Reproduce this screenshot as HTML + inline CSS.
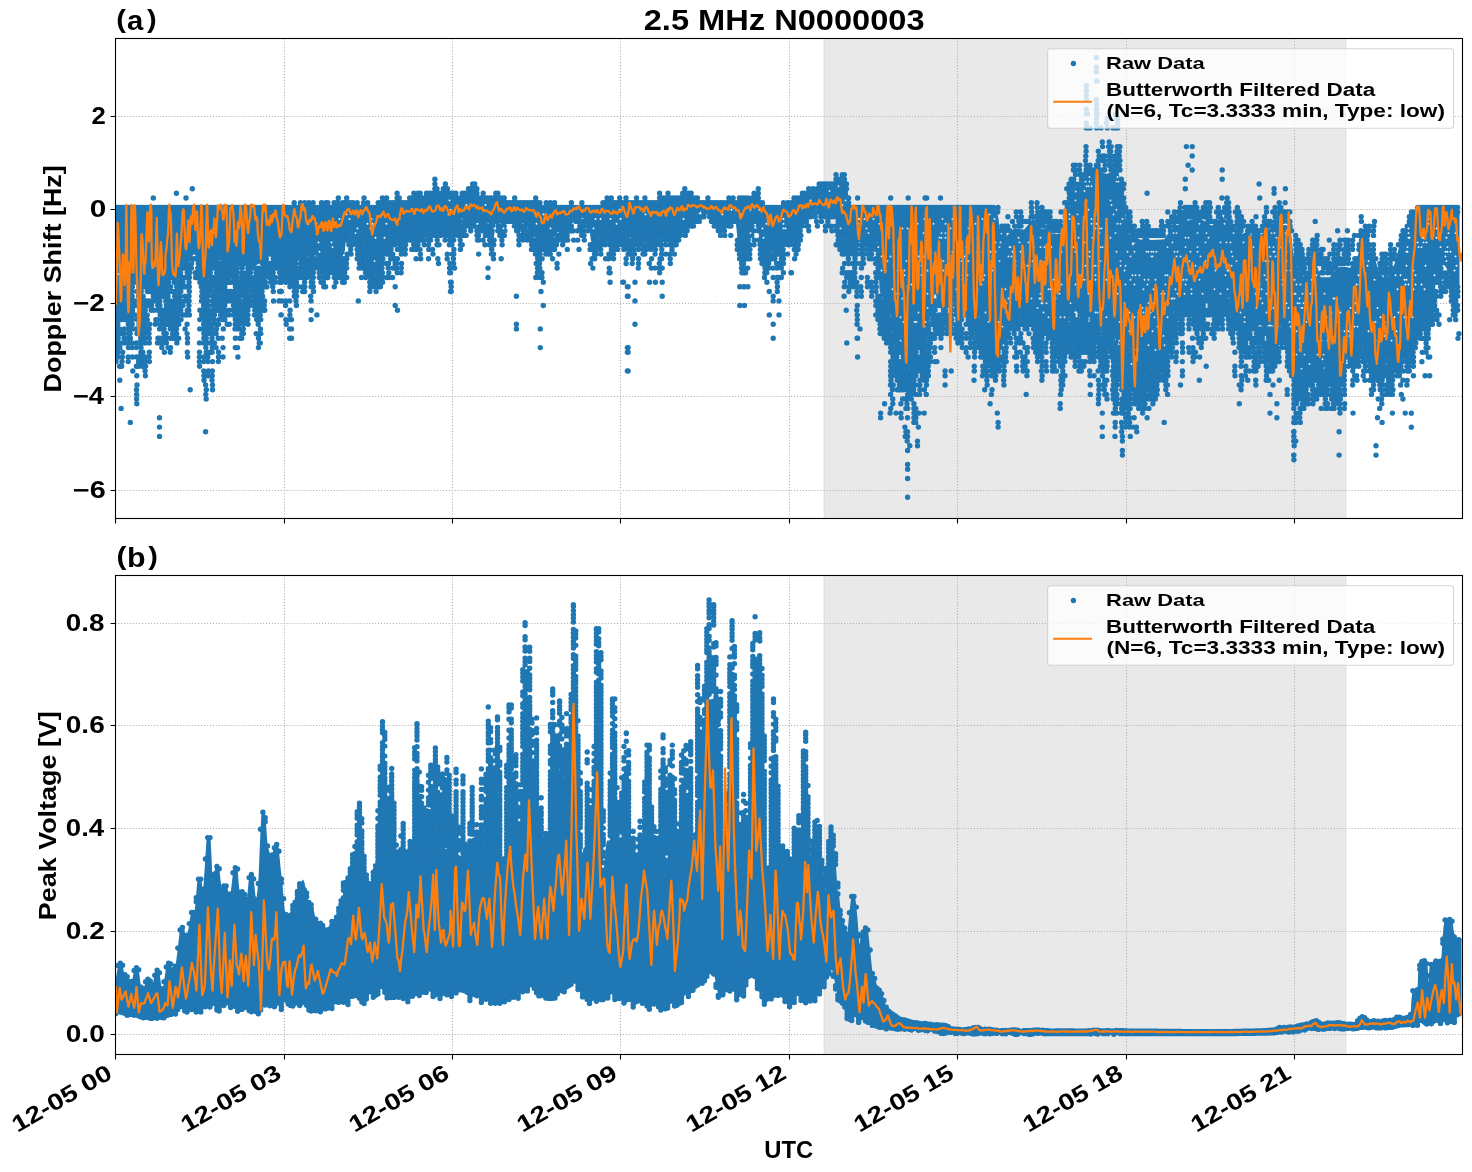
<!DOCTYPE html>
<html><head><meta charset="utf-8"><title>2.5 MHz N0000003</title><style>html,body{margin:0;padding:0;background:#fff}svg{display:block}text{font-family:"Liberation Sans",sans-serif;font-weight:bold;fill:#000}</style></head><body><div style="will-change:transform;width:1472px;height:1172px;overflow:hidden"><svg width="1472" height="1172" viewBox="0 0 1472 1172">
<defs><clipPath id="ct"><rect x="115.5" y="38.5" width="1347.0" height="480.0"/></clipPath><clipPath id="cb"><rect x="115.5" y="575.5" width="1347.0" height="479.0"/></clipPath></defs>
<rect width="1472" height="1172" fill="#fff"/>
<g clip-path="url(#ct)"><rect x="824.2" y="33.5" width="521.5" height="490.0" fill="#d3d3d3" fill-opacity="0.5" stroke="#d3d3d3" stroke-opacity="0.5" stroke-width="1.39"/></g>
<path d="M284.5 38.5V518.5M452.5 38.5V518.5M620.5 38.5V518.5M789.5 38.5V518.5M957.5 38.5V518.5M1126.5 38.5V518.5M1294.5 38.5V518.5M115.5 116.5H1462.5M115.5 209.5H1462.5M115.5 303.5H1462.5M115.5 396.5H1462.5M115.5 490.5H1462.5" stroke="#b0b0b0" stroke-width="1.1" stroke-dasharray="1.1 1.85" fill="none"/>
<g clip-path="url(#ct)">
<path d="M115.5 209.2L116.5 209.2L117.5 209.2L118.5 209.2L119.5 209.2L120.5 209.2L121.5 209.2L122.5 209.2L123.5 209.2L124.5 209.2L125.5 209.2L126.5 209.2L127.5 209.2L128.5 209.2L129.5 209.2L130.5 209.2L131.5 209.2L132.5 209.2L133.5 209.2L134.5 209.2L135.5 209.2L136.5 209.2L137.5 209.2L138.5 209.2L139.5 209.2L140.5 209.2L141.5 209.2L142.5 209.2L143.5 209.2L144.5 209.2L145.5 209.2L146.5 209.2L147.5 209.2L148.5 209.2L149.5 209.2L150.5 209.2L151.5 209.2L152.5 209.2L153.5 209.2L154.5 209.2L155.5 209.2L156.5 209.2L157.5 209.2L158.5 209.2L159.5 209.2L160.5 209.2L161.5 209.2L162.5 209.2L163.5 209.2L164.5 209.2L165.5 209.2L166.5 209.2L167.5 209.2L168.5 209.2L169.5 209.2L170.5 209.2L171.5 209.2L172.5 209.2L173.5 209.2L174.5 209.2L175.5 209.2L176.5 209.2L177.5 209.2L178.5 209.2L179.5 209.2L180.5 209.2L181.5 209.2L182.5 209.2L183.5 209.2L184.5 209.2L185.5 209.2L186.5 209.2L187.5 209.2L188.5 209.2L189.5 209.2L190.5 209.2L191.5 209.2L192.5 209.2L193.5 209.2L194.5 209.2L195.5 209.2L196.5 209.2L197.5 209.2L198.5 209.2L199.5 209.2L200.5 209.2L201.5 209.2L202.5 209.2L203.5 209.2L204.5 209.2L205.5 209.2L206.5 209.2L207.5 209.2L208.5 209.2L209.5 209.2L210.5 209.2L211.5 209.2L212.5 209.2L213.5 209.2L214.5 209.2L215.5 209.2L216.5 209.2L217.5 209.2L218.5 209.2L219.5 209.2L220.5 209.2L221.5 209.2L222.5 209.2L223.5 209.2L224.5 209.2L225.5 209.2L226.5 209.2L227.5 209.2L228.5 209.2L229.5 209.2L230.5 209.2L231.5 209.2L232.5 209.2L233.5 209.2L234.5 209.2L235.5 209.2L236.5 209.2L237.5 209.2L238.5 209.2L239.5 209.2L240.5 209.2L241.5 209.2L242.5 209.2L243.5 209.2L244.5 209.2L245.5 209.2L246.5 209.2L247.5 209.2L248.5 209.2L249.5 209.2L250.5 209.2L251.5 209.2L252.5 209.2L253.5 209.2L254.5 209.2L255.5 209.2L256.5 209.2L257.5 209.2L258.5 209.2L259.5 209.2L260.5 209.2L261.5 209.2L262.5 209.2L263.5 209.2L264.5 209.2L265.5 209.2L266.5 209.2L267.5 209.2L268.5 209.2L269.5 209.2L270.5 209.2L271.5 209.2L272.5 209.2L273.5 209.2L274.5 209.2L275.5 209.2L276.5 209.2L277.5 209.2L278.5 209.2L279.5 209.2L280.5 209.2L281.5 209.2L282.5 209.2L283.5 209.2L284.5 209.2L285.5 209.2L286.5 209.2L287.5 209.2L288.5 209.2L289.5 209.2L290.5 209.2L291.5 209.2L292.5 209.1L293.5 209.1L294.5 209.1L295.5 209.1L296.5 209.1L297.5 209.1L298.5 209L299.5 209L300.5 209L301.5 209L302.5 209L303.5 208.9L304.5 208.9L305.5 208.9L306.5 208.9L307.5 208.9L308.5 208.8L309.5 208.8L310.5 208.8L311.5 208.8L312.5 208.8L313.5 208.7L314.5 208.7L315.5 208.7L316.5 208.7L317.5 208.7L318.5 208.6L319.5 208.6L320.5 208.6L321.5 208.6L322.5 208.6L323.5 208.6L324.5 208.5L325.5 208.5L326.5 208.5L327.5 208.5L328.5 208.5L329.5 208.4L330.5 208.4L331.5 208.4L332.5 208.4L333.5 208.4L334.5 208.3L335.5 208.3L336.5 208.3L337.5 208.3L338.5 208L339.5 207.7L340.5 207.4L341.5 207L342.5 206.7L343.5 206.4L344.5 206.1L345.5 205.8L346.5 205.4L347.5 205.1L348.5 204.8L349.5 204.7L350.5 205.1L351.5 205.5L352.5 205.9L353.5 206.3L354.5 206.7L355.5 207.1L356.5 207.5L357.5 207.9L358.5 208.3L359.5 208.3L360.5 208.4L361.5 208.4L362.5 208.4L363.5 208.5L364.5 208.5L365.5 208.5L366.5 208.6L367.5 208.6L368.5 208.6L369.5 208.7L370.5 208.7L371.5 208.7L372.5 208.6L373.5 208.2L374.5 207.8L375.5 207.4L376.5 206.9L377.5 206.5L378.5 206.1L379.5 205.7L380.5 205.3L381.5 204.9L382.5 204.4L383.5 204L384.5 203.6L385.5 203.2L386.5 203.1L387.5 203.5L388.5 203.8L389.5 204.1L390.5 204.4L391.5 204.8L392.5 205.1L393.5 205.4L394.5 205.7L395.5 205.9L396.5 205.8L397.5 205.6L398.5 205.5L399.5 205.3L400.5 205.2L401.5 205L402.5 204.9L403.5 204.7L404.5 204.6L405.5 204L406.5 203.5L407.5 202.9L408.5 202.4L409.5 201.9L410.5 201.3L411.5 200.8L412.5 200.2L413.5 199.7L414.5 199.2L415.5 198.6L416.5 198.7L417.5 199.3L418.5 199.9L419.5 200.5L420.5 201.1L421.5 201.7L422.5 201.1L423.5 200.2L424.5 199.4L425.5 198.5L426.5 197.6L427.5 196.7L428.5 196.3L429.5 195.9L430.5 195.5L431.5 195.1L432.5 194.5L433.5 193.5L434.5 192.5L435.5 191.5L436.5 192.2L437.5 192.9L438.5 193.7L439.5 194.4L440.5 194.6L441.5 193.6L442.5 192.6L443.5 191.6L444.5 190.6L445.5 191.1L446.5 192.1L447.5 193.1L448.5 194.1L449.5 195.1L450.5 196.1L451.5 196.4L452.5 196.6L453.5 196.9L454.5 197.2L455.5 197.5L456.5 197.8L457.5 198.1L458.5 198.4L459.5 197.8L460.5 197.3L461.5 196.7L462.5 196.1L463.5 195.5L464.5 194.9L465.5 194.4L466.5 193.8L467.5 193.2L468.5 192.7L469.5 192.1L470.5 191.5L471.5 190.9L472.5 191.5L473.5 192.7L474.5 193.9L475.5 195.1L476.5 196.3L477.5 197.5L478.5 197.7L479.5 197.8L480.5 197.9L481.5 198L482.5 198.1L483.5 198.2L484.5 198.3L485.5 198.4L486.5 198.5L487.5 198.6L488.5 198.6L489.5 198.6L490.5 198.6L491.5 198.6L492.5 198.6L493.5 198.6L494.5 198.6L495.5 198.6L496.5 198.6L497.5 198.7L498.5 199.4L499.5 200L500.5 200.7L501.5 201.3L502.5 202L503.5 202.6L504.5 203.2L505.5 203.9L506.5 204.5L507.5 205.2L508.5 205.3L509.5 205.3L510.5 205.3L511.5 205.3L512.5 205.3L513.5 205.4L514.5 205.4L515.5 205.4L516.5 205.4L517.5 205.4L518.5 205.5L519.5 205.4L520.5 205.4L521.5 205.3L522.5 205.3L523.5 205.2L524.5 205.2L525.5 205.1L526.5 205L527.5 205L528.5 204.9L529.5 204.9L530.5 204.8L531.5 204.8L532.5 204.7L533.5 204.6L534.5 204.6L535.5 204.6L536.5 205L537.5 205.4L538.5 205.7L539.5 206.1L540.5 206.4L541.5 206.8L542.5 207.2L543.5 207.5L544.5 207.9L545.5 208.2L546.5 208.6L547.5 208.6L548.5 208.6L549.5 208.5L550.5 208.4L551.5 208.3L552.5 208.2L553.5 208.2L554.5 208.1L555.5 208L556.5 207.9L557.5 207.8L558.5 207.8L559.5 207.7L560.5 207.6L561.5 207.5L562.5 207.4L563.5 207.4L564.5 207.3L565.5 207.2L566.5 207.1L567.5 207L568.5 207L569.5 206.9L570.5 206.9L571.5 206.9L572.5 207L573.5 207L574.5 207.1L575.5 207.1L576.5 207.2L577.5 207.2L578.5 207.3L579.5 207.3L580.5 207.4L581.5 207.4L582.5 207.5L583.5 207.5L584.5 207.6L585.5 207.6L586.5 207.7L587.5 207.7L588.5 207.8L589.5 207.8L590.5 207.8L591.5 207.8L592.5 207.8L593.5 207.8L594.5 207.8L595.5 207.8L596.5 207.8L597.5 207.8L598.5 207.8L599.5 207.8L600.5 207.5L601.5 207.1L602.5 206.7L603.5 206.4L604.5 206L605.5 205.6L606.5 205.2L607.5 204.8L608.5 204.5L609.5 204.1L610.5 203.7L611.5 203.4L612.5 203.3L613.5 203.2L614.5 203L615.5 202.9L616.5 202.8L617.5 202.7L618.5 202.6L619.5 202.5L620.5 202.4L621.5 202.3L622.5 202.4L623.5 202.5L624.5 202.6L625.5 202.8L626.5 202.9L627.5 203L628.5 203.2L629.5 203.7L630.5 203.8L631.5 203.9L632.5 204L633.5 204.1L634.5 204.2L635.5 204.3L636.5 204.4L637.5 204.5L638.5 204.6L639.5 204.7L640.5 204.8L641.5 204.9L642.5 205L643.5 205.1L644.5 205.2L645.5 205.3L646.5 205.4L647.5 205.5L648.5 205.1L649.5 204.7L650.5 204.3L651.5 203.9L652.5 203.5L653.5 203.1L654.5 202.7L655.5 202.3L656.5 202.2L657.5 202.1L658.5 202L659.5 201.9L660.5 201.8L661.5 201.7L662.5 201.6L663.5 201.5L664.5 201.4L665.5 199.3L666.5 195.7L667.5 194L668.5 197.8L669.5 201.6L670.5 201.8L671.5 201.8L672.5 201.8L673.5 201.8L674.5 201.3L675.5 199.9L676.5 198.6L677.5 200L678.5 201.4L679.5 201.8L680.5 201.8L681.5 201.8L682.5 201.6L683.5 200.8L684.5 200L685.5 199.2L686.5 198.4L687.5 197.6L688.5 196.8L689.5 196L690.5 195.5L691.5 196.2L692.5 196.9L693.5 197.7L694.5 198.4L695.5 199.1L696.5 200.1L697.5 201.3L698.5 202.6L699.5 203.8L700.5 205.1L701.5 205.2L702.5 205.1L703.5 205.1L704.5 205L705.5 205L706.5 204.9L707.5 204.9L708.5 204.8L709.5 204.8L710.5 204.7L711.5 204.7L712.5 204.6L713.5 204.6L714.5 204.5L715.5 204.5L716.5 204.4L717.5 204.4L718.5 204.3L719.5 204.3L720.5 204.3L721.5 204.3L722.5 204.3L723.5 204.3L724.5 204.3L725.5 204.3L726.5 204.3L727.5 204.3L728.5 204.3L729.5 204.1L730.5 203.8L731.5 203.6L732.5 203.4L733.5 203.2L734.5 203L735.5 202.7L736.5 202.5L737.5 202.3L738.5 202.1L739.5 201.9L740.5 201.3L741.5 200.6L742.5 199.9L743.5 199.2L744.5 198.6L745.5 199.6L746.5 200.5L747.5 201.5L748.5 202.4L749.5 202.7L750.5 202.1L751.5 201.6L752.5 201.1L753.5 200.5L754.5 200L755.5 199.4L756.5 198.9L757.5 199.1L758.5 200.5L759.5 201.8L760.5 203.2L761.5 204.5L762.5 205.9L763.5 206.5L764.5 206.7L765.5 206.9L766.5 207.1L767.5 207.3L768.5 207.4L769.5 207.6L770.5 207.8L771.5 208L772.5 208.2L773.5 208.4L774.5 208.6L775.5 208.8L776.5 208.9L777.5 209.1L778.5 209.3L779.5 209.5L780.5 209.7L781.5 209.7L782.5 209L783.5 208.3L784.5 207.6L785.5 206.9L786.5 206.2L787.5 205.5L788.5 204.8L789.5 204.1L790.5 203.4L791.5 202.8L792.5 202.1L793.5 201.5L794.5 200.9L795.5 200.3L796.5 199.6L797.5 199L798.5 198.4L799.5 198.1L800.5 197.9L801.5 197.7L802.5 197.4L803.5 197.2L804.5 196.9L805.5 196.7L806.5 196.4L807.5 196.2L808.5 195.9L809.5 195.7L810.5 195.4L811.5 195.2L812.5 194.9L813.5 194.7L814.5 194.4L815.5 193.5L816.5 192.5L817.5 191.5L818.5 190.5L819.5 189.5L820.5 188.5L821.5 187.5L822.5 186.5L823.5 185.5L824.5 185.2L825.5 185.1L826.5 185.1L827.5 185L828.5 185L829.5 185L830.5 184.9L831.5 184.9L832.5 184.3L833.5 183.8L834.5 183.3L835.5 182.8L836.5 182.3L837.5 181.7L838.5 181.2L839.5 181L840.5 181.4L841.5 181.8L842.5 182.2L843.5 182.6L844.5 183L845.5 183.4L846.5 183.8L847.5 189.6L848.5 197.9L849.5 203.6L850.5 207.1L851.5 210.4L852.5 210.4L853.5 210.4L854.5 210.4L855.5 210.4L856.5 210.4L857.5 210.4L858.5 210.4L859.5 210.4L860.5 210.4L861.5 210.4L862.5 210.5L863.5 210.5L864.5 210.5L865.5 210.5L866.5 210.5L867.5 210.5L868.5 210.5L869.5 210.5L870.5 210.5L871.5 210.5L872.5 210.5L873.5 210.5L874.5 210.5L875.5 210.6L876.5 210.6L877.5 210.6L878.5 210.6L879.5 210.6L880.5 210.6L881.5 210.6L882.5 210.6L883.5 210.6L884.5 210.6L885.5 210.6L886.5 210.6L887.5 210.6L888.5 210.7L889.5 210.7L890.5 210.7L891.5 210.7L892.5 210.7L893.5 210.7L894.5 210.7L895.5 210.7L896.5 210.7L897.5 210.7L898.5 210.7L899.5 210.7L900.5 210.7L901.5 210.8L902.5 210.8L903.5 210.8L904.5 210.8L905.5 210.8L906.5 210.8L907.5 210.8L908.5 210.8L909.5 210.8L910.5 210.8L911.5 210.8L912.5 210.8L913.5 210.9L914.5 210.9L915.5 210.9L916.5 210.9L917.5 210.9L918.5 210.9L919.5 210.9L920.5 210.9L921.5 210.9L922.5 210.9L923.5 210.9L924.5 210.9L925.5 210.9L926.5 211L927.5 211L928.5 211L929.5 211L930.5 211L931.5 211L932.5 211L933.5 211L934.5 211L935.5 211L936.5 211L937.5 211L938.5 211L939.5 211.1L940.5 211.1L941.5 211.1L942.5 211.1L943.5 211.1L944.5 211.1L945.5 211.1L946.5 211.1L947.5 211.1L948.5 211.1L949.5 211.1L950.5 211.1L951.5 211.1L952.5 211.2L953.5 211.2L954.5 211.2L955.5 211.2L956.5 211.2L957.5 211.2L958.5 211.2L959.5 211.2L960.5 211.2L961.5 211.2L962.5 211.2L963.5 211.2L964.5 211.2L965.5 211.3L966.5 211.3L967.5 211.3L968.5 211.3L969.5 211.3L970.5 211L971.5 210.4L972.5 210.1L973.5 210.1L974.5 210.1L975.5 210.1L976.5 210.1L977.5 210.1L978.5 210.1L979.5 210.1L980.5 210.1L981.5 210.1L982.5 210.1L983.5 210.1L984.5 210.1L985.5 210.1L986.5 210.1L987.5 210.1L988.5 210.1L989.5 210.1L990.5 210.1L991.5 210.1L992.5 210.1L993.5 210.1L994.5 210.1L995.5 210.9L996.5 212.5L997.5 214.1L998.5 218.8L999.5 228L1000.5 233.9L1001.5 234.8L1002.5 235.7L1003.5 236.7L1004.5 237.6L1005.5 237.5L1006.5 236.4L1007.5 235.3L1008.5 234.3L1009.5 233.2L1010.5 232.1L1011.5 231L1012.5 230L1013.5 228.9L1014.5 228.3L1015.5 228.4L1016.5 228.6L1017.5 228.7L1018.5 228.9L1019.5 229L1020.5 229.2L1021.5 229.3L1022.5 229.4L1023.5 229.6L1024.5 229.3L1025.5 228L1026.5 226.8L1027.5 225.5L1028.5 224.3L1029.5 223L1030.5 221.8L1031.5 220.5L1032.5 219.3L1033.5 218.4L1034.5 219.8L1035.5 221.3L1036.5 222.7L1037.5 224.1L1038.5 225.6L1039.5 227L1040.5 228.2L1041.5 228.6L1042.5 229.1L1043.5 229.6L1044.5 230.1L1045.5 230.5L1046.5 231L1047.5 231.5L1048.5 232L1049.5 232.5L1050.5 232.9L1051.5 233.4L1052.5 233.8L1053.5 233.8L1054.5 233.9L1055.5 233.9L1056.5 234L1057.5 234L1058.5 234.1L1059.5 234.1L1060.5 233.5L1061.5 230.3L1062.5 227.1L1063.5 224L1064.5 220.8L1065.5 217.6L1066.5 214.5L1067.5 211.5L1068.5 208.4L1069.5 205.4L1070.5 202.4L1071.5 199.3L1072.5 196.5L1073.5 195.3L1074.5 194.1L1075.5 192.9L1076.5 191.7L1077.5 190.5L1078.5 189.3L1079.5 188.1L1080.5 186.6L1081.5 184.1L1082.5 181.6L1083.5 179L1084.5 176.5L1085.5 174L1086.5 171.9L1087.5 171.9L1088.5 171.9L1089.5 171.9L1090.5 171.9L1091.5 171.9L1092.5 171.9L1093.5 171.9L1094.5 171.9L1095.5 171.9L1096.5 171.9L1097.5 171.9L1098.5 171.9L1099.5 171.9L1100.5 172L1101.5 172.3L1102.5 172.6L1103.5 173L1104.5 173.3L1105.5 173.6L1106.5 173.9L1107.5 173.5L1108.5 173.2L1109.5 172.9L1110.5 172.5L1111.5 172.2L1112.5 171.9L1113.5 171.5L1114.5 171.2L1115.5 170.9L1116.5 170.5L1117.5 170.2L1118.5 170.8L1119.5 178.1L1120.5 185.5L1121.5 192.8L1122.5 199.5L1123.5 205.4L1124.5 211.4L1125.5 217.3L1126.5 223.1L1127.5 226.9L1128.5 230.7L1129.5 234.5L1130.5 238.3L1131.5 242.1L1132.5 246L1133.5 244.8L1134.5 243.7L1135.5 242.5L1136.5 241.3L1137.5 240.1L1138.5 239L1139.5 239.3L1140.5 239.5L1141.5 239.7L1142.5 240L1143.5 240.2L1144.5 240.2L1145.5 240.2L1146.5 240.2L1147.5 240.1L1148.5 240.1L1149.5 240L1150.5 240L1151.5 240L1152.5 239.9L1153.5 239.9L1154.5 239.9L1155.5 239.8L1156.5 239.8L1157.5 239.7L1158.5 239.7L1159.5 239.7L1160.5 239.6L1161.5 239.6L1162.5 239.6L1163.5 239.5L1164.5 239L1165.5 237.5L1166.5 236L1167.5 234.5L1168.5 233L1169.5 231.5L1170.5 230.1L1171.5 229L1172.5 228.3L1173.5 227.7L1174.5 227L1175.5 226.4L1176.5 225.7L1177.5 225.1L1178.5 224.4L1179.5 223.8L1180.5 223.1L1181.5 222.6L1182.5 222.2L1183.5 221.9L1184.5 221.6L1185.5 221.3L1186.5 221L1187.5 220.7L1188.5 220.4L1189.5 220.1L1190.5 219.8L1191.5 219.5L1192.5 219.2L1193.5 218.9L1194.5 218.6L1195.5 218.2L1196.5 217.9L1197.5 217.6L1198.5 217.5L1199.5 218.1L1200.5 218.7L1201.5 219.3L1202.5 220L1203.5 220.6L1204.5 221.2L1205.5 221.8L1206.5 222.4L1207.5 223L1208.5 223.6L1209.5 224.2L1210.5 224.9L1211.5 225.5L1212.5 225.3L1213.5 224.3L1214.5 223.4L1215.5 222.5L1216.5 221.6L1217.5 220.7L1218.5 219.7L1219.5 218.8L1220.5 217.9L1221.5 217L1222.5 216.6L1223.5 217.5L1224.5 218.5L1225.5 219.4L1226.5 220.4L1227.5 221.3L1228.5 222.3L1229.5 223.2L1230.5 224.2L1231.5 225.1L1232.5 226L1233.5 226.8L1234.5 227.6L1235.5 228.3L1236.5 229.1L1237.5 229.9L1238.5 230.6L1239.5 231.4L1240.5 232.1L1241.5 232.9L1242.5 233.7L1243.5 234.4L1244.5 235.2L1245.5 236L1246.5 236.4L1247.5 236.5L1248.5 236.5L1249.5 236.5L1250.5 236.5L1251.5 236.5L1252.5 236.5L1253.5 236.5L1254.5 236.5L1255.5 236.6L1256.5 236.6L1257.5 236.6L1258.5 236.3L1259.5 235.7L1260.5 235L1261.5 234.3L1262.5 233.7L1263.5 233L1264.5 232.4L1265.5 231.7L1266.5 231.1L1267.5 230.4L1268.5 229.8L1269.5 229.1L1270.5 228.5L1271.5 227.8L1272.5 227.2L1273.5 226.5L1274.5 226.4L1275.5 226.3L1276.5 226.1L1277.5 226L1278.5 225.9L1279.5 225.7L1280.5 225.6L1281.5 225.5L1282.5 225.4L1283.5 225.2L1284.5 225.1L1285.5 225L1286.5 225.5L1287.5 226L1288.5 226.5L1289.5 226.9L1290.5 227.8L1291.5 237.3L1292.5 246.9L1293.5 256.5L1294.5 261.6L1295.5 263.4L1296.5 265.2L1297.5 267L1298.5 268.8L1299.5 270.7L1300.5 272.3L1301.5 273.5L1302.5 274.7L1303.5 275.9L1304.5 277L1305.5 278.2L1306.5 279.4L1307.5 280.6L1308.5 277.8L1309.5 274.6L1310.5 271.4L1311.5 268.3L1312.5 265.1L1313.5 261.9L1314.5 258.7L1315.5 261.3L1316.5 264.4L1317.5 267.5L1318.5 270.6L1319.5 273.7L1320.5 276.7L1321.5 277.4L1322.5 277.3L1323.5 277.3L1324.5 277.3L1325.5 277.3L1326.5 277.3L1327.5 277.2L1328.5 277.2L1329.5 277.2L1330.5 276.4L1331.5 275.1L1332.5 273.8L1333.5 272.5L1334.5 271.2L1335.5 269.9L1336.5 268.6L1337.5 267.3L1338.5 267.2L1339.5 267.2L1340.5 267.1L1341.5 267.1L1342.5 267.1L1343.5 267.1L1344.5 267L1345.5 267L1346.5 267L1347.5 267.2L1348.5 267.5L1349.5 267.8L1350.5 268.1L1351.5 268.4L1352.5 268.7L1353.5 269L1354.5 269.3L1355.5 265L1356.5 260.8L1357.5 256.6L1358.5 252.4L1359.5 248.2L1360.5 243.9L1361.5 243L1362.5 242.7L1363.5 242.3L1364.5 242L1365.5 242.5L1366.5 245.4L1367.5 248.4L1368.5 251.4L1369.5 254.4L1370.5 255.6L1371.5 255.9L1372.5 256.3L1373.5 256.6L1374.5 257L1375.5 260.5L1376.5 264L1377.5 267.5L1378.5 271.1L1379.5 273.5L1380.5 274.5L1381.5 275.4L1382.5 276.4L1383.5 277.4L1384.5 278.4L1385.5 278.8L1386.5 277.9L1387.5 276.9L1388.5 276L1389.5 275.1L1390.5 274.2L1391.5 273.3L1392.5 271L1393.5 267.4L1394.5 263.8L1395.5 260.1L1396.5 256.5L1397.5 252.9L1398.5 249.2L1399.5 245.6L1400.5 242L1401.5 237.7L1402.5 234.8L1403.5 233.3L1404.5 231.8L1405.5 230.3L1406.5 228.8L1407.5 226.1L1408.5 223.1L1409.5 220.1L1410.5 217.1L1411.5 214.5L1412.5 213.8L1413.5 213.1L1414.5 212.3L1415.5 211.6L1416.5 211.3L1417.5 211.3L1418.5 211.3L1419.5 211.3L1420.5 211.3L1421.5 211.3L1422.5 211.3L1423.5 211.3L1424.5 211.3L1425.5 211.3L1426.5 211.3L1427.5 211.3L1428.5 211.3L1429.5 211.3L1430.5 211.3L1431.5 211.3L1432.5 211.3L1433.5 211.3L1434.5 211.3L1435.5 211.3L1436.5 211.3L1437.5 211.3L1438.5 211.3L1439.5 211.3L1440.5 211.3L1441.5 211.3L1442.5 211.3L1443.5 211.3L1444.5 211.3L1445.5 211.3L1446.5 211.3L1447.5 211.3L1448.5 211.3L1449.5 211.3L1450.5 211.3L1451.5 211.3L1452.5 211.3L1453.5 211.3L1454.5 211.3L1455.5 211.3L1456.5 211.3L1457.5 211.3L1458.5 211.3L1459.5 211.3L1459.5 286L1458.5 285.9L1457.5 286.3L1456.5 287.1L1455.5 287.9L1454.5 288.2L1453.5 287.9L1452.5 286.2L1451.5 281.6L1450.5 277.3L1449.5 273.8L1448.5 272.8L1447.5 270.8L1446.5 268.4L1445.5 266.4L1444.5 265.4L1443.5 265.2L1442.5 265.5L1441.5 266L1440.5 266.7L1439.5 267.4L1438.5 268.3L1437.5 269.4L1436.5 277.4L1435.5 285.5L1434.5 293L1433.5 294.1L1432.5 294L1431.5 294.1L1430.5 295L1429.5 296.6L1428.5 298.6L1427.5 300.5L1426.5 301.7L1425.5 301.7L1424.5 300.6L1423.5 299.6L1422.5 299.5L1421.5 300.2L1420.5 301.2L1419.5 304.5L1418.5 307.3L1417.5 310.2L1416.5 313.1L1415.5 317L1414.5 322.1L1413.5 327L1412.5 330.6L1411.5 331.2L1410.5 332.9L1409.5 334.7L1408.5 336L1407.5 337.2L1406.5 338.4L1405.5 339.2L1404.5 339.6L1403.5 339.6L1402.5 339.5L1401.5 340.1L1400.5 341.5L1399.5 343L1398.5 344.4L1397.5 345.6L1396.5 346.7L1395.5 349L1394.5 352.8L1393.5 357L1392.5 361.2L1391.5 364.5L1390.5 364.9L1389.5 364.2L1388.5 362.8L1387.5 361.1L1386.5 359.8L1385.5 359.5L1384.5 360.4L1383.5 362.3L1382.5 364.5L1381.5 366L1380.5 366.5L1379.5 366L1378.5 364.4L1377.5 362.4L1376.5 360.8L1375.5 360L1374.5 360L1373.5 360.9L1372.5 361.3L1371.5 361.3L1370.5 354.7L1369.5 347.4L1368.5 340L1367.5 338.4L1366.5 337.6L1365.5 336.2L1364.5 335.1L1363.5 334.2L1362.5 333.5L1361.5 333L1360.5 332.9L1359.5 333.9L1358.5 335.2L1357.5 336.5L1356.5 337.6L1355.5 338.7L1354.5 339.9L1353.5 340.2L1352.5 340.5L1351.5 340.7L1350.5 340.6L1349.5 340.2L1348.5 339.3L1347.5 338L1346.5 339.5L1345.5 347.7L1344.5 357.1L1343.5 365.4L1342.5 367.3L1341.5 368.7L1340.5 369.1L1339.5 368.7L1338.5 367.8L1337.5 366.7L1336.5 366.2L1335.5 365.9L1334.5 365.7L1333.5 365.6L1332.5 365.8L1331.5 366.8L1330.5 368.6L1329.5 370.5L1328.5 371.6L1327.5 371.7L1326.5 370.8L1325.5 369.2L1324.5 367.3L1323.5 365.8L1322.5 365.1L1321.5 365L1320.5 365.1L1319.5 365.1L1318.5 364.8L1317.5 364.2L1316.5 363.2L1315.5 362L1314.5 361.3L1313.5 362.5L1312.5 364.9L1311.5 368L1310.5 370.8L1309.5 372.6L1308.5 373.3L1307.5 373.7L1306.5 373.5L1305.5 373.9L1304.5 374.7L1303.5 375.2L1302.5 374.8L1301.5 373.5L1300.5 372L1299.5 370.5L1298.5 369.8L1297.5 369.9L1296.5 370.3L1295.5 370.9L1294.5 371.6L1293.5 371.7L1292.5 362.4L1291.5 350.2L1290.5 337.6L1289.5 337.2L1288.5 336.3L1287.5 335.1L1286.5 333.8L1285.5 332.4L1284.5 330.8L1283.5 329L1282.5 327.5L1281.5 326.6L1280.5 326.3L1279.5 326.6L1278.5 327L1277.5 327.1L1276.5 327.1L1275.5 326.8L1274.5 326.4L1273.5 325.9L1272.5 325.5L1271.5 325L1270.5 324.7L1269.5 324.6L1268.5 325.1L1267.5 326L1266.5 326.7L1265.5 327L1264.5 326.9L1263.5 326.7L1262.5 326.4L1261.5 325.8L1260.5 325.2L1259.5 325L1258.5 325.7L1257.5 327L1256.5 328.3L1255.5 329L1254.5 329.2L1253.5 329.4L1252.5 329.6L1251.5 329.6L1250.5 329L1249.5 327.7L1248.5 326.3L1247.5 325.5L1246.5 325.5L1245.5 325.7L1244.5 326.2L1243.5 327L1242.5 327.8L1241.5 328.1L1240.5 327.6L1239.5 326L1238.5 322.9L1237.5 319.2L1236.5 315.5L1235.5 312.1L1234.5 309.1L1233.5 306.3L1232.5 303.2L1231.5 301.3L1230.5 299.3L1229.5 298L1228.5 297.9L1227.5 298.8L1226.5 299.8L1225.5 300.4L1224.5 300.3L1223.5 300L1222.5 299.8L1221.5 300.4L1220.5 301.4L1219.5 302.3L1218.5 302.7L1217.5 302.9L1216.5 303.1L1215.5 303.6L1214.5 304.3L1213.5 305.1L1212.5 305.7L1211.5 305.6L1210.5 304.7L1209.5 303.2L1208.5 301.7L1207.5 300.5L1206.5 300L1205.5 300.1L1204.5 300.5L1203.5 300.8L1202.5 300.8L1201.5 300.8L1200.5 301.2L1199.5 302.2L1198.5 303.7L1197.5 305.1L1196.5 305.9L1195.5 306.2L1194.5 306.3L1193.5 306.3L1192.5 306L1191.5 305.1L1190.5 303.8L1189.5 302.4L1188.5 301.4L1187.5 300.7L1186.5 300.3L1185.5 300L1184.5 299.9L1183.5 300.7L1182.5 302L1181.5 303.7L1180.5 305.5L1179.5 306.8L1178.5 307.3L1177.5 307.3L1176.5 307.1L1175.5 308L1174.5 310.1L1173.5 312.7L1172.5 315.6L1171.5 318.6L1170.5 322.1L1169.5 326L1168.5 333.4L1167.5 341.7L1166.5 349.8L1165.5 355.1L1164.5 355.7L1163.5 355L1162.5 353.3L1161.5 351.3L1160.5 349.6L1159.5 348.8L1158.5 349.3L1157.5 350.9L1156.5 353.1L1155.5 354.9L1154.5 356L1153.5 356.3L1152.5 356.2L1151.5 356.2L1150.5 356.4L1149.5 357.3L1148.5 358.7L1147.5 360.3L1146.5 360.9L1145.5 360.3L1144.5 359.2L1143.5 358.4L1142.5 358.7L1141.5 359.6L1140.5 360.6L1139.5 361.7L1138.5 362.9L1137.5 364.5L1136.5 365.9L1135.5 366.8L1134.5 367.3L1133.5 367.6L1132.5 368.4L1131.5 368.5L1130.5 368.8L1129.5 368.7L1128.5 367.9L1127.5 365.8L1126.5 363.5L1125.5 360.9L1124.5 358.8L1123.5 357L1122.5 355L1121.5 352.1L1120.5 348.5L1119.5 344.7L1118.5 341.7L1117.5 341.5L1116.5 342.5L1115.5 339.3L1114.5 335.1L1113.5 330.2L1112.5 324.8L1111.5 323.3L1110.5 322.6L1109.5 322.4L1108.5 323L1107.5 324.1L1106.5 325.3L1105.5 326.2L1104.5 326.7L1103.5 327.2L1102.5 328.1L1101.5 329.3L1100.5 330.2L1099.5 330.4L1098.5 329.6L1097.5 326.1L1096.5 322.1L1095.5 318.3L1094.5 315L1093.5 312L1092.5 309.2L1091.5 308.6L1090.5 308.4L1089.5 308.3L1088.5 308.4L1087.5 309L1086.5 309.7L1085.5 311L1084.5 312.2L1083.5 313.1L1082.5 314L1081.5 314.8L1080.5 315.4L1079.5 315.2L1078.5 314.2L1077.5 312.8L1076.5 311.6L1075.5 311.2L1074.5 311.7L1073.5 312.8L1072.5 314L1071.5 315.4L1070.5 316.4L1069.5 317.1L1068.5 317.8L1067.5 318.9L1066.5 320.6L1065.5 322.5L1064.5 324.3L1063.5 325.8L1062.5 326.9L1061.5 327.6L1060.5 327.9L1059.5 327.1L1058.5 326.5L1057.5 326.8L1056.5 327.8L1055.5 328.7L1054.5 329.1L1053.5 329.3L1052.5 329.7L1051.5 330.1L1050.5 330.4L1049.5 330L1048.5 329.1L1047.5 327.8L1046.5 326.1L1045.5 324.6L1044.5 323.3L1043.5 322.4L1042.5 321.8L1041.5 321.5L1040.5 321.4L1039.5 321.4L1038.5 321.5L1037.5 321.6L1036.5 321.8L1035.5 321.8L1034.5 321.7L1033.5 318.1L1032.5 313.3L1031.5 308.2L1030.5 303.3L1029.5 298.9L1028.5 294.8L1027.5 294.3L1026.5 295.7L1025.5 297.2L1024.5 298.7L1023.5 299.8L1022.5 300.7L1021.5 301.8L1020.5 303.2L1019.5 304.8L1018.5 306.2L1017.5 307.1L1016.5 307.4L1015.5 307.4L1014.5 307.7L1013.5 309L1012.5 311L1011.5 313.3L1010.5 315.3L1009.5 316.9L1008.5 318.6L1007.5 324.2L1006.5 332.3L1005.5 340L1004.5 347.3L1003.5 349.6L1002.5 349L1001.5 348.6L1000.5 348.6L999.5 347.6L998.5 346L997.5 345.1L996.5 344L995.5 341.6L994.5 338.8L993.5 336.5L992.5 335L991.5 334.2L990.5 333.8L989.5 333.4L988.5 332.9L987.5 332.3L986.5 331.7L985.5 331.3L984.5 331.3L983.5 329.7L982.5 326.8L981.5 323.8L980.5 320.7L979.5 317.4L978.5 314.1L977.5 311.9L976.5 310.7L975.5 309.6L974.5 308.5L973.5 307L972.5 305L971.5 302L970.5 298.7L969.5 297L968.5 297L967.5 296.7L966.5 295.8L965.5 294.6L964.5 293.6L963.5 293.5L962.5 294.3L961.5 295.5L960.5 296.7L959.5 297.7L958.5 298.7L957.5 299.6L956.5 300L955.5 299.9L954.5 299.4L953.5 299.3L952.5 299.6L951.5 299.9L950.5 299.7L949.5 298.8L948.5 297.6L947.5 296.7L946.5 296.6L945.5 297.1L944.5 297.9L943.5 298.7L942.5 299L941.5 298.7L940.5 297.9L939.5 297.1L938.5 296.6L937.5 296.1L936.5 295.3L935.5 294.6L934.5 294.2L933.5 298.6L932.5 304.3L931.5 310.1L930.5 315.9L929.5 321.5L928.5 326.9L927.5 332.4L926.5 338L925.5 344.1L924.5 347.3L923.5 348.4L922.5 348.5L921.5 347.7L920.5 346.4L919.5 345.3L918.5 344.4L917.5 343.7L916.5 342.9L915.5 342.1L914.5 341.5L913.5 341.3L912.5 341.9L911.5 342.9L910.5 343.7L909.5 343.8L908.5 343.4L907.5 342.9L906.5 342.7L905.5 343.2L904.5 344.2L903.5 345.4L902.5 346.4L901.5 346.9L900.5 346.6L899.5 344.1L898.5 341.3L897.5 338.3L896.5 335.1L895.5 331.7L894.5 328.5L893.5 325.6L892.5 322.3L891.5 318L890.5 313.9L889.5 310.4L888.5 307.7L887.5 307.5L886.5 307.5L885.5 306.4L884.5 303.9L883.5 300.8L882.5 297.7L881.5 295.4L880.5 294.1L879.5 289L878.5 263.3L877.5 238.3L876.5 239.3L875.5 240.2L874.5 241L873.5 241.7L872.5 241.8L871.5 241L870.5 239.8L869.5 238.9L868.5 238.8L867.5 239.4L866.5 240.3L865.5 241.2L864.5 242.1L863.5 242.9L862.5 243.2L861.5 243.1L860.5 242.5L859.5 241.9L858.5 241.7L857.5 241.9L856.5 242.5L855.5 243.1L854.5 243.3L853.5 243L852.5 242L851.5 241L850.5 239.2L849.5 238L848.5 236.6L847.5 234.9L846.5 234L845.5 234.6L844.5 235.3L843.5 236.2L842.5 237.2L841.5 237.9L840.5 236.7L839.5 230.3L838.5 223.1L837.5 216L836.5 210L835.5 207.7L834.5 207.9L833.5 208.2L832.5 208.2L831.5 207.7L830.5 206.8L829.5 205.9L828.5 205.3L827.5 204.8L826.5 204.4L825.5 204.2L824.5 204.7L823.5 206.5L822.5 209.4L821.5 212L820.5 213.2L819.5 212.9L818.5 211.5L817.5 210L816.5 209.2L815.5 209.3L814.5 209.8L813.5 210.3L812.5 210.8L811.5 211.7L810.5 212.8L809.5 214L808.5 214.8L807.5 215.1L806.5 215.3L805.5 216.1L804.5 217.8L803.5 219.8L802.5 221.3L801.5 225.9L800.5 230.7L799.5 235.3L798.5 239.6L797.5 239.4L796.5 239.5L795.5 239.9L794.5 240.5L793.5 241L792.5 241.2L791.5 240.8L790.5 239.5L789.5 237.6L788.5 235.7L787.5 234.7L786.5 234.5L785.5 234.8L784.5 236.2L783.5 240.7L782.5 245L781.5 249.1L780.5 249.5L779.5 249L778.5 248.9L777.5 249.2L776.5 249.5L775.5 249.5L774.5 249L773.5 247.9L772.5 246.6L771.5 245.1L770.5 243.9L769.5 243.4L768.5 243.7L767.5 244.5L766.5 245.4L765.5 246.3L764.5 247.4L763.5 248.6L762.5 249.8L761.5 250.6L760.5 250.9L759.5 243.7L758.5 230.9L757.5 220.8L756.5 219.1L755.5 218.1L754.5 217.6L753.5 217.4L752.5 217.5L751.5 230.1L750.5 242.7L749.5 246.3L748.5 245.5L747.5 244.8L746.5 244.7L745.5 244.9L744.5 245.1L743.5 245.4L742.5 245.3L741.5 245L740.5 244.2L739.5 242.9L738.5 241.3L737.5 239.9L736.5 229.2L735.5 219.2L734.5 217L733.5 218.1L732.5 218.8L731.5 219.1L730.5 219.3L729.5 219.9L728.5 220.7L727.5 221.5L726.5 221.8L725.5 224.3L724.5 229.2L723.5 233.2L722.5 232.7L721.5 231.7L720.5 230.4L719.5 229L718.5 228.1L717.5 227.8L716.5 227.7L715.5 227.3L714.5 226.1L713.5 223.8L712.5 220.7L711.5 217.4L710.5 214.8L709.5 213.3L708.5 212.5L707.5 211.8L706.5 212.4L705.5 212.1L704.5 211.2L703.5 210.3L702.5 210.1L701.5 210.7L700.5 211.8L699.5 212.8L698.5 213.9L697.5 214.4L696.5 214.4L695.5 214.4L694.5 214.9L693.5 216.1L692.5 217.7L691.5 219.3L690.5 220.4L689.5 221.1L688.5 222.3L687.5 223.9L686.5 225.8L685.5 227.9L684.5 229.9L683.5 229.9L682.5 229.4L681.5 229L680.5 229.2L679.5 230.6L678.5 232.6L677.5 234.2L676.5 234.7L675.5 234.8L674.5 233.9L673.5 232.4L672.5 230.6L671.5 229.1L670.5 228.3L669.5 228.3L668.5 228.2L667.5 228.6L666.5 230.7L665.5 233.3L664.5 235.3L663.5 236.4L662.5 236.7L661.5 236.3L660.5 235.8L659.5 235.6L658.5 235.8L657.5 235.9L656.5 235.9L655.5 236L654.5 236.3L653.5 236.5L652.5 236.4L651.5 236.1L650.5 235.8L649.5 235.8L648.5 236.1L647.5 236.4L646.5 236.4L645.5 236.2L644.5 235.8L643.5 235.4L642.5 235.1L641.5 235L640.5 235.1L639.5 235.5L638.5 235.9L637.5 236.2L636.5 236L635.5 235.3L634.5 234.6L633.5 234.1L632.5 234.1L631.5 234.5L630.5 235.1L629.5 235.8L628.5 235.5L627.5 235.4L626.5 235L625.5 234.4L624.5 233.9L623.5 233.9L622.5 234.2L621.5 234.5L620.5 234.4L619.5 233.8L618.5 232.9L617.5 232L616.5 231.4L615.5 231.3L614.5 231.8L613.5 232.9L612.5 234.2L611.5 235.1L610.5 235L609.5 233.9L608.5 232.4L607.5 231.1L606.5 230.4L605.5 229.8L604.5 229.2L603.5 228.5L602.5 228.3L601.5 228.9L600.5 230.2L599.5 231.1L598.5 231L597.5 230L596.5 234.4L595.5 239.6L594.5 244.1L593.5 243.9L592.5 243.4L591.5 242.7L590.5 238L589.5 229.7L588.5 221.5L587.5 219.6L586.5 219.9L585.5 220.1L584.5 219.6L583.5 218.7L582.5 218L581.5 218.4L580.5 219.8L579.5 221.4L578.5 222.4L577.5 222.8L576.5 222.6L575.5 222.1L574.5 221.4L573.5 222.2L572.5 223.1L571.5 224.5L570.5 226.6L569.5 228.8L568.5 229.7L567.5 230.2L566.5 230.3L565.5 230.1L564.5 229.8L563.5 229.4L562.5 229.3L561.5 229.7L560.5 230.5L559.5 231.2L558.5 231.5L557.5 232.2L556.5 233.3L555.5 234.7L554.5 236.5L553.5 238.6L552.5 240.7L551.5 242.7L550.5 242.9L549.5 242.7L548.5 242.5L547.5 242.6L546.5 242.8L545.5 242.7L544.5 242.3L543.5 241.9L542.5 241.6L541.5 241.6L540.5 241.8L539.5 241.7L538.5 241.1L537.5 240L536.5 238.8L535.5 237.7L534.5 237.2L533.5 237L532.5 236.2L531.5 234.4L530.5 232.3L529.5 230.4L528.5 228.9L527.5 227.8L526.5 226.7L525.5 225.6L524.5 224.4L523.5 223.4L522.5 222.9L521.5 227.1L520.5 231L519.5 234.4L518.5 233.1L517.5 229.2L516.5 225.8L515.5 223.2L514.5 221.4L513.5 222.9L512.5 223.6L511.5 223.5L510.5 222.8L509.5 222.3L508.5 222.5L507.5 222.9L506.5 222.8L505.5 222L504.5 226.9L503.5 233.2L502.5 224.6L501.5 218.6L500.5 218.6L499.5 219L498.5 219.4L497.5 219.4L496.5 218.9L495.5 223.7L494.5 232.7L493.5 239.7L492.5 240.2L491.5 240.6L490.5 240.4L489.5 231.6L488.5 223L487.5 222.3L486.5 222.4L485.5 223.2L484.5 224.3L483.5 225.5L482.5 226.5L481.5 227L480.5 226.8L479.5 228.2L478.5 232.2L477.5 229.6L476.5 223L475.5 221.8L474.5 221.2L473.5 221.3L472.5 221.9L471.5 222.9L470.5 223.4L469.5 222.7L468.5 221L467.5 219.4L466.5 218.5L465.5 218.5L464.5 218.4L463.5 218.1L462.5 218.3L461.5 218.7L460.5 220.1L459.5 222.6L458.5 225.7L457.5 227.8L456.5 229L455.5 229.1L454.5 228.5L453.5 227.6L452.5 227L451.5 226.8L450.5 226.7L449.5 226.4L448.5 225.9L447.5 225.2L446.5 224.6L445.5 224.7L444.5 225.5L443.5 226.8L442.5 227.4L441.5 227.4L440.5 227.3L439.5 227.7L438.5 228.9L437.5 230.4L436.5 231.4L435.5 231.7L434.5 231.7L433.5 231L432.5 229.8L431.5 228.3L430.5 227L429.5 226.4L428.5 226.5L427.5 227.4L426.5 228.9L425.5 230.5L424.5 231.5L423.5 231.6L422.5 231.2L421.5 230.8L420.5 230.6L419.5 231L418.5 231.6L417.5 232L416.5 231.9L415.5 231.2L414.5 230.3L413.5 229.3L412.5 228.7L411.5 228.6L410.5 229.1L409.5 230L408.5 231.7L407.5 233.7L406.5 235.4L405.5 236.8L404.5 238.4L403.5 239.2L402.5 240.3L401.5 241.2L400.5 241.6L399.5 241.6L398.5 241.6L397.5 242.2L396.5 243L395.5 243.4L394.5 243.2L393.5 242.8L392.5 242.6L391.5 243.1L390.5 244L389.5 245L388.5 245.4L387.5 245L386.5 243.9L385.5 242.7L384.5 242.4L383.5 244.5L382.5 252.9L381.5 261.2L380.5 268.8L379.5 270.3L378.5 269.3L377.5 268.3L376.5 267.5L375.5 267.1L374.5 266.9L373.5 266.9L372.5 267.4L371.5 268.5L370.5 270.1L369.5 271.5L368.5 270.1L367.5 260.2L366.5 249.6L365.5 239L364.5 241.5L363.5 248.8L362.5 253.1L361.5 253.4L360.5 253.6L359.5 254L358.5 254.7L357.5 249L356.5 241.8L355.5 238.3L354.5 238.2L353.5 237.9L352.5 237.6L351.5 237L350.5 236.4L349.5 235.9L348.5 235.3L347.5 234.2L346.5 235.7L345.5 244.1L344.5 253.5L343.5 254.3L342.5 256.3L341.5 258.7L340.5 260.7L339.5 261.9L338.5 262.3L337.5 262L336.5 261.3L335.5 260.5L334.5 260.1L333.5 260.4L332.5 261.1L331.5 262.1L330.5 262.9L329.5 263.3L328.5 263L327.5 261.9L326.5 260.4L325.5 258.9L324.5 257.8L323.5 257.2L322.5 257.3L321.5 257.9L320.5 258.5L319.5 258.5L318.5 257.8L317.5 256.8L316.5 255.9L315.5 255.5L314.5 255.7L313.5 256.3L312.5 257.1L311.5 257.5L310.5 257.2L309.5 256.4L308.5 255.8L307.5 255.9L306.5 256.5L305.5 257.1L304.5 257.3L303.5 257.4L302.5 257.9L301.5 259L300.5 260.6L299.5 259.2L298.5 259.4L297.5 258.5L296.5 257.2L295.5 256.3L294.5 255.7L293.5 256.3L292.5 257.9L291.5 259.2L290.5 260.1L289.5 260.5L288.5 259.9L287.5 259L286.5 258.1L285.5 257.4L284.5 257.4L283.5 258.1L282.5 258.9L281.5 259.2L280.5 258.8L279.5 258L278.5 257.3L277.5 256.8L276.5 256.5L275.5 256.5L274.5 256.6L273.5 256.7L272.5 256.6L271.5 256L270.5 255.2L269.5 254.7L268.5 254.7L267.5 255.1L266.5 255.6L265.5 256L264.5 256.1L263.5 258.6L262.5 262.5L261.5 263.2L260.5 265.2L259.5 263.3L258.5 264.1L257.5 264.6L256.5 265L255.5 265L254.5 264.8L253.5 264.4L252.5 263.8L251.5 263.2L250.5 263L249.5 263.2L248.5 263.5L247.5 263.8L246.5 264.3L245.5 265L244.5 265.9L243.5 266.6L242.5 266.5L241.5 265.7L240.5 264.5L239.5 263.5L238.5 263.2L237.5 263.6L236.5 264.2L235.5 264.6L234.5 264.8L233.5 265.2L232.5 266L231.5 266.8L230.5 267.3L229.5 267.1L228.5 266.5L227.5 265.8L226.5 265.2L225.5 264.6L224.5 263.8L223.5 263L222.5 262.1L221.5 261.3L220.5 260.7L219.5 260.4L218.5 260.7L217.5 261.7L216.5 263.1L215.5 264.5L214.5 265.4L213.5 265.5L212.5 265.1L211.5 264.4L210.5 264L209.5 266.3L208.5 279.6L207.5 287.7L206.5 288.4L205.5 288.9L204.5 289.1L203.5 289L202.5 273.1L201.5 264.6L200.5 260L199.5 260.3L198.5 260.2L197.5 259.2L196.5 257.4L195.5 255.6L194.5 254.5L193.5 254.6L192.5 255.8L191.5 257.5L190.5 259.3L189.5 260.7L188.5 261.6L187.5 262.1L186.5 262.4L185.5 262.5L184.5 263.3L183.5 264.6L182.5 265L181.5 264.8L180.5 264.6L179.5 266.4L178.5 268.6L177.5 269.2L176.5 269.8L175.5 270.3L174.5 270.5L173.5 270.5L172.5 270.5L171.5 270.7L170.5 270.8L169.5 270.4L168.5 269.3L167.5 267.9L166.5 266.9L165.5 266.7L164.5 267.3L163.5 268.4L162.5 269.3L161.5 269.6L160.5 269L159.5 267.9L158.5 264L157.5 263.1L156.5 263.4L155.5 264.5L154.5 265.7L153.5 266.6L152.5 267.1L151.5 267.1L150.5 266.7L149.5 266.2L148.5 266.4L147.5 266.8L146.5 267.3L145.5 273.5L144.5 281.8L143.5 281.6L142.5 281L141.5 280.4L140.5 279.9L139.5 279.5L138.5 279.1L137.5 278.7L136.5 278.6L135.5 278.8L134.5 279.1L133.5 279.4L132.5 279.5L131.5 279.4L130.5 278.9L129.5 277.9L128.5 274L127.5 270.2L126.5 266.7L125.5 267.4L124.5 270.3L123.5 272.2L122.5 272L121.5 272.2L120.5 272.8L119.5 273.4L118.5 273.5L117.5 272.8L116.5 271.6L115.5 270.5Z" fill="#1f77b4"/>
<path d="M115.7 207.4h0m0 4.6h0m0.2 65.5h0m-0.8 4.7h0m0.8 4.6h0m0.2 9.4h0m-0.4 9.3h0m0 4.7h0m0 9.4h0m0 9.3h0m0.3 4.7h0m0 4.7h0m-0.4 4.6h0m0 9.4h0m0.5 9.3h0m1.7-154.2h0m0 4.6h0m-0.3 65.5h0m0.9 4.7h0m-0.8 4.6h0m0.6 4.7h0m-0.5 4.7h0m0.2 4.7h0m0.1 4.6h0m-0.3 4.7h0m0 4.7h0m0.1 4.7h0m0 4.6h0m-0.4 4.7h0m0.2 4.7h0m0.6 4.7h0m-0.5 4.6h0m-0.3 4.7h0m0.2 4.7h0m0.9 4.7h0m1.4-149.6h0m0 4.6h0m-0.2 65.5h0m0.3 4.7h0m-0.1 4.6h0m-0.2 4.7h0m-0.3 4.7h0m0.8 4.7h0m-0.2 4.6h0m-0.4 4.7h0m0.2 4.7h0m0.3 4.7h0m-0.4 9.3h0m0.2 4.7h0m0.2 9.3h0m-0.2 4.7h0m-0.3 18.7h0m0.2 14h0m2.2-172.9h0m0 4.6h0m0.4 60.8h0m0 4.7h0m-0.2 4.7h0m-0.5 4.6h0m0.7 4.7h0m-0.2 4.7h0m-0.4 4.7h0m0 4.6h0m0 4.7h0m0.2 4.7h0m-0.4 4.7h0m0.3 14h0m0.2 9.3h0m0.6 9.4h0m-0.4 4.7h0m-0.3 4.6h0m-0.3 4.7h0m-0.6 42.1h0m3-201h0m0 4.6h0m-0.1 60.8h0m0.3 18.7h0m-0.9 4.7h0m0.4 4.7h0m0.7 4.6h0m-0.7 4.7h0m0.3 4.7h0m0.1 4.7h0m0.2 9.3h0m-0.3 4.7h0m0 4.7h0m0.5 4.6h0m1.6-135.5h0m0 4.6h0m0.2 56.1h0m-0.4 4.7h0m-0.2 4.7h0m0.6 4.7h0m-0.1 4.6h0m0.1 4.7h0m0.3 4.7h0m-0.6 4.7h0m0.2 4.6h0m-0.1 4.7h0m-0.5 4.7h0m0.4 4.7h0m2.2-112.2h0m0 4.6h0m0 60.8h0m-0.3 9.4h0m0.6 4.6h0m-0.4 4.7h0m0 4.7h0m0.2 4.7h0m-0.7 4.6h0m0.3 4.7h0m0.1 4.7h0m0.3 4.7h0m-0.1 4.6h0m-0.2 4.7h0m0.6 4.7h0m-0.6 4.7h0m0 4.6h0m0.3 4.7h0m-0.2 9.4h0m0 4.6h0m2.2-154.2h0m0 4.6h0m-0.1 65.5h0m0 4.7h0m0.3 4.6h0m0.3 4.7h0m-0.1 4.7h0m-0.2 4.7h0m-0.2 9.3h0m-0.5 4.7h0m0.4 4.7h0m0 4.6h0m0.2 4.7h0m-0.3 4.7h0m0.2 4.7h0m-0.1 84.1h0m2.2-215h0m0 4.6h0m0.3 65.5h0m0.1 4.7h0m-0.5 4.6h0m-0.3 4.7h0m0.1 4.7h0m0.2 4.7h0m0.1 4.6h0m0.1 4.7h0m-0.3 4.7h0m-0.1 4.7h0m0 4.6h0m0.4 4.7h0m-0.3 14h0m-0.3 4.7h0m0.3 9.4h0m0.5 14h0m1.8-163.6h0m0 4.6h0m0 65.5h0m0.2 23.4h0m-0.1 4.6h0m0.1 9.4h0m1.9-107.5h0m0 4.6h0m-0.2 65.5h0m-0.3 4.7h0m0.7 9.3h0m-0.4 14h0m0.5 14.1h0m-0.7 9.3h0m0.7 4.7h0m-0.5 9.3h0m-0.1 4.7h0m0.1 9.4h0m0 9.3h0m0.3 9.4h0m0.2 9.3h0m-0.5 4.7h0m0.2 4.7h0m-0.1 4.6h0m0.2 4.7h0m2-196.3h0m0 4.6h0m0.2 65.5h0m-0.3 9.3h0m-0.2 9.4h0m0.6 4.7h0m-0.4 4.6h0m-0.2 9.4h0m0.4 4.7h0m0.1 4.6h0m-0.5 4.7h0m0.3 4.7h0m-0.2 9.3h0m0.1 14.1h0m-0.1 4.6h0m0 4.7h0m2.3-158.9h0m0 4.6h0m-0.1 65.5h0m0.2 4.7h0m0.1 4.6h0m0.1 4.7h0m-0.5 9.4h0m0.2 4.6h0m-0.5 9.4h0m0.4 9.3h0m0.2 9.4h0m-0.3 4.7h0m0.3 9.3h0m-0.1 4.7h0m0.3 4.7h0m-0.4 4.6h0m2.2-154.2h0m0 4.6h0m0 65.5h0m0.2 4.7h0m-0.1 4.6h0m0 9.4h0m-0.2 4.7h0m-0.3 9.3h0m0.6 4.7h0m-0.3 4.7h0m0 4.6h0m-0.1 4.7h0m0.7 4.7h0m-0.3 4.7h0m-0.1 4.6h0m-0.3 9.4h0m0.3 4.7h0m-0.1 4.6h0m-0.6 4.7h0m2.7-158.9h0m0 4.6h0m0.4 60.8h0m-0.1 4.7h0m-0.4 4.7h0m0 4.6h0m0.4 14.1h0m-0.3 4.6h0m0.1 4.7h0m-0.2 4.7h0m0 4.7h0m-0.1 4.6h0m0.5 4.7h0m-0.3 4.7h0m0.1 4.7h0m0 4.6h0m0.4 14.1h0m-0.3 4.6h0m0.3 4.7h0m-0.5 4.7h0m0.3 4.7h0m1.8-168.3h0m0 4.6h0m-0.1 56.1h0m0 4.7h0m0.2 4.7h0m-0.1 9.3h0m0.1 4.7h0m-0.4 9.4h0m0.3 4.6h0m-0.1 9.4h0m0.2 4.7h0m0.1 9.3h0m1.9-121.5h0m0 4.6h0m-0.2 51.5h0m0 4.6h0m-0.2 4.7h0m0.1 4.7h0m0.5 4.7h0m-0.2 4.6h0m0.2 4.7h0m-0.4 9.4h0m0.4 4.6h0m0.3 18.7h0m-0.6 4.7h0m-0.2 4.7h0m0.3 4.7h0m0 4.6h0m0 9.4h0m-0.2 4.7h0m0.3 4.6h0m2-154.2h0m0 4.6h0m-0.1 51.5h0m-0.1 4.6h0m-0.2 4.7h0m0.6 4.7h0m-0.1 4.7h0m0.2 4.6h0m-0.2 4.7h0m0.1 9.4h0m-0.1 4.6h0m-0.3 4.7h0m2.1-112.2h0m0.2 9.4h0m0 4.6h0m0.3 51.5h0m-0.6 4.6h0m0.1 4.7h0m0.4 4.7h0m-0.3 4.7h0m0.1 4.6h0m0 4.7h0m-0.2 4.7h0m0.1 4.7h0m0.3 9.3h0m1.9-102.8h0m0 4.6h0m-0.2 51.5h0m-0.1 4.6h0m0.4 4.7h0m-0.3 4.7h0m0.1 4.7h0m-0.2 4.6h0m-0.1 4.7h0m0.4 4.7h0m-0.3 4.7h0m0.5 18.7h0m-0.5 4.6h0m2.4-116.8h0m0 4.6h0m0.3 51.5h0m0.2 4.6h0m-0.4 4.7h0m0.4 4.7h0m-1.1 4.7h0m0.6 4.6h0m-0.1 4.7h0m0.2 4.7h0m-0.1 4.7h0m0.1 4.6h0m-0.1 4.7h0m-0.3 9.4h0m0.5 18.7h0m-0.4 4.6h0m2.3-135.5h0m0 4.6h0m-0.1 56.1h0m-0.3 4.7h0m0.4 4.7h0m0.3 4.7h0m-1 4.6h0m0.3 4.7h0m1 4.7h0m-0.6 4.7h0m0.1 4.6h0m0.2 4.7h0m0.1 4.7h0m-0.1 9.3h0m-0.5 4.7h0m0.2 9.4h0m-0.3 4.6h0m0 74.8h0m0 9.4h0m0 9.3h0m2.4-229h0m0 4.6h0m0.1 56.1h0m0 4.7h0m-0.6 4.7h0m0.4 4.7h0m-0.1 4.6h0m0.1 4.7h0m0.2 4.7h0m-0.2 14h0m-0.1 4.7h0m0.1 4.7h0m-0.3 9.3h0m0.9 14h0m-0.6 4.7h0m2.2-140.2h0m0 4.6h0m-0.2 56.1h0m0 4.7h0m0.6 4.7h0m-0.5 4.7h0m0.3 4.6h0m-0.5 4.7h0m-0.1 4.7h0m0.6 14h0m-0.5 4.7h0m0.2 4.7h0m0.6 4.6h0m-0.4 4.7h0m-0.2 4.7h0m0.3 4.7h0m-0.1 4.6h0m0.3 9.4h0m1.7-144.9h0m0 4.6h0m-0.2 56.1h0m0.5 4.7h0m-0.1 4.7h0m-0.2 4.7h0m0 4.6h0m-0.2 4.7h0m0.7 4.7h0m-0.8 4.7h0m0.6 4.6h0m-0.2 4.7h0m-0.2 4.7h0m0.5 9.3h0m-0.2 9.4h0m0.2 4.7h0m-0.1 4.6h0m1.8-135.5h0m0 4.6h0m-0.2 56.1h0m0 4.7h0m0.7 4.7h0m-0.2 4.7h0m-0.2 9.3h0m-0.3 4.7h0m0.1 4.7h0m0.2 4.6h0m0.2 4.7h0m-0.4 4.7h0m0.1 4.7h0m-0.1 4.6h0m0 23.4h0m2.2-140.2h0m0 4.6h0m0 56.1h0m0.3 4.7h0m-0.4 4.7h0m0.4 9.3h0m-0.5 4.7h0m0.2 9.4h0m0 4.6h0m-0.9 4.7h0m0.4 4.7h0m0.8 4.7h0m-0.4 4.6h0m0.1 4.7h0m-0.2 9.4h0m0.4 9.3h0m-0.2 4.7h0m2.1-144.9h0m0 4.6h0m-0.2 60.8h0m0.1 4.7h0m0.2 14h0m0 14h0m-0.5 4.7h0m0.5 4.7h0m-0.2 4.7h0m-0.3 4.6h0m0 4.7h0m0.7 4.7h0m-0.1 4.7h0m1.9-130.9h0m0 4.6h0m0.2 56.1h0m-0.1 4.7h0m0.1 4.7h0m-0.5 4.7h0m0.7 9.3h0m-0.2 4.7h0m-0.2 4.7h0m0 4.6h0m0.1 4.7h0m0.1 4.7h0m-0.3 4.7h0m0 4.6h0m0 4.7h0m-0.3 9.4h0m2.3-145h0m0.2 14.1h0m0 4.6h0m-0.4 56.1h0m0.3 4.7h0m-0.2 4.7h0m0.4 9.3h0m-0.3 9.4h0m0.2 9.3h0m-0.3 4.7h0m0.4 4.7h0m-0.3 4.7h0m0.1 9.3h0m0.2 4.7h0m-0.1 4.7h0m0.3 4.6h0m1.8-135.5h0m0 4.6h0m0 56.1h0m0 4.7h0m0.2 9.4h0m0 4.6h0m0.1 4.7h0m0.1 4.7h0m-0.4 4.7h0m0 4.6h0m0.1 4.7h0m-0.6 4.7h0m0 4.7h0m0.5 4.6h0m0 14.1h0m2.1-130.9h0m0 4.6h0m0.1 51.5h0m-0.3 9.3h0m0 4.7h0m0.2 4.7h0m-0.3 4.6h0m0.3 4.7h0m-0.5 4.7h0m0.4 4.7h0m0 4.6h0m0.1 4.7h0m0.2 9.4h0m1.9-112.2h0m0 4.6h0m0 51.5h0m0.1 4.6h0m0 9.4h0m-0.1 4.7h0m0 4.6h0m0 18.7h0m0.1 9.4h0m2-107.5h0m0 4.6h0m0 51.5h0m-0.1 4.6h0m0.5 9.4h0m-0.5 9.3h0m0.1 9.4h0m0.1 4.7h0m-0.5 14h0m0.5 14h0m0.9-130.9h0m1.1 9.4h0m0 4.6h0m0 46.8h0m-0.1 4.7h0m0.3 4.6h0m-0.1 4.7h0m0.2 4.7h0m-0.6 9.3h0m0.3 14.1h0m0.2 9.3h0m0.1 4.7h0m-0.3 9.3h0m0 9.4h0m0.4 4.7h0m0 4.6h0m-0.2 9.4h0m0.4 4.7h0m1.5-149.6h0m0 4.6h0m-0.7 46.8h0m0.9 9.3h0m0.2 4.7h0m-0.2 4.7h0m-0.3 4.7h0m0.2 4.6h0m0 4.7h0m-0.3 4.7h0m0.1 4.7h0m-0.2 4.6h0m-0.1 4.7h0m0.6 4.7h0m1.9-107.5h0m0 4.6h0m-0.2 46.8h0m0.5 4.7h0m-0.2 4.6h0m-1.2 121.6h0m2.1-201h0m1.1 18.7h0m0 4.6h0m0 46.8h0m2.1-51.4h0m0 4.6h0m0 46.8h0m-0.3 14h0m0.4 4.7h0m2-70.1h0m0 4.6h0m-0.2 46.8h0m0.9 4.7h0m-0.5 4.6h0m0.3 4.7h0m-0.2 4.7h0m1.8-70.1h0m0 4.6h0m0.1 46.8h0m-0.1 4.7h0m0.4 4.6h0m-0.3 4.7h0m0.2 4.7h0m-0.1 4.7h0m0 28h0m-0.1 9.4h0m0 9.3h0m-0.3 14h0m0 9.4h0m-0.1 4.7h0m0 4.6h0m0.2 4.7h0m2.2-158.9h0m0 4.6h0m-0.1 56.1h0m-0.3 4.7h0m0.7 4.7h0m-0.6 4.7h0m-0.2 4.6h0m0.7 4.7h0m-0.3 4.7h0m-0.2 4.7h0m0.1 9.3h0m0 4.7h0m2.3-107.5h0m0 4.6h0m0.2 74.8h0m-0.5 4.7h0m0.5 4.7h0m-0.4 9.3h0m0.3 4.7h0m-0.5 4.7h0m0.5 4.7h0m-0.4 4.6h0m0 4.7h0m0.2 4.7h0m0 4.7h0m0 4.6h0m0.1 14.1h0m-0.4 4.6h0m0.3 9.4h0m0.2 4.7h0m0 4.6h0m2-172.9h0m0 4.6h0m-0.2 74.8h0m-0.1 4.7h0m0.3 4.7h0m-0.2 4.7h0m0.1 4.6h0m0.1 4.7h0m-0.2 4.7h0m0.5 4.7h0m-0.5 4.6h0m0.1 9.4h0m0.3 4.7h0m-0.2 4.6h0m-0.2 4.7h0m0.4 4.7h0m0.1 4.7h0m-0.6 18.7h0m-0.1 9.3h0m0.7 4.7h0m-0.5 4.7h0m0.4 4.6h0m-0.6 32.8h0m2.5-224.4h0m0 4.6h0m-0.2 74.8h0m0.4 4.7h0m-0.5 4.7h0m-0.1 4.7h0m0.4 4.6h0m0 4.7h0m0 4.7h0m0 4.7h0m0.7 4.6h0m-0.9 4.7h0m0.1 4.7h0m-0.1 9.3h0m0 9.4h0m-0.1 4.7h0m0.2 4.6h0m0.4 9.4h0m-0.3 4.7h0m2.1-168.3h0m0 4.6h0m-0.1 51.5h0m-0.1 4.6h0m0.3 4.7h0m-0.2 4.7h0m0.2 4.7h0m0.3 4.6h0m-0.4 4.7h0m-0.3 18.7h0m-0.3 4.7h0m0.1 4.7h0m0.3 4.6h0m0.2 4.7h0m0.2 4.7h0m0 9.3h0m-0.2 9.4h0m2.1-144.9h0m0 4.6h0m-0.1 51.5h0m0.3 4.6h0m0.2 9.4h0m-0.6 4.7h0m-0.2 4.6h0m0.8 9.4h0m-0.2 4.7h0m0.5 4.6h0m-0.9 9.4h0m0.1 9.3h0m-0.2 4.7h0m0 9.4h0m0.4 4.6h0m-0.1 4.7h0m-0.2 4.7h0m0.4 9.3h0m-0.2 9.4h0m-0.1 4.7h0m-0.2 4.6h0m0.5 4.7h0m0 4.7h0m1.9-182.3h0m0 4.6h0m0.1 51.5h0m0.3 4.6h0m-0.6 9.4h0m0.3 4.7h0m-0.2 9.3h0m0 4.7h0m-0.2 9.3h0m0.1 4.7h0m0.2 4.7h0m-0.4 4.7h0m0.5 14h0m0 9.3h0m2-135.5h0m0 4.6h0m0.3 51.5h0m0 4.6h0m-0.1 4.7h0m-0.5 4.7h0m0.8 4.7h0m-0.9 4.6h0m0.3 4.7h0m-0.5 4.7h0m0.7 4.7h0m-0.2 4.6h0m0.3 4.7h0m-0.5 14h0m0.3 4.7h0m-0.4 4.7h0m0 14h0m2.5-140.2h0m0 4.6h0m0.2 51.5h0m-0.5 4.6h0m0.5 9.4h0m-0.2 4.7h0m0 4.6h0m-0.4 4.7h0m0.1 9.4h0m0.3 4.6h0m-0.1 4.7h0m0.3 9.4h0m-0.2 4.6h0m-0.3 14.1h0m0.3 14h0m-0.1 4.7h0m-0.1 4.6h0m2.3-154.2h0m0 4.6h0m0.4 51.5h0m-0.7 4.6h0m0.1 4.7h0m0.2 4.7h0m0 4.7h0m0 4.6h0m-0.6 4.7h0m0.7 4.7h0m-0.4 4.7h0m0.2 4.6h0m0.1 9.4h0m2.1-107.5h0m0 4.6h0m0 51.5h0m0.2 4.6h0m-0.4 4.7h0m0 4.7h0m0 4.7h0m0.3 4.6h0m-0.1 4.7h0m0 4.7h0m0.3 4.7h0m-0.4 4.6h0m0.1 4.7h0m0 9.4h0m0.5 9.3h0m-1.1 9.4h0m0.8 9.3h0m0 9.4h0m1.9-149.6h0m0 4.6h0m0 51.5h0m0.3 9.3h0m-0.3 4.7h0m0 4.7h0m-0.1 4.6h0m0.6 4.7h0m-0.7 4.7h0m0.1 9.3h0m0.3 4.7h0m-0.3 4.7h0m0 4.7h0m2.2-112.2h0m0 4.6h0m-0.2 51.5h0m0.4 4.6h0m-0.5 4.7h0m0.3 4.7h0m0 4.7h0m0.1 9.3h0m-0.2 4.7h0m0.2 4.7h0m-0.2 14h0m0.3 9.3h0m1.9-116.8h0m0 4.6h0m0.3 51.5h0m-0.5 4.6h0m0.2 4.7h0m0.1 4.7h0m-0.2 4.7h0m0 9.3h0m-0.1 4.7h0m0.2 4.7h0m0.1 9.3h0m-0.5 4.7h0m0.6 9.3h0m1.9-116.8h0m0 4.6h0m0.2 51.5h0m-0.1 4.6h0m-0.1 4.7h0m-0.4 9.4h0m0.5 9.3h0m0.5 4.7h0m1.5-88.8h0m0 4.6h0m0 56.1h0m0.2 4.7h0m0.1 4.7h0m-0.2 4.7h0m0 9.3h0m-0.3 4.7h0m-0.1 4.7h0m0.4 4.6h0m-0.1 4.7h0m0 4.7h0m2.1-107.5h0m0 4.6h0m0 51.5h0m0.3 4.6h0m-0.6 4.7h0m0.3 9.4h0m0 4.6h0m0 4.7h0m-0.2 4.7h0m0 4.7h0m0.5 4.6h0m0 4.7h0m0.1 4.7h0m-0.5 4.7h0m-0.1 4.6h0m-0.2 4.7h0m0.4 9.4h0m-0.1 9.3h0m2.2-140.2h0m0 4.6h0m-0.1 56.1h0m0.1 4.7h0m-0.3 4.7h0m0.1 4.7h0m0.2 4.6h0m-0.4 9.4h0m0.2 4.7h0m0.5 4.6h0m-0.2 4.7h0m-0.1 4.7h0m0.1 9.3h0m-0.2 4.7h0m0.1 18.7h0m0.4 9.4h0m1.7-149.6h0m0 4.6h0m-0.1 51.5h0m0.1 18.7h0m0.2 4.6h0m-0.2 4.7h0m0.3 4.7h0m-0.3 4.7h0m0 4.6h0m0.2 4.7h0m-0.2 4.7h0m-0.3 4.7h0m0 4.6h0m0.1 4.7h0m0.3 9.4h0m2-130.9h0m0 4.6h0m0.5 56.1h0m-0.5 4.7h0m-0.3 4.7h0m0.4 4.7h0m-0.3 4.6h0m0.4 4.7h0m-0.2 14h0m0.1 4.7h0m0.2 4.7h0m-0.2 4.7h0m0 14h0m-0.1 4.7h0m2.1-130.9h0m0 4.6h0m0.1 51.5h0m-0.1 14h0m0 4.7h0m0.2 4.6h0m-0.1 4.7h0m0.2 4.7h0m0 4.7h0m-0.1 4.6h0m-0.2 9.4h0m-0.5 4.7h0m0.1 4.6h0m-0.1 4.7h0m0.1 4.7h0m2.5-126.2h0m0 4.6h0m-0.1 51.5h0m0.3 9.3h0m0 4.7h0m-0.2 4.7h0m0.1 4.6h0m0 4.7h0m-0.3 4.7h0m-0.1 9.3h0m0.3 4.7h0m0.5 4.7h0m-0.4 4.7h0m2-112.2h0m0 4.6h0m0.2 51.5h0m-0.3 4.6h0m0.5 4.7h0m-0.1 4.7h0m-0.4 4.7h0m0.5 4.6h0m-0.9 4.7h0m0.9 4.7h0m-0.7 4.7h0m0.3 4.6h0m-0.1 4.7h0m0 4.7h0m-0.1 4.7h0m0.2 4.6h0m2.1-116.8h0m0 4.6h0m0.1 51.5h0m0 4.6h0m0.2 4.7h0m-0.4 4.7h0m0.3 4.7h0m-0.2 4.6h0m0.1 9.4h0m0.1 4.7h0m0.1 4.6h0m1.8-98.1h0m0 4.6h0m-0.5 51.5h0m0 4.6h0m0.6 14.1h0m-0.2 9.3h0m2.2-84.1h0m0 4.6h0m0 51.5h0m0.2 4.6h0m-0.3 9.4h0m-0.1 4.7h0m0.1 4.6h0m0.2 4.7h0m-0.3 4.7h0m0 4.7h0m-0.2 4.6h0m0.9 4.7h0m-0.4 4.7h0m2-107.5h0m0 4.6h0m-0.4 56.1h0m0 4.7h0m0.6 4.7h0m-0.4 4.7h0m0.2 4.6h0m-0.2 4.7h0m0.4 4.7h0m-0.5 4.7h0m0.3 9.3h0m-0.1 4.7h0m0.3 4.7h0m-0.4 14h0m2.3-126.2h0m0 4.6h0m0.2 56.1h0m-0.5 4.7h0m0.7 4.7h0m-0.2 4.7h0m-0.2 4.6h0m0 4.7h0m0.1 4.7h0m-0.1 4.7h0m-0.1 4.6h0m-0.4 9.4h0m1.1 4.7h0m-0.9 4.6h0m0.3 9.4h0m0 4.7h0m0.8 4.6h0m-0.9 4.7h0m2.2-140.2h0m0 4.6h0m0.1 60.8h0m-0.2 4.7h0m-0.1 9.3h0m0.2 9.4h0m-0.3 4.7h0m0.1 4.6h0m-0.4 4.7h0m0.2 4.7h0m0.6 4.7h0m-0.4 9.3h0m0.4 4.7h0m-0.5 9.3h0m2.4-135.5h0m0 4.6h0m-0.3 51.5h0m0.3 4.6h0m-0.2 4.7h0m0 4.7h0m0.5 4.7h0m-0.2 4.6h0m-0.8 4.7h0m0.6 4.7h0m0 4.7h0m0 4.6h0m0.5 4.7h0m1.7-102.8h0m0 4.6h0m0 42.1h0m0.2 4.7h0m-0.6 4.7h0m0.3 4.6h0m0 4.7h0m0.2 4.7h0m0.4 4.7h0m-0.3 4.6h0m-0.4 14.1h0m-0.4 4.6h0m0.6 4.7h0m2.1-102.8h0m0 4.6h0m-0.3 42.1h0m-0.2 4.7h0m0.6 4.7h0m-0.1 4.6h0m0.1 4.7h0m-0.1 14h0m2.1-79.4h0m0 4.6h0m0.3 42.1h0m0.1 9.4h0m-0.2 4.6h0m-0.4 4.7h0m0.6 4.7h0m1.7-70.1h0m0 4.6h0m0.3 42.1h0m-0.6 9.4h0m0 4.6h0m-0.1 4.7h0m0.1 4.7h0m-0.1 4.7h0m2.5-74.8h0m0 4.6h0m-0.1 42.1h0m0.2 4.7h0m-0.4 4.7h0m0.1 4.6h0m0.2 4.7h0m0.6 4.7h0m-0.4 4.7h0m-0.7 4.6h0m0.6 4.7h0m0.2 9.4h0m1.8-93.5h0m0 4.6h0m-0.2 42.1h0m0.3 4.7h0m0.3 4.7h0m-0.2 4.6h0m-0.3 9.4h0m-0.2 4.7h0m2.4-74.8h0m0 4.6h0m0 42.1h0m-0.2 4.7h0m0.4 4.7h0m-0.3 4.6h0m2.2-60.7h0m0 4.6h0m-0.2 42.1h0m0 4.7h0m-0.2 4.7h0m0.2 4.6h0m0.3 4.7h0m0.2 4.7h0m-0.3 4.7h0m0.1 9.3h0m-0.6 9.4h0m0.4 0h0m2.2-93.5h0m0 4.6h0m0.2 42.1h0m-0.6 4.7h0m0.3 4.7h0m0.5 4.6h0m-0.5 4.7h0m0.1 4.7h0m0 4.7h0m-0.3 9.3h0m-0.8 0h0m0.7 0h0m0.7 9.4h0m-0.9 14h0m0.2 0h0m2.5-107.5h0m0 4.6h0m0.5 42.1h0m-0.3 4.7h0m-0.2 4.7h0m0.3 9.3h0m0 4.7h0m1.8-70.1h0m0 4.6h0m0.2 42.1h0m0 4.7h0m-0.6 4.7h0m0 4.6h0m0.7 4.7h0m-0.2 4.7h0m0.2 4.7h0m-0.2 18.7h0m-0.3 4.6h0m0.2 14.1h0m0.4 4.6h0m1.7-116.8h0m0 4.6h0m0.1 42.1h0m-0.2 4.7h0m0 4.7h0m0.2 4.6h0m-0.1 4.7h0m-0.1 4.7h0m2.2-70.1h0m0 4.6h0m0.2 42.1h0m-0.5 4.7h0m0 4.7h0m0.5 9.3h0m-0.6 4.7h0m0.1 4.7h0m0.2 4.6h0m-0.2 14.1h0m0.4 9.3h0m-0.2 4.7h0m-0.2 4.7h0m0 9.3h0m0 9.4h0m2.4-130.9h0m0 4.6h0m-0.3 42.1h0m0.5 4.7h0m0 4.7h0m0.2 4.6h0m-0.5 4.7h0m-0.1 4.7h0m0.5 4.7h0m-0.9 37.4h0m0 9.3h0m0 9.4h0m2.7-135.6h0m0 4.7h0m0 4.6h0m-0.4 37.4h0m0.4 4.7h0m-0.2 4.7h0m0.2 9.3h0m0 9.4h0m-0.2 4.7h0m0.4 4.6h0m-0.1 4.7h0m0 4.7h0m2-88.8h0m0 4.6h0m-0.2 46.8h0m-0.1 4.7h0m0 4.6h0m0.4 4.7h0m-0.1 9.4h0m0.1 9.3h0m0.2 4.7h0m-0.6 4.7h0m0.4 4.6h0m2-98.1h0m0 4.6h0m0.2 42.1h0m0.4 14h0m-0.7 4.7h0m0.1 4.7h0m0.1 9.3h0m2-84.1h0m0 4.7h0m0 4.6h0m0 42.1h0m0 4.7h0m0.3 4.7h0m0 4.6h0m-0.6 4.7h0m-0.1 4.7h0m2.5-70.1h0m0 4.6h0m-0.1 46.8h0m-0.3 4.7h0m0.2 4.6h0m0.2 9.4h0m-0.1 9.3h0m0.2 4.7h0m2-88.8h0m0 4.7h0m0 4.6h0m-0.2 46.8h0m0.3 4.7h0m-0.1 4.6h0m0.2 4.7h0m-0.1 4.7h0m-0.2 4.7h0m0.2 4.6h0m-0.2 4.7h0m2.2-84.1h0m0 4.6h0m0.1 46.8h0m-0.1 4.7h0m0.2 4.6h0m-0.1 4.7h0m0.1 4.7h0m1.9-74.8h0m0 4.7h0m0 4.6h0m0.2 46.8h0m0.1 4.7h0m0 4.6h0m-0.5 4.7h0m2.3-65.4h0m0 4.6h0m0.2 46.8h0m-0.7 4.7h0m0.3 4.6h0m0 4.7h0m0.5 4.7h0m0 4.7h0m-0.2 4.6h0m-0.4 9.4h0m0.4 4.7h0m0.1 9.3h0m-0.1 9.4h0m2-116.9h0m0 4.7h0m0 4.6h0m-0.1 46.8h0m0.3 4.7h0m0.2 4.6h0m-0.2 4.7h0m0 4.7h0m-0.5 4.7h0m0.5 4.6h0m0.2 4.7h0m1.7-84.1h0m0 4.6h0m-0.2 46.8h0m0.3 4.7h0m-0.1 4.6h0m2.1-60.7h0m0 4.6h0m0.2 46.8h0m-0.1 4.7h0m-0.5 51.4h0m2.5-107.5h0m0 4.6h0m0 46.8h0m0.1 4.7h0m-0.6 4.6h0m0.3 4.7h0m0.1 4.7h0m2.2-74.8h0m0 4.7h0m0 4.6h0m0.2 46.8h0m-0.3 4.7h0m-0.3 4.6h0m0.6 4.7h0m-0.7 9.4h0m2.6-74.8h0m0 4.6h0m0 46.8h0m-0.1 4.7h0m-0.2 4.6h0m-0.3 4.7h0m1 4.7h0m-0.6 4.7h0m0.4 4.6h0m1.9-84.1h0m0 4.7h0m0 4.6h0m0.3 46.8h0m-0.4 4.7h0m0.2 4.6h0m0.1 4.7h0m0.4 4.7h0m-0.7 9.3h0m2.2-84.1h0m0 4.7h0m0 4.6h0m-0.1 46.8h0m0.2 4.7h0m0 4.6h0m-0.2 4.7h0m0.1 4.7h0m2.1-70.1h0m0 4.6h0m0 46.8h0m-0.5 4.7h0m0 4.6h0m0.8 4.7h0m1.8-65.4h0m0 4.6h0m0.1 46.8h0m-0.6 4.7h0m2.6-60.8h0m0 4.7h0m0 4.6h0m-0.1 46.8h0m0 4.7h0m-0.7 4.6h0m0.3 4.7h0m0.7 4.7h0m0 9.3h0m1.9-84.1h0m0 4.7h0m0 4.6h0m-0.4 46.8h0m0.6 4.7h0m-0.5 4.6h0m0.3 4.7h0m0.2 4.7h0m-0.5 4.7h0m2.4-84.2h0m0 4.7h0m0 4.7h0m0 4.6h0m0 51.5h0m-0.2 4.6h0m-0.1 4.7h0m2.4-65.4h0m0 4.6h0m0.2 46.8h0m-0.2 4.7h0m0.2 4.6h0m-0.4 4.7h0m-0.3 4.7h0m2.6-74.8h0m0 4.7h0m-0.3 51.4h0m0.5 4.7h0m-0.1 4.6h0m-0.1 4.7h0m-0.1 4.7h0m0.2 4.7h0m2-79.5h0m0 4.7h0m0.1 51.4h0m-0.1 4.7h0m0.1 4.6h0m0 4.7h0m0.1 4.7h0m-0.5 4.7h0m2.4-84.2h0m0 4.7h0m0 4.7h0m0.3 28h0m-0.4 4.7h0m0.5 14h0m-0.3 4.7h0m-0.4 4.7h0m0.3 4.6h0m0 9.4h0m2.1-74.8h0m0 4.7h0m-0.3 28h0m0.1 4.7h0m0.3 4.7h0m-0.3 9.3h0m2.3-51.4h0m0 4.7h0m0.3 32.7h0m-0.4 4.7h0m-0.1 4.6h0m0.4 4.7h0m1.9-51.4h0m0 4.7h0m0.1 28h0m-0.3 4.7h0m-0.1 4.7h0m2.4-37.4h0m-0.3 28h0m0.4 4.7h0m2-37.4h0m0 4.7h0m0 4.6h0m-0.1 32.8h0m0 4.6h0m0.5 4.7h0m-0.4 4.7h0m2.1-51.4h0m0 4.6h0m0 46.8h0m0.3 4.7h0m-0.5 4.6h0m-0.8 32.8h0m3.1-93.5h0m0 4.6h0m-0.5 42.1h0m0.6 4.7h0m0.2 4.7h0m-0.2 4.6h0m0 9.4h0m2.6-79.5h0m-0.6 4.7h0m0 4.7h0m0 4.6h0m-0.4 37.4h0m0.4 4.7h0m-0.2 4.7h0m0.6 4.7h0m-0.2 4.6h0m1.9-60.7h0m0 4.6h0m-0.1 28.1h0m0.5 4.7h0m-0.6 4.6h0m0.7 4.7h0m0 9.4h0m-0.6 9.3h0m0.2 4.7h0m2-74.8h0m0 4.7h0m0 4.6h0m-0.1 46.8h0m0.6 4.7h0m-0.6 4.6h0m-0.2 4.7h0m2.4-65.4h0m0 4.6h0m-0.3 56.1h0m0.9 4.7h0m-0.4 4.7h0m-0.2 4.7h0m0.2 4.6h0m-0.2 4.7h0m2.1-84.1h0m0 4.6h0m-0.3 56.1h0m0.1 4.7h0m0.4 4.7h0m-0.2 4.7h0m0.2 4.6h0m1.9-79.4h0m0 4.6h0m-0.1 56.1h0m0.4 4.7h0m-0.3 4.7h0m0.2 4.7h0m1.9-74.8h0m0 4.6h0m-0.2 56.1h0m0.3 4.7h0m-0.2 4.7h0m0.1 9.3h0m-0.1 4.7h0m2.2-88.8h0m0 4.7h0m0.6 60.7h0m-0.6 4.7h0m0.4 4.7h0m-0.5 4.7h0m0.3 4.6h0m1.9-84.1h0m0 4.7h0m0 60.7h0m-0.1 4.7h0m0 4.7h0m-0.1 4.7h0m0.3 4.6h0m2-88.8h0m0 4.7h0m0 4.7h0m0.1 42h0m-0.3 4.7h0m0.7 4.7h0m-0.3 4.7h0m-0.7 4.6h0m0.5 4.7h0m-0.2 4.7h0m0.4 4.7h0m1.9-79.5h0m0 4.7h0m0 32.7h0m0 4.7h0m-0.5 4.6h0m2.6-51.4h0m0 4.7h0m0 4.7h0m0.4 37.4h0m-0.5 4.6h0m-0.2 4.7h0m0.2 9.4h0m-0.2 14h0m2.4-74.8h0m0 4.7h0m0.2 32.7h0m-0.5 4.7h0m0.6 4.6h0m-0.4 4.7h0m0 9.4h0m-0.4 4.6h0m0.6 4.7h0m0.2 4.7h0m1.8-74.8h0m0 4.7h0m-0.1 32.7h0m0 4.7h0m0.3 4.6h0m0.3 4.7h0m-0.6 4.7h0m2.2-56.1h0m0 4.7h0m-0.3 32.7h0m0 4.7h0m0.2 9.3h0m0 4.7h0m0.1 9.3h0m-0.3 9.4h0m2.4-74.8h0m0 4.7h0m-0.2 32.7h0m-0.1 4.7h0m0.4 14h0m0 4.7h0m-0.1 4.6h0m0.2 18.7h0m0 18.7h0m1.9-112.2h0m0 4.7h0m0 4.7h0m0 4.7h0m-0.2 32.7h0m0.6 9.3h0m-0.1 9.4h0m-0.5 4.7h0m-0.2 4.6h0m0.5 4.7h0m0.3 37.4h0m1.7-112.2h0m0 4.7h0m0 4.7h0m0 32.7h0m0.3 4.7h0m-0.4 4.6h0m2.2-46.7h0m0 4.7h0m0.3 32.7h0m-0.2 4.7h0m0.5 4.6h0m-0.6 4.7h0m0.2 9.4h0m-0.2 4.6h0m-0.2 4.7h0m2.3-70.1h0m0 4.7h0m0.1 32.7h0m-0.2 4.7h0m2.2-42.1h0m0 4.7h0m0.2 28h0m-0.5 4.7h0m0.4 4.7h0m-0.3 4.6h0m-0.1 4.7h0m2.4-51.4h0m0 4.7h0m0.1 23.3h0m-0.2 4.7h0m-0.2 4.7h0m2.4-42.1h0m0 4.7h0m-0.1 32.7h0m0.2 4.7h0m2-42.1h0m0 4.7h0m0 28h0m-0.3 4.7h0m-0.1 4.7h0m0.4 9.3h0m2.1-56.1h0m0 4.7h0m0 4.7h0m-0.1 28h0m0.6 4.7h0m-0.7 4.7h0m0 4.7h0m0.2 4.6h0m2.1-51.4h0m0 4.7h0m-0.2 28h0m0.1 4.7h0m0.3 4.7h0m0.1 4.7h0m0.1 4.6h0m-0.3 9.4h0m2-65.5h0m0 4.7h0m0 4.7h0m0.2 28h0m-0.7 4.7h0m0.8 4.7h0m-0.4 4.7h0m2.2-51.5h0m0 4.7h0m0 4.7h0m0.2 32.7h0m-0.1 4.7h0m-0.3 9.3h0m0.4 4.7h0m0.3 4.7h0m1.6-60.8h0m0 4.7h0m-0.1 28h0m0.2 4.7h0m-0.3 4.7h0m2.3-42.1h0m0 4.7h0m-0.3 28h0m0.1 9.4h0m0.1 4.7h0m2.2-51.5h0m0 4.7h0m-0.1 28.1h0m-0.2 4.6h0m0.5 4.7h0m1.9-42.1h0m0 4.7h0m-0.1 28.1h0m0.1 4.6h0m-0.2 4.7h0m0.4 4.7h0m-0.2 4.7h0m0.2 4.6h0m-0.3 9.4h0m2.2-65.5h0m0 4.7h0m0 28.1h0m0.3 9.3h0m-0.4 4.7h0m2.2-46.8h0m0 4.7h0m0 28.1h0m0 4.6h0m0.3 4.7h0m-0.5 14h0m0.4 4.7h0m1.9-74.8h0m0 4.7h0m0 4.7h0m0 4.6h0m0.3 32.8h0m-0.3 4.6h0m0.1 4.7h0m2-46.7h0m0 4.6h0m-0.8 32.8h0m0.6 4.6h0m0.2 4.7h0m0.2 4.7h0m-0.2 4.7h0m0.8 14h0m1.3-65.5h0m0 4.7h0m0.1 28.1h0m0 4.6h0m-0.1 4.7h0m-0.1 9.4h0m-0.5 18.7h0m2.7-70.2h0m0 4.7h0m-0.1 28.1h0m0.1 4.6h0m-0.3 4.7h0m2.4-46.7h0m0 4.6h0m0 32.8h0m0 4.6h0m2.1-46.7h0m0 4.7h0m0 4.6h0m0.2 37.4h0m-0.4 4.7h0m-0.1 4.7h0m2.4-51.4h0m0 4.6h0m0 4.7h0m0.1 28.1h0m-0.3 4.6h0m0.1 4.7h0m-0.1 18.7h0m-0.1 4.7h0m2.4-65.5h0m0 4.7h0m-0.6 28.1h0m0.5 4.6h0m0.5 4.7h0m-0.1 4.7h0m-0.5 4.7h0m0.5 18.7h0m-0.3 4.6h0m0.1 4.7h0m2-79.5h0m0 4.7h0m-0.2 28.1h0m0.3 4.6h0m-0.2 4.7h0m0.3 9.4h0m0.2 9.3h0m-1.6 18.7h0m0 9.4h0m0.7 0h0m0 4.6h0m-0.7 4.7h0m0.7 0h0m2.6-98.2h0m0 4.7h0m-0.1 28.1h0m0.3 4.6h0m-0.3 4.7h0m0 4.7h0m0.2 9.3h0m-0.1 4.7h0m-0.4 4.7h0m0.2 4.7h0m0.4 4.6h0m0.6 0h0m1.3-74.8h0m0 4.7h0m-0.4 28.1h0m0.1 4.6h0m2.4-32.7h0m0 4.7h0m0 23.4h0m0.4 4.6h0m-0.2 4.7h0m1.9-37.4h0m0.2 23.4h0m0 4.7h0m-0.3 4.6h0m0.2 4.7h0m0 4.7h0m0.2 4.7h0m0 4.6h0m1.8-56.1h0m0 4.7h0m0.2 32.7h0m-0.3 4.7h0m0.1 9.4h0m2.1-51.5h0m0 4.7h0m0.1 18.7h0m-0.3 4.7h0m0.3 4.7h0m-0.1 4.6h0m0.3 4.7h0m1.8-42.1h0m0 4.7h0m-0.1 18.7h0m0.5 4.7h0m-0.5 4.7h0m-0.1 9.3h0m2.3-46.7h0m0 4.6h0m0.4 32.8h0m1.7-37.4h0m0 4.6h0m0.1 28.1h0m0 4.7h0m0 4.6h0m2-46.7h0m0 4.7h0m0 4.6h0m0.1 28.1h0m0.2 4.7h0m1.8-42.1h0m0 4.7h0m0 4.6h0m0 4.7h0m-0.1 23.4h0m-0.4 4.7h0m2.6-37.4h0m0 4.6h0m0 4.7h0m0.1 32.7h0m0 4.7h0m0.5 4.7h0m1.5-42.1h0m0 4.7h0m0.2 23.4h0m-0.5 4.6h0m-0.1 4.7h0m0.2 4.7h0m-0.1 14h0m2.4-56.1h0m0 4.7h0m0.2 18.7h0m0 4.7h0m0.3 4.6h0m1.6-37.4h0m0 4.7h0m0 4.7h0m0.3 18.7h0m-0.2 4.7h0m-0.3 4.6h0m0.1 9.4h0m2.2-42.1h0m0 4.7h0m0.1 18.7h0m0.2 4.7h0m-0.1 4.6h0m-0.1 4.7h0m-0.4 9.4h0m2.4-46.8h0m0 4.7h0m0.4 23.4h0m-0.5 4.6h0m0.3 4.7h0m0.4 32.7h0m0 9.4h0m1.5-79.5h0m0 4.7h0m0 28h0m0.1 4.7h0m0 4.7h0m-0.1 4.7h0m2.1-46.8h0m0 4.7h0m-0.2 37.4h0m0.3 9.3h0m-0.3 4.7h0m2.3-56.1h0m0 4.7h0m0.4 37.4h0m-0.4 4.7h0m-0.2 9.3h0m0 4.7h0m2.3-65.5h0m0 4.7h0m0 4.7h0m0.1 18.7h0m2-28.1h0m0 4.7h0m0 4.7h0m-0.4 14h0m0.4 4.7h0m0.2 4.7h0m-0.3 4.6h0m2.2-32.7h0m0 4.7h0m-0.2 14h0m-0.1 14h0m0.2 4.7h0m2.2-37.4h0m0 4.7h0m0.1 18.7h0m-0.1 4.7h0m0.5 4.6h0m-0.4 4.7h0m-0.3 4.7h0m0.2 4.7h0m-0.9 14h0m3-60.8h0m0 4.7h0m0 4.7h0m0 18.7h0m0.6 4.6h0m-0.5 4.7h0m2-32.7h0m0 4.7h0m-0.1 9.3h0m0.1 4.7h0m2.1-18.7h0m0 4.7h0m0.4 14h0m1.7-18.7h0m0 4.7h0m0 14h0m2.1-18.7h0m0 4.7h0m0.1 14h0m2-23.4h0m0 4.7h0m0 4.7h0m-0.1 14h0m-0.2 4.7h0m2.4-23.4h0m0 4.7h0m0.1 18.7h0m-0.3 4.6h0m-0.2 65.5h0m0 28h0m0 4.7h0m2.5-126.2h0m0 4.7h0m0.1 28h0m-0.2 4.7h0m0.2 4.7h0m2-42.1h0m0 4.7h0m0 18.7h0m0.2 9.3h0m1.9-32.7h0m0 4.7h0m0.1 18.7h0m-0.2 4.6h0m0.2 4.7h0m-0.2 4.7h0m2.2-37.4h0m0 4.7h0m0.1 18.7h0m-0.3 9.3h0m2.3-32.7h0m0 4.7h0m-0.1 23.3h0m-0.3 4.7h0m0.3 4.7h0m2.2-37.4h0m0 4.7h0m-0.1 23.3h0m-0.3 4.7h0m0.6 4.7h0m1.9-37.4h0m0 4.7h0m-0.2 28h0m-0.2 4.7h0m0.6 4.7h0m-0.2 4.6h0m2.1-46.7h0m0 4.7h0m0.2 32.7h0m-0.7 4.7h0m0.5 4.6h0m2.1-51.4h0m0 4.7h0m0 4.7h0m0 32.7h0m0.5 4.7h0m-0.7 4.6h0m-0.1 4.7h0m0.8 9.4h0m-0.4 14h0m2-74.8h0m0 4.7h0m-0.2 32.7h0m0 9.3h0m0.2 4.7h0m-0.1 4.7h0m-0.2 9.3h0m-0.1 4.7h0m2.5-70.1h0m0 4.7h0m-0.3 32.7h0m-0.1 4.7h0m0.2 4.6h0m0.4 4.7h0m-0.1 4.7h0m-0.5 4.7h0m0.3 4.6h0m-0.4 9.4h0m0.9 51.4h0m0 18.7h0m1.7-140.2h0m0.1 32.7h0m0.1 4.7h0m0.2 4.6h0m-0.3 9.4h0m-0.1 14h0m-0.1 4.7h0m-0.9 14h0m3.1-84.1h0m0 4.6h0m-0.2 28.1h0m0 4.7h0m0.4 4.6h0m-1 32.8h0m0 23.3h0m2.9-102.8h0m0 4.7h0m0 4.6h0m0.3 28.1h0m-0.2 4.7h0m-0.2 4.6h0m-0.3 4.7h0m2.5-46.7h0m0 4.6h0m-0.4 28.1h0m0.6 4.7h0m-0.2 4.6h0m0.3 4.7h0m1.8-51.4h0m0 4.7h0m0 4.6h0m0.8 32.8h0m-1 4.6h0m0.1 4.7h0m2.2-46.7h0m0 4.6h0m-0.3 28.1h0m0.4 4.7h0m0.2 4.6h0m-0.2 9.4h0m2-56.1h0m0 4.7h0m0 4.6h0m-0.4 28.1h0m0.5 4.7h0m-0.1 4.6h0m2.1-42h0m0 4.6h0m0.2 23.4h0m0 4.7h0m-0.4 4.7h0m0.6 18.7h0m0 4.6h0m1.7-60.7h0m0 4.6h0m-0.3 23.4h0m0.5 4.7h0m-0.1 14h0m2-46.7h0m0 4.6h0m0 18.7h0m0.3 4.7h0m1.8-28h0m0 4.6h0m-0.6 18.7h0m0.6 4.7h0m-0.3 4.7h0m0 4.7h0m2.4-37.4h0m0 4.6h0m-0.2 18.7h0m0.2 4.7h0m0.2 4.7h0m1.9-32.7h0m0 4.6h0m-0.1 23.4h0m0.6 4.7h0m-0.4 9.3h0m2-42h0m-0.2 23.3h0m2.3-28h0m0 4.7h0m0 18.7h0m-0.4 4.6h0m2.5-23.3h0m-0.4 23.3h0m0.6 9.4h0m1.9-32.7h0m0 4.6h0m0.3 9.4h0m1.8-14h0m0 4.6h0m0 9.4h0m0 9.3h0m0 9.4h0m2.1-32.7h0m0 4.6h0m-0.4 9.4h0m0.4 4.7h0m0.4 4.6h0m-1.2 18.7h0m2.9-46.7h0m0 4.7h0m0 4.6h0m0 9.4h0m0.2 4.7h0m-0.4 9.3h0m2.3-28h0m0 4.6h0m0 9.4h0m-0.2 4.7h0m0 4.6h0m0.2 4.7h0m0.3 4.7h0m1.8-32.7h0m0 4.6h0m0.1 9.4h0m2-14h0m0 4.6h0m-0.2 9.4h0m0.2 4.7h0m-0.4 4.6h0m2.5-23.3h0m0 4.6h0m0 32.8h0m-0.2 4.6h0m0.5 14.1h0m1.8-56.1h0m0 4.6h0m-0.1 32.8h0m0.1 4.6h0m-0.3 9.4h0m0.8 9.3h0m1.6-60.7h0m0 4.6h0m0.2 32.8h0m-0.2 4.6h0m0 4.7h0m0.2 4.7h0m1.9-51.4h0m0 4.6h0m0.2 23.4h0m-0.3 4.7h0m0.5 4.7h0m-0.3 4.6h0m-0.5 4.7h0m2.5-46.7h0m0 4.6h0m0.1 18.7h0m0.2 4.7h0m-0.2 9.4h0m2-37.4h0m0 4.6h0m-0.2 18.7h0m0.5 4.7h0m0 4.7h0m0 4.7h0m-0.4 4.6h0m0.2 4.7h0m2-51.4h0m0 4.7h0m-0.3 23.3h0m0.3 4.7h0m0.1 4.7h0m2-37.4h0m0 4.7h0m-0.6 23.3h0m1 4.7h0m-0.3 4.7h0m-0.2 4.7h0m0.7 14h0m1.5-60.8h0m0 4.7h0m0 4.7h0m-0.3 23.3h0m0.9 4.7h0m-0.6 4.7h0m2.1-37.4h0m0 4.7h0m-0.3 23.3h0m0.1 4.7h0m0.7 4.7h0m0 4.7h0m-0.8 9.3h0m-0.2 4.7h0m0.6 9.3h0m-0.2 4.7h0m2.2-74.8h0m0 4.7h0m0 4.7h0m0.5 23.3h0m-0.6 4.7h0m0 4.7h0m0.1 4.7h0m0.1 4.6h0m-0.1 4.7h0m-1.2 18.7h0m0 9.4h0m3.3-79.5h0m0 4.7h0m-0.4 23.3h0m0.5 4.7h0m0.4 4.7h0m-0.4 4.7h0m0.2 4.6h0m-0.2 4.7h0m0 4.7h0m2-56.1h0m0 4.7h0m-0.1 23.3h0m-0.4 4.7h0m0.3 4.7h0m-0.2 9.3h0m2.5-46.7h0m0 4.7h0m0 23.3h0m0 4.7h0m0.1 4.7h0m-0.2 4.7h0m0.1 4.6h0m2.1-51.4h0m0 4.7h0m0 4.7h0m0 28h0m0.1 4.7h0m2-37.4h0m0.5 32.7h0m-0.9 9.4h0m2.5-42.1h0m0 4.7h0m0.3 28h0m-0.1 4.7h0m0.4 4.7h0m-0.6 4.6h0m-1.1 32.8h0m0.7 0h0m2.5-84.2h0m0 4.7h0m0 4.7h0m0 28h0m0.1 4.7h0m0.2 4.7h0m-0.2 14h0m0 4.7h0m2-60.8h0m0 4.7h0m0 28h0m0 4.7h0m0.1 4.7h0m0.1 4.6h0m-0.2 4.7h0m-0.7 32.7h0m0.7 0h0m-0.7 9.4h0m0.7 0h0m-0.7 51.4h0m0.7 0h0m-0.7 4.7h0m0.7 0h0m-0.7 18.7h0m0.7 0h0m2.1-168.3h0m0 4.7h0m0.3 37.4h0m-0.5 4.6h0m0.3 4.7h0m2-51.4h0m0 4.7h0m0 28h0m0.1 4.7h0m0.2 4.7h0m-0.3 4.6h0m0.3 9.4h0m-0.4 4.7h0m2.2-60.8h0m0 4.7h0m-0.3 28h0m-0.1 4.7h0m0.3 4.7h0m0 4.6h0m0.2 4.7h0m0.5 28.1h0m0 18.7h0m0 23.3h0m1.5-126.2h0m0 4.7h0m0 4.7h0m0.2 28h0m0 4.7h0m1.9-37.4h0m0 4.7h0m0.1 28h0m0.3 4.7h0m-0.5 4.7h0m0 4.6h0m0 9.4h0m0 4.7h0m-0.2 4.6h0m2.4-65.4h0m0 4.7h0m-0.2 28h0m0.5 4.7h0m-0.6 4.7h0m2.4-42.1h0m0 4.7h0m0 28h0m-0.1 4.7h0m0.3 4.7h0m0.2 4.6h0m-0.2 4.7h0m1.9-56.1h0m0 4.7h0m0 4.7h0m0.3 28h0m-0.5 9.4h0m0.3 4.6h0m-0.2 4.7h0m2.2-51.4h0m0 4.7h0m0.4 28h0m-0.3 4.7h0m0 4.7h0m-0.2 4.6h0m2.2-46.7h0m0 4.7h0m0 28h0m0.2 4.7h0m-0.3 4.7h0m0.2 18.7h0m0.3 18.7h0m1.7-79.5h0m0 4.7h0m-0.2 28h0m0.2 4.7h0m0.2 4.7h0m-0.1 4.6h0m0.3 9.4h0m-0.3 9.3h0m2-65.4h0m0 4.7h0m-0.5 28h0m0.2 4.7h0m0.1 4.7h0m2.3-42.1h0m0 4.7h0m-0.3 28h0m0.7 4.7h0m-0.1 4.7h0m-0.2 4.6h0m-0.4 4.7h0m0 14h0m0.3 14.1h0m2.1-79.5h0m-0.2 32.7h0m0.1 4.7h0m2.2-46.8h0m0 4.7h0m0 4.7h0m0.1 32.7h0m0.1 9.4h0m0.3 14h0m-0.8 4.7h0m0.1 4.6h0m0.2 4.7h0m2.1-74.8h0m0 4.7h0m0.1 32.7h0m0.1 4.7h0m-0.6 4.7h0m0.5 4.6h0m-0.2 4.7h0m0 4.7h0m0.5 9.3h0m0.1 0h0m0 14.1h0m0 14h0m1.6-98.2h0m0 4.7h0m-0.2 28h0m-0.1 4.7h0m2.4-37.4h0m0 4.7h0m-0.1 32.7h0m-0.1 4.7h0m0.1 4.7h0m0.1 9.3h0m2.1-60.8h0m0 4.7h0m-0.2 32.7h0m0.3 4.7h0m2-37.4h0m0 4.7h0m-0.7 28h0m0.3 4.7h0m0.1 4.7h0m0 4.7h0m0 9.3h0m0.4 4.7h0m0.1 4.7h0m1.9-65.5h0m0 4.7h0m-0.1 28h0m0.6 4.7h0m-0.4 4.7h0m-0.3 9.3h0m2.3-51.4h0m0 4.7h0m-0.1 28h0m0.3 4.7h0m-0.4 9.4h0m0.3 9.3h0m2-56.1h0m0 4.7h0m0.2 28h0m-0.3 4.7h0m-0.3 4.7h0m0.2 4.7h0m2.3-46.8h0m0 4.7h0m-0.4 28h0m0.4 4.7h0m0.2 4.7h0m1.9-42.1h0m0 4.7h0m-0.2 28h0m-0.2 4.7h0m2.5-42.1h0m0 4.7h0m0 4.7h0m-0.1 23.4h0m0.3 4.6h0m1.9-42h0m0 4.6h0m0 4.7h0m0 4.7h0m-0.1 23.4h0m0.2 4.6h0m0.4 4.7h0m1.6-42.1h0m0 4.7h0m0 4.7h0m0.3 18.7h0m-0.2 4.7h0m0.1 4.6h0m1.9-37.4h0m0 4.7h0m-0.4 18.7h0m0.5 4.7h0m-0.2 4.7h0m2.2-32.8h0m0 4.7h0m0.1 18.7h0m-0.5 4.7h0m0.6 4.7h0m1.9-28.1h0m-0.2 18.7h0m0 4.7h0m0.5 4.7h0m1.8-28.1h0m0 4.7h0m-0.2 14h0m-0.2 4.7h0m2.5-23.4h0m0 4.7h0m-0.3 14h0m0.4 4.7h0m2-18.7h0m0 4.7h0m0.2 9.3h0m-0.4 4.7h0m2.3-18.7h0m0 4.7h0m0.3 9.3h0m1.8-14h0m0 4.7h0m0 4.6h0m0.3 4.7h0m1.8-14h0m0 4.7h0m-0.1 4.6h0m2.2-14h0m0 4.7h0m0 4.7h0m0 4.6h0m2.1-9.3h0m0 4.7h0m-0.4 4.6h0m0 4.7h0m2.5-14h0m0 4.7h0m-0.3 9.3h0m-0.3 4.7h0m2.7-18.7h0m0 4.7h0m-0.4 14h0m0.4 4.7h0m2.1-23.4h0m0 4.7h0m0.2 14h0m-0.5 4.7h0m2.4-23.4h0m0 4.7h0m-0.1 18.7h0m0 4.6h0m2.2-28h0m0 4.7h0m0.7 18.7h0m-1 4.6h0m0.4 4.7h0m2-32.7h0m0 4.7h0m0.2 18.7h0m1.9-23.4h0m0 4.7h0m-0.2 14h0m0.4 4.7h0m-0.5 4.6h0m0.4 4.7h0m2-32.7h0m0 4.7h0m-0.3 9.3h0m0.1 4.7h0m2.3-23.4h0m0 4.7h0m0 4.7h0m0.1 9.3h0m0.1 4.7h0m-0.3 4.7h0m2.2-23.4h0m0 4.7h0m0.2 9.3h0m-0.5 4.7h0m0.3 4.7h0m-0.2 9.3h0m2.3-37.4h0m0 4.7h0m0 4.7h0m0.3 9.3h0m-0.4 4.7h0m2.2-18.7h0m0 4.7h0m-0.4 9.3h0m0.6 4.7h0m1.9-18.7h0m0.1 37.4h0m-0.3 4.7h0m0.2 4.6h0m2.1-51.4h0m0 4.7h0m0.1 37.4h0m0.2 4.7h0m0 4.6h0m-0.3 4.7h0m0.2 4.7h0m0.2 28h0m0 18.7h0m1.7-107.5h0m0 4.7h0m0.3 37.4h0m-0.6 4.7h0m0.3 4.6h0m0 9.4h0m0.1 4.7h0m-0.1 4.6h0m0.4 4.7h0m1.7-74.8h0m0 4.7h0m0.1 37.4h0m-0.1 4.7h0m-0.2 4.6h0m0.3 4.7h0m0.3 4.7h0m-0.5 4.7h0m-0.2 9.3h0m0.5 14h0m0.6 0h0m0 18.7h0m1.3-107.5h0m0 4.7h0m0 42.1h0m0.2 4.6h0m-0.3 4.7h0m-0.3 4.7h0m0.2 9.3h0m0.1 4.7h0m2.2-74.8h0m0 4.7h0m-0.1 42.1h0m0 4.6h0m-0.4 9.4h0m0.4 9.3h0m0.2 18.7h0m2-84.1h0m0 4.7h0m-0.1 37.4h0m0.1 4.6h0m-0.2 4.7h0m0.1 4.7h0m2.2-60.8h0m0 4.7h0m-0.1 18.7h0m0.1 4.7h0m0.1 4.6h0m-0.3 4.7h0m2.3-42.1h0m0 4.7h0m0 4.7h0m-0.3 14h0m0.7 4.7h0m-0.5 9.3h0m0.2 9.4h0m-0.2 4.7h0m2.2-46.8h0m0 4.7h0m0.7 14h0m-0.7 4.7h0m2.1-32.7h0m0 4.6h0m0 4.7h0m0 4.7h0m0.2 18.7h0m-0.2 4.7h0m0 4.6h0m0.1 9.4h0m2-37.4h0m0 4.7h0m-0.4 37.4h0m0.3 4.6h0m0 4.7h0m0.2 4.7h0m2-56.1h0m0 4.7h0m-0.3 37.4h0m0.5 4.6h0m-0.4 4.7h0m-0.3 9.4h0m2.6-56.1h0m0 37.4h0m0.2 4.6h0m-0.1 4.7h0m-0.2 4.7h0m0.4 4.7h0m0 4.6h0m-0.1 4.7h0m-0.4 4.7h0m2.3-70.1h0m0 4.6h0m0.3 32.8h0m-0.3 4.6h0m0.3 9.4h0m-0.2 4.7h0m-0.1 9.3h0m0.2 9.4h0m1.9-74.8h0m0 4.6h0m-0.3 32.8h0m0 4.6h0m0.3 4.7h0m0.1 4.7h0m-0.2 4.7h0m0.1 4.6h0m0.5 23.4h0m0 23.4h0m1.6-107.5h0m0 4.6h0m-0.5 32.8h0m0.4 4.6h0m-0.2 4.7h0m0.4 4.7h0m2-51.4h0m0 4.6h0m0 32.8h0m0.1 4.6h0m0 9.4h0m-0.2 9.3h0m0.3 9.4h0m0 18.7h0m0 4.7h0m0 23.3h0m0 14.1h0m1.9-130.9h0m0 4.6h0m-0.2 37.4h0m0.3 4.7h0m-0.3 4.7h0m2.3-51.4h0m0 4.6h0m-0.5 37.4h0m0.4 4.7h0m-0.5 9.4h0m0.3 4.6h0m0.3 9.4h0m-0.1 4.7h0m0.3 4.6h0m-0.1 4.7h0m2-84.1h0m0 4.6h0m0 37.4h0m0 4.7h0m-0.1 9.4h0m-0.2 14h0m0 23.4h0m0 14h0m2.4-107.5h0m0 4.6h0m-0.1 42.1h0m0.1 4.7h0m0.1 4.7h0m-0.2 4.6h0m0 9.4h0m2.2-74.8h0m0 4.7h0m0 4.6h0m-0.2 28.1h0m0.4 4.7h0m-0.6 4.6h0m0.6 4.7h0m-0.2 4.7h0m-0.1 4.7h0m0 9.3h0m2.2-65.4h0m0 28h0m0.2 4.7h0m1.9-37.4h0m0 4.7h0m0 28h0m-0.2 4.7h0m0.5 4.7h0m-0.5 9.3h0m2.3-51.4h0m0 4.7h0m0.5 28h0m-0.6 4.7h0m0.1 4.7h0m2.1-42.1h0m0 4.7h0m-0.4 28h0m0.7 4.7h0m-1.2 32.7h0m0.5 0h0m2.5-74.8h0m0 4.7h0m0.1 32.7h0m-0.4 4.7h0m0.5 4.7h0m0.1 4.6h0m0.3 0h0m0 9.4h0m1.5-60.8h0m0 4.7h0m0.1 32.7h0m-0.4 4.7h0m0 4.7h0m0.3 9.3h0m2.1-56.1h0m0 4.7h0m-0.2 32.7h0m0.5 4.7h0m-0.2 4.7h0m-0.2 4.6h0m2.2-51.4h0m0 4.7h0m0.2 23.4h0m-0.3 4.6h0m0.7 4.7h0m-0.5 4.7h0m2-46.8h0m0 4.7h0m-0.2 18.7h0m0.2 4.7h0m-0.3 4.7h0m2.4-32.8h0m0 4.7h0m0.1 14h0m0.3 4.7h0m-0.7 4.7h0m2.4-28.1h0m0 4.7h0m0 14h0m0.1 4.7h0m-0.3 4.7h0m0.4 4.7h0m1.9-37.4h0m0 4.6h0m0 4.7h0m0.2 14h0m-0.2 4.7h0m-0.2 9.4h0m0.3 4.6h0m2-37.4h0m0 4.7h0m-0.1 14h0m-0.2 4.7h0m2.4-28h0m0 4.6h0m0 4.7h0m0.4 14h0m1.7-18.7h0m0 4.7h0m0.4 14h0m-0.2 4.7h0m1.9-28h0m0 4.6h0m-0.2 18.7h0m-0.3 9.4h0m0.8 4.7h0m1.8-42.1h0m0 4.7h0m0 4.6h0m-0.1 18.7h0m2.2-28h0m0 4.7h0m0.4 23.3h0m-0.8 4.7h0m0.5 4.7h0m2-37.4h0m0 4.7h0m0.2 18.7h0m-0.3 4.6h0m2.2-28h0m0 4.7h0m0.4 18.7h0m-0.5 4.6h0m0 4.7h0m0 9.4h0m0 4.6h0m2.2-46.7h0m0 4.7h0m0.1 18.7h0m-0.1 4.6h0m0.1 4.7h0m0.2 4.7h0m1.8-37.4h0m0 4.7h0m0.2 18.7h0m-0.3 4.6h0m-0.1 4.7h0m-0.1 9.4h0m2.4-42.1h0m0 4.7h0m-0.4 18.7h0m0.3 4.6h0m-0.2 4.7h0m-0.1 9.4h0m0.5 4.6h0m2-46.7h0m0.4 23.4h0m-0.3 4.6h0m-0.1 4.7h0m2.1-42.1h0m0 4.7h0m0 4.7h0m-0.5 23.4h0m0.7 4.6h0m0.1 4.7h0m-0.4 9.4h0m0.2 4.6h0m0 14.1h0m2-65.5h0m0 4.7h0m-0.3 32.7h0m0.4 4.7h0m-0.4 4.7h0m0.5 4.6h0m-0.3 4.7h0m0.2 4.7h0m0.1 4.7h0m1.9-65.5h0m0 4.7h0m0.2 42.1h0m0.1 4.6h0m0 4.7h0m-0.3 9.4h0m-0.3 4.6h0m2.4-74.8h0m0 4.7h0m0 4.7h0m-0.4 46.7h0m0.4 4.7h0m0.1 4.7h0m-0.7 4.7h0m0.5 4.6h0m0 4.7h0m0.4 14h0m-0.4 4.7h0m2.2-98.2h0m0 4.7h0m0 4.7h0m-0.4 46.7h0m0.5 4.7h0m0.1 9.4h0m0 4.6h0m-0.6 4.7h0m0.6 9.4h0m-0.2 9.3h0m0.4 9.4h0m-0.5 4.6h0m-0.2 9.4h0m2.4-112.2h0m0 4.7h0m-0.4 42h0m0.4 4.7h0m0.1 4.7h0m-0.2 4.7h0m0.1 4.6h0m-0.1 4.7h0m0.4 18.7h0m-0.1 4.7h0m-0.5 32.7h0m0.6 32.7h0m1.8-144.9h0m0 4.7h0m0 32.7h0m-0.1 4.7h0m-0.1 4.7h0m-0.2 4.6h0m0.5 4.7h0m-0.3 4.7h0m0.3 4.7h0m-0.3 9.3h0m0.3 4.7h0m0 9.3h0m0.1 4.7h0m1.9-84.1h0m0 4.6h0m-0.2 28.1h0m0.1 4.7h0m-0.2 4.6h0m0.3 23.4h0m-0.2 9.4h0m0.2 4.6h0m2.1-79.4h0m0 4.6h0m-0.1 32.8h0m-0.2 4.6h0m0.4 4.7h0m-0.3 9.4h0m0.5 9.3h0m-0.4 4.7h0m-0.1 4.7h0m0.5 4.6h0m1.8-79.4h0m0 4.6h0m0.1 28.1h0m-0.3 4.7h0m-0.2 4.6h0m0.5 9.4h0m-0.3 9.3h0m0.1 4.7h0m-0.2 4.7h0m0.4 4.7h0m2.6-84.2h0m-0.6 9.4h0m0 4.6h0m0.2 28.1h0m-0.1 4.7h0m-0.6 4.6h0m0.6 4.7h0m-0.2 9.4h0m-0.1 18.7h0m0.2 4.6h0m0 4.7h0m-0.3 4.7h0m0.6 9.3h0m-0.5 4.7h0m0.4 4.7h0m0.1 4.7h0m-0.2 4.6h0m0 14.1h0m0.5 0h0m0 18.7h0m1.5-149.6h0m0 4.6h0m2.1-4.6h0m0 4.6h0m0.4 32.8h0m-0.4 4.6h0m0.1 4.7h0m-0.5 9.4h0m0.7 4.6h0m-0.2 9.4h0m-0.5 9.3h0m0.5 4.7h0m0 4.7h0m-1.3 32.7h0m3.3-121.5h0m0 4.6h0m-0.4 28.1h0m0.7 4.7h0m-0.1 4.6h0m-0.1 4.7h0m-0.2 4.7h0m0.3 4.7h0m1.9-56.1h0m0 4.6h0m0 28.1h0m2.1-32.7h0m0 4.6h0m-0.2 28.1h0m-0.2 4.7h0m0.5 4.6h0m-0.3 4.7h0m0.1 23.4h0m0 4.7h0m0.1 4.6h0m2.1-79.4h0m0 4.6h0m0 28.1h0m-0.4 4.7h0m0.4 4.6h0m-0.3 9.4h0m2.4-51.4h0m0 4.6h0m0 28.1h0m-0.2 4.7h0m0 4.6h0m0.1 4.7h0m0.1 4.7h0m-0.3 23.4h0m0.5 4.6h0m-0.1 4.7h0m-0.1 4.7h0m2.1-88.8h0m0 4.6h0m0.1 28.1h0m-0.7 4.7h0m2.7-37.4h0m0 4.6h0m0.1 28.1h0m-0.4 4.7h0m0.3 4.6h0m0.1 9.4h0m-0.4 4.7h0m0.1 9.3h0m0.6 4.7h0m-0.4 4.7h0m0.4 4.6h0m-0.4 4.7h0m-0.1 9.4h0m0.1 4.6h0m-0.1 9.4h0m2.2-107.5h0m0 4.6h0m0.3 42.1h0m-0.3 4.7h0m-0.2 4.7h0m0.3 4.6h0m0 4.7h0m0 4.7h0m-0.3 18.7h0m0.1 4.7h0m-0.1 4.6h0m0.1 4.7h0m-0.1 4.7h0m0.1 4.7h0m2.2-112.2h0m0 4.6h0m-0.2 84.2h0m-0.3 4.7h0m0.4 4.6h0m0.1 4.7h0m-0.2 4.7h0m0.4 4.7h0m-0.2 4.6h0m-0.2 4.7h0m0.3 4.7h0m0.4 79.5h0m0 4.6h0m1.6-210.3h0m0 4.6h0m0.4 88.9h0m-0.3 4.6h0m-0.1 4.7h0m0.3 4.7h0m-0.5 4.7h0m0.1 4.6h0m0.1 4.7h0m0.1 4.7h0m2-126.2h0m0 4.6h0m-0.1 88.9h0m-0.1 4.6h0m-0.1 4.7h0m0.3 4.7h0m0 4.7h0m-0.3 4.6h0m0.2 4.7h0m0.1 4.7h0m-0.1 4.7h0m0.4 65.4h0m1.8-196.3h0m0 4.6h0m0.2 93.5h0m0 4.7h0m-0.3 4.7h0m0.3 4.7h0m-0.3 4.6h0m-0.1 4.7h0m0.2 4.7h0m-0.2 4.7h0m0.4 4.6h0m1.9-135.5h0m0 4.6h0m0.1 98.2h0m-0.3 4.7h0m0.1 4.7h0m0.6 4.6h0m-0.9 4.7h0m0.3 4.7h0m0.1 4.7h0m0 4.6h0m2.2-144.9h0m-0.1 9.4h0m0 4.6h0m0.1 107.6h0m-0.1 4.6h0m-0.1 4.7h0m-0.2 4.7h0m0.1 4.7h0m0.1 4.6h0m0.2 4.7h0m0 4.7h0m-0.1 9.3h0m0.2 4.7h0m-0.2 4.7h0m-0.1 4.7h0m0.5 4.6h0m-0.5 4.7h0m0.1 9.4h0m0.2 14h0m-0.7 4.7h0m2.6-205.7h0m0 4.6h0m-0.3 112.2h0m0.1 4.7h0m-0.1 9.4h0m0 4.6h0m0.3 4.7h0m-0.4 4.7h0m0.7 4.7h0m-0.3 9.3h0m0 4.7h0m0.3 4.7h0m0.2 9.3h0m-0.8 4.7h0m0.3 9.3h0m0.1 4.7h0m2-196.3h0m0 4.6h0m0.5 116.9h0m-0.3 4.7h0m-0.4 4.7h0m0.2 4.6h0m0.2 9.4h0m0.1 4.7h0m-0.4 4.6h0m0.2 9.4h0m2-163.6h0m0 4.6h0m-0.1 121.6h0m-0.3 4.7h0m0.4 4.6h0m0.3 4.7h0m-0.3 4.7h0m-0.1 4.7h0m0.3 4.6h0m0.1 4.7h0m-0.3 4.7h0m0 4.7h0m0.3 4.6h0m0.1 9.4h0m-1.3 23.4h0m3-205.7h0m0 4.6h0m-0.2 126.3h0m-0.2 4.6h0m0.1 4.7h0m0.4 4.7h0m0.1 9.3h0m-0.5 4.7h0m-0.1 4.7h0m0.4 4.7h0m-0.2 4.6h0m0.6 4.7h0m-0.5 4.7h0m2.2-182.3h0m0 4.6h0m0 130.9h0m-0.2 4.7h0m-0.2 4.7h0m0.3 9.3h0m0.3 4.7h0m-0.3 4.7h0m0.5 4.7h0m-0.5 4.6h0m0.1 4.7h0m-0.1 4.7h0m-0.1 14h0m0 9.4h0m0.3 4.6h0m2-210.3h0m0 4.6h0m-0.2 130.9h0m0.2 4.7h0m-0.2 4.7h0m0.3 4.7h0m0.2 4.6h0m-0.6 4.7h0m0 4.7h0m0.2 4.7h0m0.2 4.6h0m0.2 4.7h0m0 4.7h0m-0.9 9.3h0m2.7-191.6h0m0 4.6h0m-0.3 130.9h0m0.3 4.7h0m0.2 4.7h0m-0.2 4.7h0m-0.2 4.6h0m0.5 4.7h0m-0.2 4.7h0m-0.3 4.7h0m0.3 4.6h0m-0.6 4.7h0m0.5 14h0m0.6 9.4h0m-1 18.7h0m1 4.7h0m-0.6 4.6h0m2.9-238.4h0m-0.8 9.4h0m0 4.6h0m-0.5 130.9h0m0.6 4.7h0m0 4.7h0m-0.3 4.7h0m0.6 4.6h0m-0.5 4.7h0m-0.1 4.7h0m0.3 4.7h0m0.1 4.6h0m0 4.7h0m-0.3 4.7h0m0.4 4.7h0m-0.2 4.6h0m-0.5 4.7h0m0.6 4.7h0m-0.1 9.3h0m0 14.1h0m0.1 4.6h0m-0.4 4.7h0m0.4 9.4h0m0 14h0m0 4.7h0m0 9.3h0m0 18.7h0m1.9-289.8h0m0 4.6h0m0.3 130.9h0m-0.1 4.7h0m0.2 4.7h0m-0.6 4.7h0m0.1 4.6h0m0.4 9.4h0m-0.7 4.7h0m0.4 9.3h0m0 4.7h0m0.3 56.1h0m1.8-238.4h0m0 4.6h0m0.1 130.9h0m-0.4 4.7h0m0.8 4.7h0m-0.7 4.7h0m0.7 4.6h0m-0.3 4.7h0m0.1 4.7h0m-0.1 4.7h0m-0.1 4.6h0m-0.2 4.7h0m0 4.7h0m-0.1 4.7h0m-0.1 4.6h0m2.4-191.6h0m0 4.6h0m-0.1 130.9h0m0.4 4.7h0m-0.4 4.7h0m0.3 4.7h0m-0.1 4.6h0m0.3 4.7h0m-0.2 4.7h0m0.1 4.7h0m-0.1 4.6h0m-0.3 9.4h0m0.3 14h0m0 4.7h0m0.1 4.7h0m-0.1 4.6h0m0 4.7h0m1.9-215h0m0 4.6h0m0.2 130.9h0m0 9.4h0m-0.5 9.3h0m0.3 4.7h0m0 4.7h0m0.1 4.7h0m0 9.3h0m0 9.4h0m-0.1 14h0m0.1 4.7h0m0 4.6h0m-0.2 4.7h0m2.2-215h0m0 4.6h0m0 130.9h0m0.1 4.7h0m-0.1 9.4h0m0.3 4.6h0m-0.3 4.7h0m-0.3 4.7h0m0.8 56.1h0m-0.9 14h0m0 4.7h0m2.5-238.4h0m0 4.6h0m0.6 130.9h0m-0.9 4.7h0m0.2 9.4h0m-0.1 4.6h0m0.6 4.7h0m-0.4 4.7h0m-0.1 9.3h0m0 4.7h0m0 4.7h0m-0.3 4.7h0m-0.6 18.7h0m3.1-205.7h0m0 4.6h0m0 130.9h0m0.2 4.7h0m-0.2 4.7h0m-0.1 4.7h0m-0.3 4.6h0m0.3 4.7h0m0.4 4.7h0m-0.1 4.7h0m1.9-168.3h0m0 4.6h0m0 130.9h0m-0.1 4.7h0m0 4.7h0m0.2 4.7h0m-0.3 4.6h0m0.8 4.7h0m-0.7 4.7h0m-0.1 4.7h0m0.1 4.6h0m0.3 9.4h0m-0.2 23.4h0m0.9-215.1h0m1.6 0h0m-0.4 9.4h0m0 4.6h0m-0.2 130.9h0m0.2 4.7h0m0 9.4h0m-0.1 9.3h0m0.1 4.7h0m-0.2 4.7h0m0.4 4.6h0m0 4.7h0m-0.2 9.4h0m2.1-187h0m0 4.6h0m0.2 116.9h0m-0.1 4.7h0m0.2 4.7h0m0.1 4.6h0m-0.3 4.7h0m0.5 4.7h0m-0.6 4.7h0m-0.1 4.6h0m-0.1 4.7h0m0.1 4.7h0m0.1 4.7h0m2.1-168.3h0m0 4.6h0m0 112.2h0m-0.3 9.4h0m0.3 4.7h0m-0.1 4.6h0m-0.1 4.7h0m0.1 9.4h0m0.3 4.6h0m1.9-154.2h0m0 4.6h0m0 93.5h0m0 4.7h0m-0.3 4.7h0m0.3 4.7h0m0 4.6h0m0.2 14.1h0m1.9-130.9h0m0 4.6h0m0 88.9h0m0 4.6h0m0.3 4.7h0m-0.6 4.7h0m0.4 4.7h0m0.1 4.6h0m0.3 4.7h0m-0.3 4.7h0m-0.3 4.7h0m0.1 9.3h0m-0.1 4.7h0m0.2 9.3h0m2-154.2h0m0 4.6h0m-0.1 88.9h0m0 4.6h0m0.1 14.1h0m-0.1 4.6h0m0.3 4.7h0m0.1 4.7h0m-0.2 28h0m2-154.2h0m0 4.6h0m0 84.2h0m0.5 4.7h0m-0.3 4.6h0m-0.1 9.4h0m0.2 4.7h0m-0.4 4.6h0m0.1 9.4h0m1.6-135.6h0m0.5 9.4h0m0 4.6h0m0.1 84.2h0m0 4.7h0m0.2 4.6h0m-0.7 9.4h0m0.5 4.7h0m0.1 4.6h0m-0.3 4.7h0m0.4 4.7h0m-0.3 4.7h0m-0.1 9.3h0m2.2-140.2h0m0 4.6h0m0.3 84.2h0m0 4.7h0m-0.5 4.6h0m0.6 4.7h0m-0.7 4.7h0m0.2 9.3h0m0.2 4.7h0m-0.6 4.7h0m2.6-126.2h0m0 4.6h0m0 84.2h0m-0.2 4.7h0m0.1 4.6h0m0.3 4.7h0m-0.2 4.7h0m0.2 4.7h0m-0.3 51.4h0m0 4.7h0m0 9.3h0m2.2-177.6h0m0 4.6h0m0.2 84.2h0m-0.3 4.7h0m-0.2 4.6h0m0.2 9.4h0m-0.5 4.7h0m0.4 4.6h0m-0.1 4.7h0m-0.1 4.7h0m2.5-126.2h0m0 4.6h0m-0.2 84.2h0m0.7 4.7h0m-0.4 4.6h0m-0.1 14.1h0m0.1 4.6h0m-0.1 4.7h0m2.1-121.5h0m0 4.6h0m0.2 84.2h0m-0.1 4.7h0m-0.7 4.6h0m0.6 4.7h0m-0.3 4.7h0m0.6 4.7h0m-0.3 4.6h0m0.2 4.7h0m0.1 4.7h0m-0.6 37.4h0m2.4-163.6h0m0 4.6h0m0.1 84.2h0m-0.2 4.7h0m2.2-93.5h0m0 4.6h0m-0.2 84.2h0m0.1 4.7h0m0.5 4.6h0m-0.4 4.7h0m0.3 4.7h0m0 9.3h0m-0.5 4.7h0m0.2 4.7h0m0.4 4.7h0m1.7-130.9h0m0 4.6h0m0 84.2h0m0 4.7h0m-0.2 4.6h0m0.5 4.7h0m-0.3 4.7h0m0 4.7h0m0.2 4.6h0m-0.2 4.7h0m0.1 4.7h0m-0.6 4.7h0m0.6 4.6h0m2-135.5h0m0 4.6h0m0.1 84.2h0m-0.3 4.7h0m0 4.6h0m-0.2 4.7h0m0.7 9.4h0m-0.6 4.6h0m0.4 4.7h0m0.3 4.7h0m-0.2 4.7h0m1.9-130.9h0m0 4.6h0m0 79.5h0m-0.3 4.7h0m0.1 4.7h0m0.3 4.6h0m-0.2 4.7h0m-0.1 4.7h0m-0.2 4.7h0m0.5 9.3h0m0 4.7h0m-0.1 4.7h0m-0.3 4.6h0m0.6 4.7h0m1.8-140.2h0m0 4.6h0m-0.4 79.5h0m0.4 9.4h0m-0.5 4.6h0m2.6-98.1h0m0 4.6h0m0.2 79.5h0m0 4.7h0m0.1 4.7h0m-0.3 4.6h0m0.2 4.7h0m-0.3 4.7h0m0 9.3h0m0.1 9.4h0m0 4.7h0m-0.1 9.3h0m0 4.7h0m2.2-144.9h0m0 4.6h0m-0.6 79.5h0m0.9 4.7h0m-0.2 4.7h0m0 4.6h0m-0.2 4.7h0m-0.5 4.7h0m0.6 4.7h0m0.2 4.6h0m-0.4 32.8h0m2.3-149.6h0m0 4.6h0m-0.3 79.5h0m0.8 9.4h0m-0.6 4.6h0m0.2 4.7h0m-0.3 4.7h0m0.7 4.7h0m-0.9 4.6h0m0.2 4.7h0m0.3 4.7h0m-0.5 4.7h0m0.5 4.6h0m-0.2 4.7h0m2.2-140.2h0m0 4.6h0m-0.3 88.9h0m0.4 4.6h0m-0.1 4.7h0m-0.5 4.7h0m0.9 4.7h0m-0.4 4.6h0m0 4.7h0m-0.4 4.7h0m2.5-126.2h0m0 4.6h0m0.2 88.9h0m-0.4 4.6h0m1 4.7h0m-0.6 4.7h0m0 4.7h0m-0.3 9.3h0m0.2 9.4h0m-0.6 4.6h0m0.1 4.7h0m0.4 4.7h0m0 4.7h0m-0.3 9.3h0m0 4.7h0m-0.3 9.3h0m2.7-172.9h0m0 4.6h0m0 102.9h0m0.1 4.7h0m0 4.6h0m-0.5 4.7h0m0.3 4.7h0m0 4.7h0m-0.1 9.3h0m2.3-140.2h0m0 4.6h0m-0.3 98.2h0m-0.1 9.4h0m0.8 4.6h0m-0.4 4.7h0m0.1 4.7h0m0 4.7h0m-0.2 4.6h0m0.7 4.7h0m1.5-140.2h0m0 4.6h0m0.3 107.6h0m-0.6 4.6h0m0.3 4.7h0m0.1 4.7h0m-0.2 4.7h0m0 4.6h0m0.4 9.4h0m-0.5 4.7h0m2.3-149.6h0m0 4.6h0m0.4 116.9h0m-0.2 4.7h0m-0.4 4.7h0m0.2 4.6h0m0 4.7h0m0 4.7h0m-0.4 4.7h0m0.2 9.3h0m0.3 4.7h0m-0.6 4.7h0m2.6-168.3h0m0 4.6h0m-0.1 116.9h0m0 4.7h0m-0.4 4.7h0m0.7 4.6h0m0 4.7h0m0 4.7h0m-0.7 4.7h0m0.8 4.6h0m-0.4 4.7h0m0 4.7h0m-0.3 18.7h0m2.5-182.3h0m0 4.6h0m-0.1 121.6h0m0.4 4.7h0m-0.3 4.6h0m0.1 4.7h0m-0.2 4.7h0m0.2 4.7h0m0 4.6h0m-0.3 4.7h0m-0.1 4.7h0m0.2 4.7h0m-0.2 4.6h0m0.3 4.7h0m2.1-177.6h0m0 4.6h0m-0.6 121.6h0m0.4 4.7h0m0.2 4.6h0m0 4.7h0m-0.2 4.7h0m1 51.4h0m1.3-196.3h0m0 4.6h0m0.1 121.6h0m-0.1 4.7h0m0.6 9.3h0m-0.5 4.7h0m-1.3 4.7h0m1.3 0h0m-0.4 4.6h0m0.3 4.7h0m-0.3 4.7h0m0.5 4.7h0m0.4 14h0m-0.6 4.7h0m2.1-187h0m0 4.6h0m-0.1 121.6h0m-0.2 4.7h0m0 4.6h0m0.3 4.7h0m-0.4 4.7h0m0.6 4.7h0m-0.2 4.6h0m-0.1 4.7h0m0 4.7h0m0 4.7h0m2.2-42.1h0m-0.1 4.7h0m0.3 4.6h0m0.1 9.4h0m-0.6 4.7h0m0.1 4.6h0m0.3 4.7h0m-0.3 4.7h0m0.4 4.7h0m-0.3 4.6h0m2.5-172.9h0m-0.3 4.6h0m0.3 126.3h0m0.1 4.6h0m-0.1 4.7h0m0.1 4.7h0m-0.1 4.7h0m-0.7 4.6h0m0.5 4.7h0m-0.5 46.8h0m0.8 9.3h0m0 4.7h0m1.7-196.4h0m-0.2 112.2h0m0.2 4.7h0m0 9.4h0m-0.2 4.6h0m0.2 4.7h0m-0.4 4.7h0m2.4-144.9h0m0.2 116.8h0m-0.3 4.7h0m0.1 9.4h0m2.4-130.9h0m-0.3 4.6h0m0.2 4.7h0m0.2 116.9h0m-0.4 4.7h0m-0.1 4.6h0m0.1 4.7h0m0.4 4.7h0m-0.5 4.7h0m-0.1 4.6h0m0.2 4.7h0m2.2-158.9h0m-0.4 4.6h0m0.3 102.9h0m-0.1 4.7h0m0.3 4.6h0m0 4.7h0m-0.2 4.7h0m-0.4 4.7h0m0.6 4.6h0m1.7-144.9h0m-0.1 9.4h0m0.5 88.8h0m-0.1 4.7h0m0.2 4.6h0m0.2 4.7h0m-0.2 4.7h0m1.6-102.9h0m0 84.2h0m0.3 4.7h0m0.3 4.6h0m-0.4 14.1h0m0.4 4.6h0m1.8-121.5h0m-0.1 88.8h0m0.2 9.4h0m0 4.6h0m-0.3 4.7h0m2.4-102.8h0m-0.2 79.4h0m0.1 4.7h0m-0.1 4.7h0m0 4.7h0m0 4.6h0m0.2 4.7h0m-0.5 4.7h0m0.7 14h0m0 9.4h0m1.4-145h0m0.2 4.7h0m0.3 88.8h0m-0.3 4.7h0m0 4.7h0m0.1 4.7h0m0 4.6h0m0.2 4.7h0m-0.5 9.4h0m0.5 4.6h0m0.1 9.4h0m0 4.7h0m-0.2 9.3h0m0.1 4.7h0m2.1-149.6h0m-0.1 4.7h0m-0.4 74.8h0m0.2 4.6h0m-0.2 4.7h0m0.2 4.7h0m-0.1 4.7h0m0.5 4.6h0m-0.7 4.7h0m0.2 9.4h0m0.2 4.6h0m2.1-130.9h0m0.6 4.7h0m-0.3 9.4h0m-0.2 79.4h0m-0.1 4.7h0m0.5 4.7h0m-0.5 9.3h0m0.2 9.4h0m-0.4 4.7h0m0.2 4.6h0m-0.4 9.4h0m2.2-130.9h0m0.3 79.5h0m-0.1 4.6h0m0.5 4.7h0m-0.5 4.7h0m0.2 4.7h0m0.1 4.6h0m0 18.7h0m-0.2 14.1h0m0.1 4.6h0m-0.2 4.7h0m0.4 4.7h0m2-149.6h0m0.2 74.8h0m0 4.7h0m-0.5 4.6h0m0.3 4.7h0m-0.5 4.7h0m0.3 4.7h0m-0.4 4.6h0m0.5 4.7h0m0 18.7h0m0 9.4h0m0.1 9.3h0m1.9-144.9h0m0 74.8h0m0 4.7h0m0.3 9.3h0m-0.2 4.7h0m-0.1 4.7h0m0.3 4.6h0m-0.3 4.7h0m0.6 18.7h0m-0.3 4.7h0m0 9.3h0m-0.1 9.4h0m-0.3 4.7h0m-0.7 18.7h0m2.7-173h0m0.5 74.8h0m-0.1 4.7h0m-0.2 4.6h0m-0.2 4.7h0m0.8 4.7h0m-0.3 4.7h0m-0.3 4.6h0m-0.1 9.4h0m2.3-130.9h0m0.1 4.7h0m0.3 4.6h0m-0.6 4.7h0m-0.4 88.8h0m0.8 4.7h0m-0.4 4.7h0m0.3 4.7h0m-0.3 4.6h0m1.8-107.5h0m0.5 98.2h0m-0.1 4.7h0m0.2 4.6h0m0.1 4.7h0m-0.5 9.4h0m0.5 4.6h0m-0.3 4.7h0m2-130.9h0m0.9 102.9h0m-0.5 4.6h0m0.5 4.7h0m-0.9 4.7h0m0.2 4.7h0m0.1 4.6h0m-0.1 4.7h0m0.2 4.7h0m1.3-149.6h0m0.2 4.7h0m0.6 4.6h0m-0.3 4.7h0m0 4.7h0m0.2 98.2h0m-0.3 4.6h0m0.7 4.7h0m-0.2 4.7h0m0.1 4.7h0m-0.3 4.6h0m-0.1 4.7h0m-0.2 4.7h0m0.1 4.7h0m0.1 4.6h0m2.3-144.9h0m-0.3 4.7h0m-0.2 4.7h0m0.3 93.5h0m0.1 4.6h0m-0.4 4.7h0m-0.2 9.4h0m0.3 4.6h0m0.9 4.7h0m-0.5 4.7h0m2.1-144.9h0m-0.1 4.6h0m0 4.7h0m-0.6 4.7h0m0.6 98.2h0m0.4 4.6h0m-0.5 4.7h0m0.1 4.7h0m0.1 4.7h0m0 4.6h0m-0.1 4.7h0m0.4 4.7h0m-0.6 4.7h0m0.2 4.6h0m0.3 4.7h0m-0.8 4.7h0m0.8 4.7h0m-0.3 4.6h0m2.5-168.3h0m-0.1 4.7h0m-0.1 4.7h0m-0.7 4.7h0m0.4 93.5h0m0 4.6h0m0.2 4.7h0m-0.2 4.7h0m2.3-121.6h0m0.2 4.7h0m-0.3 4.7h0m0 9.3h0m0 98.2h0m0.2 4.7h0m-0.3 9.3h0m-0.3 4.7h0m0.5 4.7h0m-0.2 9.3h0m0.1 4.7h0m0.4 4.7h0m1.8-159h0m-0.4 4.7h0m0.3 4.7h0m0.3 4.7h0m-0.2 98.1h0m-0.5 4.7h0m0.2 4.7h0m0.2 4.7h0m1.9-126.3h0m-0.1 4.7h0m0.5 4.7h0m-0.3 4.7h0m-0.2 4.6h0m-0.3 93.5h0m0.1 4.7h0m0.1 4.7h0m2.6-107.5h0m0 4.6h0m-0.4 93.5h0m0.2 4.7h0m-0.1 4.7h0m0.1 4.7h0m0 4.6h0m-0.3 4.7h0m0.4 4.7h0m0.1 4.7h0m0 4.6h0m-0.2 4.7h0m0.1 4.7h0m1.6-149.6h0m0.7 4.7h0m0 4.6h0m-0.4 93.5h0m0.2 4.7h0m0 4.7h0m-0.1 4.7h0m-0.1 9.3h0m-0.2 4.7h0m0.4 4.7h0m-0.3 4.6h0m0 4.7h0m-0.2 4.7h0m2.4-149.6h0m0.3 4.7h0m-0.1 98.1h0m0 4.7h0m0.2 4.7h0m-0.3 4.7h0m0.3 4.6h0m-0.3 4.7h0m0.4 4.7h0m-0.4 18.7h0m1.7-144.9h0m0.4 4.6h0m0.2 93.5h0m-0.1 4.7h0m-0.4 4.7h0m0.2 4.7h0m0.7 4.6h0m-0.8 4.7h0m0.1 4.7h0m0.1 4.7h0m-0.3 4.6h0m2.7-149.6h0m-0.7 9.4h0m0.7 4.7h0m-0.2 4.6h0m0.4 93.5h0m-0.8 4.7h0m-0.1 4.7h0m0.7 4.7h0m0 4.6h0m-0.2 4.7h0m-0.3 4.7h0m-0.1 9.3h0m0.3 4.7h0m0.5 9.4h0m-0.3 4.6h0m0.3 4.7h0m0 4.7h0m-0.7 4.7h0m-0.3 9.3h0m0 4.7h0m2.7-84.2h0m-0.1 4.7h0m-0.1 4.7h0m-0.1 4.7h0m0.3 4.6h0m0.2 9.4h0m-0.1 4.7h0m0 4.6h0m-0.2 4.7h0m0 4.7h0m-0.2 4.7h0m0.1 4.6h0m0.1 4.7h0m1.9-182.3h0m-0.1 9.3h0m0.7 4.7h0m-0.1 102.9h0m-0.2 4.6h0m0.1 4.7h0m0 4.7h0m-0.3 4.7h0m-0.1 4.6h0m0.1 4.7h0m0.3 4.7h0m-0.5 4.7h0m0.3 4.6h0m0.1 14.1h0m1.8-187h0m-0.2 14h0m0.7 4.7h0m-0.7 4.6h0m0.3 107.6h0m0.5 4.6h0m-0.5 4.7h0m-0.2 4.7h0m0 4.7h0m0.5 9.3h0m-0.2 4.7h0m2.1-168.3h0m0.3 4.7h0m-0.1 4.6h0m0 4.7h0m0 4.7h0m-0.2 112.2h0m-0.2 14h0m0.5 4.7h0m-0.1 4.7h0m-0.3 4.6h0m0.4 4.7h0m1.8-168.3h0m0.2 4.7h0m-0.5 4.7h0m0.5 9.3h0m0 121.6h0m-0.1 4.6h0m-0.1 4.7h0m-0.4 4.7h0m0.5 4.7h0m0.4 4.6h0m-0.5 4.7h0m-0.5 4.7h0m0.3 4.7h0m2.4-191.7h0m0 4.7h0m0.3 9.3h0m-0.2 4.7h0m-0.4 4.7h0m-0.1 4.6h0m0.1 121.6h0m0.3 4.7h0m0 4.6h0m0.3 4.7h0m-0.3 4.7h0m0.2 4.7h0m-0.9 4.6h0m0.9 9.4h0m-0.2 4.7h0m2.2-191.7h0m-0.7 4.7h0m0.6 4.6h0m0.2 9.4h0m-0.1 135.6h0m0.1 4.6h0m-0.4 4.7h0m0.2 4.7h0m-0.2 4.7h0m0.3 4.6h0m0.1 4.7h0m-0.5 4.7h0m0.4 4.7h0m-0.3 4.6h0m-0.3 4.7h0m3-177.6h0m-0.5 130.9h0m0.7 4.6h0m-1.2 4.7h0m1.2 4.7h0m-0.4 9.3h0m-0.4 4.7h0m-0.2 4.7h0m2.5-187h0m-0.3 4.7h0m0.2 4.6h0m0 9.4h0m0 126.2h0m0.4 4.7h0m-0.4 9.3h0m0 4.7h0m-0.1 4.7h0m-1.1 4.7h0m1.7 0h0m-0.6 9.3h0m0.6 4.7h0m-1.2 4.7h0m0.9 4.6h0m-0.2 4.7h0m-0.6 4.7h0m2.8-196.4h0m-0.3 4.7h0m0.3 135.6h0m0.3 4.7h0m-0.5 4.6h0m-0.4 4.7h0m-0.1 4.7h0m1 4.7h0m-0.5 4.6h0m0.4 4.7h0m-0.2 4.7h0m0.1 9.3h0m-0.6 9.4h0m2.7-196.4h0m-0.2 135.6h0m-0.6 4.7h0m0.6 4.7h0m0 4.6h0m-0.1 4.7h0m-0.3 4.7h0m0.7 4.7h0m-0.6 4.6h0m0.4 4.7h0m-0.2 4.7h0m-0.3 9.3h0m0.4 4.7h0m2.5-280.5h0m0.4 4.7h0m-0.4 0h0m0 4.7h0m0.4 4.6h0m-0.4 9.4h0m0 4.7h0m0 9.3h0m0 4.7h0m-0.3 18.7h0m0.1 4.7h0m-0.3 4.6h0m-0.3 4.7h0m0.6 4.7h0m0 4.7h0m0.1 135.5h0m-0.5 4.7h0m0.4 4.7h0m0.1 4.7h0m-0.4 4.6h0m0.5 4.7h0m-0.6 4.7h0m0.3 9.3h0m0.2 4.7h0m0 4.7h0m-0.5 9.3h0m1.8-247.7h0m0.8 14h0m-0.3 42.1h0m0.3 135.5h0m0 9.4h0m-0.2 9.3h0m-0.1 4.7h0m0.3 4.7h0m-0.4 4.7h0m0.3 4.6h0m-0.3 4.7h0m-0.1 4.7h0m2.2-224.4h0m0 37.4h0m0.3 4.7h0m0 135.5h0m-0.5 4.7h0m0.8 4.7h0m-0.7 9.3h0m0.1 9.4h0m0 4.7h0m0.3 4.6h0m0.2 4.7h0m-0.7 4.7h0m0.1 4.7h0m0 4.6h0m-0.2 9.4h0m0.3 4.7h0m0.3 9.3h0m0 9.4h0m1.8-224.4h0m0 135.5h0m0 4.7h0m0.3 4.7h0m-0.3 4.7h0m-0.1 4.6h0m0.4 4.7h0m0.3 4.7h0m-1 4.7h0m0.8 4.6h0m0.1 4.7h0m-0.6 4.7h0m-0.1 4.7h0m2.1-187h0m0 140.2h0m0.3 4.7h0m0.2 4.7h0m-0.4 4.6h0m0.3 4.7h0m0.2 9.4h0m-0.4 4.6h0m0.1 4.7h0m0.3 4.7h0m-0.2 4.7h0m-0.4 4.6h0m0.1 14.1h0m2.2-317.9h0m0.2 0h0m0 9.3h0m-0.2 4.7h0m0.2 0h0m0.6 9.3h0m-0.6 0h0m-0.2 18.7h0m0.2 4.7h0m0 4.7h0m0.6 4.7h0m-0.6 0h0m0 4.6h0m-0.2 4.7h0m0.2 0h0m0 4.7h0m-0.1 37.4h0m0.7 4.7h0m-0.5 149.6h0m-0.1 4.6h0m-0.1 4.7h0m0.3 4.7h0m-0.4 4.7h0m2-187h0m0.8 4.6h0m-0.9 4.7h0m0 4.7h0m0.6 4.7h0m-0.8 154.2h0m0.5 4.7h0m-0.4 4.7h0m0.7 4.7h0m-0.3 4.6h0m0.3 4.7h0m-0.6 4.7h0m0.4 4.7h0m-0.5 14h0m0.3 9.3h0m0.5 4.7h0m0.1 4.7h0m-0.3 4.7h0m-0.2 4.6h0m-0.1 4.7h0m2.6-275.8h0m-0.6 42.1h0m-0.1 154.2h0m0.1 4.7h0m0.6 9.4h0m-0.1 4.6h0m-0.2 4.7h0m0.1 4.7h0m0.1 4.7h0m-0.1 4.6h0m-0.4 4.7h0m1.9-224.4h0m0.3 4.7h0m0.1 9.3h0m-0.5 4.7h0m0.9 9.4h0m-0.3 154.2h0m-0.1 9.4h0m-0.3 9.3h0m0.1 4.7h0m0 4.7h0m0.2 4.7h0m-0.1 4.6h0m0 4.7h0m0.4 4.7h0m-0.6 4.7h0m0.1 9.3h0m-0.2 28.1h0m0 14h0m0 9.3h0m2.5-280.5h0m0.1 4.7h0m0.3 4.7h0m-0.5 4.7h0m0.1 154.2h0m-0.2 4.7h0m0.5 4.7h0m-0.4 4.7h0m0.3 4.6h0m-0.4 4.7h0m0.2 4.7h0m0.1 4.7h0m0.1 4.6h0m-0.5 4.7h0m0.5 4.7h0m-0.3 9.3h0m0.3 4.7h0m-0.7 4.7h0m0.5 4.7h0m2.5-275.9h0m-0.9 4.7h0m0.9 4.7h0m-0.7 196.3h0m0.6 4.7h0m-0.3 4.7h0m0.1 4.7h0m0.5 4.6h0m-0.4 4.7h0m-0.8 4.7h0m0.5 4.7h0m0.4 4.6h0m0 4.7h0m-0.3 4.7h0m-0.2 9.3h0m-0.1 14.1h0m0.4 4.6h0m2.2-257.1h0m-0.6 4.7h0m1 4.7h0m-0.6 4.6h0m0.3 4.7h0m-0.3 4.7h0m0.5 158.9h0m-0.4 4.7h0m0.2 4.7h0m-0.5 4.7h0m0.2 4.6h0m-0.1 4.7h0m2.3-201h0m-0.5 4.7h0m0 4.6h0m0.3 9.4h0m0 4.7h0m0.5 154.2h0m-0.3 4.7h0m-0.6 4.7h0m0.1 4.7h0m0.8 4.6h0m-0.3 4.7h0m0 4.7h0m-0.1 4.7h0m1.9-229.1h0m-1 32.7h0m1.4 9.4h0m-0.1 158.9h0m0 4.7h0m-0.4 4.7h0m0.3 9.3h0m-0.1 4.7h0m0.1 4.7h0m0.2 4.6h0m0.1 4.7h0m-0.8 4.7h0m0.1 4.7h0m0.8 4.6h0m-0.3 4.7h0m-0.7 4.7h0m0.5 4.7h0m0.1 4.6h0m0.2 14.1h0m2.2-299.2h0m-1.2 14h0m0.6 28h0m0.5 4.7h0m-0.4 4.7h0m0.4 4.7h0m0.3 172.9h0m-0.2 9.4h0m-0.1 4.7h0m-0.6 9.3h0m0.5 4.7h0m0.4 4.7h0m-0.2 4.6h0m-0.2 4.7h0m0.5 4.7h0m-0.1 4.7h0m-0.3 4.6h0m-0.3 4.7h0m0.1 4.7h0m-0.2 4.7h0m0.1 9.3h0m0 4.7h0m-0.2 9.3h0m1.4-317.9h0m1.3 0h0m0 4.7h0m0 4.7h0m-0.4 18.7h0m-0.2 4.7h0m0.5 4.6h0m-0.2 4.7h0m0.4 4.7h0m-0.5 182.3h0m0 4.7h0m0.5 4.7h0m-0.1 4.6h0m0 4.7h0m0 4.7h0m-0.4 4.7h0m0.1 4.6h0m-0.3 4.7h0m-0.2 9.4h0m-0.2 4.6h0m1.1 4.7h0m-0.9 9.4h0m3-266.5h0m-0.5 4.7h0m-0.2 4.6h0m0.8 4.7h0m-0.5 4.7h0m0.5 4.7h0m-0.3 177.6h0m-0.3 4.7h0m0.1 4.7h0m0.1 9.3h0m-0.1 4.7h0m-0.1 4.7h0m2-196.4h0m0.2 4.7h0m-0.1 4.7h0m0 4.6h0m-0.3 159h0m0.6 4.7h0m0.2 4.6h0m0 4.7h0m0 4.7h0m-0.9 4.7h0m0.4 4.6h0m0.1 4.7h0m0.2 4.7h0m0.2 9.3h0m-0.6 4.7h0m0.2 4.7h0m-0.1 4.7h0m0.1 9.3h0m0.5 4.7h0m-0.4 4.7h0m0.7 4.6h0m0 4.7h0m0 9.4h0m0 4.6h0m1.5-271.1h0m-0.5 4.7h0m0.3 9.3h0m0 4.7h0m0.4 154.3h0m-0.5 4.6h0m0.2 4.7h0m-0.2 4.7h0m-0.4 4.7h0m0.5 9.3h0m-0.1 4.7h0m0.4 4.7h0m-0.2 4.6h0m-0.3 9.4h0m0.2 4.7h0m2-205.7h0m0.1 4.6h0m-0.1 149.6h0m0.2 4.7h0m0 4.7h0m0 4.7h0m0.5 4.6h0m-0.4 4.7h0m0 4.7h0m-0.3 4.7h0m0.2 4.6h0m0.1 4.7h0m-0.3 14h0m0.4 4.7h0m-0.4 4.7h0m2.3-215.1h0m0 4.7h0m-0.4 4.7h0m0.3 4.7h0m0.4 135.5h0m-0.3 4.7h0m-0.3 4.7h0m0.1 4.7h0m-0.2 9.3h0m0.5 4.7h0m-0.1 4.7h0m-0.5 4.6h0m0.2 4.7h0m0.2 4.7h0m0.4 4.7h0m1.6-201.1h0m0.3 4.7h0m-0.2 4.7h0m-0.1 4.7h0m-0.3 4.6h0m0.3 135.6h0m0.2 4.7h0m0.4 4.7h0m-0.4 4.6h0m-0.1 4.7h0m-0.3 4.7h0m0.5 4.7h0m-0.4 4.6h0m0.3 4.7h0m0 4.7h0m-0.4 9.3h0m-0.1 4.7h0m0.2 4.7h0m0.5 9.3h0m1.8-210.3h0m0 4.6h0m-0.1 4.7h0m0 4.7h0m0.5 126.2h0m-0.6 4.7h0m0.3 4.7h0m0.4 4.6h0m-0.4 4.7h0m2.2-158.9h0m-0.6 4.6h0m0.3 4.7h0m0.3 4.7h0m-0.2 126.2h0m-0.3 4.7h0m0 4.7h0m0.3 4.6h0m-0.3 9.4h0m0.6 4.7h0m-0.7 4.6h0m0.5 4.7h0m-0.2 14h0m-0.7 9.4h0m2.8-191.7h0m0.1 4.7h0m0.1 126.2h0m0 4.7h0m-0.4 4.7h0m0.3 4.6h0m-0.1 4.7h0m-0.1 4.7h0m0.2 9.3h0m0 4.7h0m0.1 23.4h0m0.4 4.7h0m1.4-201.1h0m0.1 4.7h0m-0.4 126.2h0m0.3 4.7h0m0.5 4.7h0m0.2 4.7h0m-0.3 4.6h0m0 4.7h0m-0.3 4.7h0m0.1 4.7h0m-0.1 4.6h0m-0.3 4.7h0m0.7 4.7h0m1.9-177.7h0m-0.3 4.7h0m0.2 126.2h0m-0.1 4.7h0m0.1 4.7h0m0.5 4.7h0m-0.5 4.6h0m0 4.7h0m0.2 4.7h0m-0.3 4.7h0m0.3 4.6h0m0 4.7h0m1.5-182.3h0m0.5 4.7h0m-0.1 4.6h0m-0.2 4.7h0m0.2 121.6h0m0 4.6h0m-0.1 4.7h0m-0.3 4.7h0m0.5 4.7h0m-0.1 4.6h0m-0.3 4.7h0m0.4 4.7h0m0.3 4.7h0m-0.7 4.6h0m0.4 4.7h0m-0.6 4.7h0m0.5 4.7h0m2.1-182.4h0m0.1 4.7h0m0 4.7h0m-0.2 121.5h0m0.2 4.7h0m-0.3 4.7h0m0.3 4.7h0m0.3 4.6h0m-0.7 4.7h0m0.6 4.7h0m0 4.7h0m-0.4 4.6h0m0.4 4.7h0m-0.4 4.7h0m2.5-215.1h0m-0.4 28.1h0m-0.2 4.7h0m0.2 4.6h0m0 4.7h0m0.2 4.7h0m-0.2 116.9h0m0.2 4.6h0m-0.6 4.7h0m0.7 4.7h0m-0.4 4.7h0m0 4.6h0m0.6 4.7h0m-0.1 32.7h0m1.2-191.6h0m0.3 4.6h0m0.5 126.3h0m0 4.6h0m-0.4 4.7h0m0.4 4.7h0m-0.4 4.7h0m0.1 4.6h0m0.3 4.7h0m0 4.7h0m-0.2 4.7h0m0 4.6h0m0 9.4h0m1.9-177.7h0m-0.4 4.7h0m0.8 121.6h0m-0.1 4.6h0m-0.3 9.4h0m0.5 4.7h0m-0.4 4.6h0m0 4.7h0m-0.4 4.7h0m0.4 4.7h0m0.5 4.6h0m2-168.3h0m-0.3 4.7h0m-0.2 121.6h0m0.6 9.3h0m-0.3 4.7h0m0.1 4.7h0m-0.4 4.6h0m0.3 4.7h0m-0.2 4.7h0m-0.2 4.7h0m0.2 4.6h0m-0.1 4.7h0m2.5-173h0m-0.3 4.7h0m0.2 121.6h0m-0.3 4.6h0m-0.3 4.7h0m0.9 9.4h0m-0.2 4.6h0m-0.1 9.4h0m-0.8 4.7h0m0.9 4.6h0m1.5-168.3h0m0.6 4.7h0m-0.2 116.9h0m-0.2 4.7h0m0.2 4.6h0m-0.2 4.7h0m0.1 4.7h0m-0.3 4.7h0m0.4 4.6h0m-0.5 4.7h0m0.5 4.7h0m-0.3 4.7h0m2.6-163.7h0m0 4.7h0m-0.3 116.9h0m0.3 4.7h0m0 4.6h0m0.1 4.7h0m-0.1 4.7h0m0 4.7h0m-0.5 4.6h0m2.5-158.9h0m-0.1 4.7h0m0.7 4.6h0m-0.7 4.7h0m-0.1 116.9h0m0.3 4.7h0m-0.1 4.6h0m0.1 4.7h0m2.1-140.2h0m-0.3 4.6h0m0 4.7h0m0 116.9h0m0.2 4.7h0m0.1 4.6h0m-0.4 4.7h0m0.2 4.7h0m0 4.7h0m-0.1 4.6h0m0.7 42.1h0m1.5-74.8h0m0.3 9.4h0m-0.5 4.6h0m0.5 4.7h0m0.3 4.7h0m-0.5 4.7h0m0 4.6h0m0.1 4.7h0m-0.1 4.7h0m2-177.7h0m0.1 9.4h0m0 4.7h0m0 112.2h0m0.2 4.6h0m-0.2 4.7h0m-0.2 4.7h0m0.3 4.7h0m-0.3 4.6h0m0 4.7h0m0.2 4.7h0m0 4.7h0m-0.5 9.3h0m0.2 9.4h0m2.5-173h0m-0.6 4.7h0m0.9 4.6h0m-0.4 93.5h0m0.5 4.7h0m-0.6 4.7h0m-0.3 4.7h0m0.5 4.6h0m0.2 4.7h0m1.4-130.9h0m0.3 4.7h0m-0.1 98.2h0m-0.1 14h0m0.5 4.7h0m0.1 4.6h0m0.1 4.7h0m-0.6 4.7h0m-0.2 4.7h0m2.8-145h0m-0.2 4.7h0m-0.1 9.4h0m0.1 88.8h0m-0.1 4.7h0m-0.2 4.6h0m0 4.7h0m-0.1 4.7h0m2.6-112.2h0m-0.4 88.8h0m-0.1 4.7h0m0.1 4.7h0m0.4 4.6h0m0 4.7h0m-0.5 4.7h0m0 4.7h0m0.3 4.6h0m0.1 9.4h0m-0.4 4.7h0m0 4.6h0m2.3-149.6h0m0.5 4.7h0m-0.4 4.7h0m-0.2 84.1h0m0.2 4.7h0m0.1 4.7h0m2-112.2h0m-0.4 4.7h0m0.6 4.6h0m-0.2 4.7h0m-0.2 4.7h0m0.4 84.1h0m0 4.7h0m-0.2 4.7h0m0.1 4.7h0m-0.4 4.6h0m0.1 4.7h0m-0.1 4.7h0m0.3 51.4h0m1.9-168.3h0m0.3 84.2h0m-0.2 4.6h0m0.4 4.7h0m-0.7 9.4h0m0.3 4.6h0m0.1 4.7h0m-0.4 4.7h0m0.2 9.3h0m0.1 4.7h0m0.1 4.7h0m-0.3 9.3h0m0.1 9.4h0m0 4.7h0m2.9-196.4h0m0 9.4h0m-0.3 18.7h0m-0.8 4.6h0m0.5 4.7h0m0 4.7h0m0 79.5h0m-0.2 4.6h0m0.1 4.7h0m0.1 4.7h0m1.7-168.3h0m0.2 60.8h0m-0.1 4.6h0m0 4.7h0m0.5 84.2h0m-0.1 4.6h0m-0.2 4.7h0m1.4-144.9h0m0.8 42.1h0m-0.1 4.6h0m0 4.7h0m-0.5 84.2h0m0.2 4.6h0m0.5 9.4h0m0.1 4.7h0m-0.4 4.6h0m0.3 4.7h0m-0.3 18.7h0m0.5 4.7h0m1.9-144.9h0m0.5 4.6h0m0 4.7h0m-0.6 84.2h0m0.1 4.6h0m0 4.7h0m1.1-163.6h0m0 9.3h0m0 14.1h0m0.9 37.4h0m-0.4 4.6h0m0.2 4.7h0m0.4 84.2h0m-0.8 4.6h0m1 4.7h0m-0.2 4.7h0m-0.4 4.7h0m0.2 4.6h0m-0.6 14.1h0m0.5 9.3h0m0.2 4.7h0m-0.1 4.7h0m-0.1 4.6h0m2.1-158.9h0m-0.2 9.3h0m0.1 4.7h0m0.1 84.2h0m-0.1 4.6h0m-0.3 4.7h0m0.2 9.4h0m0.1 4.6h0m0.2 4.7h0m0.3 23.4h0m-0.7 4.7h0m2-149.6h0m0.5 4.6h0m-0.6 4.7h0m0.7 84.2h0m-0.2 4.6h0m0 4.7h0m-0.2 4.7h0m0.3 4.7h0m-0.3 4.6h0m0.3 4.7h0m-0.3 4.7h0m0.8 4.7h0m1.2-121.6h0m0.7 84.2h0m-0.5 4.6h0m-0.1 4.7h0m-0.1 4.7h0m0.5 4.7h0m-0.2 9.3h0m0 9.4h0m-0.4 4.6h0m0.7 14.1h0m-0.3 23.3h0m1.7-168.3h0m-0.2 4.7h0m0.7 84.2h0m-0.2 4.6h0m0.1 4.7h0m-0.6 4.7h0m0.8 4.7h0m-0.6 4.6h0m0.5 4.7h0m-0.3 9.4h0m0.2 4.6h0m-0.1 4.7h0m2.1-140.2h0m-0.5 4.6h0m0.6 4.7h0m-0.3 88.8h0m0.1 4.7h0m0.3 4.7h0m-0.3 4.7h0m0.1 4.6h0m0.1 4.7h0m-0.1 4.7h0m0.4 4.7h0m2-135.6h0m-0.5 4.7h0m0.4 4.6h0m0 4.7h0m0 84.2h0m-0.2 9.3h0m0 4.7h0m0.7 9.3h0m-0.5 14.1h0m0.5 28h0m1.7-163.6h0m-0.2 9.3h0m0.3 4.7h0m-0.1 4.7h0m-0.2 79.5h0m-0.1 9.3h0m0.3 4.7h0m-0.1 9.3h0m-0.3 4.7h0m2.1-126.2h0m0.7 4.7h0m-0.8 4.6h0m0.2 4.7h0m0.1 4.7h0m-0.4 79.5h0m0.7 4.6h0m-0.2 4.7h0m2.3-88.8h0m-0.8 79.5h0m1 4.6h0m-0.2 4.7h0m-0.5 4.7h0m0.3 14h0m-0.3 4.7h0m2.2-112.2h0m0 84.1h0m0.4 4.7h0m0.1 9.4h0m-0.8 4.6h0m0.3 4.7h0m0.1 4.7h0m0.2 4.7h0m2.3-126.3h0m-1 9.4h0m1.2 79.5h0m-0.9 4.6h0m0.4 4.7h0m-0.2 4.7h0m0 4.7h0m-0.2 4.6h0m2.5-116.8h0m0.2 9.3h0m-0.4 84.2h0m-0.4 4.6h0m0 4.7h0m0.6 4.7h0m0.5 4.7h0m-0.8 4.6h0m0 4.7h0m2.3-116.9h0m-0.4 4.7h0m0.6 84.2h0m-0.4 9.3h0m0.2 4.7h0m0.3 4.7h0m1.6-149.6h0m0 9.3h0m-0.3 18.7h0m0.6 14h0m0.2 88.9h0m-0.7 4.6h0m0.6 4.7h0m0 4.7h0m-0.3 4.7h0m0 4.6h0m0.3 4.7h0m2.1-121.5h0m-0.7 4.6h0m0.3 93.5h0m0.3 4.7h0m2.6-112.2h0m-0.5 4.7h0m-0.1 4.7h0m0 4.6h0m0.1 4.7h0m0 84.2h0m0.2 4.6h0m-0.2 4.7h0m0.5 4.7h0m1.4-112.2h0m0.1 4.7h0m0.4 4.6h0m0.1 4.7h0m-0.4 4.7h0m0.1 79.5h0m-0.7 4.6h0m0.6 4.7h0m-0.6 4.7h0m-0.1 4.7h0m0.6 4.6h0m-0.1 4.7h0m2.1-107.5h0m0 79.5h0m-0.1 4.6h0m-0.1 4.7h0m0.2 9.4h0m-0.1 4.6h0m0.7 4.7h0m-0.5 4.7h0m1.9-107.5h0m0.2 79.4h0m0.3 4.7h0m-0.2 4.7h0m-0.4 4.7h0m0.4 4.6h0m-0.6 4.7h0m0.5 4.7h0m-0.2 4.7h0m0.6 4.6h0m2.1-130.9h0m-0.3 14.1h0m0 84.1h0m0.1 4.7h0m0.2 4.7h0m-0.2 4.6h0m-0.3 4.7h0m0 23.4h0m0 14h0m-0.2 4.7h0m0.3 4.7h0m2.4-168.3h0m-0.6 4.6h0m0.5 4.7h0m-0.3 4.7h0m0.1 4.7h0m-0.5 88.8h0m0.7 4.7h0m-0.6 4.6h0m2.3-112.2h0m0 4.7h0m0.1 4.7h0m0.3 4.7h0m-0.1 4.6h0m0.1 88.9h0m0 4.6h0m0.1 4.7h0m-0.8 4.7h0m0.5 4.7h0m0.1 4.6h0m-0.3 4.7h0m0.3 37.4h0m0 18.7h0m2.1-187h0m-0.3 4.7h0m0.3 4.7h0m-0.4 4.6h0m0.5 88.9h0m-0.1 4.6h0m-0.3 4.7h0m0.2 4.7h0m-0.4 4.7h0m0.8 4.6h0m-0.5 4.7h0m0 4.7h0m0.1 4.7h0m0.2 4.6h0m-0.5 4.7h0m0.3 9.4h0m0.6 4.6h0m-0.6 4.7h0m-0.2 4.7h0m2.5-168.3h0m-0.1 4.7h0m-0.1 98.1h0m-0.4 4.7h0m0.2 4.7h0m-0.2 4.7h0m0.7 4.6h0m-0.6 4.7h0m2-112.2h0m-0.3 88.8h0m0.5 4.7h0m0 4.7h0m0.1 4.7h0m0.3 4.6h0m0 4.7h0m-0.5 4.7h0m0.2 4.7h0m0.4 9.3h0m0.2 4.7h0m-0.6 4.7h0m2.6-149.6h0m-0.3 4.6h0m0.5 4.7h0m-0.3 88.8h0m-0.5 4.7h0m-0.1 4.7h0m0.3 4.7h0m0.3 9.3h0m-0.5 4.7h0m0 4.7h0m0.4 23.3h0m2.1-149.6h0m-0.5 93.5h0m0.7 4.7h0m-0.2 4.7h0m-0.2 4.7h0m0.3 9.3h0m-0.2 4.7h0m0 4.7h0m-0.4 14h0m2.7-149.6h0m-0.2 4.7h0m-0.4 4.6h0m0.2 98.2h0m0.7 9.4h0m-0.6 4.6h0m1.9-116.8h0m0.1 4.6h0m0.2 4.7h0m0 93.5h0m0.3 14h0m-0.9 4.7h0m0.5 4.7h0m0.3 4.7h0m0 4.6h0m-0.2 4.7h0m-0.2 4.7h0m2.2-154.3h0m-0.5 9.4h0m0.5 4.6h0m0.3 4.7h0m0 98.2h0m-0.2 4.7h0m-0.1 4.6h0m-0.3 9.4h0m0.4 4.7h0m-0.1 9.3h0m0 4.7h0m-0.3 9.3h0m0.2 4.7h0m2.1-154.3h0m0.1 4.7h0m0 93.5h0m-0.1 4.7h0m-0.1 4.7h0m-0.1 4.6h0m0.7 4.7h0m-0.2 4.7h0m-0.3 9.3h0m0.1 4.7h0m1-182.3h0m0.7 14h0m0.5 32.7h0m-0.2 98.2h0m-0.3 4.7h0m0.2 4.7h0m-0.2 9.3h0m0.5 4.7h0m0.3 4.7h0m-0.3 4.6h0m2.2-135.5h0m-0.2 102.8h0m0.2 4.7h0m-0.2 4.7h0m0.1 4.6h0m2.1-126.2h0m-0.1 4.7h0m0 4.7h0m-0.1 4.6h0m0 98.2h0m0.1 4.7h0m0.3 9.3h0m-0.6 4.7h0m0.3 4.7h0m-0.2 4.7h0m0 4.6h0m2.2-154.2h0m0.1 4.6h0m0.1 9.4h0m-0.4 4.7h0m0.1 4.6h0m0.3 98.2h0m-0.4 4.7h0m0.6 9.3h0m-0.1 4.7h0m0.1 4.7h0m-0.2 4.7h0m-0.1 4.6h0m-0.3 4.7h0m0.3 4.7h0m0 4.7h0m-0.3 4.6h0m2.3-158.9h0m-0.2 4.7h0m0.1 102.8h0m0.4 4.7h0m-0.2 4.7h0m-0.4 4.6h0m0.5 4.7h0m-0.4 4.7h0m0 4.7h0m0 9.3h0m0.5 4.7h0m0 9.3h0m1.7-158.9h0m0.2 4.7h0m0.4 102.8h0m-0.3 4.7h0m-0.2 4.7h0m-0.1 4.6h0m0.5 4.7h0m0.1 4.7h0m0 4.7h0m0.1 4.6h0m-0.3 4.7h0m0.2 4.7h0m-1.1 23.4h0m0 18.7h0m2.7-201.1h0m0.1 14.1h0m-1.1 0h0m1 102.8h0m-0.3 9.4h0m0.3 4.6h0m0.3 9.4h0m-0.1 4.7h0m0 4.6h0m-0.3 9.4h0m0.4 14h0m1.1-196.3h0m0 4.6h0m1 14.1h0m0.1 4.6h0m0 4.7h0m0.3 4.7h0m-1 4.7h0m0.2 102.8h0m0 4.7h0m-0.3 4.7h0m0.7 4.6h0m-0.3 4.7h0m0 4.7h0m0.2 4.7h0m-0.2 4.6h0m0 4.7h0m2.2-140.2h0m0.2 102.8h0m-0.3 4.7h0m0.2 4.7h0m0.1 4.6h0m-0.1 4.7h0m-0.2 4.7h0m-0.1 4.7h0m0.6 4.6h0m-0.5 42.1h0m0 14h0m2.3-215h0m0.2 4.7h0m-0.5 4.6h0m-0.2 4.7h0m-0.1 4.7h0m0.7 107.5h0m0 4.7h0m-0.7 4.7h0m0 14h0m0.4 4.7h0m0.2 4.6h0m0.1 18.7h0m1.6-172.9h0m0.3 4.6h0m0.1 4.7h0m-0.4 112.2h0m0.2 4.7h0m0.7 4.7h0m-0.3 4.6h0m0.2 4.7h0m1.6-135.6h0m-0.2 9.4h0m0.1 107.5h0m0.1 4.7h0m0.2 4.7h0m1.9-149.6h0m-0.3 14h0m0.6 9.3h0m-0.4 4.7h0m-0.2 112.2h0m0.3 4.7h0m0.2 4.7h0m0.2 4.6h0m0 4.7h0m1.9-135.6h0m0.2 9.4h0m-0.4 107.5h0m0 4.7h0m0.2 4.7h0m0.1 4.6h0m0 4.7h0m-0.1 4.7h0m0.1 4.7h0m-0.6 4.6h0m0.2 4.7h0m-0.2 23.4h0m0.1 4.7h0m2.5-182.4h0m0.1 9.4h0m0.2 4.7h0m-0.3 102.8h0m-0.1 4.7h0m0.2 4.7h0m0.2 4.6h0m-0.3 4.7h0m-0.9 4.7h0m0.7 4.7h0m-0.2 4.6h0m0.2 4.7h0m-0.1 4.7h0m2.1-140.3h0m0 116.9h0m0.3 4.7h0m-0.1 4.7h0m0.1 4.6h0m-0.5 4.7h0m0.4 4.7h0m-0.3 4.7h0m2.2-116.9h0m0.6 112.2h0m-0.2 9.3h0m-0.3 4.7h0m0.3 4.7h0m-0.4 4.7h0m0.2 4.6h0m0 4.7h0m-0.1 4.7h0m0.3 9.3h0m-0.3 4.7h0m0.2 9.4h0m-0.1 0h0m-0.2 0h0m0.1 4.6h0m0.1 0h0m0.4 4.7h0m-0.4 0h0m-0.2 0h0m0.5 4.7h0m-0.3 9.3h0m-0.2 0h0m0 0h0m0.2 4.7h0m1.7-224.4h0m0.1 4.7h0m-0.2 4.7h0m0.5 4.6h0m0 4.7h0m0.1 9.4h0m-0.1 107.5h0m0.3 4.7h0m-1.1 4.6h0m0.8 4.7h0m-0.2 4.7h0m0.4 4.7h0m-0.6 4.6h0m0.9 4.7h0m-0.5 9.4h0m0 4.6h0m-0.3 4.7h0m0.1 18.7h0m2.3-201h0m-0.2 4.7h0m-0.1 4.6h0m0 4.7h0m0.2 4.7h0m0.2 4.7h0m-0.5 107.5h0m0.3 4.7h0m-0.2 4.6h0m0.3 9.4h0m-0.5 4.7h0m0.1 4.6h0m2.6-154.2h0m0.1 4.6h0m-0.4 4.7h0m0.3 4.7h0m-0.2 4.7h0m-0.2 4.6h0m-0.3 102.9h0m0.6 9.3h0m-0.1 4.7h0m0.3 4.7h0m-0.4 4.7h0m-0.5 4.6h0m0.6 9.4h0m-0.1 4.7h0m-0.3 4.6h0m0.6 4.7h0m1.7-173h0m0.3 4.7h0m0.2 4.7h0m-0.4 9.3h0m0.3 4.7h0m-0.3 98.2h0m-0.4 4.7h0m0.6 4.6h0m-0.3 4.7h0m0.1 4.7h0m-0.2 4.7h0m0.1 4.6h0m0.5 4.7h0m-0.2 4.7h0m1.8-149.6h0m-0.1 4.7h0m0.5 4.6h0m-0.2 4.7h0m-0.2 98.2h0m0.2 4.7h0m0.5 4.6h0m-0.4 4.7h0m0.1 4.7h0m-0.2 9.3h0m0.4 4.7h0m-0.9 4.7h0m2.5-130.9h0m0 93.5h0m-0.1 4.7h0m0.3 4.6h0m-0.1 4.7h0m-0.3 4.7h0m0 4.7h0m0.2 9.3h0m2.6-154.3h0m-0.3 4.7h0m-0.4 4.7h0m0 4.7h0m0.3 9.3h0m0 4.7h0m-0.2 93.5h0m0.5 4.7h0m-0.3 4.6h0m0 4.7h0m-0.4 9.4h0m0.4 4.6h0m0 4.7h0m1.9-140.2h0m-0.1 4.6h0m0.6 98.2h0m-0.7 4.7h0m0.4 9.3h0m-0.2 4.7h0m2.3-144.9h0m-0.2 4.7h0m0.2 4.6h0m-0.2 4.7h0m0.2 4.7h0m-0.3 4.7h0m0.6 102.8h0m-0.2 4.7h0m-0.2 4.7h0m0 4.6h0m-0.1 4.7h0m0.2 4.7h0m0.1 4.7h0m0.1 4.6h0m0 4.7h0m2.3-182.3h0m-0.7 18.7h0m0.3 4.7h0m0.2 4.6h0m-0.4 4.7h0m0.4 4.7h0m0 102.8h0m-0.4 4.7h0m0.2 4.7h0m0 9.3h0m-0.1 9.4h0m0 4.7h0m0 4.6h0m2.5-163.6h0m-0.4 4.7h0m0 4.7h0m-0.2 4.6h0m0.2 9.4h0m-0.3 4.7h0m0.5 98.1h0m0.1 4.7h0m-0.2 4.7h0m0.1 4.7h0m0.3 4.6h0m-0.3 9.4h0m0 4.7h0m-0.3 4.6h0m2.2-144.9h0m0.1 9.4h0m-0.2 98.1h0m0.4 4.7h0m-0.7 4.7h0m0.6 4.7h0m0 4.6h0m-0.5 4.7h0m0.5 4.7h0m0 4.7h0m2.3-145h0m-0.3 4.7h0m0 4.7h0m0.1 4.7h0m0.4 9.3h0m0 93.5h0m-0.8 4.7h0m0.3 4.7h0m-0.3 4.6h0m0.4 4.7h0m0 4.7h0m-0.1 4.7h0m0.1 14h0m1.9-159h0m0 9.4h0m0.1 4.7h0m0.5 4.6h0m-0.5 4.7h0m0.4 88.8h0m-0.4 9.4h0m0 4.7h0m-0.2 4.6h0m0.4 4.7h0m-0.2 4.7h0m0 4.7h0m1.7-135.6h0m0.4 4.7h0m-0.4 98.1h0m0.6 9.4h0m-0.2 4.7h0m-0.1 4.6h0m0.4 4.7h0m-0.4 4.7h0m0.2 4.7h0m0 4.6h0m-0.2 4.7h0m0.5 4.7h0m2-149.6h0m-0.1 4.7h0m-0.2 4.6h0m0.4 4.7h0m-0.1 93.5h0m-0.4 4.7h0m0.2 4.7h0m-0.6 4.6h0m0.4 4.7h0m0.1 4.7h0m0.1 4.7h0m0.1 9.3h0m-0.4 4.7h0m2.1-168.3h0m0.6 14h0m-0.4 9.4h0m0.2 4.6h0m-0.5 98.2h0m0.2 4.7h0m0 4.7h0m0.3 4.6h0m1.9-112.2h0m0.1 4.7h0m-0.2 93.5h0m0.2 4.7h0m-0.1 4.7h0m0.3 4.6h0m0.2 4.7h0m-0.3 4.7h0m-0.4 4.7h0m0.3 4.6h0m-0.2 9.4h0m2.4-163.6h0m-0.2 4.6h0m0.3 4.7h0m-0.2 4.7h0m-0.2 4.7h0m0.2 4.6h0m-0.4 98.2h0m-0.1 4.7h0m0.4 4.7h0m-0.2 4.6h0m-0.3 4.7h0m0.5 4.7h0m-0.1 4.7h0m0.4 4.6h0m-0.4 4.7h0m0.4 4.7h0m1.9-144.9h0m-0.1 4.6h0m-0.1 93.5h0m0.3 4.7h0m-0.2 4.7h0m-0.2 4.7h0m0.1 4.6h0m-0.3 9.4h0m0.7 4.7h0m-0.3 4.6h0m0 4.7h0m1.8-173h0m0.7 14.1h0m-0.4 4.6h0m-0.2 4.7h0m0.3 4.7h0m0 4.7h0m0.3 98.1h0m-0.6 4.7h0m0.1 4.7h0m0.5 4.7h0m-0.3 4.6h0m-0.2 4.7h0m0.3 4.7h0m-0.5 9.3h0m2.4-158.9h0m0 4.7h0m0 4.6h0m0.2 9.4h0m-0.1 4.7h0m-0.9 102.8h0m0.9 4.7h0m-0.3 4.7h0m0.3 4.6h0m-0.5 4.7h0m0.2 4.7h0m0.7 4.7h0m-0.1 4.6h0m-0.7 4.7h0m0 4.7h0m0.3 4.7h0m-0.9 18.7h0m0 23.3h0m3.3-191.6h0m-0.1 102.8h0m-0.3 4.7h0m0.1 9.3h0m2.3-140.2h0m0 9.3h0m-0.2 4.7h0m0.3 4.7h0m-0.3 4.7h0m-0.4 98.1h0m0.9 4.7h0m-0.3 4.7h0m-0.2 4.7h0m0.1 4.6h0m-0.3 4.7h0m0.5 4.7h0m-0.1 4.7h0m0.3 9.3h0m-0.4 4.7h0m1.7-168.3h0m0 4.7h0m0.2 9.3h0m-0.1 88.8h0m0.1 4.7h0m0.3 4.7h0m0 4.7h0m0.9-126.3h0m1 9.4h0m0.2 4.7h0m-0.4 4.6h0m0.4 4.7h0m-0.2 4.7h0m-0.1 4.7h0m0.3 74.8h0m-0.4 4.6h0m0.2 4.7h0m0.1 4.7h0m-0.1 4.7h0m0 9.3h0m2.3-28h0m0.1 4.6h0m-0.4 4.7h0m0 4.7h0m-0.2 4.7h0m-0.2 4.6h0m2.7-121.5h0m-0.2 4.7h0m0 4.6h0m0.3 14.1h0m0.1 4.6h0m-0.3 70.2h0m0.2 9.3h0m0.3 4.7h0m-0.3 4.7h0m-0.2 4.6h0m0.1 4.7h0m0.1 4.7h0m0.1 9.3h0m-0.3 4.7h0m0.4 28.1h0m1.5-177.7h0m0.3 23.4h0m-0.3 4.7h0m0.6 74.8h0m-0.2 4.6h0m-0.1 4.7h0m-0.1 4.7h0m0.3 4.7h0m-0.2 4.6h0m0.4 4.7h0m-0.5 9.4h0m2-116.9h0m0.2 79.5h0m-0.2 4.6h0m0 4.7h0m0 4.7h0m0.1 4.7h0m-0.1 4.6h0m-0.1 14.1h0m0.4 4.6h0m1.8-144.9h0m0.3 9.4h0m-0.2 4.6h0m0 84.2h0m-0.1 4.7h0m0.3 4.6h0m-0.4 9.4h0m0 4.7h0m0 4.6h0m0.2 4.7h0m2.3-149.6h0m0.2 4.7h0m-0.3 9.3h0m-0.4 4.7h0m0.7 4.7h0m-0.4 93.5h0m0.3 4.7h0m-0.4 4.6h0m0 4.7h0m0.1 4.7h0m2.3-116.9h0m0.3 4.7h0m-0.6 93.5h0m0.4 4.7h0m-0.2 4.6h0m0 9.4h0m-0.5 4.7h0m0.2 4.6h0m0.7 9.4h0m-0.4 4.7h0m2.1-149.6h0m0.1 4.6h0m-0.3 4.7h0m0.2 4.7h0m0 88.8h0m-0.1 4.7h0m-0.1 4.7h0m0.3 4.6h0m-0.1 4.7h0m-0.2 4.7h0m0 4.7h0m0.4 4.6h0m-0.2 4.7h0m0.1 4.7h0m-0.5 9.3h0m2.8-149.6h0m-0.1 4.7h0m-0.6 4.7h0m0.7 4.7h0m-0.1 88.8h0m-0.4 4.7h0m0.5 4.6h0m-0.4 9.4h0m0 4.7h0m2.1-130.9h0m0.2 4.6h0m0.1 14.1h0m-0.7 4.6h0m0.3 93.5h0m0.1 4.7h0m-0.4 4.7h0m0.6 4.7h0m-0.2 4.6h0m0.3 4.7h0m-0.6 4.7h0m0.7 9.3h0m1.6-126.2h0m-0.1 102.9h0m0.1 4.6h0m0.3 4.7h0m-0.2 4.7h0m0 4.7h0m-0.3 4.6h0m0.3 9.4h0m0 4.7h0m2.4-168.3h0m-0.4 4.6h0m0 4.7h0m0 9.4h0m-0.1 4.6h0m0.1 4.7h0m0.2 102.9h0m-0.1 4.6h0m0 4.7h0m0.4 9.4h0m-0.5 4.6h0m0.1 4.7h0m-0.1 4.7h0m1-168.3h0m1.3 37.4h0m0.1 98.2h0m-0.6 4.6h0m0.5 4.7h0m-0.3 4.7h0m0.5 74.8h0m0 9.3h0m1.6-98.1h0m0.1 4.6h0m0 4.7h0m0.3 4.7h0m0 4.7h0m-0.4 4.6h0m0.6 18.7h0m-0.7 18.7h0m2.4-154.2h0m0.1 4.6h0m0.3 4.7h0m-0.1 93.5h0m-0.3 9.4h0m-0.4 4.6h0m0.3 4.7h0m0.4 4.7h0m-0.5 18.7h0m2.2-154.3h0m0.3 4.7h0m-0.1 4.7h0m0 9.3h0m0.2 93.5h0m-0.2 4.7h0m-0.2 4.7h0m0.3 4.6h0m-0.1 4.7h0m-0.3 4.7h0m0.4 4.7h0m-0.7 4.6h0m0.3 4.7h0m0.3 18.7h0m2.4-168.3h0m-0.6 9.4h0m0 4.6h0m0.2 4.7h0m0.1 88.8h0m-0.1 4.7h0m0.3 4.7h0m0.2 4.7h0m1.4-121.6h0m0.4 4.7h0m-0.3 4.7h0m0.3 4.6h0m-0.2 4.7h0m0 4.7h0m0.3 93.5h0m0.2 4.7h0m-0.6 9.3h0m0.2 4.7h0m-0.3 4.7h0m2.2-121.6h0m0.2 88.8h0m-0.3 4.7h0m0 4.7h0m0.4 4.7h0m0.1 4.6h0m-0.1 4.7h0m-0.4 4.7h0m2.5-144.9h0m0 4.6h0m0.1 4.7h0m-0.3 4.7h0m-0.3 4.7h0m0.6 4.6h0m-0.1 4.7h0m-0.2 84.2h0m0.1 4.6h0m-0.4 4.7h0m0.8 4.7h0m-0.9 4.7h0m0.6 9.3h0m-0.1 4.7h0m-0.4 4.7h0m2.5-135.6h0m0 9.3h0m-0.1 88.9h0m-0.2 4.6h0m0.3 9.4h0m-0.4 4.7h0m0.4 4.6h0m-0.5 4.7h0m0.9 4.7h0m-0.6 4.7h0m0 18.7h0m2-163.7h0m0.2 4.7h0m0 4.7h0m-0.1 88.8h0m0.1 4.7h0m0.2 4.7h0m-0.3 4.6h0m-0.2 4.7h0m2.5-23.4h0m-0.1 4.7h0m-0.2 4.7h0m0.2 4.7h0m-0.1 4.6h0m0.5 4.7h0m-0.2 4.7h0m-0.3 4.7h0m1.7-130.9h0m0.1 98.1h0m1 4.7h0m-0.6 4.7h0m-0.2 4.7h0m0.3 4.6h0m0.1 4.7h0m0 4.7h0m0.4 4.7h0m1.9-140.3h0m-0.2 4.7h0m-0.5 98.2h0m0.2 4.6h0m-0.1 4.7h0m0.3 4.7h0m0.2 4.7h0m-0.5 4.6h0m0.2 4.7h0m0.5 4.7h0m-0.8 14h0m0.7 9.4h0m1.7-163.7h0m0 4.7h0m-0.2 102.9h0m-0.1 4.6h0m0.1 4.7h0m0.5 9.4h0m-0.4 4.6h0m0.1 9.4h0m-0.1 9.3h0m0 18.7h0m2.2-168.3h0m0 4.7h0m-0.5 102.9h0m0.7 4.6h0m-0.2 4.7h0m-0.2 4.7h0m0.3 60.8h0m2-187h0m0 4.6h0m0.1 102.9h0m0 4.7h0m-0.1 4.6h0m-0.3 4.7h0m0.5 4.7h0m-0.6 4.7h0m0.2 4.6h0m-0.2 4.7h0m0.4 4.7h0m0 9.3h0m-0.3 4.7h0m2.4-168.3h0m0 4.7h0m-0.2 112.2h0m0.7 4.7h0m-0.3 9.3h0m0.2 9.4h0m-0.1 4.6h0m-0.3 4.7h0m0 4.7h0m2.1-159h0m0 4.7h0m0.5 116.9h0m0.1 4.7h0m-0.4 4.6h0m-0.5 9.4h0m0.3 4.7h0m-0.1 56.1h0m0 14h0m2.2-215.1h0m0 4.7h0m-0.2 112.2h0m0.2 9.4h0m-0.4 4.6h0m0.4 4.7h0m-0.4 4.7h0m0.4 4.7h0m0 4.6h0m-0.1 4.7h0m0 9.4h0m2.2-163.7h0m0.1 102.9h0m-0.1 4.7h0m-0.4 4.6h0m0.5 4.7h0m-0.1 4.7h0m0.3 4.7h0m-0.1 4.6h0m-0.5 4.7h0m2.4-140.2h0m0 4.6h0m0.5 93.5h0m-0.1 4.7h0m0 4.7h0m0 4.7h0m-0.1 4.6h0m0 4.7h0m-0.3 4.7h0m2.1-126.2h0m0 4.6h0m0.1 88.9h0m-0.2 4.6h0m0.3 4.7h0m-0.1 4.7h0m-0.1 4.7h0m-0.5 4.6h0m0.6 4.7h0m0.4 4.7h0m-0.3 4.7h0m1.9-130.9h0m0 4.6h0m-0.3 84.2h0m0.3 4.7h0m0.2 4.6h0m-0.1 4.7h0m0.3 4.7h0m-0.3 9.3h0m-0.4 4.7h0m0.2 9.4h0m0.5 14h0m-0.4 9.3h0m2.1-154.2h0m0 4.6h0m0.2 84.2h0m-0.4 4.7h0m0.3 4.6h0m-0.2 4.7h0m0.5 4.7h0m-0.4 4.7h0m0.3 4.6h0m-0.2 4.7h0m-0.6 9.4h0m2.6-130.9h0m0 4.6h0m0 84.2h0m0.3 9.3h0m-0.3 9.4h0m-0.1 4.7h0m0 4.6h0m0.2 9.4h0m0 4.7h0m-0.1 4.6h0m0 4.7h0m0 4.7h0m-1 23.4h0m3.1-168.3h0m0 4.6h0m0.4 79.5h0m-0.4 9.4h0m-0.5 4.6h0m0.9 4.7h0m-0.6 4.7h0m0.3 4.7h0m-0.2 4.6h0m0.3 4.7h0m-0.4 4.7h0m0.4 4.7h0m-0.5 9.3h0m0.4 9.4h0m2-149.6h0m0 4.6h0m0 84.2h0m0.4 4.7h0m-0.6 4.6h0m-0.1 4.7h0m-0.1 4.7h0m0 4.7h0m0.4 4.6h0m-0.6 32.8h0m0 18.7h0m2.7-168.3h0m0 4.6h0m-0.3 79.5h0m0.2 4.7h0m0.3 4.7h0m-0.1 4.6h0m-0.4 4.7h0m0.1 4.7h0m0.4 4.7h0m-0.1 4.6h0m2-116.8h0m0 4.6h0m-0.2 79.5h0m0.3 4.7h0m0 4.7h0m0.1 4.6h0m-0.1 9.4h0m2-107.5h0m0 4.6h0m-0.3 65.5h0m0.6 4.7h0m-1.1 9.3h0m0.7 4.7h0m0.1 14h0m0.4 9.4h0m1.7-112.2h0m0 4.6h0m-0.3 56.1h0m0.1 4.7h0m0.1 4.7h0m0.3 4.7h0m0.1 32.7h0m0 9.3h0m1.8-116.8h0m0 4.6h0m0.1 56.1h0m-0.1 4.7h0m0 4.7h0m-0.6 4.7h0m0.4 4.6h0m0.1 4.7h0m0.1 4.7h0m2.1-88.8h0m0 4.6h0m0.3 60.8h0m-0.1 14h0m-0.3 4.7h0m2.2-84.1h0m0 4.6h0m0.4 60.8h0m0 4.7h0m-0.1 4.7h0m-0.5 4.6h0m0.8 4.7h0m1.5-84.1h0m0 4.6h0m0 60.8h0m-0.4 4.7h0m0.5 4.7h0m2-74.8h0m0 4.6h0m0.1 60.8h0m-0.3 9.4h0m0.1 4.6h0m0.6 32.8h0m1.6-112.2h0m0 4.6h0m0.2 65.5h0m-0.2 4.7h0m0 4.6h0m0.1 4.7h0m-0.1 4.7h0m0.1 4.7h0m2-93.5h0m0 4.6h0m0.1 74.8h0m0 4.7h0m-0.3 4.7h0m0.2 9.3h0m-0.2 4.7h0m0 4.7h0m2.3-107.5h0m0 4.6h0m-0.3 79.5h0m0.4 4.7h0m0.2 4.7h0m-0.3 4.6h0m0 4.7h0m-0.4 4.7h0m0.6 4.7h0m1.9-112.2h0m0 4.6h0m0.1 74.8h0m0.1 4.7h0m-0.1 4.7h0m-0.2 9.3h0m0.1 4.7h0m0.4 28.1h0m0.9-4.7h0" stroke="#1f77b4" stroke-width="5.4" stroke-linecap="round" fill="none"/>
<path d="M307.5 223.7h0m9 0h0m2 18.7h0m1 9.4h0m9-28.1h0m3 18.7h0m1 4.7h0m7-28.1h0m7-4.6h0m3 4.6h0m6 14.1h0m2-4.7h0m10-4.7h0m3 4.7h0m0 0h0m1-9.4h0m1 4.7h0m2 37.4h0m1-23.4h0m7-23.3h0m2 23.3h0m2-14h0m13-4.7h0m49-4.6h0m1-14h0m1 9.3h0m16-4.7h0m11 18.7h0m8-18.7h0m9 23.4h0m9 0h0m33-4.7h0m7-9.3h0m1 4.6h0m6 9.4h0m43 0h0m2-9.4h0m5 0h0m10 0h0m6 4.7h0m3-14h0m1 9.3h0m25-4.6h0m38 4.6h0m39-4.6h0m9-4.7h0m10 4.7h0m9 18.7h0m0-23.4h0m9 0h0m3 18.7h0m1 9.3h0m3-14h0m17-4.7h0m0 4.7h0m0 4.7h0m2 0h0m25-28h0m537 112.1h0m1 18.7h0m1 4.7h0m1-28h0m0 18.7h0m4 0h0m1-14.1h0m0-9.3h0m1-18.7h0m1 42.1h0m1-51.4h0m1 9.3h0m0-9.3h0m3-28.1h0m0 4.7h0m1 9.3h0m0 0h0m4 4.7h0m1-4.7h0m0 70.1h0m6-51.4h0m1 42.1h0m0 18.7h0m0-18.7h0m2-14h0m3 9.3h0m4 4.7h0m0 14h0m7 4.7h0m3-23.4h0m1-42h0m1 56h0m1-42h0m1 23.3h0m2-37.3h0m4 4.6h0m0 37.4h0m1 0h0m0-32.7h0m1-32.7h0m0 14h0m0 14h0m1-28h0m0-4.7h0m1-18.7h0m0 4.7h0m0 4.6h0m0 46.8h0m0 32.7h0m1-79.5h0m3 42.1h0m0 37.4h0m1-28h0m0-18.7h0m2 14h0m0-9.3h0m2-32.8h0m1 4.7h0m3 0h0m0 37.4h0m1-46.8h0m1 0h0m0 4.7h0m1 46.8h0m1-23.4h0m1-23.4h0m2-23.4h0m0 4.7h0m6 51.5h0m2-46.8h0m0 9.3h0m4 9.4h0m2-23.4h0m3 28.1h0m0 4.6h0m1-18.7h0m0 0h0m0 23.4h0m1-9.3h0m0-4.7h0m1-14h0m2 18.7h0m4 18.7h0m1-14.1h0m0-23.3h0m1 32.7h0" stroke="#fff" stroke-width="1.9" stroke-linecap="round" fill="none"/>
<path d="M829.5 191h0m9-4.7h0m2 42.1h0m0 0h0m2-23.4h0m3-4.6h0m13 18.6h0m0 4.7h0m1-4.7h0m5 0h0m2 9.4h0m2 4.7h0m5-14.1h0m5 28.1h0m1-23.4h0m2 46.8h0m0-14.1h0m4 14.1h0m0-14.1h0m2 4.7h0m0-28h0m3 23.3h0m2 32.8h0m1-42.1h0m0 18.7h0m2 28h0m2 0h0m0-23.3h0m1 23.3h0m0 0h0m2-23.3h0m0 70.1h0m0-23.4h0m2-88.8h0m0 70.1h0m1 23.4h0m1-46.7h0m0-4.7h0m2-9.4h0m1-32.7h0m4-4.7h0m0 60.8h0m1-60.8h0m1 65.5h0m1 32.7h0m1 0h0m1-60.8h0m0 60.8h0m1-98.2h0m1 56.1h0m0-9.3h0m0-14.1h0m0 56.1h0m1-56.1h0m1-4.6h0m1 23.4h0m0-9.4h0m1 9.4h0m1-18.8h0m0-23.3h0m1 93.5h0m0-107.6h0m1 102.9h0m2-28.1h0m0-23.3h0m0 37.4h0m1-65.5h0m2 9.4h0m0 0h0m3-28.1h0m2 46.8h0m2 9.3h0m1 4.7h0m1-46.8h0m2-4.6h0m0 4.6h0m1-18.7h0m1 51.5h0m0-9.4h0m2-28h0m0 4.6h0m0 0h0m0-14h0m5 4.7h0m2-9.4h0m0 51.5h0m0-18.7h0m0 9.3h0m4 28.1h0m1-14h0m0 9.3h0m1-23.4h0m1-14h0m2 14h0m1 18.7h0m0-4.6h0m1 9.3h0m1-28.1h0m2 23.4h0m0-32.7h0m1 28.1h0m0-14.1h0m1-32.7h0m0 32.7h0m7-37.4h0m2 14h0m0 14.1h0m0 37.4h0m4-4.7h0m1-65.5h0m0 32.8h0m1 28h0m0 0h0m1-4.6h0m1 37.3h0m0-93.5h0m3 102.9h0m1-107.5h0m1 37.4h0m2 4.6h0m0 14.1h0m1-28.1h0m1-23.4h0m1 23.4h0m0 9.4h0m1 84.1h0m2-14h0m1-74.8h0m0 14h0m0 0h0m0 0h0m1-18.7h0m2 84.2h0m1 18.7h0m2-56.1h0m1 14h0m2-46.8h0m0 42.1h0m1-51.4h0m1 0h0m1 9.3h0m1-4.6h0m0 37.4h0m1-9.4h0m2-18.7h0m0 4.7h0m3 18.7h0m0 14h0m0-60.8h0m1 4.7h0m1 56.1h0m0-46.7h0m7 14h0m1-23.4h0m1 23.4h0m2 32.7h0m1-37.4h0m1-14h0m1 18.7h0m3 4.7h0m0 37.4h0m2-9.4h0m0-28h0m1-32.8h0m0 56.1h0m0-46.7h0m0 51.4h0m1-37.4h0m0 42.1h0m1 0h0m1 9.3h0m1-65.4h0m1 23.4h0m0 9.3h0m1 23.4h0m2-14h0m0 28h0m0-70.1h0m2 42.1h0m1-42.1h0m1 42.1h0m1-9.4h0m1 18.7h0m0 18.7h0m1-18.7h0m1-32.7h0m3 28h0m1 23.4h0m1-65.4h0m0 32.7h0m3 32.7h0m3-51.4h0m2-51.4h0m0 4.6h0m1 84.2h0m0-28h0m1-18.8h0m2-9.3h0m2 4.7h0m0 32.7h0m0-84.1h0m2 14h0m1 9.3h0m0 14h0m1 37.5h0m2 0h0m1 4.6h0m2 0h0m0-37.4h0m0-51.4h0m1-9.4h0m0 84.2h0m1-37.4h0m0-42.1h0m0 14.1h0m2 93.4h0m0-107.5h0m0 23.4h0m1-28.1h0m0-4.6h0m0 79.4h0m0 28.1h0m0-32.7h0m2-28.1h0m0-37.4h0m0 32.7h0m1 18.7h0m1 28.1h0m1-37.4h0m1-18.7h0m0 65.5h0m0 4.6h0m0-14h0m0 46.7h0m0-84.1h0m0-14h0m1 9.3h0m1 88.8h0m1-46.7h0m1-37.4h0m0 4.7h0m1 28h0m0-14h0m1-18.7h0m1 79.5h0m0-60.8h0m1 46.7h0m3-74.8h0m0 98.2h0m0-37.4h0m4-79.4h0m0 37.3h0m1-32.7h0m2 9.4h0m0 70.1h0m2-51.4h0m0 65.4h0m1-88.8h0m0-28.1h0m0 88.9h0m0-18.7h0m1 42h0m0-116.8h0m0 46.7h0m0 0h0m1-42.1h0m1 159h0m0-18.7h0m1-56.1h0m0-42.1h0m0 37.4h0m1 60.8h0m1-102.9h0m2 51.5h0m0 32.7h0m1-37.4h0m0 18.7h0m0 32.7h0m0-32.7h0m2-32.7h0m2 60.7h0m0 18.7h0m1-51.4h0m0-23.4h0m1 107.6h0m1-88.8h0m0 42h0m1 23.4h0m1-23.4h0m0-32.7h0m0-32.7h0m1 23.4h0m1 74.8h0m1 0h0m1-37.5h0m1-37.3h0m2 60.7h0m1-28h0m1-18.7h0m0 23.3h0m1-32.7h0m2-28h0m1 32.7h0m1 60.8h0m0 0h0m0-93.5h0m0 51.4h0m0 23.4h0m0-46.8h0m2 28.1h0m0 4.6h0m1-60.7h0m0 4.6h0m1 74.8h0m0-74.8h0m1-4.6h0m0 51.4h0m0-14h0m1 28h0m1 32.8h0m0-70.2h0m1-28h0m1 74.8h0m4-32.8h0m2 42.1h0m0-37.4h0m1 46.8h0m0-51.5h0m1-18.6h0m0 9.3h0m2-9.3h0m0 42h0m0-70.1h0m1 56.1h0m1-18.7h0m2 14h0m1-56.1h0m0 56.1h0m1-65.4h0m1 18.7h0m0 46.7h0m1-9.3h0m1-32.8h0m0-23.3h0m1 18.7h0m0 42h0m3-37.4h0m2 9.4h0m1 14h0m1 14h0m1-9.3h0m0-46.8h0m0 9.4h0m1 32.7h0m0 0h0m2-42.1h0m0 32.8h0m1-9.4h0m1-9.3h0m1 37.4h0m0 4.6h0m4-28h0m2-32.7h0m0 18.7h0m0-4.7h0m2-23.4h0m0 56.1h0m1-23.4h0m2 37.4h0m3-32.7h0m0-18.7h0m1-9.3h0m2 4.6h0m6 51.5h0m1-18.7h0m0-4.7h0m5 28h0m0-51.4h0m4-18.7h0m1 51.5h0m1-32.8h0m1 23.4h0m0 23.4h0m0-18.7h0m1 0h0m2-28.1h0m1 9.4h0m0 14h0m1-9.4h0m1-23.3h0m3 74.8h0m0-46.8h0m4 32.7h0m0 18.7h0m1-32.7h0m1 23.4h0m1-60.8h0m1 79.5h0m0-4.7h0m1-56.1h0m0 14.1h0m4-18.8h0m1-4.6h0m1 4.6h0m0 14.1h0m2-23.4h0m2 46.7h0m1 14.1h0m2-14.1h0m1-9.3h0m1 14h0m1-9.3h0m1 14h0m2-28h0m1-14.1h0m1 51.4h0m0-74.8h0m0 56.1h0m0-14h0m1-32.7h0m1 14h0m1-14h0m1 9.3h0m1-23.3h0m2 18.7h0m0-4.7h0m0 60.8h0m1-74.8h0m0 18.7h0m1 4.6h0m1-18.7h0m2 9.4h0m2 0h0m2 32.7h0m0 4.7h0m1 4.7h0m2-56.1h0m1 18.7h0m0 51.4h0m0-32.7h0m0-9.4h0m2 46.8h0m0-74.8h0m1 88.8h0m1-51.4h0m0 56.1h0m2-18.7h0m0 46.7h0m2-60.8h0m0-14h0m1 14h0m1-9.3h0m0 70.1h0m0-23.4h0m1-28h0m2 0h0m0 46.8h0m0-51.5h0m1 51.5h0m0-65.5h0m1 84.1h0m0-60.7h0m1 0h0m0 18.7h0m0-32.8h0m1 9.4h0m1 51.4h0m2-32.7h0m3 42.1h0m1-70.2h0m1-14h0m1 0h0m3 14h0m1-18.6h0m1 65.4h0m0 14h0m2 0h0m0-32.7h0m2 18.7h0m1 18.7h0m1-37.4h0m0 32.7h0m1-60.8h0m2 23.4h0m1 23.4h0m1-4.7h0m3-23.4h0m2-14h0m1 0h0m0 0h0m2 23.4h0m0-14h0m3 4.6h0m1 0h0m4 18.7h0" stroke="#e9e9e9" stroke-width="1.9" stroke-linecap="round" fill="none"/>
<path d="M115.8 304.9L115.9 296.7L116.4 286.6L116.9 266.4L117.4 237L117.6 222.7L117.9 223.6L118.4 232.4L118.9 244.9L119.4 255L119.9 269.6L120.4 291L120.9 301.4L121.4 297.7L121.5 286L121.9 274.4L122.4 264L122.9 254.4L123.4 255.8L123.9 265.8L124.4 285L124.9 282.8L125.4 271.3L125.9 249L126.1 214.5L126.4 205L126.9 232.6L127.4 275.6L127.9 301.7L128.4 312.2L128.9 305.1L129.4 277.8L129.6 262.2L129.9 265.8L130.4 272.8L130.9 258.4L131.2 223.9L131.4 205L131.9 208.2L132.4 235.8L132.9 262.3L133.4 272.7L133.7 261L133.9 230.9L134.4 205.4L134.9 205.4L135.4 217.7L135.8 236.4L135.9 241.6L136.4 264.2L136.9 280L137.4 287.8L137.9 303.9L138.1 322.8L138.4 335.5L138.9 331.8L139.4 326L139.9 318.8L140.4 296.5L140.9 265.5L141.1 246.4L141.4 236L141.9 234L142.4 239.9L142.9 249.7L143.4 261.4L143.9 270.9L144.4 273.9L144.6 268.7L144.9 263.5L145.4 263.5L145.9 254L146.4 238.9L146.9 221.7L147.4 212.3L147.9 213.4L148 224L148.4 238.3L148.9 241.3L149.4 227.1L149.9 212.4L150.4 205.3L150.9 204.8L151.4 212.3L151.5 239.7L151.9 263L152.4 267.6L152.9 267.9L153.4 262.2L153.9 263.4L154.4 265.9L154.9 266.3L155.4 260.5L155.9 247.6L156.4 229.9L156.8 218L156.9 223.2L157.4 247.7L157.9 273.4L158.4 285.1L158.8 283.7L158.9 279L159.4 274.2L159.9 265.5L160.4 250.2L160.9 242.1L161.4 250L161.8 260.4L161.9 265.2L162.4 272.2L162.9 275L163.4 274.6L163.9 274.2L164.4 273.8L164.9 271.5L165.3 268.7L165.4 255.9L165.9 251.9L166.4 249.8L166.9 244L167.4 237.6L167.9 235.3L168.4 224.7L168.9 210.6L169.4 204.6L169.4 206.7L169.9 211.3L170.4 212.2L170.9 219.9L171.4 238.4L171.9 259.1L172.4 268.5L172.7 269.9L172.9 271.9L173.4 274L173.9 275.1L174.4 272.8L174.9 274.6L175.4 276.3L175.9 269.3L176.4 251.6L176.8 235.3L176.9 233.7L177.4 247.3L177.9 262L178.4 266L178.9 262.5L179.4 257.4L179.9 254.8L180.4 246.3L180.9 239.8L181.4 234.9L181.9 225.5L182.4 216.1L182.6 211.1L182.9 210.7L183.4 209.3L183.9 211.6L184.4 223L184.9 237.7L185.4 246.4L185.9 249.3L186.4 248.5L186.9 241.6L187.4 233.8L187.9 225.9L188.4 220.3L188.9 225L189.4 237.6L189.5 242.3L189.9 233L190.4 222.4L190.9 216.3L191.4 220.3L191.9 224L192.4 220.4L192.9 210.9L192.9 210L193.4 206.1L193.9 204.8L194.4 208.9L194.9 222.1L195.4 229.8L195.9 223.7L196.4 213.5L196.9 211.5L197.4 217.7L197.6 226.2L197.9 235.5L198.4 246.2L198.9 248.4L199.4 245.2L199.9 241.3L200.4 229.7L200.9 218L201 207.8L201.4 205L201.9 207.2L202.4 229.4L202.9 257.8L203.4 268.7L203.9 276.4L204.4 268.5L204.9 261.7L204.9 261.1L205.4 257.2L205.9 243.5L206.4 223.1L206.9 207L207.2 204.7L207.4 212.9L207.9 231.4L208.4 246.5L208.9 247.5L209.4 240.3L209.9 233.5L210.4 230.6L210.9 232.3L211.4 240.6L211.9 245.2L212.4 238.1L212.5 229.5L212.9 229.9L213.4 233L213.9 227.1L214.4 218.4L214.9 222L215.4 234.1L215.9 237.3L216.4 231.2L216.9 223.2L217.4 216.9L217.8 205.4L217.9 207L218.4 209.5L218.9 208.4L219.4 207.2L219.9 205.9L220.4 204.6L220.9 204.6L221.4 208.1L221.9 211.7L222.4 211.4L222.9 216.6L223.4 219.7L223.9 216.6L224.4 207.2L224.5 204.7L224.9 205.9L225.4 207L225.9 207L226.4 205.1L226.9 222.9L227.4 242.4L227.5 251.4L227.9 250.1L228.4 247.4L228.9 244.7L229.4 236.7L229.9 222.9L230.3 212.2L230.4 207.8L230.9 208.5L231.4 207.8L231.9 205.2L232.4 205.2L232.9 210.5L233.4 213.6L233.9 221.8L234.4 238.2L234.4 242.2L234.9 234.9L235.4 231.2L235.9 238.2L236.4 245.8L236.9 241.1L237.4 229.9L237.9 222L238.4 223.7L238.9 228.2L239.4 225.7L239.9 216.7L240.2 209.2L240.4 206.2L240.9 209L241.4 214L241.9 221.5L242.4 232.9L242.5 242.4L242.9 252.3L243.4 253.5L243.9 242.2L244.4 219.5L244.9 204.9L245.4 204.6L245.9 205.8L245.9 206L246.4 211.1L246.9 218.8L247.4 226.3L247.9 231L248.2 233L248.4 230L248.9 223.8L249.4 220.5L249.9 219.2L250.4 212.7L250.9 204.7L251.4 204.7L251.9 205.1L252.4 204.9L252.9 205.6L253.4 207.3L253.9 206.2L254 205.3L254.4 209.1L254.9 215L255.4 219.6L255.9 218.4L256.4 216.8L256.9 217.7L257.4 221.4L257.5 227.6L257.9 233.4L258.4 236.9L258.9 241L259.4 242.1L259.9 242.5L260.4 248.9L260.9 259.1L260.9 258.4L261.4 243.3L261.9 225.5L262.4 214.1L262.9 207.1L263.4 204.7L263.9 204.6L263.9 208.4L264.4 210.8L264.9 206.9L265.4 204.6L265.9 209.6L266.4 220.9L266.9 224.8L267.4 222.3L267.9 220.4L268.4 222.4L268.9 224.9L269.4 225.4L269.9 222.6L270.4 217.8L270.9 215.7L271.3 218L271.4 221.5L271.9 222.2L272.4 219.5L272.9 215.6L273.4 213.8L273.9 215.1L274.4 216.3L274.9 213.8L275.4 210.7L275.9 211.1L276.4 215.4L276.9 219.4L277.4 220.1L277.9 222.1L278.4 226L278.9 230.8L279.4 234.6L279.9 237L280.1 237.6L280.4 236.7L280.9 235.2L281.1 235.3L281.4 234.1L281.9 226.2L282.4 214.7L282.9 205.2L283.4 204.7L283.9 205.7L284 210L284.4 212.6L284.9 214.5L285.4 216L285.9 216.3L286.4 216.6L286.9 216.1L287.4 216.2L287.9 218.3L288.4 221.1L288.9 222.7L289.3 226L289.4 227.4L289.9 230.4L290.4 229L290.9 229.4L291.4 232.4L291.5 231.8L291.9 228.3L292.4 223.5L292.9 218.7L293.4 215.4L293.9 211.1L294.4 209.1L294.9 211.6L295.4 215L295.9 216.3L296.4 216.9L296.9 219.5L297.4 224L297.9 227.3L298.4 227.4L298.9 224.7L299.4 221.1L299.9 218.9L300.4 217.7L300.9 212.1L301.4 206.1L301.9 204.5L302.4 204.5L302.9 204.3L303 207.7L303.4 210.1L303.9 209.4L304.4 208L304.9 208.6L305.4 212.7L305.9 218.4L306.4 221.8L306.9 221.8L307.4 221.6L307.9 223.1L308.4 224.1L308.9 222.4L309.4 220L309.9 220L310.4 221.4L310.9 221.4L311.4 219.9L311.9 217.6L312.4 215.9L312.9 216.5L313.4 218.5L313.9 219L314.4 217.8L314.9 219L315.4 222.1L315.9 225.2L316.4 228.3L316.9 231.8L316.9 234.5L317.4 234.2L317.9 232L318.4 228.3L318.9 226L319.4 225.6L319.9 227.3L320.4 227.2L320.9 225.3L321.4 222.9L321.9 222.2L322.4 224.6L322.9 229.2L323.4 231L323.9 230.4L324.4 225.9L324.9 222.7L325.4 221.9L325.9 222.9L326.4 226.1L326.9 230L327.4 230.5L327.9 227L328.4 223.1L328.9 220.9L329.4 220.9L329.9 223.9L330.4 228.7L330.9 231.1L331.4 231.1L331.9 226.4L332.4 220.3L332.9 218.5L333.4 221.8L333.9 225.7L334.4 227.2L334.9 226.2L335.4 223.4L335.9 222.1L336.4 224.2L336.9 227L337.4 227.3L337.9 226.1L338.4 225.9L338.9 225.6L339.4 224.8L339.9 225.1L340.4 226.1L340.9 225.9L341.4 223.8L341.9 221.5L342.4 219.9L342.9 218.5L343.4 216.3L343.9 214.1L344.4 212.6L344.9 212.2L345.4 212.7L345.9 213.3L346.4 212.4L346.9 210.4L347.4 209.8L347.9 209.3L348.4 208.8L348.9 208.8L349.4 210L349.9 211.5L350.4 213L350.9 214L351.4 214.1L351.9 213.3L352.4 211.9L352.9 210.7L353.4 210.9L353.9 212.7L354.4 214.4L354.9 214.5L355.4 212.8L355.9 211.2L356.4 210.6L356.9 210.3L357.4 212.6L357.9 216L358.4 217.2L358.9 215.3L359.4 212.6L359.9 210.9L360.4 210.1L360.9 210.6L361.4 212.5L361.9 214.3L362.4 214.2L362.9 212.6L363.4 210.9L363.9 210.1L364.4 210.4L364.9 210.2L365.4 208.2L365.9 207.2L366.4 207.2L366.9 207.7L367.4 209.5L367.9 210.9L368.4 211.9L368.9 212.5L369.4 212.6L369.9 215.5L370.4 220.3L370.9 225.2L371.4 229.3L371.9 232.4L372.2 234.6L372.4 233.3L372.9 231.1L373.4 228.3L373.9 225.6L374.4 224.3L374.5 226.1L374.9 224L375.4 224L375.9 223.1L376.4 221.3L376.9 218.5L377.4 216L377.9 216.4L377.9 216.9L378.4 217.1L378.9 216.5L379.4 215.8L379.9 216.3L380.4 217L380.9 216.3L381.4 214.9L381.9 214L382.4 213.5L382.9 212.4L383.4 211.6L383.9 212.3L384.4 214.4L384.9 216.5L385.4 217.2L385.9 216.6L386.4 215.7L386.9 214.9L387.4 214.2L387.9 214.1L388.4 214.5L388.9 215.5L389.4 217.4L389.9 219.1L390.4 219.2L390.9 219.3L391.4 219.4L391.9 219.6L392.4 219.7L392.9 219.6L393.4 219.9L393.9 220L394.4 220.1L394.9 218.3L395.4 219.2L395.9 222.3L396.4 223.2L396.9 224.1L397.4 225L397.5 222.9L397.9 220L398.4 219.1L398.9 219.3L399.4 218.2L399.9 215.2L400.4 212.5L400.9 209.6L401.4 208.5L401.9 208.4L402.4 208.4L402.9 211.1L403.4 213.6L403.9 213.6L404.4 212.6L404.9 211.9L405.4 211.3L405.9 210.9L406.4 210.8L406.9 211.1L407.4 211.7L407.9 211.9L408.4 211.5L408.9 211.3L409.4 211.3L409.9 211.4L410.4 211.1L410.9 210.2L411.4 209.1L411.9 208.7L412.4 208.9L412.9 209.9L413.4 211.7L413.9 213.4L414.4 213.8L414.9 212.5L415.4 210.3L415.9 208.8L416.4 208.8L416.9 209.4L417.4 209.7L417.9 209.8L418.4 210L418.9 210.2L419.4 210.3L419.9 210.9L420.4 211L420.9 209.9L421.4 208.9L421.9 209.2L422.4 210.5L422.9 212.2L423.4 213L423.9 212.5L424.4 211.2L424.9 210.1L425.4 209.7L425.9 210L426.4 210.7L426.9 210.9L427.4 210.1L427.9 208.7L428.4 207.5L428.9 206.8L429.4 206.5L429.9 206.5L430.4 207.1L430.9 209L431.4 210.4L431.9 210.9L432.4 211.4L432.9 211.7L433.4 211.4L433.9 211.2L434.4 211L434.9 210.5L435.4 210.1L435.9 208.9L436.4 206.6L436.9 205.9L437.4 205.8L437.9 205.8L438.4 205.7L438.9 205.7L439.4 207.6L439.9 209.7L440.4 210.1L440.9 208.8L441.4 208.2L441.9 209L442.4 210.1L442.9 210.8L443.4 210.8L443.9 208.9L444.4 206.8L444.9 206L445.4 206.4L445.9 206.5L446.4 207.4L446.9 208L447.4 209.6L447.9 211L448.4 211.9L448.9 212.7L449.4 214.5L449.4 215.1L449.9 214.2L450.4 213.1L450.9 211.6L451.4 210.5L451.9 210.5L452.4 211.7L452.9 213L453.4 213.9L453.9 214L454.4 213L454.9 209.9L455.4 207.7L455.9 207.4L456.4 207.1L456.9 205.7L457.4 205.5L457.9 208.4L458.4 211.5L458.9 212.1L459.4 210.4L459.9 209L460.4 209.3L460.9 210.5L461.4 211.2L461.9 210.9L462.4 210.4L462.9 210.3L463.4 210.5L463.9 210.2L464.4 209.3L464.9 207.8L465.4 206.7L465.9 207.1L466.4 207.9L466.9 207.6L467.4 206.8L467.9 207.2L468.4 208.7L468.9 209.6L469.4 208.5L469.9 205.9L470.4 204.4L470.9 204.4L471.4 205.6L471.9 206.2L472.4 206.2L472.9 205.7L473.4 205.2L473.9 204.8L474.4 204.9L474.9 205.4L475.4 206.2L475.9 207.2L476.4 208L476.9 207.7L477.4 206.7L477.9 206.2L478.4 207.1L478.9 208.4L479.4 209L479.9 208.8L480.4 208.5L480.9 208.4L481.4 207.9L481.9 207.4L482.4 207.9L482.9 209.7L483.4 211L483.9 211L484.4 210.5L484.9 210.2L485.4 210.6L485.9 211L486.4 210.8L486.9 210.6L487.4 210.9L487.9 211.7L488.4 212.2L488.9 212.1L489.4 211.8L489.9 212.8L490.4 214L490.9 214.4L491.4 214L491.9 213.5L491.9 212.6L492.4 211.7L492.9 210.4L493.4 210.1L493.9 209.4L494.4 207.8L494.9 205.7L494.9 205.6L495.4 205.1L495.9 204.1L496.4 202.7L496.9 202.1L497.2 202.6L497.4 203.8L497.9 205.9L498.4 208.6L498.9 210.7L499.4 210.8L499.9 210L500.4 208.9L500.9 208.8L501.4 209L501.9 209.9L502.4 211L502.9 211.7L503.4 212.2L503.9 212.7L504.4 212.6L504.9 211.9L505.4 211L505.9 210L506.4 208.9L506.9 208.6L507.4 209L507.9 209.2L508.4 208.6L508.9 207.8L509.4 207.7L509.9 207.7L510.4 207.6L510.9 209.8L511.4 211.2L511.9 211L512.4 210.4L512.9 209.9L513.4 208.5L513.9 207.3L514.4 207.2L514.9 209.1L515.4 210.5L515.9 210L516.4 208.8L516.9 208L517.4 207.9L517.9 208.3L518.4 208.9L518.9 209.5L519.4 209.8L519.9 210L520.4 210.2L520.9 210L521.4 209.5L521.9 209.4L522.4 210.1L522.9 210.9L523.4 211.4L523.9 211.7L524.4 211.6L524.9 210.8L525.4 209.3L525.9 208.1L526.4 208.1L526.9 209L527.4 209.7L527.9 209.7L528.4 209.5L528.9 210L529.4 210.3L529.9 210.1L530.4 209.9L530.9 210.2L531.4 210.6L531.9 210.8L532.4 210.6L532.9 210.1L533.4 210L533.9 210.7L534.4 211.6L534.9 212.6L535.4 214.1L535.9 216.1L536.4 216.8L536.9 215.6L537.4 213.5L537.9 212.5L538.4 213.2L538.9 214.3L539.4 215.1L539.9 215.9L540.4 216.8L540.9 218.2L541.4 220.8L541.9 223L542.4 223.2L542.9 222.3L543.3 222.6L543.4 223.1L543.9 222.6L544.4 220.7L544.9 217.4L545.4 215.3L545.9 214L546.4 216.2L546.9 218.5L547.4 219.8L547.9 219.7L548.4 218.5L548.9 217.3L549.4 216.4L549.9 215.4L550.4 214.9L550.9 215.6L551.4 217.1L551.9 217.6L552.4 216.4L552.9 214.3L553.4 212.9L553.9 212.2L554.4 211.9L554.9 211.3L555.4 210.4L555.9 210.5L556.4 212.3L556.9 214.3L557.4 214.5L557.9 213.5L558.4 212.8L558.9 212.8L559.4 212.9L559.9 213.2L560.4 213.4L560.9 213L561.4 212L561.9 211.4L562.4 211.8L562.9 212.2L563.4 211.6L563.9 210.9L564.4 211.5L564.9 212.8L565.4 214.2L565.9 214.5L566.4 214.4L566.9 214.3L567.4 214.2L567.9 214.1L568.4 214L568.9 213.7L569.4 212.3L569.9 210.9L570.4 210.6L570.9 211.2L571.4 211.3L571.9 210.9L572.4 210.5L572.9 209.8L573.4 208.7L573.9 208.6L574.4 209.2L574.9 209.1L575.4 208.1L575.9 207.9L576.4 208.9L576.9 209.1L577.4 207.9L577.9 206.7L578.4 206.7L578.9 206.7L579 206.4L579.4 207.1L579.9 208.5L580.4 209.6L580.9 210.1L581.4 210.6L581.9 211.4L582.4 211.9L582.9 211.4L583.4 210.2L583.9 209.7L584.4 210.3L584.9 210.7L585.4 209.7L585.9 208.5L586.4 208.1L586.9 208.2L587.4 208.1L587.9 208.2L588.4 208.3L588.9 209.3L589.4 211.2L589.9 212.1L590.4 212.3L590.9 212.7L591.4 212.4L591.9 211.4L592.4 211L592.9 211.4L593.4 211.5L593.9 211.1L594.4 210.6L594.9 210.8L595.4 211.7L595.9 212.3L596.4 211.8L596.9 210.7L597.4 210.1L597.9 210.9L598.4 212.3L598.9 212.8L599.4 212.7L599.9 212.9L600.4 212.8L600.9 211.7L601.4 209.9L601.9 208.9L602.4 208.8L602.9 209.4L603.4 210.3L603.9 211.6L604.4 212.7L604.9 212.7L605.4 211.4L605.9 210.6L606.4 210.9L606.9 211.2L607.4 210.9L607.9 210.9L608.4 211.1L608.9 211.3L609.4 211.8L609.9 212.7L610.4 213.4L610.9 213.5L611.4 213.4L611.9 213.7L612.4 213.4L612.9 211.9L613.4 210.6L613.9 211.3L614.4 212.6L614.9 212.8L615.4 212.1L615.9 211.8L616.4 212.8L616.9 213.7L617.4 213.8L617.9 213.2L618.4 212.4L618.9 211.6L619.4 210.9L619.9 210.8L620.4 211.4L620.9 211.5L621.4 210.7L621.9 208.7L622.4 206.9L622.9 206.6L623.4 207.5L623.9 209.1L624.4 210.7L624.9 212.2L625.4 213.4L625.9 215L626.4 216.5L626.9 216.4L626.9 217L627.4 216.3L627.9 213.9L628.4 211.5L628.9 209L629.2 205.3L629.4 202.8L629.9 203.1L630.4 205.4L630.9 207.3L631.4 208.2L631.9 209.2L632.4 210.4L632.9 212.5L633.4 213.6L633.9 212.7L634.4 210.6L634.9 208.3L635.4 207.1L635.9 207.1L636.4 207.1L636.9 207.1L637.4 207.1L637.9 207.1L638.4 207.1L638.9 207.1L639.4 207.1L639.9 208.1L640.4 209.2L640.9 209.6L641.4 209.2L641.9 208.4L642.4 209L642.9 210.9L643.4 211.8L643.9 211.4L644.4 210.3L644.9 208.6L645.4 207.2L645.9 207.2L646.4 207.2L646.9 207.2L647.4 208.4L647.9 210L648.4 211.2L648.9 212L649.4 212.5L649.9 213.4L650.4 215L650.9 216.1L651.4 215L651.9 212.8L652.4 211.7L652.9 211.9L653.4 212.6L653.9 212.7L654.4 212.2L654.9 212.1L655.4 212.7L655.9 212.6L656.4 211.8L656.9 212.1L657.4 213.9L657.9 215L658.4 214.4L658.9 213.4L659.4 213.6L659.9 214.9L660.4 215.7L660.9 215L661.4 213.2L661.9 211.9L662.4 211.7L662.9 211.8L663.4 211.4L663.9 210.9L664.4 210.8L664.9 211.7L665.4 213.9L665.9 215.7L666.4 215.4L666.9 212.3L667.4 209.4L667.9 209L668.4 210.2L668.9 210.6L669.4 209.2L669.9 207.5L670.4 207.5L670.9 207.9L671.4 208.2L671.9 208.2L672.4 209.2L672.9 211L673.4 212.8L673.9 214.5L674.4 215.2L674.9 214.4L675.4 212.8L675.9 211.7L676.4 210.5L676.9 208.8L677.4 207.8L677.9 208L678.4 208.9L678.9 209.9L679.4 210.3L679.9 210.1L680.4 209.3L680.9 208.2L681.4 206.7L681.9 206.1L682.4 206.3L682.9 208.6L683.4 210.5L683.9 210.4L684.4 209.3L684.9 208.6L685.4 209.1L685.9 209.5L686.4 209.3L686.9 209L687.4 206.8L687.9 205.1L688.4 204.7L688.9 205.1L689.4 205.8L689.9 206.3L690.4 206.4L690.9 206.4L691.4 206.3L691.9 205.9L692.4 205.3L692.9 205.2L693.4 205.5L693.9 205.4L694.4 205.3L694.9 205.5L695.4 205.8L695.9 206.3L696.4 206.9L696.9 207.3L697.4 207L697.9 206.5L698.4 206.4L698.9 206.5L699.4 205.8L699.9 205.4L700.4 205.6L700.9 205.6L701.4 205.6L701.9 205.6L702.4 205.6L702.9 206.3L703.4 207.4L703.9 207.6L704.4 207.1L704.9 206.7L705.4 207.2L705.9 208L706.4 208.7L706.9 208.9L707.4 208.9L707.9 208.7L708.4 208.5L708.9 208.6L709.4 208.8L709.9 208.7L710.4 207.8L710.9 206.6L711.4 206L711.9 206.2L712.4 207L712.9 208L713.4 208.9L713.9 209L714.4 208.4L714.9 207.7L715.4 207.3L715.9 206.9L716.4 206.9L716.9 207.5L717.4 208.8L717.9 209.6L718.4 209.6L718.9 209.8L719.4 210.7L719.9 210.7L720.4 210.7L720.9 211.3L721.4 212.6L721.4 213.3L721.9 212.5L722.4 211.3L722.9 210.3L723.4 209.3L723.9 208L724.4 207.4L724.9 207.8L725.4 208.7L725.9 209.2L726.4 208.8L726.9 208.1L727.4 208.5L727.9 209.8L728.4 209.8L728.9 208.3L729.4 206.2L729.9 205.1L730.4 205.1L730.9 205.1L731.4 205.7L731.9 206.5L732.4 207.3L732.9 207.8L733.4 207.9L733.9 207.7L734.4 207.2L734.9 207.2L735.4 208.5L735.9 210L736.4 210.4L736.9 209.9L737.4 209.7L737.9 210.2L738.4 210.2L738.9 211.4L739.4 212.8L739.8 214.5L739.9 217.1L740.4 218.4L740.9 217.7L741.4 217L741.9 216.4L742.4 214.9L742.9 213.4L743.4 211.6L743.9 210.4L744.4 209.8L744.9 208.9L745.4 207.9L745.9 207.5L746.4 207.7L746.9 208L747.4 207.4L747.9 206.5L748.4 206.4L748.9 206.7L749.4 207.5L749.9 208.7L750.4 208.9L750.9 207.4L751.4 205.1L751.9 204.3L752.4 204.2L752.9 205.1L753.4 206.6L753.9 207.4L754.4 207.6L754.9 207.4L755.4 206.9L755.9 206L756.4 205.2L756.9 205L757.4 205.4L757.9 206.3L758.4 207.2L758.9 207.8L759.4 207.9L759.9 208.2L760.4 208.9L760.9 210.1L761.4 211.4L761.9 211.6L762.4 210.5L762.9 209L763.4 207.2L763.9 208.9L764.4 209.6L764.9 210.8L765.4 212.1L765.9 212.8L766.4 213L766.9 213.2L767.4 216.1L767.9 220.2L768.4 223.2L768.6 225L768.9 224.9L769.4 221.1L769.9 215.9L770.4 214.7L770.9 215.1L770.9 215.4L771.4 218.7L771.9 221.3L772.4 224.5L772.5 226L772.9 225.7L773.4 224.7L773.9 223.1L774.4 221.9L774.9 219.7L775.4 218.2L775.9 217.8L776.4 216.8L776.9 216.2L777.4 216.1L777.9 217.5L778.4 219.6L778.9 221.5L779 221.4L779.4 219.6L779.9 219.6L780.4 220.4L780.9 218.8L781.4 216.9L781.9 213.6L782.4 212.2L782.9 210.6L783.4 209.8L783.9 210L784.4 210.5L784.9 210.9L785.4 211.2L785.9 211.5L786.4 211.7L786.9 211.8L787.4 212.8L787.9 214.9L788.4 216.6L788.9 216.8L789.4 216.1L789.9 215.7L790.4 215.7L790.9 215.1L791.4 213.8L791.9 212.6L792.4 211.4L792.9 210.6L793.4 210.2L793.9 210.1L794.4 210.6L794.9 211.7L795.4 213.3L795.9 214L796.4 212.8L796.9 211.6L797.4 211L797.9 209.8L798.4 208L798.9 205.8L799.4 205.4L799.9 205.3L800.4 205.2L800.9 205.1L801.4 205.2L801.9 207.5L802.4 208.5L802.9 207.6L803.4 206L803.9 205.4L804.4 205.8L804.9 206.8L805.4 207.5L805.9 207.1L806.4 205.4L806.9 203.9L807.4 204.5L807.9 206.1L808.4 206.7L808.9 205.4L809.4 203.5L809.9 202.3L810.4 201.8L810.9 201.7L811.4 202.7L811.9 204.1L812.4 204.6L812.9 204.3L813.4 204.2L813.9 203.9L814.4 203.3L814.9 203.3L815.4 203.6L815.9 203.7L816.4 204L816.9 204.4L817.4 204.5L817.9 203.9L818.4 202.3L818.9 200.6L819.4 200L819.9 200.7L820.4 201.9L820.9 202.7L821.4 203.2L821.9 203.9L822.4 204.5L822.9 204.7L823.4 204.9L823.9 205.2L824.4 204.7L824.9 204L825.4 202.9L825.9 200.9L826.4 199L826.9 199.2L827.4 202.1L827.9 205.8L828.4 207.2L828.9 207.5L829.4 206.1L829.9 202.6L830.4 200L830.9 199.6L831.4 200.5L831.9 201.6L832.4 202.4L832.9 202.8L833.4 202.6L833.9 201.5L834.4 200.4L834.9 201.3L835.4 203.2L835.9 203.3L836.4 201.2L836.9 198.2L837.4 197L837.9 198.4L838.4 200.1L838.9 200.1L839.1 199.1L839.4 199.1L839.9 199.4L840.4 199.5L840.9 202L841.4 207.3L841.9 211.9L842.4 212.9L842.9 211.5L843.4 211.1L843.9 211.6L844.4 212.7L844.9 213.8L845.4 214.2L845.9 214.3L846.4 216.6L846.9 218.7L847.4 220.5L847.9 223.2L848.4 224.3L848.4 223.8L848.9 222.4L849.4 222.5L849.9 221.5L850.4 217.8L850.9 212.3L851.4 208.7L851.9 208.4L852.4 208.2L852.9 205.7L853.4 206L853.9 205.7L854.4 208.2L854.9 208.7L855.1 207.7L855.4 207.3L855.9 207.2L856.4 207.5L856.9 214.7L857.4 224.5L857.9 232.1L858.4 236.2L858.9 239.1L859.1 239L859.4 234.3L859.9 228.8L860.4 226L860.9 223.7L861.4 217L861.9 211.7L862.2 208.4L862.4 206.1L862.9 205.8L863.4 206.5L863.9 209.1L864.4 211.4L864.9 212.1L865.4 211.6L865.9 213.6L866.4 217.6L866.9 220.4L867.4 220.3L867.9 218.7L868.3 218.2L868.4 217.3L868.9 214.8L869.4 213.4L869.9 214.5L870.4 216.2L870.9 215.7L871.4 215.5L871.9 216.2L872.4 215.9L872.9 212.4L872.9 208.4L873.4 207.8L873.9 210.6L874.4 213.2L874.9 213.3L875.4 212.5L875.9 213L876.4 215.3L876.9 211.8L877.4 206L877.9 206.8L878.4 207.2L878.9 206.5L879.1 208.6L879.4 214.9L879.9 213.9L880.4 215.1L880.9 224.9L881.4 230.4L881.9 225.2L882.1 223.7L882.4 235.2L882.9 250L883.4 260.1L883.9 264.7L884.4 267.2L884.9 272L885.2 272.5L885.4 265.9L885.9 247.1L886.4 227.9L886.9 214.6L887.4 209.4L887.7 206L887.9 209.7L888.4 227L888.9 238.4L889.4 223.3L889.5 206L889.9 206.1L890.4 221L890.9 225.3L891.4 211.7L891.4 206.4L891.9 208.7L892.4 216.4L892.9 223.2L893.4 231.4L893.9 259.7L894.4 284L894.9 300L895.4 300.8L895.9 301.1L896 304.3L896.4 310.3L896.9 316.2L897.4 312.3L897.9 290.2L898.4 250.8L898.4 241.6L898.9 239.2L899.4 240.7L899.9 231.9L900.4 227.7L900.6 238.7L900.9 264.9L901.4 285.5L901.9 287.4L902.4 281.6L902.4 270.4L902.9 277.3L903.4 289.4L903.9 291.8L904.4 299.5L904.9 319.1L905.4 344.8L905.9 360.7L906.4 362.7L906.7 349.3L906.9 331.1L907.4 308.6L907.9 285.4L908.4 291.4L908.9 281.1L909.4 244.8L909.8 229.5L909.9 237.7L910.4 243.6L910.9 238.6L911.3 221.7L911.4 206.5L911.9 207.2L912.4 220.7L912.9 265.1L913.4 303.5L913.9 303.1L914.4 277.5L914.4 265L914.9 238.1L915.4 213.3L915.9 207.6L915.9 211.4L916.4 246.1L916.9 268.6L917.4 288.3L917.9 289.2L918.4 284.7L918.9 265.7L919 261.3L919.4 260.8L919.9 261L920.4 256.9L920.9 249.2L921.1 245.1L921.4 241.6L921.9 244.9L922.4 264.4L922.9 298L923.4 321.3L923.6 326.6L923.9 318.1L924.4 301.5L924.9 284L925.4 252.6L925.8 210.6L925.9 209.5L926.4 210.1L926.9 206.8L927.4 229.9L927.6 243.1L927.9 250.9L928.4 258.8L928.9 249.5L929.4 233.3L929.7 219.1L929.9 222.4L930.4 241.1L930.9 267.8L931.4 291.6L931.9 303.2L932.4 294.2L932.8 278.9L932.9 277L933.4 267.4L933.9 263L934.4 273L934.9 265.2L935.4 252.5L935.9 259.2L935.9 264.9L936.4 270.9L936.9 285.8L937.4 293.2L937.9 282.2L938.4 259L938.9 241.5L939 241.8L939.4 259.5L939.9 279.3L940.4 282.8L940.9 268.2L941.1 259.6L941.4 270.7L941.9 290.5L942.4 301.3L942.9 303.9L943.4 306.5L943.6 305.9L943.9 296.7L944.4 284.2L944.9 278.7L945.4 275.7L945.9 265.6L946 265L946.4 269.4L946.9 274.4L947.4 274.5L947.9 266L948.2 245.2L948.4 224.1L948.9 236.6L949.4 288L949.9 338.8L950.4 351.6L950.9 331.7L951.2 301.5L951.4 272.9L951.9 255.1L952.4 263.5L952.9 277.8L953.4 269L953.7 235.7L953.9 206.7L954.4 209.7L954.9 209.5L955.4 207.2L955.9 222.4L955.9 237.4L956.4 241.6L956.9 242.7L957.4 271.8L957.9 310.5L958.4 319.8L958.9 293.1L958.9 263.9L959.4 229.1L959.9 206.6L960.4 207.4L960.5 225.7L960.9 248L961.4 257.5L961.9 253L962 241.3L962.4 248.3L962.6 251.3L962.9 263.1L963.4 296.1L963.9 315.5L964.4 317L964.9 291.2L965.1 286L965.4 302.3L965.9 310L966 291.5L966.4 262L966.9 238.2L967.4 241.2L967.5 240.9L967.9 235.8L968.4 250.5L968.9 253.4L969.4 241.9L969.9 222.8L970 214.2L970.4 206.4L970.9 208.7L971.2 212.6L971.4 214.3L971.9 219.7L972.4 227.3L972.9 245.7L973.4 273.6L973.9 297.1L974.4 304.3L974.9 310.9L975.2 316.6L975.4 318L975.9 312.1L976.4 308.5L976.9 292.4L977.4 260.8L977.9 225.2L978 216.4L978.4 228.2L978.9 246.5L979.4 264.7L979.9 281.3L980.4 284.9L980.9 274.3L981.4 265.1L981.9 271.3L982 280.5L982.4 277.3L982.9 260.6L983.4 240.9L983.9 235L984.4 227.8L984.9 219.8L985.4 214.6L985.9 209.4L986.4 220.6L986.9 232.7L986.9 231.2L987.4 217.7L987.9 215L988.4 236L988.9 269.6L989.4 300.6L989.9 319.5L990.1 320.8L990.4 300.8L990.9 274.2L991.4 261L991.9 265L992.4 266.6L992.9 248.5L992.9 228.1L993.4 223L993.9 230.9L994.4 254.6L994.9 286.4L995.4 308.6L995.9 335.7L996.4 352.7L996.9 354.5L997.4 353.5L997.9 356.4L998.1 348.7L998.4 333.7L998.9 324L999.4 338L999.9 335.4L1000.4 323.6L1000.9 314.1L1001.4 304.1L1001.9 293.1L1002.1 288.6L1002.4 291.7L1002.9 297L1003.4 302.2L1003.9 307.5L1004.4 305.3L1004.9 300L1005.4 301.3L1005.9 308.4L1006.4 313L1006.9 311.3L1007.3 312.4L1007.4 316.2L1007.9 317.5L1008.4 318.6L1008.9 319.8L1009.4 318.8L1009.9 308.6L1010.4 296.6L1010.9 286.8L1011.4 288.5L1011.9 291.5L1012.4 291.8L1012.9 286.6L1013.4 273.6L1013.9 256.9L1014.1 246.5L1014.4 250L1014.9 265.3L1015.4 283.9L1015.9 295.1L1016.4 300.2L1016.9 293.9L1017.4 282.7L1017.9 277.4L1018.4 282.9L1018.9 294.9L1019.3 304.5L1019.4 307L1019.9 302.7L1020.4 294.5L1020.9 284.7L1021.4 274.7L1021.9 258.8L1022.4 245.6L1022.9 246.3L1023.4 259.5L1023.9 268.1L1024.2 264.6L1024.4 268.1L1024.9 275.2L1025.4 281.8L1025.9 283.7L1026.4 292.2L1026.9 302.1L1027.4 300.7L1027.9 289.3L1028.4 276.6L1028.9 270.1L1029.4 264.4L1029.9 255.6L1030.4 242.4L1030.9 230.7L1031.4 226.2L1031.4 232.3L1031.9 237.3L1032.4 235.7L1032.9 238L1033.4 246.8L1033.9 263.5L1034.4 276.7L1034.9 283.2L1035.4 278.6L1035.9 266.1L1036.2 256.5L1036.4 255.5L1036.9 259.5L1037.4 266L1037.9 274.5L1038.4 280.5L1038.9 280.9L1039.4 276.9L1039.9 268.6L1040.4 260.6L1040.9 263.4L1041.4 278.3L1041.9 294.2L1042.2 300.6L1042.4 293.4L1042.9 277.1L1043.4 262.3L1043.9 262L1044.4 275.2L1044.9 284.7L1045.4 282.5L1045.9 262.1L1046.4 244.6L1046.9 249.5L1047.4 264.2L1047.9 252.1L1048.2 244.6L1048.4 243.9L1048.9 234.2L1049.4 232.5L1049.9 245.1L1050.4 269L1050.9 286.5L1051.4 281.7L1051.9 282.3L1052.4 296.2L1052.9 313.8L1053.4 326.1L1053.9 329L1054.2 324.4L1054.4 309.2L1054.9 287.8L1055.4 272.5L1055.9 259.1L1056.4 262.3L1056.9 277L1057.4 293.5L1057.9 290.1L1058.4 284.6L1058.9 287.3L1059.4 290.2L1059.4 280.2L1059.9 261.4L1060.4 250.1L1060.9 243.4L1061.4 236.6L1061.9 229.7L1062.4 228.9L1062.9 237.3L1063.4 245.6L1063.9 238.3L1064.2 218.4L1064.4 209.5L1064.9 210.3L1065.4 209.5L1065.9 214.2L1066.4 231.9L1066.9 262.1L1067.4 285.3L1067.9 298.7L1068.4 299.5L1068.9 295L1069.1 288.6L1069.4 280.2L1069.9 275.1L1070.4 275.9L1070.9 275L1071.4 262.6L1071.9 238.9L1072.4 216.3L1072.9 216.7L1073.4 217.2L1073.9 217.7L1074.4 224.4L1074.9 233.5L1075.1 240.6L1075.4 248.7L1075.9 246.6L1076.4 243L1076.9 255L1077.4 276L1077.9 293.2L1078.4 297L1078.9 286.7L1079.4 277L1079.9 275.2L1080.3 280.6L1080.4 287.7L1080.9 287.5L1081.4 282.5L1081.9 281.2L1082.4 277.3L1082.9 259.5L1083.4 230.1L1083.9 216.6L1084.4 217.1L1084.9 218.5L1085.4 211.4L1085.5 202.5L1085.9 199.6L1086.4 208.7L1086.9 235.6L1087.4 267.4L1087.9 287.6L1088.4 292.1L1088.9 288.1L1089.4 282.5L1089.9 281.1L1090.3 296L1090.4 311.2L1090.9 310.6L1091.4 300.9L1091.9 287.9L1092.4 271L1092.9 248.6L1093.4 242.2L1093.9 236.9L1094.4 221.4L1094.9 212.7L1095.4 213.5L1095.9 200.7L1096.3 182.5L1096.4 175.8L1096.9 169.8L1097.4 170.7L1097.9 194.9L1098.4 238.8L1098.9 285.7L1099.4 298L1099.9 304L1100.4 316.3L1100.9 325.6L1101.1 320.6L1101.4 310.3L1101.9 308.2L1102.4 310.2L1102.9 308.3L1103.4 301.4L1103.9 288.1L1104.4 272.1L1104.9 265.1L1105.4 254.2L1105.9 239L1106.3 224.6L1106.4 219.5L1106.9 228L1107.4 242.3L1107.9 262.7L1108.4 283.9L1108.9 298.2L1109.4 291.3L1109.9 279.5L1110.4 272.6L1110.4 270.5L1110.9 272.2L1111.4 275.5L1111.9 276.9L1112.4 276.2L1112.9 275.9L1113.4 288.3L1113.9 307.3L1114.4 316.7L1114.4 316.5L1114.9 314.2L1115.4 303.3L1115.9 285.8L1116.4 273.3L1116.9 268.4L1117.4 271.5L1117.9 276.2L1118.4 280.6L1118.4 284L1118.9 285.3L1119.4 283.2L1119.9 280.7L1120.4 291.7L1120.9 310L1121.4 337.3L1121.9 365.6L1122.4 388.8L1122.4 385.5L1122.9 367.5L1123.4 349.5L1123.9 331L1124.4 311L1124.9 303.8L1125.4 318.2L1125.9 325.7L1126.4 316.7L1126.9 309.2L1127.4 309.1L1127.9 312.3L1128.4 317.2L1128.9 318.9L1129.4 321.5L1129.9 322.8L1130.4 323.6L1130.4 329.3L1130.9 334.5L1131.4 331.7L1131.9 321.5L1132.4 313.9L1132.9 320.1L1133.4 340.1L1133.9 362.7L1134.4 379L1134.9 386.3L1135.1 380L1135.4 365.4L1135.6 356.7L1135.9 357.2L1136.4 361L1136.9 359.1L1137.4 345.7L1137.9 329L1138.4 316L1138.9 310.5L1139.4 311.7L1139.6 315.5L1139.9 315L1140.2 308.3L1140.4 304.8L1140.9 315.5L1141.4 329.7L1141.9 335.7L1142.4 329.7L1142.9 319.7L1143.4 316.1L1143.9 320.4L1144.4 326.9L1144.9 331.8L1145.4 332.2L1145.4 325.7L1145.9 314.3L1146.4 307.3L1146.9 307.7L1147.4 314.6L1147.9 329.4L1148.4 326.6L1148.9 315.9L1149.4 309.1L1149.9 305.2L1150.4 297.4L1150.5 294.7L1150.9 299.3L1151.4 302.9L1151.9 305.5L1152.4 308.4L1152.9 311L1153.4 308.6L1153.9 307L1154.4 304.8L1154.9 298.6L1155.4 287.2L1155.6 284.5L1155.9 286L1156.4 288.7L1156.9 293.6L1157.4 308.2L1157.9 314.7L1158.4 320.6L1158.9 333.7L1159.4 346.2L1159.9 348.4L1160 343.8L1160.4 337.6L1160.9 330.4L1161.4 322.3L1161.9 313.8L1162.4 301.5L1162.5 294.1L1162.9 291L1163.4 299.8L1163.9 311.7L1164.4 314.2L1164.9 307.8L1165.4 303.8L1165.9 304.1L1166.4 302.7L1166.9 301.3L1167.4 304L1167.6 304.9L1167.9 301.5L1168.4 296L1168.9 289.7L1169.4 283.3L1169.9 277L1170.4 278.5L1170.9 283.5L1171.4 284L1171.9 280.6L1172.4 274.6L1172.9 270.6L1173.4 267.5L1173.9 263.6L1174.4 258.8L1174.9 263.7L1175.4 269.3L1175.9 273.6L1176.4 277.9L1176.9 281L1177.4 277.2L1177.9 266.9L1178.4 267.2L1178.9 273.8L1179.4 288.5L1179.5 296.4L1179.9 294.1L1180.4 288.5L1180.9 282.8L1181.4 275.9L1181.9 268.8L1182.4 265.6L1182.9 263.8L1183.4 260.5L1183.9 258.2L1184.4 258.4L1184.9 260.7L1185.4 261.2L1185.9 258.5L1186.3 255.4L1186.4 255.6L1186.9 259.1L1187.4 262.1L1187.9 264.2L1188.4 265.9L1188.9 268.5L1189.4 271.1L1189.9 273.7L1190.4 274.2L1190.9 273.7L1191.4 270.7L1191.9 266.1L1192.4 263L1192.9 266.8L1193.4 274.2L1193.9 279.5L1194.4 280.7L1194.9 281.1L1194.9 279.6L1195.4 277.7L1195.9 277.2L1196.4 276.1L1196.9 273.4L1197.4 271.1L1197.9 272L1198.4 272.4L1198.9 270.8L1199.4 269.3L1199.9 267.6L1200.4 267.1L1200.9 269.7L1201.4 272.5L1201.9 272.9L1202.4 272.3L1202.9 271.3L1203.4 269L1203.9 265.2L1204.4 262.4L1204.9 263.2L1205.4 265.5L1205.9 266.1L1206.4 266.8L1206.9 267.9L1207.4 265.9L1207.9 260.2L1208.4 255.2L1208.9 254.5L1209.4 253.9L1209.9 253.3L1210.4 256.6L1210.9 256.4L1211.4 253.2L1211.9 250.5L1212.4 250.3L1212.9 249.7L1213 250.3L1213.4 253.8L1213.9 256L1214.4 255.9L1214.9 257.2L1215.4 262.4L1215.9 267.3L1216.4 269L1216.9 268.2L1217.4 266.9L1217.9 265.5L1218.4 264.4L1218.9 264.6L1219.4 265.9L1219.9 266L1220.4 263.9L1220.9 261.3L1221.4 258.3L1221.9 255L1222.2 252L1222.4 250.5L1222.9 251.9L1223.4 257L1223.9 262.3L1224.4 262.2L1224.9 258.9L1225.4 258.4L1225.9 263.3L1226.4 267.8L1226.9 267.9L1227.4 265.9L1227.9 264.8L1228.4 264.4L1228.9 265L1229.4 267.6L1229.9 270.5L1230.4 271.6L1230.9 272.9L1231.4 276.6L1231.9 277.3L1232.4 276.9L1232.9 272.7L1233.4 272.3L1233.9 282.7L1234.4 290.5L1234.9 293.9L1235.4 297.2L1235.9 300.5L1236.4 308.8L1236.9 311.3L1237.4 306.9L1237.9 307.5L1238.4 304L1238.6 297.9L1238.9 295.8L1239.4 294.5L1239.9 290.1L1240.4 283.3L1240.9 274.7L1241.4 275.4L1241.9 294.8L1242.4 308L1242.9 304L1243.4 277.8L1243.9 260.8L1244.4 260L1244.9 260.7L1245.4 260.7L1245.9 271.2L1246.4 289.5L1246.9 301.1L1247.4 301L1247.9 294.5L1248.4 282.5L1248.9 264L1249.4 242.9L1249.5 236.4L1249.9 237.4L1250.4 238.9L1250.9 240.3L1251.4 252.9L1251.9 269.8L1252.4 280L1252.9 281.6L1253.4 281.6L1253.9 285.8L1254.4 287.2L1254.9 282.7L1255.4 267.8L1255.9 268.9L1256.4 277.7L1256.9 299.5L1257 306.6L1257.4 301.9L1257.9 298.8L1258.4 295.9L1258.9 288.4L1259.4 270.6L1259.9 251.4L1260.4 242.8L1260.9 240.7L1261.4 236.4L1261.9 237.1L1262.4 245.2L1262.5 253.7L1262.9 260.4L1263.4 260.7L1263.9 253.3L1264.4 239.2L1264.9 232L1265.4 229.5L1265.9 228.3L1266.4 229.4L1266.6 234.9L1266.9 246.1L1267.4 259.3L1267.9 272.8L1268.4 292.7L1268.9 313.4L1269.4 320.9L1269.9 310.9L1270.4 299.9L1270.7 301.5L1270.9 309.5L1271.4 303.9L1271.9 280.6L1272.4 261.1L1272.9 262.4L1273.4 277.2L1273.9 292.9L1274.4 291.9L1274.9 293.9L1275.4 312L1275.8 335.2L1275.9 343L1276.4 336.5L1276.9 330.5L1277.4 325.4L1277.9 299.9L1278.4 254.7L1278.9 238L1279.4 248.5L1279.9 231.1L1280.3 216.4L1280.4 217L1280.9 216.3L1281.4 214.5L1281.9 221.2L1282.4 247.4L1282.9 276.5L1283.4 278.4L1283.7 287.8L1283.9 307.3L1284.4 317.1L1284.9 304.4L1285.4 276.2L1285.9 251.3L1286.4 235.8L1286.9 230.3L1287.4 235.1L1287.9 234.6L1288.4 226.8L1288.8 212.3L1288.9 215.6L1289.4 229.2L1289.9 242.6L1290 240.8L1290.4 240.2L1290.9 247.6L1291.4 269.3L1291.9 300.1L1292.4 342.1L1292.5 360.7L1292.9 376L1293.4 372.7L1293.9 361.1L1293.9 350.4L1294.4 327.7L1294.9 311.5L1295.4 307.1L1295.5 309.2L1295.9 313.2L1296.4 319.7L1296.9 325.2L1297.4 324.3L1297.9 319L1298 313.5L1298.4 314.8L1298.9 318.3L1299.4 325.2L1299.9 339L1300.4 351L1300.8 351.4L1300.9 347.6L1301.4 339.8L1301.9 332L1302.4 326.3L1302.5 339L1302.9 341.9L1303.4 333.8L1303.9 326.9L1304.4 317.6L1304.9 311.4L1305.4 305.2L1305.4 302.1L1305.9 290.3L1306.4 282.8L1306.9 286.9L1307.4 297.8L1307.6 308.6L1307.9 317L1308.4 319.6L1308.9 319.6L1309.4 322.2L1309.9 325.4L1310 322L1310.4 317.2L1310.9 306.5L1311.4 303.3L1311.9 303.7L1312.4 289.9L1312.9 273.5L1313.4 261.2L1313.9 256.5L1314.4 252.6L1314.6 257.5L1314.9 273.7L1315.4 286.2L1315.9 294.2L1316.4 307.7L1316.9 328.8L1317.4 341L1317.9 340.5L1318.4 342L1318.9 345.2L1319.2 349.7L1319.4 356.1L1319.9 356.8L1320.4 346.3L1320.9 333.9L1321.4 323.5L1321.9 313.1L1322.4 311.5L1322.9 321.9L1323.4 331.9L1323.8 327.1L1323.9 313.3L1324.4 305.8L1324.9 307.4L1325.4 312.3L1325.9 318.3L1326.4 325.6L1326.9 328.9L1327.4 332L1327.9 335.7L1328.4 343.5L1328.9 348.8L1329.4 339.5L1329.9 319.4L1329.9 306.6L1330.4 306.4L1330.9 313.6L1331.4 326.8L1331.9 340.2L1332.4 343.5L1332.9 338.3L1333.4 337.1L1333.9 340.9L1334.4 338.5L1334.5 342.7L1334.9 341.9L1335.4 330.5L1335.9 319L1336.4 306.5L1336.7 297.5L1336.9 301.1L1337.4 308.4L1337.9 309.3L1338.4 309.3L1338.9 321.6L1339.4 345.8L1339.8 364.6L1339.9 373.9L1340.4 375.8L1340.9 375.5L1341.4 369.4L1341.9 362.5L1342.4 361.8L1342.9 361.9L1343.4 350.4L1343.8 340.3L1343.9 338L1344.4 337.1L1344.9 338.6L1345.4 348.2L1345.9 352.6L1346.4 341.6L1346.9 321.9L1347.4 312.7L1347.4 312.8L1347.9 311.3L1348.4 310.9L1348.9 311.5L1349.4 320L1349.9 326.3L1350.4 334.7L1350.9 345.6L1351.4 355L1351.4 355.7L1351.9 346.5L1352.4 336L1352.9 320.1L1353.4 301.4L1353.9 286.9L1354.4 287.3L1354.9 291.5L1355.1 289.8L1355.4 286.3L1355.9 289.2L1356.4 297.7L1356.9 306.2L1357.4 310.8L1357.9 311.1L1358.2 311.2L1358.4 313.3L1358.9 310.3L1359.4 300.1L1359.9 288.8L1360.4 273.7L1360.9 259.1L1361.4 248.8L1361.9 241.6L1362.2 239.1L1362.4 248.1L1362.9 259.7L1363.4 265.4L1363.9 268.5L1364.4 272.4L1364.9 275.7L1365.2 272.9L1365.4 276.7L1365.9 284L1366.4 292.1L1366.9 301.3L1367.4 306.6L1367.9 304.5L1368.4 294.4L1368.9 291.9L1369.2 297.5L1369.4 306.3L1369.9 315.4L1370.4 322.4L1370.9 326.6L1371.4 330.6L1371.9 331.8L1372.4 326.3L1372.9 321.8L1372.9 322L1373.4 324.2L1373.9 323.6L1374.4 326.4L1374.9 340.8L1375.4 353.9L1375.9 358.2L1376.4 360L1376.9 363.9L1376.9 361.4L1377.4 356.6L1377.9 353L1378.4 347L1378.9 336.7L1379.4 328.9L1379.9 328.7L1380 331.3L1380.4 337L1380.9 341.5L1381.4 341L1381.9 338.1L1382.4 335.2L1382.9 324.8L1383.4 314.6L1383.7 315.9L1383.9 321.8L1384.4 324.7L1384.9 326.8L1385.4 332.3L1385.9 337.1L1386.4 339.4L1386.9 335.6L1387.4 332.3L1387.9 319.7L1388.4 303.4L1388.9 292.7L1388.9 293.2L1389.4 297.1L1389.9 298.4L1390.4 304.8L1390.9 312L1391.4 316.4L1391.9 318.8L1392.4 325.4L1392.9 329.4L1393.4 327.5L1393.8 322L1393.9 318.8L1394.4 324.6L1394.9 333.6L1395.4 336.1L1395.9 335.3L1396.4 337.1L1396.9 346.5L1397.4 355L1397.9 361.4L1398.4 361.8L1398.9 353.7L1399 345L1399.4 347.2L1399.9 349.1L1400.4 336L1400.9 308.4L1401.4 286.7L1401.9 288.8L1402.1 306.6L1402.4 313.5L1402.9 306.7L1403.4 288.4L1403.9 286.5L1404.4 296L1404.9 302.3L1405.4 309.9L1405.9 318.6L1406.1 325L1406.4 327.3L1406.9 329.5L1407.4 335.3L1407.9 339.5L1408.4 334.9L1408.9 322.4L1409.4 307.3L1409.8 306.8L1409.9 304.9L1410.4 300.7L1410.9 314.5L1411.4 316.9L1411.9 301.8L1412.2 281.8L1412.4 269.7L1412.9 262.4L1413.4 257.9L1413.9 254.3L1414.4 250.1L1414.9 245.3L1415.3 237.1L1415.4 231.9L1415.9 219.8L1416.4 211L1416.9 206.7L1417.4 206.9L1417.8 206.7L1417.9 210.1L1418.4 208.2L1418.9 206.7L1419.4 211.7L1419.9 220.4L1420.4 228L1420.5 231.4L1420.9 235.7L1421.4 236L1421.9 236.2L1422.4 236.5L1422.9 232.6L1423.4 228.7L1423.9 229L1424.4 233L1424.9 238.2L1425.1 239L1425.4 235.1L1425.9 232.2L1426.4 232.2L1426.9 229.6L1427.4 221.4L1427.9 212.2L1428.4 209.9L1428.8 211.4L1428.9 213.7L1429.4 214.2L1429.9 211.5L1430.4 212L1430.9 222.4L1431.4 237.1L1431.9 238.6L1432.4 239L1432.8 236L1432.9 236.9L1433.4 234.9L1433.9 226.8L1434.4 218.3L1434.9 212.1L1435.4 208.2L1435.9 208.4L1435.9 208.3L1436.4 208.2L1436.9 208.9L1437.4 217.7L1437.9 224.7L1438.4 235.2L1438.9 238.5L1439.4 239.3L1439.9 240.1L1440.4 236.3L1440.5 232.9L1440.9 233.2L1441.4 231.2L1441.9 226.2L1442.4 215.6L1442.9 207.1L1443.4 207.7L1443.6 206.7L1443.9 220.2L1444.4 224.8L1444.9 225.5L1445.4 218.1L1445.9 213.9L1446.4 212.1L1446.9 214.9L1447.4 217.7L1447.9 222.4L1448.2 228.3L1448.4 229.2L1448.9 227.5L1449.4 225.4L1449.9 223.3L1450.4 221.1L1450.9 217.6L1451.4 212.8L1451.9 209.9L1451.9 213.1L1452.4 217.6L1452.9 218.9L1453.4 218.4L1453.9 218.1L1454.4 218.6L1454.9 220.9L1455.4 222.8L1455.8 222L1455.9 218.8L1456.4 224.9L1456.9 234.8L1457.4 240.7L1457.9 240.5L1458.3 239L1458.4 238.3L1458.9 246.2L1459.4 253.6L1459.9 256.8L1460.4 258.4L1460.9 260.6L1461.1 260.5L1461.4 252.6" stroke="#ff7f0e" stroke-width="2.3" stroke-linejoin="round" stroke-linecap="butt" fill="none"/>
</g>
<path d="M115.5 518.5v4.9M284.5 518.5v4.9M452.5 518.5v4.9M620.5 518.5v4.9M789.5 518.5v4.9M957.5 518.5v4.9M1126.5 518.5v4.9M1294.5 518.5v4.9M115.5 116.5h-4.9M115.5 209.5h-4.9M115.5 303.5h-4.9M115.5 396.5h-4.9M115.5 490.5h-4.9" stroke="#000" stroke-width="1.1" fill="none"/>
<rect x="115.5" y="38.5" width="1347.0" height="480.0" fill="none" stroke="#000" stroke-width="1.1"/>
<g clip-path="url(#cb)"><rect x="824.2" y="570.5" width="521.5" height="489.0" fill="#d3d3d3" fill-opacity="0.5" stroke="#d3d3d3" stroke-opacity="0.5" stroke-width="1.39"/></g>
<path d="M284.5 575.5V1054.5M452.5 575.5V1054.5M620.5 575.5V1054.5M789.5 575.5V1054.5M957.5 575.5V1054.5M1126.5 575.5V1054.5M1294.5 575.5V1054.5M115.5 1034.5H1462.5M115.5 931.5H1462.5M115.5 828.5H1462.5M115.5 725.5H1462.5M115.5 623.5H1462.5" stroke="#b0b0b0" stroke-width="1.1" stroke-dasharray="1.1 1.85" fill="none"/>
<g clip-path="url(#cb)">
<path d="M115.5 981L116.5 974.4L117.5 968.4L118.5 963.2L119.5 963.2L120.5 963.2L121.5 963.2L122.5 964L123.5 970L124.5 974.7L125.5 974.7L126.5 974.7L127.5 977.5L128.5 982.4L129.5 981.6L130.5 981.6L131.5 981.6L132.5 978.6L133.5 973.2L134.5 967.8L135.5 967.8L136.5 967.8L137.5 967.8L138.5 967.8L139.5 975.5L140.5 983.2L141.5 988.6L142.5 988.6L143.5 988.6L144.5 986.3L145.5 981.7L146.5 979.3L147.5 979.3L148.5 979.3L149.5 979.3L150.5 981.7L151.5 985.4L152.5 984.4L153.5 980.5L154.5 974.5L155.5 970.1L156.5 970.1L157.5 970.1L158.5 970.1L159.5 972.2L160.5 980.2L161.5 988.2L162.5 988.4L163.5 984.9L164.5 978.2L165.5 971.6L166.5 964.9L167.5 963.2L168.5 963.2L169.5 963.2L170.5 963.2L171.5 966.6L172.5 970.2L173.5 969.3L174.5 968.5L175.5 966.2L176.5 958.7L177.5 950.7L178.5 941.8L179.5 933L180.5 927.5L181.5 927.5L182.5 927.5L183.5 927.5L184.5 929.9L185.5 936.1L186.5 936.1L187.5 933.1L188.5 928.8L189.5 922.2L190.5 915.5L191.5 912.5L192.5 912.5L193.5 912.5L194.5 912.5L195.5 903.2L196.5 890.5L197.5 879.1L198.5 879.1L199.5 879.1L200.5 879.1L201.5 880L202.5 889.5L203.5 885.8L204.5 871L205.5 855.3L206.5 839.5L207.5 837.6L208.5 837.6L209.5 837.6L210.5 837.6L211.5 857.5L212.5 880L213.5 879.6L214.5 871.6L215.5 866.4L216.5 866.4L217.5 866.4L218.5 866.4L219.5 870L220.5 880L221.5 887.7L222.5 886.7L223.5 886L224.5 886L225.5 886L226.5 886L227.5 887.9L228.5 894.4L229.5 896.8L230.5 894.3L231.5 885.9L232.5 877.1L233.5 868.3L234.5 867.6L235.5 867.6L236.5 867.6L237.5 867.6L238.5 880.9L239.5 892.4L240.5 891.8L241.5 891.8L242.5 891.8L243.5 891.8L244.5 891.9L245.5 898.9L246.5 901.3L247.5 893L248.5 882.4L249.5 874.5L250.5 874.5L251.5 874.5L252.5 874.5L253.5 876.9L254.5 886.5L255.5 896.1L256.5 897.8L257.5 890.3L258.5 878.3L259.5 854.1L260.5 829.9L261.5 812.3L262.5 812.3L263.5 812.3L264.5 812.3L265.5 816.3L266.5 830.8L267.5 845.3L268.5 848.9L269.5 852.3L270.5 855.6L271.5 856.3L272.5 853.3L273.5 848.8L274.5 844.5L275.5 844.5L276.5 844.5L277.5 844.5L278.5 846L279.5 856.5L280.5 867L281.5 876.1L282.5 884.8L283.5 896.8L284.5 908.8L285.5 913.2L286.5 914.2L287.5 915.3L288.5 914.8L289.5 914.3L290.5 913.8L291.5 909.4L292.5 913.7L293.5 911.7L294.5 911.3L295.5 911.1L296.5 909.6L297.5 905.9L298.5 901.6L299.5 895.5L300.5 888.5L301.5 882.1L302.5 879.5L303.5 880.2L304.5 882.7L305.5 887.8L306.5 893.4L307.5 898L308.5 901.8L309.5 904L310.5 905.4L311.5 905.6L312.5 906.9L313.5 909.2L314.5 913.4L315.5 918.5L316.5 923.6L317.5 927.8L318.5 930L319.5 931L320.5 931.1L321.5 931.3L322.5 933L323.5 935.1L324.5 937.2L325.5 938L326.5 937.3L327.5 934.8L328.5 932L329.5 929.3L330.5 926.3L331.5 923.2L332.5 921.6L333.5 921.6L334.5 922.9L335.5 924.2L336.5 924.3L337.5 921.3L338.5 916.9L339.5 911.9L340.5 907.1L341.5 903.5L342.5 900.8L343.5 898.3L344.5 895.2L345.5 891.8L346.5 887.9L347.5 884.1L348.5 880.3L349.5 875.8L350.5 871.1L351.5 866.7L352.5 863.3L353.5 862.1L354.5 861.7L355.5 862.4L356.5 863.7L357.5 865.4L358.5 867L359.5 868.2L360.5 869.9L361.5 873.8L362.5 880L363.5 886.7L364.5 892.4L365.5 895.9L366.5 898.6L367.5 900.8L368.5 901.5L369.5 903L370.5 903.7L371.5 901.8L372.5 897.3L373.5 890.5L374.5 883.9L375.5 878.4L376.5 869.5L377.5 860.7L378.5 854.8L379.5 851.8L380.5 853L381.5 853.9L382.5 856.6L383.5 860.4L384.5 864.6L385.5 865.2L386.5 865.7L387.5 866.4L388.5 865.9L389.5 865.9L390.5 867.1L391.5 867.7L392.5 868.9L393.5 869.7L394.5 870.1L395.5 870L396.5 869.4L397.5 869.5L398.5 871.1L399.5 873.7L400.5 876.1L401.5 875.7L402.5 873.4L403.5 868.9L404.5 862.5L405.5 856.5L406.5 852.6L407.5 851.7L408.5 853.4L409.5 856L410.5 858.5L411.5 859.6L412.5 859.6L413.5 860.3L414.5 862.3L415.5 863.1L416.5 864.1L417.5 866.5L418.5 869.6L419.5 870L420.5 869.1L421.5 867.3L422.5 864.6L423.5 861.9L424.5 859.9L425.5 859L426.5 858.6L427.5 857.6L428.5 854.9L429.5 851L430.5 846.3L431.5 841.9L432.5 839.3L433.5 839.2L434.5 841.8L435.5 846.3L436.5 852.4L437.5 859.4L438.5 866.1L439.5 871.5L440.5 875.5L441.5 877.3L442.5 876.9L443.5 876L444.5 874.7L445.5 873.5L446.5 872.7L447.5 872L448.5 868.6L449.5 865.3L450.5 863.1L451.5 862.3L452.5 861.5L453.5 861.4L454.5 862L455.5 863L456.5 864L457.5 864.2L458.5 862.1L459.5 859.6L460.5 857.2L461.5 855.1L462.5 852.1L463.5 848.4L464.5 844.8L465.5 842L466.5 841L467.5 842.4L468.5 846.1L469.5 850.9L470.5 855.1L471.5 857.5L472.5 857.8L473.5 856.8L474.5 855.9L475.5 856L476.5 857.9L477.5 861.1L478.5 864.5L479.5 866.8L480.5 867.7L481.5 867L482.5 865.6L483.5 864.7L484.5 864.7L485.5 865.8L486.5 867.2L487.5 867.7L488.5 864.8L489.5 861.3L490.5 858.4L491.5 856.5L492.5 854.7L493.5 855.4L494.5 860.5L495.5 866L496.5 868.9L497.5 870.3L498.5 870.4L499.5 869.8L500.5 867.9L501.5 866.8L502.5 866.8L503.5 867.1L504.5 866.4L505.5 865.4L506.5 864.6L507.5 865.1L508.5 866.6L509.5 868.2L510.5 871.1L511.5 874.3L512.5 876.1L513.5 875.3L514.5 874.7L515.5 874.7L516.5 874L517.5 873.4L518.5 874.9L519.5 879.1L520.5 872.8L521.5 866.7L522.5 859.9L523.5 855.7L524.5 853.8L525.5 851L526.5 848.6L527.5 848.5L528.5 851L529.5 854.3L530.5 857.8L531.5 863.8L532.5 871.8L533.5 879.9L534.5 878.2L535.5 876.6L536.5 874.1L537.5 870.5L538.5 866.1L539.5 862.2L540.5 859.8L541.5 859.8L542.5 861.6L543.5 864L544.5 865.8L545.5 865.8L546.5 863.4L547.5 860.6L548.5 860.2L549.5 863.3L550.5 866.2L551.5 867.5L552.5 869.8L553.5 872.4L554.5 875.9L555.5 875L556.5 873.2L557.5 873.7L558.5 872.8L559.5 868.6L560.5 864L561.5 860.1L562.5 857.1L563.5 854.6L564.5 853.6L565.5 854L566.5 856.2L567.5 860.6L568.5 865.2L569.5 864.7L570.5 855L571.5 845.7L572.5 838.1L573.5 838.5L574.5 838.6L575.5 838.3L576.5 838.1L577.5 840.2L578.5 841.3L579.5 841.4L580.5 845.4L581.5 849.6L582.5 853.2L583.5 848.2L584.5 847.3L585.5 849.6L586.5 855.5L587.5 860.9L588.5 864.9L589.5 867.7L590.5 870.3L591.5 862.5L592.5 854.2L593.5 846.8L594.5 840.6L595.5 834.8L596.5 834.5L597.5 835.7L598.5 838.4L599.5 842.4L600.5 853.1L601.5 863.1L602.5 870.3L603.5 874.2L604.5 861.9L605.5 850.1L606.5 842.6L607.5 840.3L608.5 841.1L609.5 844.1L610.5 848L611.5 853L612.5 855.7L613.5 858L614.5 860.1L615.5 861.8L616.5 858.2L617.5 854.9L618.5 852.3L619.5 850.8L620.5 850.1L621.5 850.7L622.5 853.8L623.5 859.8L624.5 867.7L625.5 874.2L626.5 878.6L627.5 879.7L628.5 878.3L629.5 875L630.5 871.7L631.5 868.4L632.5 865.1L633.5 864L634.5 864.7L635.5 864L636.5 865.2L637.5 868.6L638.5 873.4L639.5 878.4L640.5 882.7L641.5 885.9L642.5 888.3L643.5 889.9L644.5 891L645.5 891.8L646.5 892L647.5 891L648.5 889.4L649.5 886.7L650.5 882.7L651.5 877.9L652.5 874L653.5 871.7L654.5 871.4L655.5 872.6L656.5 874.2L657.5 875.2L658.5 874.9L659.5 873.6L660.5 872.3L661.5 871.7L662.5 871.8L663.5 873.8L664.5 876.4L665.5 877.9L666.5 876.4L667.5 873.3L668.5 870.6L669.5 869.2L670.5 869.4L671.5 870.9L672.5 873.3L673.5 875.9L674.5 877.9L675.5 879.1L676.5 880.1L677.5 881.3L678.5 882.1L679.5 882.6L680.5 882.1L681.5 879.6L682.5 876.8L683.5 873.6L684.5 870.6L685.5 868.1L686.5 865.6L687.5 863.5L688.5 862.1L689.5 862.3L690.5 859.5L691.5 854.7L692.5 851.6L693.5 850.8L694.5 850.8L695.5 849.9L696.5 847.4L697.5 843.9L698.5 840.3L699.5 838.3L700.5 835.5L701.5 832.4L702.5 829.4L703.5 826.2L704.5 824.1L705.5 822.7L706.5 822L707.5 822.1L708.5 821.8L709.5 821.2L710.5 821.5L711.5 823.9L712.5 824.7L713.5 828.9L714.5 832.6L715.5 835.4L716.5 838.8L717.5 846.3L718.5 852.1L719.5 853.4L720.5 853.6L721.5 855.5L722.5 855.7L723.5 853.9L724.5 852.2L725.5 850.4L726.5 850L727.5 849.8L728.5 849.5L729.5 848L730.5 844.6L731.5 840.8L732.5 838.2L733.5 836.8L734.5 837.8L735.5 845.4L736.5 859.6L737.5 873.2L738.5 882.9L739.5 876.5L740.5 870.1L741.5 862.8L742.5 857L743.5 852.8L744.5 850.6L745.5 850.4L746.5 852.2L747.5 854.6L748.5 846.8L749.5 840.4L750.5 833.5L751.5 826.1L752.5 819.7L753.5 819.9L754.5 820.6L755.5 822.2L756.5 825.4L757.5 832.3L758.5 838.6L759.5 842.9L760.5 847.2L761.5 851.2L762.5 856.2L763.5 869.1L764.5 881.5L765.5 884.8L766.5 879.8L767.5 879.5L768.5 881.6L769.5 883.4L770.5 884.4L771.5 885.3L772.5 886L773.5 882.4L774.5 879.3L775.5 877.1L776.5 875.6L777.5 871.3L778.5 870L779.5 870.7L780.5 871.8L781.5 872.5L782.5 871.5L783.5 868.9L784.5 864.8L785.5 860.4L786.5 856.6L787.5 854.5L788.5 853.8L789.5 854.8L790.5 856.8L791.5 859.7L792.5 860.2L793.5 858.8L794.5 856.9L795.5 854.3L796.5 851L797.5 848.1L798.5 846.7L799.5 847.7L800.5 852.2L801.5 857.7L802.5 863.2L803.5 868.1L804.5 871.4L805.5 874.1L806.5 874.3L807.5 871.7L808.5 867.1L809.5 862.4L810.5 858.9L811.5 856.4L812.5 853.3L813.5 851.4L814.5 849.3L815.5 847.7L816.5 846.5L817.5 847L818.5 848.9L819.5 852.5L820.5 858.6L821.5 865.8L822.5 872.9L823.5 879.7L824.5 885.6L825.5 890.7L826.5 882.7L827.5 877L828.5 869.6L829.5 860.2L830.5 851.6L831.5 845.1L832.5 842.4L833.5 843.2L834.5 850.1L835.5 860.2L836.5 873.6L837.5 892.2L838.5 889.3L839.5 899.3L840.5 909.3L841.5 915.4L842.5 918.4L843.5 921.4L844.5 924.4L845.5 927.4L846.5 930.4L847.5 932.9L848.5 921.5L849.5 911.8L850.5 902.5L851.5 896.4L852.5 896.4L853.5 896.4L854.5 896.4L855.5 899.6L856.5 909L857.5 918.4L858.5 933L859.5 945.2L860.5 938.1L861.5 932.2L862.5 930.3L863.5 928.5L864.5 927.9L865.5 927.9L866.5 927.9L867.5 927.9L868.5 934.7L869.5 944L870.5 953.5L871.5 963.5L872.5 973.5L873.5 975.1L874.5 976.6L875.5 979.8L876.5 983.5L877.5 986.7L878.5 988.2L879.5 989.7L880.5 991.3L881.5 993.3L882.5 995.3L883.5 997.3L884.5 1000.7L885.5 1004.2L886.5 1007.7L887.5 1009.2L888.5 1010.2L889.5 1011.2L890.5 1012.1L891.5 1012.8L892.5 1013.6L893.5 1014.3L894.5 1015.1L895.5 1015.8L896.5 1016.5L897.5 1017L898.5 1017.5L899.5 1018L900.5 1018.5L901.5 1019L902.5 1019.5L903.5 1019.7L904.5 1019.9L905.5 1020.1L906.5 1020.3L907.5 1020.5L908.5 1020.7L909.5 1020.9L910.5 1021.1L911.5 1021.3L912.5 1021.5L913.5 1021.7L914.5 1021.9L915.5 1022.1L916.5 1022.3L917.5 1022.5L918.5 1022.7L919.5 1022.8L920.5 1022.9L921.5 1023L922.5 1023.1L923.5 1023.2L924.5 1023.3L925.5 1023.4L926.5 1023.5L927.5 1023.6L928.5 1023.7L929.5 1023.8L930.5 1023.9L931.5 1024L932.5 1024.1L933.5 1024.2L934.5 1024.3L935.5 1024.4L936.5 1024.5L937.5 1024.6L938.5 1024.7L939.5 1024.8L940.5 1024.9L941.5 1025L942.5 1025L943.5 1025L944.5 1025L945.5 1025L946.5 1025.5L947.5 1026.2L948.5 1026.8L949.5 1027.4L950.5 1028.1L951.5 1028.7L952.5 1028.9L953.5 1029L954.5 1029.1L955.5 1029.1L956.5 1029.2L957.5 1029.3L958.5 1029.3L959.5 1029.4L960.5 1029.5L961.5 1029.5L962.5 1029.6L963.5 1029.6L964.5 1029.7L965.5 1029.7L966.5 1029.5L967.5 1029.2L968.5 1029L969.5 1028.7L970.5 1028.5L971.5 1028.2L972.5 1028L973.5 1027.7L974.5 1027.5L975.5 1027.4L976.5 1027.4L977.5 1027.4L978.5 1027.4L979.5 1028L980.5 1028.6L981.5 1029.3L982.5 1029.3L983.5 1029.2L984.5 1029.1L985.5 1028.9L986.5 1028.9L987.5 1028.9L988.5 1028.9L989.5 1028.9L990.5 1029L991.5 1029.2L992.5 1029.4L993.5 1029.5L994.5 1029.7L995.5 1029.8L996.5 1030L997.5 1030.2L998.5 1030.3L999.5 1030.5L1000.5 1028L1001.5 1028.1L1002.5 1028.1L1003.5 1028L1004.5 1027.9L1005.5 1030.5L1006.5 1030.4L1007.5 1030.3L1008.5 1030.2L1009.5 1030.1L1010.5 1030L1011.5 1029.9L1012.5 1029.9L1013.5 1029.9L1014.5 1029.9L1015.5 1029.9L1016.5 1030L1017.5 1030.1L1018.5 1030.2L1019.5 1030.3L1020.5 1030.4L1021.5 1030.5L1022.5 1027.9L1023.5 1028L1024.5 1027.9L1025.5 1027.9L1026.5 1030.5L1027.5 1030.4L1028.5 1030.4L1029.5 1030.3L1030.5 1030.2L1031.5 1030.2L1032.5 1030.1L1033.5 1030L1034.5 1030L1035.5 1029.9L1036.5 1029.9L1037.5 1029.9L1038.5 1029.9L1039.5 1029.9L1040.5 1030L1041.5 1030.1L1042.5 1030.2L1043.5 1030.3L1044.5 1030.4L1045.5 1027.9L1046.5 1028L1047.5 1028.1L1048.5 1028.2L1049.5 1028.3L1050.5 1028.5L1051.5 1028.5L1052.5 1028.5L1053.5 1028.4L1054.5 1028.4L1055.5 1028.3L1056.5 1028.3L1057.5 1028.3L1058.5 1028.2L1059.5 1028.2L1060.5 1028.2L1061.5 1028.2L1062.5 1028.2L1063.5 1028.2L1064.5 1028.2L1065.5 1028.2L1066.5 1028.2L1067.5 1028.2L1068.5 1028.2L1069.5 1028.3L1070.5 1028.3L1071.5 1028.3L1072.5 1028.3L1073.5 1028.3L1074.5 1028.4L1075.5 1028.4L1076.5 1028.4L1077.5 1028.4L1078.5 1028.4L1079.5 1028.5L1080.5 1028.5L1081.5 1028.5L1082.5 1028.5L1083.5 1028.5L1084.5 1028.6L1085.5 1028.5L1086.5 1028.4L1087.5 1028.2L1088.5 1028.1L1089.5 1027.9L1090.5 1030.5L1091.5 1030.3L1092.5 1030.2L1093.5 1030L1094.5 1029.9L1095.5 1029.9L1096.5 1029.9L1097.5 1029.9L1098.5 1029.9L1099.5 1030.2L1100.5 1030.5L1101.5 1028.1L1102.5 1028.4L1103.5 1028.3L1104.5 1028.2L1105.5 1028.2L1106.5 1028.1L1107.5 1028L1108.5 1027.9L1109.5 1027.8L1110.5 1030.5L1111.5 1030.4L1112.5 1030.4L1113.5 1030.4L1114.5 1030.4L1115.5 1030.4L1116.5 1030.4L1117.5 1030.5L1118.5 1027.8L1119.5 1027.9L1120.5 1028L1121.5 1028L1122.5 1028.1L1123.5 1028.1L1124.5 1028.2L1125.5 1028.3L1126.5 1028.3L1127.5 1028.4L1128.5 1028.4L1129.5 1028.4L1130.5 1028.4L1131.5 1028.4L1132.5 1028.4L1133.5 1028.4L1134.5 1028.5L1135.5 1028.5L1136.5 1028.5L1137.5 1028.5L1138.5 1028.5L1139.5 1028.5L1140.5 1028.5L1141.5 1028.5L1142.5 1028.5L1143.5 1028.5L1144.5 1028.5L1145.5 1028.5L1146.5 1028.6L1147.5 1028.6L1148.5 1028.6L1149.5 1028.6L1150.5 1028.6L1151.5 1028.6L1152.5 1028.6L1153.5 1028.6L1154.5 1028.6L1155.5 1028.6L1156.5 1028.6L1157.5 1028.6L1158.5 1028.7L1159.5 1028.7L1160.5 1028.7L1161.5 1028.7L1162.5 1028.7L1163.5 1028.7L1164.5 1028.7L1165.5 1028.7L1166.5 1028.7L1167.5 1028.7L1168.5 1028.7L1169.5 1028.7L1170.5 1028.8L1171.5 1028.8L1172.5 1028.8L1173.5 1028.8L1174.5 1028.8L1175.5 1028.8L1176.5 1028.8L1177.5 1028.8L1178.5 1028.8L1179.5 1028.8L1180.5 1028.8L1181.5 1028.8L1182.5 1028.9L1183.5 1028.9L1184.5 1028.9L1185.5 1028.9L1186.5 1028.9L1187.5 1028.9L1188.5 1028.9L1189.5 1028.9L1190.5 1028.9L1191.5 1028.9L1192.5 1028.9L1193.5 1028.9L1194.5 1028.9L1195.5 1028.9L1196.5 1028.9L1197.5 1028.9L1198.5 1028.9L1199.5 1028.9L1200.5 1028.9L1201.5 1028.9L1202.5 1028.9L1203.5 1028.9L1204.5 1028.9L1205.5 1028.9L1206.5 1028.9L1207.5 1028.9L1208.5 1028.9L1209.5 1028.9L1210.5 1028.9L1211.5 1028.9L1212.5 1028.9L1213.5 1028.9L1214.5 1028.9L1215.5 1028.9L1216.5 1028.9L1217.5 1028.9L1218.5 1028.9L1219.5 1028.9L1220.5 1028.9L1221.5 1028.9L1222.5 1028.9L1223.5 1028.9L1224.5 1028.9L1225.5 1028.9L1226.5 1028.9L1227.5 1028.9L1228.5 1028.9L1229.5 1028.9L1230.5 1028.9L1231.5 1028.9L1232.5 1028.9L1233.5 1028.8L1234.5 1028.8L1235.5 1028.8L1236.5 1028.8L1237.5 1028.7L1238.5 1028.7L1239.5 1028.7L1240.5 1028.7L1241.5 1028.7L1242.5 1028.6L1243.5 1028.6L1244.5 1028.6L1245.5 1028.6L1246.5 1028.5L1247.5 1028.5L1248.5 1028.5L1249.5 1028.5L1250.5 1028.4L1251.5 1028.4L1252.5 1028.4L1253.5 1028.4L1254.5 1028.4L1255.5 1028.3L1256.5 1028.3L1257.5 1028.3L1258.5 1028.3L1259.5 1028.2L1260.5 1028.2L1261.5 1028.2L1262.5 1028.2L1263.5 1028.1L1264.5 1028.1L1265.5 1028L1266.5 1027.9L1267.5 1027.8L1268.5 1027.7L1269.5 1027.7L1270.5 1027.6L1271.5 1027.5L1272.5 1027.4L1273.5 1027.3L1274.5 1027.3L1275.5 1027.2L1276.5 1029.5L1277.5 1028.3L1278.5 1027.6L1279.5 1027.5L1280.5 1027.5L1281.5 1027.4L1282.5 1027.4L1283.5 1027.3L1284.5 1027.3L1285.5 1027.2L1286.5 1027.2L1287.5 1027.1L1288.5 1027.1L1289.5 1027L1290.5 1027L1291.5 1026.9L1292.5 1026.9L1293.5 1026.7L1294.5 1026.5L1295.5 1026.3L1296.5 1026.1L1297.5 1025.9L1298.5 1025.7L1299.5 1025.5L1300.5 1025.3L1301.5 1025.1L1302.5 1024.9L1303.5 1024.7L1304.5 1024.5L1305.5 1024.3L1306.5 1024.1L1307.5 1023.8L1308.5 1023.5L1309.5 1023.1L1310.5 1022.8L1311.5 1022.4L1312.5 1021.6L1313.5 1020.8L1314.5 1020.8L1315.5 1020.8L1316.5 1020.8L1317.5 1020.8L1318.5 1021.7L1319.5 1022.7L1320.5 1023.6L1321.5 1024.5L1322.5 1024.4L1323.5 1024.2L1324.5 1023.9L1325.5 1023.6L1326.5 1023.2L1327.5 1022.9L1328.5 1022.9L1329.5 1022.8L1330.5 1022.8L1331.5 1022.7L1332.5 1022.7L1333.5 1022.6L1334.5 1022.6L1335.5 1022.5L1336.5 1022.5L1337.5 1022.5L1338.5 1022.5L1339.5 1022.5L1340.5 1022.6L1341.5 1022.8L1342.5 1023L1343.5 1023.2L1344.5 1023.4L1345.5 1023.6L1346.5 1023.8L1347.5 1024L1348.5 1024L1349.5 1024L1350.5 1024L1351.5 1024L1352.5 1024L1353.5 1024L1354.5 1024L1355.5 1024L1356.5 1023.5L1357.5 1021.2L1358.5 1018.9L1359.5 1017.9L1360.5 1017L1361.5 1016.8L1362.5 1016.8L1363.5 1016.8L1364.5 1016.8L1365.5 1017.7L1366.5 1018.8L1367.5 1019.8L1368.5 1020.6L1369.5 1020.7L1370.5 1020.6L1371.5 1020.6L1372.5 1020.6L1373.5 1020.6L1374.5 1020.6L1375.5 1020.7L1376.5 1020.8L1377.5 1021L1378.5 1021.1L1379.5 1021.2L1380.5 1021.4L1381.5 1021.3L1382.5 1021.1L1383.5 1020.8L1384.5 1020.6L1385.5 1020.3L1386.5 1020.1L1387.5 1020L1388.5 1020L1389.5 1020L1390.5 1020L1391.5 1020.2L1392.5 1020.5L1393.5 1020.4L1394.5 1019.3L1395.5 1018.1L1396.5 1017.4L1397.5 1016.8L1398.5 1016.8L1399.5 1016.8L1400.5 1016.8L1401.5 1017.2L1402.5 1018.4L1403.5 1018.7L1404.5 1018L1405.5 1017.2L1406.5 1017.1L1407.5 1017.1L1408.5 1017.1L1409.5 1016.5L1410.5 1015.5L1411.5 998.8L1412.5 991L1413.5 990.3L1414.5 990L1415.5 989.7L1416.5 989.6L1417.5 989.6L1418.5 964.8L1419.5 960.8L1420.5 960.3L1421.5 959.7L1422.5 959.7L1423.5 959.7L1424.5 959.7L1425.5 959.7L1426.5 961L1427.5 963.2L1428.5 982.9L1429.5 966.4L1430.5 965.2L1431.5 964L1432.5 962.7L1433.5 961.3L1434.5 959.9L1435.5 959.7L1436.5 959.7L1437.5 959.7L1438.5 959.7L1439.5 960.3L1440.5 960.9L1441.5 956.3L1442.5 938.9L1443.5 926.9L1444.5 920.5L1445.5 919.4L1446.5 918.5L1447.5 918.5L1448.5 918.5L1449.5 918.5L1450.5 918.7L1451.5 919.5L1452.5 921L1453.5 929.3L1454.5 934.3L1455.5 936.1L1456.5 937.6L1457.5 939.1L1458.5 939.1L1459.5 939.1L1460.5 939.1L1461.5 939.2L1461.5 1012.8L1460.5 1013L1459.5 1013.2L1458.5 1013.4L1457.5 1013.6L1456.5 1013.6L1455.5 1013.6L1454.5 1013.5L1453.5 1013L1452.5 1012.9L1451.5 1013.2L1450.5 1013.5L1449.5 1013.7L1448.5 1014L1447.5 1014.3L1446.5 1014.6L1445.5 1014.9L1444.5 1015L1443.5 1015L1442.5 1016.5L1441.5 1019.1L1440.5 1019.9L1439.5 1019.8L1438.5 1019.8L1437.5 1019.8L1436.5 1019.9L1435.5 1019.9L1434.5 1020L1433.5 1020.2L1432.5 1020.5L1431.5 1020.7L1430.5 1020.9L1429.5 1021L1428.5 1023.3L1427.5 1020.3L1426.5 1019.8L1425.5 1019.5L1424.5 1019.5L1423.5 1019.6L1422.5 1019.6L1421.5 1019.7L1420.5 1019.8L1419.5 1019.9L1418.5 1020.6L1417.5 1024.4L1416.5 1024.4L1415.5 1024.5L1414.5 1024.6L1413.5 1024.6L1412.5 1024.8L1411.5 1024.9L1410.5 1025L1409.5 1025.1L1408.5 1025.3L1407.5 1025.4L1406.5 1025.4L1405.5 1025.4L1404.5 1025.4L1403.5 1025.4L1402.5 1025.5L1401.5 1025.7L1400.5 1025.8L1399.5 1026L1398.5 1026.1L1397.5 1026.2L1396.5 1026.3L1395.5 1026.3L1394.5 1026.4L1393.5 1026.5L1392.5 1026.6L1391.5 1026.6L1390.5 1026.7L1389.5 1026.8L1388.5 1026.8L1387.5 1026.9L1386.5 1027L1385.5 1027.1L1384.5 1027.2L1383.5 1027.3L1382.5 1027.4L1381.5 1027.5L1380.5 1027.5L1379.5 1027.4L1378.5 1027.4L1377.5 1027.3L1376.5 1027.3L1375.5 1027.2L1374.5 1027.2L1373.5 1027.1L1372.5 1027.1L1371.5 1027L1370.5 1027L1369.5 1026.9L1368.5 1026.9L1367.5 1026.8L1366.5 1026.8L1365.5 1026.8L1364.5 1026.8L1363.5 1026.8L1362.5 1026.9L1361.5 1027.2L1360.5 1027.5L1359.5 1027.9L1358.5 1028.2L1357.5 1028.3L1356.5 1028.3L1355.5 1028.3L1354.5 1028.3L1353.5 1028.3L1352.5 1028.3L1351.5 1028.3L1350.5 1028.3L1349.5 1028.3L1348.5 1028.3L1347.5 1028.3L1346.5 1028.3L1345.5 1028.3L1344.5 1028.2L1343.5 1028.2L1342.5 1028.1L1341.5 1028.1L1340.5 1028.1L1339.5 1028L1338.5 1028L1337.5 1027.9L1336.5 1027.9L1335.5 1027.8L1334.5 1027.8L1333.5 1027.7L1332.5 1027.7L1331.5 1027.6L1330.5 1027.6L1329.5 1027.6L1328.5 1027.7L1327.5 1027.8L1326.5 1028L1325.5 1028.2L1324.5 1028.3L1323.5 1028.5L1322.5 1028.7L1321.5 1028.8L1320.5 1029L1319.5 1028.8L1318.5 1028.7L1317.5 1028.6L1316.5 1028.4L1315.5 1028.3L1314.5 1028.4L1313.5 1028.5L1312.5 1028.6L1311.5 1028.7L1310.5 1028.8L1309.5 1028.9L1308.5 1029.1L1307.5 1029.2L1306.5 1029.3L1305.5 1029.5L1304.5 1029.6L1303.5 1029.8L1302.5 1029.9L1301.5 1030L1300.5 1030.2L1299.5 1030.3L1298.5 1030.5L1297.5 1030.6L1296.5 1030.7L1295.5 1030.9L1294.5 1031L1293.5 1031.1L1292.5 1031.1L1291.5 1031.2L1290.5 1031.2L1289.5 1031.3L1288.5 1031.3L1287.5 1031.4L1286.5 1031.4L1285.5 1031.5L1284.5 1031.5L1283.5 1031.6L1282.5 1031.6L1281.5 1031.7L1280.5 1031.7L1279.5 1032.1L1278.5 1032.6L1277.5 1032.8L1276.5 1032.8L1275.5 1035.5L1274.5 1035.5L1273.5 1035.6L1272.5 1035.6L1271.5 1035.6L1270.5 1035.6L1269.5 1035.6L1268.5 1035.6L1267.5 1035.7L1266.5 1035.7L1265.5 1035.7L1264.5 1035.7L1263.5 1035.7L1262.5 1035.7L1261.5 1035.8L1260.5 1035.8L1259.5 1035.8L1258.5 1035.8L1257.5 1035.8L1256.5 1035.8L1255.5 1035.9L1254.5 1035.9L1253.5 1035.9L1252.5 1035.9L1251.5 1035.9L1250.5 1035.9L1249.5 1036L1248.5 1036L1247.5 1036L1246.5 1036L1245.5 1036L1244.5 1036L1243.5 1036.1L1242.5 1036.1L1241.5 1036.1L1240.5 1036.1L1239.5 1036.1L1238.5 1036.1L1237.5 1036.2L1236.5 1036.2L1235.5 1036.2L1234.5 1036.2L1233.5 1036.2L1232.5 1036.2L1231.5 1036.2L1230.5 1036.2L1229.5 1036.2L1228.5 1036.2L1227.5 1036.2L1226.5 1036.2L1225.5 1036.2L1224.5 1036.2L1223.5 1036.2L1222.5 1036.2L1221.5 1036.2L1220.5 1036.2L1219.5 1036.2L1218.5 1036.2L1217.5 1036.2L1216.5 1036.2L1215.5 1036.2L1214.5 1036.2L1213.5 1036.2L1212.5 1036.2L1211.5 1036.2L1210.5 1036.2L1209.5 1036.2L1208.5 1036.2L1207.5 1036.2L1206.5 1036.2L1205.5 1036.2L1204.5 1036.2L1203.5 1036.2L1202.5 1036.2L1201.5 1036.2L1200.5 1036.2L1199.5 1036.2L1198.5 1036.2L1197.5 1036.2L1196.5 1036.2L1195.5 1036.2L1194.5 1036.2L1193.5 1036.2L1192.5 1036.2L1191.5 1036.2L1190.5 1036.2L1189.5 1036.2L1188.5 1036.2L1187.5 1036.2L1186.5 1036.2L1185.5 1036.2L1184.5 1036.2L1183.5 1036.2L1182.5 1036.2L1181.5 1036.2L1180.5 1036.2L1179.5 1036.2L1178.5 1036.2L1177.5 1036.2L1176.5 1036.2L1175.5 1036.2L1174.5 1036.2L1173.5 1036.2L1172.5 1036.2L1171.5 1036.2L1170.5 1036.2L1169.5 1036.2L1168.5 1036.2L1167.5 1036.2L1166.5 1036.2L1165.5 1036.2L1164.5 1036.2L1163.5 1036.2L1162.5 1036.2L1161.5 1036.2L1160.5 1036.2L1159.5 1036.2L1158.5 1036.2L1157.5 1036.2L1156.5 1036.2L1155.5 1036.2L1154.5 1036.2L1153.5 1036.2L1152.5 1036.2L1151.5 1036.2L1150.5 1036.2L1149.5 1036.2L1148.5 1036.2L1147.5 1036.2L1146.5 1036.2L1145.5 1036.2L1144.5 1036.2L1143.5 1036.2L1142.5 1036.2L1141.5 1036.2L1140.5 1036.2L1139.5 1036.2L1138.5 1036.2L1137.5 1036.2L1136.5 1036.2L1135.5 1036.2L1134.5 1036.2L1133.5 1036.2L1132.5 1036.2L1131.5 1036.2L1130.5 1036.2L1129.5 1036.2L1128.5 1036.2L1127.5 1036.2L1126.5 1036.2L1125.5 1036.2L1124.5 1036.2L1123.5 1036.2L1122.5 1036.2L1121.5 1036.2L1120.5 1036.2L1119.5 1036.2L1118.5 1036.2L1117.5 1033.5L1116.5 1033.5L1115.5 1033.5L1114.5 1033.5L1113.5 1033.5L1112.5 1033.5L1111.5 1033.5L1110.5 1033.5L1109.5 1036.2L1108.5 1036.2L1107.5 1036.2L1106.5 1036.2L1105.5 1036.2L1104.5 1036.2L1103.5 1036.2L1102.5 1036.2L1101.5 1036.2L1100.5 1033.5L1099.5 1033.5L1098.5 1033.5L1097.5 1033.5L1096.5 1033.5L1095.5 1033.5L1094.5 1033.5L1093.5 1033.5L1092.5 1033.5L1091.5 1033.5L1090.5 1033.5L1089.5 1036.2L1088.5 1036.2L1087.5 1036.2L1086.5 1036.2L1085.5 1036.2L1084.5 1036.2L1083.5 1036.2L1082.5 1036.2L1081.5 1036.2L1080.5 1036.2L1079.5 1036.2L1078.5 1036.2L1077.5 1036.2L1076.5 1036.2L1075.5 1036.2L1074.5 1036.2L1073.5 1036.2L1072.5 1036.2L1071.5 1036.2L1070.5 1036.2L1069.5 1036.2L1068.5 1036.2L1067.5 1036.2L1066.5 1036.2L1065.5 1036.2L1064.5 1036.2L1063.5 1036.2L1062.5 1036.2L1061.5 1036.2L1060.5 1036.2L1059.5 1036.2L1058.5 1036.2L1057.5 1036.2L1056.5 1036.2L1055.5 1036.2L1054.5 1036.2L1053.5 1036.2L1052.5 1036.2L1051.5 1036.2L1050.5 1036.2L1049.5 1036.2L1048.5 1036.2L1047.5 1036.2L1046.5 1036.2L1045.5 1036.2L1044.5 1033.5L1043.5 1033.5L1042.5 1033.5L1041.5 1033.5L1040.5 1033.5L1039.5 1033.5L1038.5 1033.5L1037.5 1033.5L1036.5 1033.5L1035.5 1033.5L1034.5 1033.5L1033.5 1033.5L1032.5 1033.5L1031.5 1033.5L1030.5 1033.5L1029.5 1033.5L1028.5 1033.5L1027.5 1033.5L1026.5 1033.5L1025.5 1036.2L1024.5 1036.2L1023.5 1036.2L1022.5 1036.2L1021.5 1033.5L1020.5 1033.5L1019.5 1033.5L1018.5 1033.5L1017.5 1033.5L1016.5 1033.5L1015.5 1033.5L1014.5 1033.5L1013.5 1033.5L1012.5 1033.5L1011.5 1033.5L1010.5 1033.5L1009.5 1033.5L1008.5 1033.5L1007.5 1033.5L1006.5 1033.5L1005.5 1033.5L1004.5 1036.2L1003.5 1036.2L1002.5 1036.2L1001.5 1036.2L1000.5 1036.2L999.5 1033.5L998.5 1033.5L997.5 1033.5L996.5 1033.5L995.5 1033.5L994.5 1033.5L993.5 1033.4L992.5 1033.4L991.5 1033.4L990.5 1033.4L989.5 1033.4L988.5 1033.4L987.5 1033.4L986.5 1033.4L985.5 1033.4L984.5 1033.4L983.5 1033.3L982.5 1033.3L981.5 1033.3L980.5 1033.3L979.5 1033.3L978.5 1033.3L977.5 1033.3L976.5 1033.3L975.5 1033.2L974.5 1033.2L973.5 1033.2L972.5 1033.2L971.5 1033.1L970.5 1033.1L969.5 1033.1L968.5 1033.1L967.5 1033L966.5 1033L965.5 1033L964.5 1033L963.5 1032.9L962.5 1032.9L961.5 1032.9L960.5 1032.9L959.5 1032.8L958.5 1032.8L957.5 1032.8L956.5 1032.8L955.5 1032.8L954.5 1032.8L953.5 1032.8L952.5 1032.8L951.5 1032.8L950.5 1032.8L949.5 1032.8L948.5 1032.8L947.5 1032.8L946.5 1032.8L945.5 1032.8L944.5 1032.8L943.5 1032.8L942.5 1032.8L941.5 1032.8L940.5 1032.8L939.5 1032.1L938.5 1030.7L937.5 1030.5L936.5 1030.4L935.5 1030.4L934.5 1030.3L933.5 1030.3L932.5 1030.2L931.5 1030.2L930.5 1030.1L929.5 1030.1L928.5 1030L927.5 1030L926.5 1029.9L925.5 1029.9L924.5 1029.8L923.5 1029.8L922.5 1029.7L921.5 1029.7L920.5 1029.6L919.5 1029.6L918.5 1029.5L917.5 1029.5L916.5 1029.4L915.5 1029.4L914.5 1029.3L913.5 1029.3L912.5 1029.2L911.5 1029.2L910.5 1029.1L909.5 1029.1L908.5 1029L907.5 1029L906.5 1028.9L905.5 1028.9L904.5 1028.8L903.5 1028.8L902.5 1028.7L901.5 1028.7L900.5 1028.6L899.5 1028.6L898.5 1028.6L897.5 1028.5L896.5 1028.5L895.5 1028.5L894.5 1028.4L893.5 1028.4L892.5 1028.4L891.5 1028.3L890.5 1028.3L889.5 1028.3L888.5 1028.2L887.5 1028.2L886.5 1028.2L885.5 1028.1L884.5 1028.1L883.5 1028.1L882.5 1028L881.5 1028L880.5 1027.5L879.5 1027.1L878.5 1026.8L877.5 1026.4L876.5 1025.7L875.5 1025L874.5 1024.4L873.5 1024L872.5 1023.6L871.5 1022L870.5 1020.3L869.5 1018.8L868.5 1017.2L867.5 1016.5L866.5 1016.3L865.5 1016.1L864.5 1015.7L863.5 1015.4L862.5 1015.2L861.5 1015.2L860.5 1015.8L859.5 1016.6L858.5 1014.5L857.5 1013.4L856.5 1013.1L855.5 1012.7L854.5 1012.4L853.5 1012.1L852.5 1011.7L851.5 1011.4L850.5 1011.1L849.5 1010.7L848.5 1010.4L847.5 1011.3L846.5 1010.3L845.5 1008.4L844.5 1006.6L843.5 1004.7L842.5 1002.8L841.5 1001L840.5 999.3L839.5 997.6L838.5 996L837.5 994.3L836.5 990L835.5 985.2L834.5 980.5L833.5 975.7L832.5 971L831.5 966.2L830.5 965.2L829.5 967.2L828.5 969.2L827.5 971.2L826.5 973.2L825.5 975.2L824.5 977.1L823.5 978.6L822.5 980.2L821.5 981.8L820.5 983.3L819.5 984.9L818.5 986.5L817.5 988L816.5 989.6L815.5 991.2L814.5 992L813.5 992.6L812.5 993.2L811.5 993.8L810.5 994.4L809.5 995L808.5 995.6L807.5 996.2L806.5 996.8L805.5 997L804.5 996.1L803.5 995.2L802.5 994.3L801.5 993.4L800.5 992.5L799.5 991.6L798.5 992.3L797.5 993L796.5 993.8L795.5 994.6L794.5 995.3L793.5 996.1L792.5 996.9L791.5 997.6L790.5 998.4L789.5 998.3L788.5 997.4L787.5 996.7L786.5 996.1L785.5 995.4L784.5 994.8L783.5 994.1L782.5 993.5L781.5 992.8L780.5 992.2L779.5 992.5L778.5 992.9L777.5 993.4L776.5 993.8L775.5 994.3L774.5 994.7L773.5 995.2L772.5 995.6L771.5 996.1L770.5 996.5L769.5 997L768.5 997.4L767.5 997.9L766.5 998.3L765.5 998.8L764.5 999.2L763.5 996.9L762.5 994.1L761.5 991.2L760.5 988.4L759.5 985.6L758.5 982.7L757.5 979.9L756.5 977.1L755.5 974.2L754.5 971.4L753.5 968.6L752.5 965.7L751.5 967.3L750.5 969.8L749.5 972.3L748.5 974.8L747.5 977.3L746.5 979.8L745.5 982.3L744.5 984.8L743.5 987.3L742.5 989.8L741.5 992.3L740.5 994.8L739.5 994.3L738.5 993L737.5 991.8L736.5 990.5L735.5 989.2L734.5 988L733.5 986.7L732.5 985.4L731.5 984.2L730.5 982.9L729.5 981.6L728.5 980.4L727.5 981.2L726.5 982.7L725.5 984.3L724.5 985.8L723.5 987.3L722.5 988.8L721.5 990.3L720.5 991.9L719.5 993.4L718.5 994.9L717.5 991.6L716.5 986.6L715.5 981.6L714.5 976.6L713.5 971.6L712.5 966.6L711.5 965.9L710.5 966.8L709.5 967.7L708.5 968.6L707.5 969.5L706.5 970.4L705.5 971.3L704.5 972.2L703.5 973.1L702.5 974L701.5 974.9L700.5 975.8L699.5 976.7L698.5 977.7L697.5 978.6L696.5 979.6L695.5 980.6L694.5 981.5L693.5 982.5L692.5 983.4L691.5 984.4L690.5 985.4L689.5 986.3L688.5 987.3L687.5 988.2L686.5 989.2L685.5 990.2L684.5 991.1L683.5 992.1L682.5 993L681.5 994L680.5 995L679.5 995.5L678.5 995.8L677.5 996.1L676.5 996.4L675.5 996.7L674.5 997L673.5 997.3L672.5 997.6L671.5 997.9L670.5 998.2L669.5 998.5L668.5 998.8L667.5 999.1L666.5 999.4L665.5 999.7L664.5 1000L663.5 1000.3L662.5 1000.6L661.5 1000.9L660.5 1001.2L659.5 1001.3L658.5 1001.2L657.5 1001.1L656.5 1001L655.5 1000.9L654.5 1000.8L653.5 1000.7L652.5 1000.6L651.5 1000.5L650.5 1000.4L649.5 1000.3L648.5 1000.2L647.5 1000.1L646.5 1000L645.5 999.9L644.5 999.8L643.5 999.7L642.5 999.6L641.5 999.5L640.5 999.4L639.5 999.3L638.5 999.2L637.5 999.1L636.5 999L635.5 998.9L634.5 998.8L633.5 998.7L632.5 998.6L631.5 998.4L630.5 998.2L629.5 998L628.5 997.8L627.5 997.5L626.5 997.3L625.5 996.8L624.5 996.2L623.5 995.6L622.5 995L621.5 994.5L620.5 993.9L619.5 993.3L618.5 992.7L617.5 992.2L616.5 991.6L615.5 991L614.5 990.4L613.5 989.9L612.5 989.3L611.5 988.7L610.5 988.1L609.5 988.4L608.5 988.8L607.5 989.1L606.5 989.5L605.5 989.8L604.5 990.2L603.5 990.6L602.5 990.9L601.5 991.3L600.5 991.6L599.5 992L598.5 992.4L597.5 992.7L596.5 993.1L595.5 993.4L594.5 993.8L593.5 994.2L592.5 994.5L591.5 994.9L590.5 995.2L589.5 994.5L588.5 993.5L587.5 992.6L586.5 991.6L585.5 990.7L584.5 989.7L583.5 988.7L582.5 987.8L581.5 986.8L580.5 985.9L579.5 984.9L578.5 983.9L577.5 983L576.5 982L575.5 981.1L574.5 980.1L573.5 979.1L572.5 978.2L571.5 977.2L570.5 976.3L569.5 976.9L568.5 978L567.5 979.1L566.5 980.2L565.5 981.3L564.5 982.4L563.5 983.5L562.5 984.6L561.5 985.7L560.5 986.8L559.5 987.9L558.5 989L557.5 989.3L556.5 989.3L555.5 989.3L554.5 989.3L553.5 989.3L552.5 989.3L551.5 989.3L550.5 989.3L549.5 989.3L548.5 989.3L547.5 989.3L546.5 989.3L545.5 989L544.5 988.7L543.5 988.4L542.5 988.1L541.5 987.7L540.5 987.4L539.5 987.1L538.5 986.8L537.5 986.4L536.5 986.1L535.5 985.8L534.5 985.5L533.5 985.1L532.5 984.8L531.5 984.5L530.5 984.2L529.5 984.4L528.5 984.8L527.5 985.2L526.5 985.7L525.5 986.1L524.5 986.5L523.5 987L522.5 987.4L521.5 987.8L520.5 988.2L519.5 988.7L518.5 989.1L517.5 989.5L516.5 990L515.5 990.4L514.5 990.8L513.5 991.3L512.5 991.7L511.5 992.1L510.5 992.6L509.5 993L508.5 993.4L507.5 993.8L506.5 994.3L505.5 994.7L504.5 995.1L503.5 995.3L502.5 995.2L501.5 995.1L500.5 995L499.5 994.9L498.5 994.9L497.5 994.8L496.5 994.7L495.5 994.6L494.5 994.6L493.5 994.5L492.5 994.4L491.5 994.3L490.5 994.3L489.5 994.2L488.5 994.1L487.5 994L486.5 993.9L485.5 993.9L484.5 993.8L483.5 993.7L482.5 993.6L481.5 993.6L480.5 993.5L479.5 993.4L478.5 993.3L477.5 993.2L476.5 993L475.5 992.7L474.5 992.5L473.5 992.3L472.5 992.1L471.5 991.9L470.5 991.7L469.5 991.5L468.5 991.2L467.5 991L466.5 990.8L465.5 990.6L464.5 990.4L463.5 990.2L462.5 990L461.5 989.7L460.5 989.5L459.5 989.3L458.5 989.1L457.5 988.9L456.5 988.7L455.5 988.5L454.5 988.2L453.5 988L452.5 987.8L451.5 987.6L450.5 987.4L449.5 988.6L448.5 991.1L447.5 993.7L446.5 993.3L445.5 992.3L444.5 991.4L443.5 990.5L442.5 989.6L441.5 989.5L440.5 989.4L439.5 989.4L438.5 989.3L437.5 989.2L436.5 989.1L435.5 989L434.5 988.9L433.5 988.8L432.5 988.7L431.5 988.6L430.5 988.6L429.5 988.5L428.5 988.4L427.5 988.7L426.5 989L425.5 989.4L424.5 989.7L423.5 990.1L422.5 990.4L421.5 990.8L420.5 991.1L419.5 991.5L418.5 991.8L417.5 992.2L416.5 992.5L415.5 992.8L414.5 992.8L413.5 992.8L412.5 992.8L411.5 992.8L410.5 992.8L409.5 992.8L408.5 992.8L407.5 992.8L406.5 992.8L405.5 993L404.5 993.3L403.5 993.6L402.5 993.9L401.5 994.1L400.5 994.4L399.5 994.7L398.5 995L397.5 995.3L396.5 995.5L395.5 995.8L394.5 996.1L393.5 996.4L392.5 996.7L391.5 996.9L390.5 997.2L389.5 995.7L388.5 994.2L387.5 992.7L386.5 991.2L385.5 989.7L384.5 988.2L383.5 986.7L382.5 985.2L381.5 983.7L380.5 983.4L379.5 984.1L378.5 984.7L377.5 985.4L376.5 986.1L375.5 986.8L374.5 987.5L373.5 988.2L372.5 988.8L371.5 989.5L370.5 990.2L369.5 990.9L368.5 991.6L367.5 992.3L366.5 992.9L365.5 993.6L364.5 994.3L363.5 995L362.5 995.7L361.5 995.9L360.5 995.7L359.5 995.6L358.5 995.5L357.5 995.3L356.5 995.2L355.5 995.1L354.5 994.9L353.5 994.8L352.5 994.7L351.5 994.9L350.5 995.1L349.5 995.3L348.5 995.5L347.5 995.7L346.5 995.9L345.5 996.1L344.5 996.3L343.5 996.5L342.5 996.7L341.5 996.9L340.5 997.1L339.5 997.3L338.5 997.5L337.5 997.7L336.5 998L335.5 998.5L334.5 999.2L333.5 999.9L332.5 1000.8L331.5 1001.7L330.5 1002.5L329.5 1003.2L328.5 1003.7L327.5 1004.2L326.5 1004.8L325.5 1005.1L324.5 1005.3L323.5 1005.3L322.5 1005.3L321.5 1004.8L320.5 1004.5L319.5 1004.2L318.5 1003.9L317.5 1003.6L316.5 1003.4L315.5 1003.1L314.5 1002.8L313.5 1002.5L312.5 1002.2L311.5 1002L310.5 1002L309.5 1002L308.5 1002L307.5 1002L306.5 1002L305.5 1002L304.5 1002L303.5 1002L302.5 1002L301.5 1002L300.5 1002L299.5 1002L298.5 1002L297.5 1002L296.5 1002L295.5 1002L294.5 1002L293.5 1002L292.5 1001.9L291.5 1001.4L290.5 1000.8L289.5 1000.3L288.5 999.9L287.5 999.5L286.5 998.9L285.5 998.3L284.5 998L283.5 998.8L282.5 999.6L281.5 1000.4L280.5 1001.2L279.5 1001.9L278.5 1002.7L277.5 1002.4L276.5 1001.5L275.5 1000.7L274.5 999.9L273.5 999L272.5 998.2L271.5 997.4L270.5 997.7L269.5 998.4L268.5 999.1L267.5 999.8L266.5 1000.5L265.5 1001.2L264.5 1001.9L263.5 1002.6L262.5 1003.3L261.5 1004L260.5 1004.7L259.5 1005.2L258.5 1004.9L257.5 1004.6L256.5 1004.3L255.5 1004L254.5 1003.7L253.5 1003.4L252.5 1003.1L251.5 1002.8L250.5 1002.5L249.5 1002.2L248.5 1001.9L247.5 1001.8L246.5 1001.9L245.5 1001.9L244.5 1001.9L243.5 1002L242.5 1002L241.5 1002L240.5 1002.1L239.5 1002.1L238.5 1002.1L237.5 1002.2L236.5 1002.2L235.5 1002.2L234.5 1002.3L233.5 1002.3L232.5 1002.3L231.5 1002.4L230.5 1002.4L229.5 1002.4L228.5 1002.5L227.5 1002.5L226.5 1002.5L225.5 1002.6L224.5 1002.6L223.5 1002.6L222.5 1002.7L221.5 1002.7L220.5 1002.7L219.5 1002.8L218.5 1002.8L217.5 1002.8L216.5 1002.9L215.5 1002.9L214.5 1002.9L213.5 1003L212.5 1003L211.5 1003L210.5 1003L209.5 1003L208.5 1003L207.5 1003L206.5 1003L205.5 1003L204.5 1003L203.5 1003L202.5 1003L201.5 1003L200.5 1003L199.5 1003L198.5 1003L197.5 1003L196.5 1003L195.5 1003L194.5 1003L193.5 1003L192.5 1003L191.5 1003L190.5 1003L189.5 1003.8L188.5 1004.9L187.5 1005.7L186.5 1006.3L185.5 1006.4L184.5 1005.6L183.5 1005.3L182.5 1005.5L181.5 1005.6L180.5 1005.7L179.5 1006.7L178.5 1008.1L177.5 1009.5L176.5 1010.9L175.5 1012.1L174.5 1012.6L173.5 1013L172.5 1013.4L171.5 1013.1L170.5 1012.8L169.5 1013.1L168.5 1013.4L167.5 1013.6L166.5 1014.1L165.5 1015.4L164.5 1016.7L163.5 1017.6L162.5 1018L161.5 1018.3L160.5 1018L159.5 1017.1L158.5 1016.7L157.5 1016.6L156.5 1016.5L155.5 1016.5L154.5 1017.1L153.5 1017.9L152.5 1018.3L151.5 1018.2L150.5 1017.9L149.5 1017.5L148.5 1017.4L147.5 1017.3L146.5 1017.3L145.5 1017.6L144.5 1017.7L143.5 1017.5L142.5 1017.3L141.5 1017.1L140.5 1016.9L139.5 1015.7L138.5 1014.4L137.5 1014.2L136.5 1014L135.5 1013.9L134.5 1013.7L133.5 1014.3L132.5 1015L131.5 1015.2L130.5 1015.1L129.5 1014.9L128.5 1014.8L127.5 1014.3L126.5 1013.8L125.5 1013.6L124.5 1013.5L123.5 1012.7L122.5 1011.7L121.5 1011.5L120.5 1011.3L119.5 1011.2L118.5 1011.1L117.5 1011.8L116.5 1012.6L115.5 1013.1Z" fill="#1f77b4"/>
<path d="M115.7 1013.7h0m0-32.2h0m2.3 30h0m0 0h0m0-46.1h0m2.3 45.9h0m0 0.7h0m0-48.8h0m2.3 48.6h0m0 0.7h0m0-47.2h0m2.3 48.3h0m0 0h0m0-38.9h0m2.3 40.7h0m0-38.7h0m2.3 37.9h0m0-33h0m2.3 32.6h0m0-32.8h0m2.3 32.6h0m0 1.4h0m0-45h0m2.3 43.6h0m0 0.8h0m0-47h0m2.3 46.9h0m0 1.4h0m0-46.3h0m2.3 47.1h0m0-29.8h0m2.3 30.7h0m0-29.2h0m2.3 28.7h0m0-35.6h0m2.3 35.7h0m0 0h0m0-38.1h0m2.3 39h0m0-37.3h0m2.3 37.3h0m0-33.6h0m2.3 32.2h0m0 0.3h0m0-41.9h0m2.3 41.3h0m0 1.7h0m0-48.2h0m2.3 46.9h0m0 0h0m0-44.2h0m2.3 44.8h0m0-28.8h0m2.3 28.9h0m0-36h0m2.3 32.7h0m0 1.1h0m0-48.5h0m2.3 46.3h0m0 1.7h0m0-51.8h0m2.3 49.7h0m0 1.5h0m0-50.3h0m2.3 49h0m0 0.4h0m0-43.9h0m2.3 42.5h0m0 2h0m0-47.9h0m2.3 42.9h0m0 0.4h0m0-61.4h0m2.3 58h0m0 0.3h0m0-76.5h0m2.3 75.6h0m0 1h0m0-79h0m2.3 78.2h0m0 3h0m0 2.3h0m0-75.1h0m0 4h0m2.3 66.1h0m0 3h0m0 3h0m0 0h0m0-76.9h0m2.3 68.9h0m0 1.1h0m0-81.5h0m2.3 79.4h0m0 3h0m0 3h0m0 0.6h0m0-97.1h0m2.3 90.5h0m0 0.2h0m0-90.7h0m2.3 90.5h0m0 3h0m0 3h0m0 3h0m0 0h0m0-114.3h0m0 4h0m2.3 101.3h0m0 3h0m0 3h0m0 0.7h0m0-130.6h0m2.3 123.9h0m0 3h0m0 3h0m0 3h0m0 0h0m0-132.9h0m2.3 123.9h0m0 0h0m0-113.9h0m2.3 113.9h0m0 3h0m0 0.7h0m0-147.7h0m2.3 144h0m0 0.3h0m0-165.7h0m2.3 165.4h0m0 3h0m0 1.1h0m0-169.5h0m2.3 165.4h0m0 0.1h0m0-126.9h0m2.3 126.7h0m0 0.5h0m0-129.5h0m0 4h0m2.3 124.9h0m0 3h0m0 3h0m0 1.3h0m0-143.7h0m2.3 136.4h0m0 3h0m0 3h0m0 2.2h0m0-142.3h0m2.3 134h0m0 0.6h0m0-112.7h0m2.3 112h0m0 2.9h0m0-119.5h0m2.3 116.5h0m0 0.5h0m0-117h0m2.3 116.5h0m0 0h0m0-108.3h0m2.3 108.2h0m0 3h0m0 2.2h0m0-113.7h0m2.3 108.4h0m0 2.6h0m0-132.2h0m2.3 129.5h0m0 3h0m0 1.2h0m0-138.8h0m2.3 134.6h0m0 3h0m0 3h0m0 3h0m0 0h0m0-142.2h0m2.3 133.1h0m0 3h0m0 3h0m0 1.5h0m0-117.4h0m2.3 109.8h0m0 3h0m0 3h0m0 1.2h0m0-117.4h0m2.3 110.1h0m0 2.9h0m0-110.3h0m2.3 107.4h0m0 3h0m0 2.5h0m0-107.9h0m2.3 102.6h0m0 3h0m0 3h0m0 2.5h0m0-133h0m2.3 125.1h0m0 3h0m0 3h0m0 3h0m0 0h0m0-137.2h0m2.3 128.9h0m0 3h0m0 3h0m0 1.5h0m0-132h0m2.3 125.2h0m0 3h0m0 3h0m0 1.3h0m0-108.8h0m2.3 102.2h0m0 3h0m0 3h0m0 3h0m0 0h0m0-130.4h0m2.3 121.3h0m0 3h0m0 2.2h0m0-180.6h0m2.3 173.8h0m0 1h0m0-191.8h0m2.3 189.2h0m0 3h0m0 0.5h0m0-187.3h0m0 4h0m2.3 178.1h0m0 0.6h0m0-154.4h0m2.3 152.2h0m0 3h0m0 3h0m0 1.6h0m0-148.7h0m0 4h0m2.3 136.8h0m0 0.7h0m0-143.7h0m2.3 144.9h0m0 3h0m0 3h0m0 1h0m0-159h0m2.3 153.9h0m0 1.5h0m0-158.7h0m2.3 157.8h0m0 0.5h0m0-151.5h0m2.3 149.2h0m0 3h0m0 3h0m0 3h0m0 0h0m0-130.6h0m0 4h0m2.3 115.8h0m0 0h0m0-100h0m2.3 99.9h0m0 1.5h0m0-85.6h0m2.3 85.3h0m0 3h0m0 1.1h0m0-87.8h0m2.3 84.7h0m0 3h0m0 1.6h0m0-90.2h0m2.3 86.8h0m0 3h0m0 1.1h0m0-90h0m0-3.2h0m0-3.6h0m0-3.9h0m2.3 96.6h0m0 1.3h0m0-89.1h0m0-4h0m0-4h0m0-4h0m2.3 99.8h0m0 0.2h0m0-93h0m0-3.2h0m0-4h0m0-3.8h0m0-3.4h0m0-3.3h0m2.3 110.5h0m0 3h0m0 0.5h0m0-108.4h0m0-3.7h0m0-3.3h0m0-3.2h0m0-3.2h0m2.3 118.3h0m0 0.8h0m2.3-0.8h0m0 0.4h0m0-112.4h0m2.3 112h0m0 3h0m0 0.3h0m0-108.5h0m0-3.9h0m2.3 109.1h0m0 3h0m0 3h0m0 2.1h0m0-104.4h0m0-3.3h0m2.3 99.6h0m0 3h0m0 3h0m0 3h0m0 0h0m0-102.4h0m0-3.9h0m2.3 97.8h0m0 3h0m0 3h0m0 1.7h0m2.3-7h0m0 3h0m0 3h0m0 1.6h0m0-87.8h0m0-3.9h0m2.3 84.7h0m0 3h0m0 1.5h0m0-76.1h0m0-4h0m0-4.1h0m2.3 80.4h0m0 3h0m0 3h0m0 1.3h0m0-77.7h0m0-3.3h0m0-3.6h0m0-4.1h0m2.3 82.3h0m0 2.3h0m0-71.3h0m0-3.8h0m0-3.2h0m0-3.9h0m2.3 79.7h0m0 3h0m0 0.7h0m0-68.3h0m0-4.1h0m0-3.5h0m0-3.3h0m2.3 74.6h0m0 3h0m0 0.9h0m0-69.9h0m0-3.5h0m0-3.9h0m2.3 72.2h0m0 2.1h0m0-73.2h0m0-3.1h0m2.3 72.4h0m0 3h0m0 3h0m0 1.3h0m0-83h0m0-4.2h0m2.3 78h0m0 0.2h0m0-74.1h0m0-4h0m2.3 76.5h0m0 3h0m0 0.8h0m0-74.5h0m0-3h0m0-3.4h0m0-3.6h0m2.3 80.2h0m0 3h0m0 1.8h0m0-83.9h0m0-3.5h0m0-3.6h0m0-3h0m2.3 88.7h0m0 1.2h0m0-90.3h0m0-3.6h0m0-3.7h0m2.3 95.9h0m0 3h0m0 2.7h0m0-100.7h0m0-3.9h0m0-7.4h0m0-4h0m0-3.2h0m2.3 113.1h0m0 1.6h0m0-103.7h0m0-4.1h0m0-3.9h0m0-3.5h0m2.3 113.1h0m0 3h0m0 3h0m0 3h0m0 0h0m0-119.4h0m0-3.1h0m0-4.2h0m2.3 117.3h0m0 1h0m0-121.2h0m0-3.2h0m0-3.1h0m2.3 126h0m0 1.6h0m0-130.2h0m0-3.4h0m0-3.9h0m0-4h0m2.3 140.2h0m0 0.5h0m0-130.5h0m0-3.4h0m0-4.1h0m0-3.9h0m0-7.2h0m2.3 148.9h0m0 0.2h0m0-127.6h0m0-3.5h0m0-3.8h0m0-4.1h0m0-4h0m0-3.4h0m0-3.7h0m0-3.7h0m0-6.8h0m0-3.4h0m0-3.1h0m0-3.3h0m0-6.8h0m0-3.4h0m0-3.1h0m2.3 183.8h0m0 2.6h0m0-127h0m0-4.1h0m0-3.9h0m0-3.5h0m0-3.5h0m0-3.6h0m0-3.8h0m0-3.1h0m0-3.9h0m0-3.3h0m0-4h0m0-6.8h0m0-3.5h0m0-3.9h0m0-3.8h0m0-3.5h0m0-3.6h0m0-3h0m0-3.2h0m2.3 192.7h0m0 3h0m0 3h0m0 0.1h0m0-123.3h0m0-3.7h0m0-4h0m0-3.4h0m0-4h0m0-3.4h0m0-3.7h0m0-3.9h0m0-3.8h0m0-4h0m0-3.1h0m0-4.1h0m0-3.5h0m0-3.2h0m0-8h0m0-4.1h0m2.3 175.8h0m0 3h0m0 3h0m0 3h0m0 0h0m0-110.5h0m0-3.4h0m0-3.2h0m0-3.3h0m0-3h0m0-3.2h0m0-3.8h0m0-3h0m0-3h0m0-4h0m0-3.4h0m0-3.7h0m2.3 136.9h0m0 3h0m0 3h0m0 0h0m0-97.6h0m0-3.2h0m0-4h0m0-3.9h0m0-4h0m0-3.8h0m0-3.8h0m0-3.7h0m2.3 116.4h0m0 0.5h0m0-87.1h0m0-3.1h0m0-3.8h0m0-6.9h0m0-4.2h0m0-3.3h0m2.3 106.4h0m0 0h0m0-84.1h0m0-3.2h0m0-3.5h0m0-3.4h0m0-3.5h0m0-3.7h0m0-3.9h0m2.3 103.7h0m0 3h0m0 3h0m0 3h0m0 0h0m0-102.4h0m0-4h0m0-4.2h0m0-3.6h0m0-3.6h0m0-3.7h0m0-3.5h0m2.3 114.4h0m0 3h0m0 3h0m0 2.6h0m0-114.7h0m0-4.1h0m0-3.1h0m0-4.2h0m0-3.6h0m2.3 119.6h0m0 3h0m0 3h0m0 2.8h0m0-132.6h0m0-3.9h0m0-3.5h0m0-3.2h0m0-3.7h0m0-3.1h0m0-3.8h0m0-3.8h0m0-3.1h0m0-4.2h0m0-3.2h0m0-7.5h0m0-7.6h0m2.3 172.8h0m0 1.5h0m0-129.5h0m0-3.5h0m0-3.7h0m0-3.6h0m0-3.2h0m0-4.1h0m0-4.1h0m0-3.5h0m0-3.1h0m0-3.5h0m0-3.4h0m0-3.9h0m0-3.7h0m0-3.2h0m0-3.7h0m0-3.4h0m0-6.8h0m0-4h0m0-3.2h0m0-3.2h0m0-4.1h0m0-3.6h0m0-7.6h0m0-3.2h0m2.3 218.9h0m0 1.5h0m0-127.1h0m0-3.8h0m0-4h0m0-4h0m0-3.7h0m0-3.7h0m0-3.9h0m0-3.7h0m0-3.7h0m0-3.5h0m0-4.1h0m0-3.8h0m0-4h0m0-3.6h0m0-3.1h0m0-4.1h0m0-4h0m0-3.7h0m0-3.8h0m0-3.7h0m0-3.6h0m0-3.6h0m0-3.1h0m0-3.1h0m0-3.6h0m0-3.1h0m0-3.8h0m0-3.4h0m0-3.4h0m0-3.1h0m0-3.9h0m0-3.3h0m0-4h0m0-10h0m0-3.3h0m0-3.2h0m0-3.9h0m0-0.6h0m2.3 266.9h0m0 3h0m0 0.6h0m0-124.4h0m0-3.6h0m0-3.7h0m0-3.9h0m0-4h0m0-3.5h0m0-3.7h0m0-4h0m0-3.2h0m0-3.5h0m0-4.1h0m0-3.3h0m0-3.1h0m0-4.2h0m0-4.1h0m0-3.7h0m0-3.1h0m0-3.9h0m0-3.6h0m0-3.4h0m0-3.4h0m0-3.2h0m0-3.3h0m0-4.1h0m0-3.6h0m0-3h0m0-4.1h0m0-3.7h0m0-3h0m0-3.5h0m0-7.2h0m0-10h0m0-6.7h0m0-3.5h0m0-3.5h0m2.3 259.7h0m0 3h0m0 2.8h0m0-128.8h0m0-3.3h0m0-3.2h0m0-3.6h0m0-4h0m0-4.2h0m0-3.4h0m0-4h0m0-3.9h0m0-3.1h0m2.3 159.1h0m0 1.8h0m0-128.4h0m0-3.9h0m0-3h0m0-4.1h0m0-4h0m0-3.3h0m0-4.1h0m0-3.7h0m0-3.8h0m0-3.4h0m0-4.2h0m0-3h0m0-4h0m0-3.6h0m0-3.1h0m0-3.5h0m0-3.1h0m0-3.4h0m0-3.3h0m0-3.1h0m0-3.2h0m0-7.5h0m0-3.3h0m2.3 209.6h0m0 0.6h0m0-126.5h0m0-3.1h0m0-3.1h0m0-3.5h0m0-6.6h0m0-4.2h0m0-3.1h0m0-4.2h0m0-3.9h0m0-4h0m0-3.6h0m0-3.6h0m0-3.3h0m0-3.1h0m0-3.1h0m0-3.8h0m0-3.9h0m0-3.2h0m0-4.1h0m0-3.8h0m0-3.3h0m0-3.5h0m0-4h0m0-4h0m0-4.1h0m0-3.7h0m0-3.2h0m0-5.5h0m2.3 227.7h0m0 1.2h0m0-124.5h0m0-3.9h0m0-3.2h0m0-3.9h0m0-3.1h0m0-3.8h0m0-4h0m0-3.6h0m0-3.9h0m0-3.8h0m0-3.9h0m0-4h0m0-3h0m0-3.2h0m0-3.4h0m0-3.9h0m0-4.1h0m0-3.8h0m0-3.5h0m0-3.8h0m2.3 192.5h0m0 0.9h0m0-124h0m0-3.4h0m0-3.4h0m0-3.2h0m0-3.2h0m0-3.5h0m0-4h0m0-6.8h0m2.3 149.9h0m0 2.4h0m0-123h0m0-3.5h0m0-3.5h0m2.3 127h0m0 0.7h0m0-116h0m0-4h0m0-3.5h0m0-3.3h0m0-4.1h0m0-4h0m0-3.7h0m0-3.3h0m0-3.7h0m0-13.5h0m2.3 157.8h0m0 3h0m0 1.8h0m0-125.3h0m0-4.1h0m0-3.8h0m0-4h0m0-3.6h0m0-4.2h0m0-4.1h0m0-3.8h0m0-3.4h0m0-4.2h0m0-4.1h0m0-4.2h0m0-3.2h0m0-3.1h0m2.3 169.6h0m0 2.8h0m0-136.3h0m0-3.6h0m0-4.1h0m2.3 141h0m0 3h0m0 3h0m0 3h0m0 0h0m2.3-9h0m0 2.2h0m0-134.5h0m0-3.7h0m0-4.1h0m0-4h0m0-3.9h0m0-3.4h0m2.3 151.4h0m0 3h0m0 0.5h0m0-133.7h0m2.3 130.2h0m0 0.9h0m0-128.2h0m0-3.6h0m0-3.8h0m0-3.1h0m0-3.3h0m0-3.7h0m0-3.3h0m0-4h0m0-3.4h0m0-3.2h0m0-3.7h0m0-3.6h0m0-3.9h0m0-3.4h0m0-3.9h0m0-3.5h0m0-3.1h0m0-3.5h0m0-4h0m0-3.7h0m0-3.5h0m0-3.2h0m0-3.1h0m0-3.2h0m0-3.2h0m0-3.8h0m0-3.7h0m0-4h0m0-11.2h0m0-3.9h0m0-3.1h0m0-4.2h0m2.3 244.7h0m0 0.8h0m0-124.9h0m0-4.1h0m0-3h0m0-3.5h0m0-4.2h0m0-3.2h0m0-4.2h0m0-3.9h0m0-4h0m0-3.8h0m0-3h0m0-3.2h0m0-4h0m0-4h0m0-3.8h0m0-3.1h0m0-3.1h0m0-4h0m0-3.7h0m0-4.1h0m0-3.7h0m0-3.1h0m0-4h0m0-4.1h0m0-3.1h0m0-4.2h0m0-3.7h0m0-3.7h0m0-7.9h0m0-3.9h0m0-3.5h0m0-6.8h0m0-6.7h0m0-4.1h0m0-3.7h0m0-3.5h0m0-3.9h0m0-1.2h0m2.3 268h0m0 3h0m0 1h0m0-122.7h0m0-3.5h0m0-3.7h0m0-3.1h0m0-8h0m0-4.1h0m0-3.8h0m0-3.6h0m0-3.5h0m0-3.9h0m0-3.1h0m0-3.8h0m0-3.1h0m0-3.8h0m0-4.1h0m0-3.7h0m0-3.4h0m0-3h0m0-4.1h0m0-3.2h0m0-4.1h0m0-6.7h0m0-3.4h0m0-14.1h0m2.3 218.7h0m0 0h0m0-120.8h0m0-3.5h0m0-3.1h0m0-4h0m0-7.7h0m0-4.1h0m0-3.7h0m0-4h0m0-3.7h0m0-3.8h0m0-3.8h0m0-3.5h0m0-3.4h0m0-3.6h0m0-3.7h0m0-3.1h0m0-4h0m0-4.2h0m0-6.5h0m0-6.3h0m0-3.5h0m2.3 203.1h0m0 2.4h0m0-128.2h0m0-3.3h0m0-3.9h0m0-3.2h0m0-3.5h0m0-3.7h0m0-3.3h0m0-3.5h0m0-3.8h0m0-3.9h0m0-4.1h0m0-3.1h0m0-3.1h0m0-3.2h0m0-4.1h0m0-3.4h0m0-3h0m2.3 181.1h0m0 3h0m0 0.5h0m0-130.9h0m0-3.8h0m0-3.5h0m0-3.7h0m0-3.3h0m0-3.9h0m0-3.7h0m0-3.9h0m0-4h0m0-4h0m0-3.5h0m0-3.7h0m0-3.8h0m0-6.3h0m2.3 177.8h0m0 0.2h0m0-130.7h0m0-3.2h0m0-3.9h0m0-3.6h0m0-3.7h0m0-3.4h0m0-3.4h0m0-3.1h0m0-4.1h0m0-3.2h0m0-3.7h0m0-3.7h0m0-3.5h0m0-4h0m0-6.6h0m0-3.3h0m0-3.9h0m0-7.5h0m0-7.8h0m0-7h0m2.3 213.3h0m0 0.7h0m0-141.3h0m0-4h0m0-3.1h0m0-3.9h0m0-3.7h0m0-3.7h0m0-3.2h0m0-3.2h0m0-3.3h0m0-3.7h0m0-3.4h0m0-7.8h0m0-4.1h0m0-3.8h0m0-3h0m0-7.7h0m0-7.9h0m0-3.9h0m0-3.1h0m0-3.2h0m0-3h0m2.3 223.5h0m0 3h0m0 3h0m0 1.7h0m0-154.3h0m0-3.2h0m0-3.4h0m0-3.8h0m0-4.1h0m0-3.2h0m0-3.3h0m0-3.6h0m0-4.1h0m0-3.3h0m0-3.3h0m0-3.1h0m0-3.6h0m0-10.5h0m2.3 199.3h0m0 3h0m0 2.8h0m0-145.9h0m0-4h0m0-3.7h0m0-3.7h0m0-3.2h0m0-7.6h0m0-3.4h0m0-3.1h0m0-3.7h0m0-4h0m0-3.3h0m0-3.4h0m0-4.2h0m0-3.6h0m0-3.4h0m0-3.6h0m0-3.2h0m0-3.8h0m0-3.4h0m0-3.5h0m0-4.1h0m0-3.3h0m0-3.3h0m0-4.1h0m0-3.2h0m0-3.5h0m0-3.8h0m0-3.8h0m2.3 241.2h0m0 0.3h0m0-125.8h0m0-3.6h0m0-3.3h0m0-3.5h0m0-3.7h0m0-3.8h0m0-3.3h0m0-3.6h0m0-3.5h0m0-3.1h0m0-4h0m0-3.9h0m0-3.2h0m0-4h0m0-3.1h0m0-3.4h0m0-4.1h0m0-3.5h0m0-3.2h0m0-3.9h0m0-3.9h0m0-7.8h0m0-3.2h0m0-3.5h0m0-3.6h0m0-3.8h0m0-3.2h0m2.3 222.4h0m0 3h0m0 3h0m0 3h0m0 0h0m0-121.9h0m0-3h0m0-3.1h0m0-3.5h0m0-3.9h0m0-3.1h0m0-3.8h0m0-3.6h0m0-3.4h0m0-6.4h0m0-3.5h0m0-3.6h0m0-3.9h0m0-3.5h0m0-6.9h0m0-3.2h0m0-3.6h0m0-4h0m2.3 179.1h0m0 3h0m0 1h0m0-113.6h0m0-3.6h0m0-4.2h0m0-3.5h0m0-3.5h0m0-3.2h0m0-3.5h0m0-6.7h0m0-3.7h0m0-4h0m0-4.1h0m0-3.4h0m0-3.4h0m0-3.7h0m0-3.4h0m0-3.3h0m0-3h0m0-3.4h0m0-3.5h0m0-3.3h0m0-3.8h0m0-4.1h0m0-3h0m0-3.9h0m0-7.1h0m0-3.2h0m0-3.3h0m0-3.9h0m0-3.4h0m2.3 217.6h0m0 0h0m0-113.9h0m0-3.6h0m0-3.3h0m0-4.1h0m0-3.7h0m0-3h0m0-3.7h0m0-3.7h0m0-6.7h0m0-4.2h0m0-3.1h0m0-3.6h0m0-3.6h0m0-6.9h0m0-4.1h0m0-3.7h0m0-3.4h0m0-3.1h0m0-3.1h0m0-3.3h0m0-3.7h0m0-3.6h0m0-3.6h0m0-3.4h0m0-3.5h0m0-3.4h0m0-3.1h0m2.3 214.2h0m0 1.1h0m0-119.2h0m0-3.6h0m0-4.1h0m0-3.1h0m0-3.5h0m0-3.4h0m0-3.2h0m0-3.4h0m0-7.4h0m0-3.2h0m0-4.1h0m0-3.9h0m0-3h0m0-3.5h0m0-3.5h0m0-3.1h0m0-3.3h0m0-4h0m0-3.1h0m0-4.2h0m0-3.6h0m0-3.2h0m0-7.6h0m0-3.5h0m0-3.2h0m0-3.2h0m0-7.2h0m0-3.4h0m0-7.9h0m0-4.1h0m0-0.6h0m2.3 231.9h0m0 1.7h0m0-121.7h0m0-3.1h0m0-3.4h0m0-3.8h0m0-4.1h0m0-3.7h0m0-3.7h0m0-3.3h0m0-3.5h0m0-3.5h0m0-3.4h0m0-3.6h0m0-3.7h0m0-4h0m0-3.1h0m0-4.2h0m0-3.6h0m0-3.7h0m0-3.8h0m0-3.7h0m0-3.2h0m0-3h0m0-3.4h0m0-3.8h0m0-3.8h0m0-3.9h0m0-4.1h0m2.3 212.4h0m0 3h0m0 3h0m0 3h0m0 0h0m0-131.3h0m0-3.3h0m0-4.2h0m0-3.2h0m0-3.2h0m0-3.4h0m0-3.2h0m0-4.1h0m0-3.5h0m0-3.4h0m0-4h0m0-3h0m0-3.6h0m0-3.1h0m0-4.2h0m2.3 172.2h0m0 3h0m0 0.7h0m0-127.2h0m0-3.3h0m0-3.3h0m2.3 130.6h0m0 3h0m0 1.3h0m0-126.3h0m0-3.8h0m0-3.3h0m0-4h0m0-4h0m0-4h0m0-4h0m0-3.5h0m0-3.8h0m0-3.1h0m0-3.5h0m0-3.2h0m0-3.6h0m0-3.6h0m0-3.3h0m0-3.5h0m0-3.2h0m0-3.8h0m0-3.8h0m0-3.1h0m0-3.6h0m0-3.2h0m0-7.7h0m0-3.9h0m0-7.6h0m0-3.4h0m2.3 220h0m0 0h0m0-123.8h0m0-4.2h0m0-3.3h0m0-7.8h0m0-3.1h0m0-3.3h0m0-3.2h0m0-7.1h0m0-3.3h0m0-3h0m2.3 162.6h0m0 0.3h0m0-130.1h0m2.3 130.3h0m0 0.1h0m0-137h0m0-3h0m0-3.8h0m0-3.7h0m0-3.5h0m0-3.3h0m0-4.1h0m0-4.1h0m0-4.1h0m0-3h0m0-3.5h0m0-3.8h0m0-3.3h0m0-4h0m0-3.9h0m0-3.6h0m0-3.7h0m0-3.1h0m0-7.9h0m0-3.8h0m0-4h0m2.3 214.6h0m0 0.4h0m2.3 0.1h0m0 1.5h0m2.3-1.1h0m0 3h0m0 3h0m0 3h0m0 0h0m0-144.9h0m0-3.4h0m0-3.9h0m0-3.2h0m0-4.1h0m0-7.2h0m0-3.6h0m0-3.3h0m0-3.4h0m2.3 168.5h0m0 0h0m0-131.3h0m0-3.2h0m0-3.3h0m0-3.4h0m0-3.2h0m0-3.3h0m0-3.1h0m0-6.9h0m0-3.4h0m0-4h0m0-3.7h0m0-3.1h0m0-4.1h0m0-3.5h0m0-3.3h0m0-3h0m0-3.6h0m0-3.3h0m0-4.2h0m0-4.1h0m0-3.6h0m2.3 205.1h0m0 2h0m0-135.6h0m0-4h0m0-3.7h0m0-3.5h0m0-3.6h0m0-4.2h0m2.3 153.1h0m0 2.8h0m0-134h0m0-3.5h0m0-3.9h0m0-3.3h0m0-4h0m0-3.7h0m0-3.6h0m0-3.8h0m0-4h0m0-7.3h0m2.3 168.7h0m0 0.5h0m0-125h0m0-3.7h0m0-3.2h0m0-3.3h0m0-3.6h0m0-3.6h0m0-3.9h0m0-3.7h0m0-3.2h0m2.3 152.9h0m0 3h0m0 3h0m0 2.8h0m0-132.3h0m0-3.8h0m0-3.8h0m0-3.9h0m0-3.6h0m0-3.2h0m0-3.5h0m0-3.5h0m0-3.9h0m0-3.9h0m0-4h0m0-4.2h0m0-3.9h0m0-7h0m0-3.6h0m0-3.8h0m0-3.7h0m0-7.1h0m0-3.4h0m0-6.9h0m0-6.5h0m0-3.7h0m0-10.3h0m2.3 224.8h0m0 3h0m0 0.5h0m0-129.5h0m2.3 126.2h0m0 3h0m0 2.4h0m0-129.8h0m0-3.3h0m0-3.2h0m0-4.1h0m0-3.4h0m0-3.8h0m0-3.8h0m0-3.4h0m0-4h0m0-3.2h0m0-3.9h0m0-3.8h0m0-3.9h0m0-3.9h0m0-3.6h0m0-3.1h0m0-4h0m0-4.1h0m0-3.9h0m0-3.9h0m0-7.9h0m0-3.4h0m0-3.3h0m0-3.5h0m0-3.1h0m0-3.8h0m2.3 219.9h0m0 1.5h0m0-127.3h0m0-3h0m0-7.1h0m0-3.5h0m0-4.1h0m0-3.7h0m0-3.3h0m0-3.3h0m0-3.2h0m0-3.5h0m0-3.5h0m0-3.7h0m0-3.7h0m0-7.5h0m0-4.1h0m0-4.1h0m0-3.4h0m0-3.1h0m0-3.1h0m0-3.5h0m0-4h0m0-3.3h0m0-3.9h0m0-3.3h0m0-4.1h0m0-3.1h0m0-3.4h0m0-7.5h0m0-3.3h0m0-3.8h0m0-3.9h0m0-7.4h0m0-3.3h0m0-3.8h0m0-3.6h0m0-4.1h0m0-3.5h0m0-3.5h0m0-14.1h0m2.3 287.3h0m0 3h0m0 3h0m0 3h0m0 0h0m0-142h0m0-4h0m0-3.6h0m0-4h0m0-3.6h0m0-6.9h0m0-4h0m0-3.9h0m0-3.6h0m0-3.8h0m0-3.4h0m0-3.1h0m0-3.8h0m0-3.6h0m0-3.8h0m0-4.2h0m0-3h0m0-3.3h0m0-3.1h0m0-3.1h0m0-3.1h0m0-3.5h0m0-3.9h0m0-3.6h0m0-3.4h0m0-4h0m0-3.8h0m0-3.1h0m0-3.3h0m0-7.7h0m0-7.6h0m0-3.1h0m0-7.6h0m0-4h0m2.3 266.6h0m0 3h0m0 2.5h0m0-141.9h0m0-3.5h0m0-3.9h0m0-4.1h0m0-4.1h0m0-3.6h0m0-4.1h0m0-3.3h0m0-3.5h0m0-4.2h0m0-3.4h0m0-4h0m0-3.1h0m0-4.1h0m0-3.1h0m0-3.9h0m0-3.8h0m0-4.2h0m0-3.2h0m0-4h0m2.3 207.7h0m0 3h0m0 3h0m0 2.7h0m0-135.9h0m0-4.2h0m0-3.5h0m0-3.9h0m0-3.4h0m0-4h0m0-3.3h0m0-3.6h0m0-4.2h0m0-3.2h0m0-3.9h0m0-3.5h0m0-4h0m0-3.4h0m0-3.6h0m0-3.8h0m0-3.2h0m0-3.9h0m0-3.2h0m0-3.9h0m0-3.1h0m0-3.4h0m0-3.2h0m0-3.2h0m0-3.4h0m0-3.5h0m0-3.1h0m0-3.6h0m0-3.4h0m0-7.1h0m0-7h0m0-3.8h0m2.3 244.9h0m0 1.7h0m0-123.2h0m0-3.1h0m0-4h0m0-4.1h0m0-3h0m0-3.3h0m0-4.1h0m0-3.3h0m0-3.3h0m0-3.9h0m0-7h0m0-4h0m0-3.5h0m0-3h0m0-3.1h0m0-4h0m0-3.4h0m0-3.1h0m0-3.9h0m0-3.2h0m0-3.5h0m0-11h0m0-4.1h0m0-4.2h0m0-3.9h0m0-3.3h0m0-3.2h0m0-4.1h0m0-4.1h0m0-4.1h0m0-3.8h0m0-7.8h0m0-3.7h0m0-4h0m0-3.8h0m0-3.1h0m0-3.9h0m0-7.7h0m0-2.7h0m2.3 278h0m0 3h0m0 3h0m0 2.3h0m0-131.1h0m0-4h0m0-3.4h0m0-3.7h0m0-3.3h0m0-3h0m0-3.9h0m0-4h0m0-3.4h0m0-3.5h0m0-4.1h0m0-4.1h0m0-3.4h0m0-3.8h0m0-4.1h0m0-3.7h0m0-3.3h0m0-3.7h0m0-3.7h0m0-4.1h0m0-3.3h0m0-4.1h0m0-4.2h0m0-3.3h0m0-3.7h0m0-3.6h0m0-3.5h0m0-4h0m0-7h0m0-3.4h0m0-11.4h0m0-3.3h0m2.3 247.9h0m0 0.8h0m0-126.1h0m0-3.5h0m0-3.3h0m0-3.5h0m2.3 135.7h0m0 3h0m0 3h0m0 0.6h0m0-132.3h0m0-4h0m0-3.6h0m0-3.3h0m2.3 135.6h0m0 2.6h0m0-129.1h0m0-6.3h0m0-3.2h0m0-4.1h0m0-3.7h0m0-3.3h0m0-3.4h0m0-3.4h0m0-3.2h0m0-3.7h0m0-3.6h0m0-3.6h0m0-3.1h0m0-3.2h0m0-3.4h0m0-3.7h0m0-3.5h0m0-3.3h0m0-3.3h0m0-4.1h0m0-3.1h0m0-4h0m0-4.1h0m0-10.9h0m0-4h0m0-4.1h0m0-3.1h0m2.3 227.9h0m0 3h0m0 3h0m0 0.3h0m0-129.1h0m0-3.9h0m0-3.2h0m0-3.2h0m0-3.2h0m0-4.2h0m0-3.9h0m0-3.2h0m0-3.8h0m0-3.2h0m0-3.4h0m0-3h0m0-3.2h0m0-3.9h0m0-3.1h0m0-7.1h0m0-4h0m0-3.3h0m0-3.3h0m0-3.8h0m0-3.9h0m0-3.3h0m0-3.1h0m0-4.1h0m0-4h0m0-3.6h0m0-3h0m0-3.7h0m0-3.3h0m0-4.2h0m0-3.9h0m0-4.2h0m0-3.5h0m0-3.7h0m0-4h0m0-7h0m0-7.8h0m0-10.9h0m0-7.4h0m0-4.1h0m0-2.8h0m2.3 287.2h0m0 0.3h0m0-115.8h0m0-3.2h0m0-4.1h0m0-3.9h0m0-3.6h0m0-3.9h0m0-3.8h0m0-3.9h0m0-4h0m0-4h0m0-3h0m0-3.2h0m0-3.3h0m0-3.3h0m0-3.2h0m0-3.1h0m0-3.2h0m0-3.1h0m0-3.2h0m0-3.5h0m0-4h0m0-3.6h0m0-7.8h0m0-4.2h0m0-3.1h0m0-3.4h0m0-3.6h0m0-4h0m0-7.5h0m0-3.5h0m0-3.1h0m0-3.7h0m0-3.6h0m0-4.1h0m0-3.3h0m0-3.7h0m0-3.8h0m0-3.1h0m0-3.5h0m0-3.6h0m0-7.2h0m0-3.5h0m0-11.3h0m0-3h0m2.3 286.2h0m0 3h0m0 3h0m0-0.1h0m0-118.9h0m0-3.9h0m0-3.2h0m0-3.3h0m0-3.3h0m0-3.2h0m0-3.3h0m0-4h0m0-3.7h0m0-3.6h0m0-4.1h0m0-3.4h0m0-4.1h0m0-3.2h0m0-3.4h0m0-3.8h0m0-3.7h0m0-3.8h0m0-3.4h0m0-3.5h0m0-4h0m0-3h0m0-3.9h0m0-6.7h0m0-4.1h0m0-3.1h0m0-3.2h0m0-4.1h0m0-4.1h0m2.3 216.1h0m0 3h0m0 1.3h0m0-117.1h0m0-3.5h0m0-3.4h0m0-3.3h0m0-3.4h0m0-4.1h0m0-4.1h0m0-3.7h0m0-3.1h0m0-3.2h0m0-3.5h0m0-3.1h0m0-4h0m0-3.2h0m0-3.7h0m0-4.1h0m0-3.1h0m0-3.4h0m0-3.7h0m0-3.3h0m0-3.7h0m0-3h0m0-3.3h0m0-3.1h0m0-3.1h0m0-3.4h0m0-3.1h0m0-4.2h0m0-7.1h0m0-3.5h0m0-7.3h0m0-4.1h0m0-3.3h0m0-3.5h0m2.3 234.4h0m0 3h0m0 3h0m0 3h0m0 0h0m0-120.7h0m0-3.6h0m0-4h0m0-3.7h0m0-3.6h0m0-3.7h0m0-3.4h0m0-7.1h0m2.3 139.8h0m0 0.6h0m0-113h0m0-3.4h0m0-3.6h0m0-3.9h0m0-4.1h0m0-3.1h0m0-3.1h0m0-3h0m0-3.7h0m0-4.2h0m0-3.1h0m0-3.5h0m0-3.7h0m0-3.2h0m0-3.1h0m0-3.4h0m0-7.1h0m0-3h0m0-3.1h0m0-3.2h0m0-8.1h0m0-4h0m0-3.8h0m0-6.7h0m2.3 202.6h0m0 3h0m0 1.5h0m0-133.8h0m0-3.9h0m0-3.7h0m0-3.3h0m0-3.5h0m0-4.2h0m0-3.9h0m0-3.3h0m0-8h0m0-4.1h0m0-3.6h0m0-3.1h0m0-3.5h0m0-3.4h0m0-3.7h0m0-3.5h0m0-4.1h0m0-3.8h0m0-8.1h0m0-3.6h0m0-3.7h0m0-3.9h0m0-3.2h0m0-3.1h0m0-3.8h0m0-4h0m0-3.7h0m0-7.8h0m0-3.9h0m0-3.5h0m0-3.1h0m0-3.2h0m0-4.2h0m0-3.2h0m0-4.2h0m0-3.8h0m0-3.7h0m0-6.5h0m0-3.5h0m0-8h0m0-3.8h0m0-11h0m0-3.9h0m0-4h0m0-3.3h0m2.3 316.6h0m0 1h0m0-132.1h0m0-3.3h0m0-4h0m0-3.1h0m0-3.8h0m0-3.6h0m0-4.2h0m0-3.3h0m0-3.2h0m0-3.8h0m0-4h0m0-3.6h0m0-3.2h0m0-3.8h0m0-3.8h0m0-3.3h0m0-3.3h0m0-3.7h0m0-4.2h0m0-3.8h0m0-3.9h0m0-3.4h0m0-3.8h0m0-3.1h0m0-4h0m0-3.3h0m0-3.7h0m0-4.1h0m0-3.2h0m0-3.5h0m0-3.2h0m0-3.4h0m0-3.4h0m0-3.4h0m0-3.4h0m0-3.6h0m0-3.4h0m0-7.4h0m0-3.8h0m0-3.7h0m0-4.2h0m0-3.3h0m0-3.6h0m0-3.4h0m0-3.1h0m0-3.5h0m0-3.9h0m0-4h0m0-3.4h0m0-14.1h0m0-3.4h0m0-3.5h0m0-7.1h0m0-4.1h0m0-7.2h0m0-3.1h0m0-11h0m0-2.8h0m2.3 362.5h0m0 3h0m0 2.6h0m0-139.4h0m0-3.8h0m0-3.4h0m0-3h0m0-3.8h0m0-3.7h0m0-3.8h0m0-3.2h0m0-3.4h0m0-3.5h0m0-4h0m0-3.4h0m0-3.6h0m0-4.1h0m0-3.6h0m0-3.4h0m0-4.1h0m0-4.2h0m0-3h0m0-3.5h0m0-3.8h0m0-3.9h0m0-3.3h0m0-3.7h0m0-3.7h0m0-3.5h0m0-3.8h0m0-3.3h0m0-4h0m0-3.6h0m0-3.2h0m0-4h0m0-3.1h0m0-3.5h0m0-3.1h0m0-3.8h0m0-3.6h0m0-3.3h0m0-3.7h0m0-3.8h0m0-4.1h0m0-3.6h0m0-14.6h0m0-3.7h0m0-3.6h0m0-3.1h0m0-3.6h0m0-3.6h0m2.3 312.9h0m0 0.1h0m0-126.4h0m0-6.8h0m0-3.6h0m0-4.1h0m0-3.9h0m0-3.9h0m0-3.7h0m0-3.1h0m0-3.1h0m0-3.6h0m0-3.2h0m0-4.2h0m0-3h0m0-3.5h0m0-3.3h0m0-3.3h0m0-3.4h0m0-3.6h0m0-3h0m0-3.9h0m0-3.9h0m0-4h0m0-4h0m0-3.7h0m0-4.2h0m0-3.7h0m0-3h0m0-4.2h0m0-3.6h0m0-3h0m0-4.1h0m0-3h0m0-3.3h0m0-3.9h0m0-3.4h0m0-3.7h0m0-7.2h0m0-3.3h0m0-3.5h0m0-3.5h0m0-3.1h0m0-3.1h0m0-4h0m0-4h0m0-7.6h0m0-3.9h0m0-3.8h0m0-3.5h0m0-3.6h0m0-6.7h0m0-6.9h0m0-3.1h0m0-7h0m0-4.1h0m2.3 337.5h0m0 0.2h0m0-114.1h0m0-3.1h0m0-4h0m0-3.8h0m0-4.1h0m0-3.4h0m0-4.1h0m0-3.6h0m0-3h0m0-3.7h0m0-3.3h0m0-3.6h0m0-4.1h0m0-4h0m0-3.3h0m0-4h0m0-3.1h0m0-3.7h0m0-3.6h0m0-3.8h0m0-4h0m0-4h0m0-3.7h0m0-3.1h0m0-3.7h0m0-4h0m0-3.5h0m0-3.9h0m0-3.3h0m0-3.4h0m0-4.2h0m0-8h0m0-7.4h0m0-4.2h0m0-6.5h0m0-4.1h0m0-7.4h0m0-3.9h0m2.3 266.2h0m0 3h0m0 0h0m0-106.9h0m0-3.7h0m0-3.8h0m0-4.1h0m0-3.6h0m0-3.5h0m0-3.8h0m0-3.7h0m0-7.2h0m2.3 138.1h0m0 3h0m0 3h0m0 0.5h0m0-115.9h0m0-3.1h0m0-4.1h0m0-3.7h0m0-3.7h0m0-4h0m0-3.7h0m0-3.2h0m0-3.5h0m0-3.9h0m0-4.1h0m0-4.1h0m0-3.7h0m0-3.1h0m0-3.7h0m0-3.7h0m0-3.2h0m0-3.5h0m0-4.2h0m0-3.1h0m0-3.9h0m0-4.1h0m0-3h0m0-3.2h0m0-3.9h0m0-3.2h0m0-3.5h0m0-3.2h0m0-4h0m0-3.6h0m0-4.1h0m0-3.9h0m0-3.6h0m0-3.2h0m0-3.5h0m0-3.1h0m0-3.3h0m0-3.3h0m0-3.8h0m0-7.4h0m0-4.2h0m0-10.6h0m2.3 269h0m0 3h0m0 3h0m0 3h0m0 0h0m0-128.4h0m0-3.7h0m0-3.9h0m0-4h0m0-3.5h0m0-3.6h0m0-3.3h0m0-4.1h0m0-4h0m0-3.7h0m0-3.5h0m0-3.4h0m0-3.4h0m0-13.3h0m2.3 177.6h0m0 3h0m0 3h0m0 1.9h0m0-132.8h0m0-3.3h0m0-3.3h0m0-3.7h0m0-3.8h0m0-3.6h0m0-3.7h0m0-4h0m0-4.1h0m0-3.2h0m0-3.4h0m0-4.2h0m0-3.1h0m0-4.1h0m0-3.1h0m0-4.2h0m0-10.3h0m2.3 190.7h0m0 3h0m0 1.8h0m0-126.2h0m0-4.1h0m0-4.2h0m2.3 130.4h0m0 3h0m0 3h0m0 3h0m0 0h0m0-130h0m0-3.4h0m0-3h0m0-3.8h0m0-3.4h0m0-4.2h0m0-3.4h0m0-3.1h0m0-3.4h0m0-3.1h0m0-3.9h0m2.3 155.9h0m0 3h0m0 3h0m0 3h0m0 0h0m0-134.9h0m0-3.5h0m0-3.9h0m0-4.2h0m2.3 137.5h0m0 3h0m0 3h0m0 3h0m0 0h0m0-129.4h0m0-3.2h0m0-3.4h0m0-4.2h0m0-4.1h0m0-3h0m0-3.6h0m0-4h0m0-3.5h0m0-3.2h0m0-3.9h0m0-4.1h0m0-3.2h0m0-3.8h0m0-3.3h0m0-3.2h0m0-3.5h0m0-3.8h0m0-3.2h0m0-3.5h0m0-3.2h0m0-3.6h0m0-3.8h0m0-4.2h0m0-3.3h0m0-3.6h0m0-3.9h0m0-3.9h0m0-7.7h0m0-3.5h0m0-7.2h0m0-3.3h0m0-4h0m0-14.2h0m0-4h0m0-3.4h0m2.3 264.9h0m0 3h0m0 3h0m0 3h0m0 0h0m0-125h0m0-3.5h0m0-3.3h0m0-3.7h0m0-4.2h0m0-4h0m0-3.2h0m0-3.2h0m0-3.7h0m0-3.2h0m0-3.6h0m0-3.7h0m0-3.6h0m0-3.2h0m0-7.3h0m0-11.2h0m0-3.4h0m0-3.8h0m0-3.9h0m0-3.9h0m0-3.5h0m0-4.2h0m0-3.7h0m0-3.8h0m0-3.4h0m0-4.1h0m0-3.2h0m0-3.4h0m0-3.2h0m0-3.3h0m0-4.1h0m0-3.7h0m0-3.7h0m0-3.6h0m0-3.9h0m0-3.5h0m0-3.2h0m0-4.1h0m0-3.6h0m0-6.8h0m0-4.1h0m0-3h0m0-8.2h0m0-7.3h0m0-3.3h0m0-2.9h0m2.3 300.4h0m0 3h0m0 3h0m0 2.8h0m0-119.7h0m0-3.6h0m0-7.4h0m0-4.1h0m0-7.6h0m0-3.9h0m0-4h0m0-3.6h0m0-3.4h0m0-3.9h0m0-4.1h0m0-3.7h0m0-3.9h0m0-3.3h0m0-3.6h0m0-3h0m0-3.9h0m0-3.4h0m0-3.7h0m0-3.5h0m0-3.3h0m0-3.4h0m0-3.5h0m0-3.2h0m0-4.2h0m0-3.8h0m0-3.1h0m0-7.5h0m0-3.4h0m0-3.4h0m0-3.9h0m0-3.6h0m0-3.4h0m0-3.5h0m0-8.1h0m0-3.7h0m0-11.1h0m2.3 264.6h0m0 3h0m0 1.6h0m0-117.3h0m0-3.3h0m0-3.7h0m0-3.5h0m0-3.4h0m0-3.4h0m0-4h0m0-3.3h0m0-3.4h0m0-3.3h0m0-3.8h0m0-3.9h0m0-3.4h0m0-3.5h0m0-3.5h0m0-3.3h0m0-4h0m0-4.1h0m0-4.2h0m0-3h0m0-4h0m0-3.6h0m0-3.4h0m0-3.3h0m0-3.9h0m0-3.4h0m0-4.1h0m0-3.3h0m0-4.1h0m0-3.9h0m0-4.1h0m0-6.2h0m0-3.9h0m0-4.1h0m0-3.8h0m0-3.6h0m0-3.2h0m0-3.5h0m2.3 248.6h0m0 1.4h0m0-118.1h0m0-3.3h0m0-3.3h0m0-3.6h0m0-3h0m0-4.2h0m0-3.7h0m0-3.8h0m0-3.6h0m0-4h0m0-4h0m0-3.8h0m0-4.1h0m0-3.2h0m0-3.1h0m0-3.4h0m0-3.3h0m0-3.6h0m0-3.4h0m0-4.1h0m0-4h0m0-3.4h0m0-3.9h0m0-3.9h0m0-3.6h0m0-3h0m0-3.7h0m0-3.1h0m0-7.4h0m0-3.7h0m0-6.7h0m0-3.6h0m0-3.3h0m0-3.4h0m0-7.2h0m0-3.7h0m0-10h0m0-3.8h0m0-7.9h0m0-3.5h0m0-3.2h0m0-3.9h0m0-1.7h0m2.3 284.3h0m0 3h0m0 2.4h0m0-128.8h0m0-3.3h0m0-4h0m0-3.5h0m0-3.1h0m0-4h0m0-3.9h0m0-3.1h0m0-3.5h0m0-3.7h0m0-3h0m0-3.8h0m0-4h0m0-3.6h0m0-3.3h0m0-3.2h0m0-3.2h0m0-3.4h0m0-4.1h0m0-3.9h0m0-3.7h0m0-4h0m0-3.2h0m0-4.1h0m0-4h0m0-3.7h0m0-3.9h0m0-3.4h0m0-4.1h0m0-3.6h0m0-3.5h0m0-3.4h0m0-10.8h0m0-7.1h0m0-3.8h0m0-3.1h0m0-7.4h0m2.3 265.3h0m0 3h0m0 3h0m0 3h0m0 0h0m0-134.9h0m0-4h0m0-3.1h0m0-3.4h0m0-3.4h0m0-4.1h0m0-3.6h0m0-4.1h0m0-3.6h0m0-3.3h0m0-3.6h0m0-4h0m0-3.4h0m0-4.2h0m0-3.6h0m0-3.5h0m0-3.1h0m0-3.6h0m0-3h0m0-6.9h0m0-3.9h0m2.3 198.7h0m0 3h0m0 3h0m0 0.8h0m0-127.8h0m0-3.8h0m0-3.6h0m0-4h0m0-4.2h0m0-3.2h0m0-3.4h0m0-3.6h0m0-3.5h0m0-3.9h0m0-3.3h0m0-3.6h0m0-3.9h0m0-4h0m0-4h0m0-3.8h0m0-3.8h0m0-3.7h0m0-3.1h0m0-3.3h0m0-3.5h0m0-3.1h0m0-3.3h0m0-4h0m0-3.3h0m0-4.1h0m0-3h0m0-3.9h0m0-3.3h0m0-3.1h0m0-3.8h0m0-3.8h0m0-3.2h0m0-8.2h0m0-3.2h0m0-3.9h0m0-15.2h0m2.3 264.1h0m0 3h0m0 3h0m0 1.9h0m0-117.5h0m0-3.2h0m0-3h0m0-3.8h0m0-3.3h0m0-4.1h0m0-3.8h0m0-3.3h0m0-3.9h0m0-7.2h0m0-3.8h0m0-3.1h0m0-3.4h0m0-3.2h0m0-4.1h0m0-3.6h0m0-4.2h0m0-3.6h0m0-4.1h0m0-3.2h0m0-3.7h0m0-3.6h0m0-3.3h0m0-3.1h0m0-3.4h0m2.3 197.7h0m0 3h0m0 3h0m0 1.4h0m0-131.8h0m0-3.3h0m0-3.9h0m0-3.2h0m0-3.2h0m0-3.3h0m0-4.1h0m0-3.7h0m0-3.2h0m0-4h0m0-3.2h0m0-3.9h0m0-4.1h0m0-3.6h0m0-3.7h0m0-4h0m0-3.9h0m0-3.3h0m0-4.1h0m0-4h0m0-3.8h0m0-3.8h0m0-3.7h0m0-3.4h0m0-3.5h0m0-4.1h0m0-3.7h0m0-3.2h0m0-3.7h0m0-3.8h0m0-3.4h0m0-3.8h0m0-3.8h0m0-4h0m0-4.1h0m0-4.1h0m0-3.1h0m0-3.2h0m0-6.8h0m0-3.4h0m0-3.9h0m0-3.8h0m0-4.1h0m2.3 284.5h0m0 1.1h0m0-138.7h0m0-3.7h0m0-4h0m0-4.2h0m0-3.2h0m0-3.3h0m0-3.7h0m0-4h0m0-3h0m0-3h0m0-3.8h0m0-3.6h0m0-3.8h0m0-3.6h0m0-3.5h0m0-3h0m0-3.5h0m0-3.9h0m0-3.8h0m0-3.8h0m0-3.6h0m0-4h0m0-3.1h0m0-3.3h0m0-3.9h0m0-3.4h0m0-4h0m0-3.8h0m0-3.4h0m0-3.5h0m0-3.6h0m0-7h0m0-3.7h0m0-3.6h0m0-3.5h0m0-4h0m0-4.1h0m0-4.1h0m0-3.7h0m0-3.2h0m0-4h0m0-4.2h0m0-3.2h0m0-3.5h0m0-3.9h0m0-4.2h0m0-4h0m0-3.8h0m0-7.3h0m0-3.7h0m0-6.6h0m0-3.8h0m0-3.2h0m0-3.9h0m0-3.9h0m0-3.9h0m0-7.4h0m0-3.9h0m0-3.7h0m0-3.8h0m0-4h0m0-1.9h0m2.3 376.5h0m0 0.1h0m0-140h0m0-3.3h0m0-3.9h0m0-3.5h0m0-3.8h0m0-4.2h0m0-3.7h0m0-3.2h0m0-3.5h0m0-3.2h0m0-3.4h0m0-4h0m0-3.2h0m0-4h0m0-6.4h0m0-3.3h0m0-3.4h0m0-3.4h0m0-3.6h0m0-3.9h0m0-3.7h0m0-3.2h0m0-3.6h0m0-3.7h0m0-3.3h0m0-4.1h0m0-3.5h0m0-3.7h0m0-4h0m0-3.2h0m0-3.5h0m0-3.2h0m0-4.1h0m0-3.1h0m0-3.2h0m0-3.3h0m0-3.5h0m0-3.7h0m0-4.1h0m0-3.3h0m0-3.6h0m0-4.2h0m0-3.9h0m0-4.1h0m0-3.4h0m0-3.7h0m0-7h0m0-3.8h0m0-3.2h0m0-3.5h0m0-3h0m0-10.7h0m0-7.2h0m0-3.5h0m0-3.6h0m2.3 352.5h0m0 3h0m0 3h0m0 0.1h0m0-145.8h0m0-4.2h0m0-3.7h0m0-4.1h0m0-3.4h0m0-3.2h0m0-3.8h0m0-3.8h0m0-4.2h0m0-6.3h0m0-3.5h0m0-3.5h0m0-4.1h0m0-3.9h0m0-3.4h0m0-3.4h0m0-4.2h0m0-4h0m0-3.4h0m0-3.7h0m0-3.4h0m0-3.7h0m0-3.5h0m0-3.1h0m0-3.3h0m0-3.5h0m0-3.3h0m0-3.2h0m0-3h0m0-4h0m0-15.4h0m2.3 265.1h0m0 0.7h0m0-138.8h0m0-3.1h0m0-3.5h0m0-3h0m0-3.4h0m0-7.2h0m0-3.5h0m0-3.9h0m0-3.2h0m0-3.7h0m0-3.2h0m0-3.5h0m0-3.1h0m0-3.9h0m0-4h0m0-3.8h0m0-8h0m0-3.1h0m0-7.8h0m2.3 215.2h0m0 3h0m0 3h0m0 3h0m0 0h0m2.3-6.8h0m0 1.1h0m2.3 1.1h0m0 3h0m0 3h0m0 1.3h0m0-137.3h0m0-4.2h0m0-3.9h0m0-3.3h0m0-3.4h0m0-3.4h0m0-3.1h0m0-3.7h0m0-4h0m0-3.2h0m0-3.1h0m0-3.2h0m0-3.3h0m0-4.1h0m0-3.3h0m0-3.6h0m0-3.8h0m0-3.9h0m0-3.7h0m0-3.8h0m0-3.9h0m0-3.4h0m0-3.9h0m0-20.4h0m0-3h0m0-7.7h0m2.3 242.5h0m0 3h0m0 3h0m0 3h0m0 0h0m0-132.8h0m0-3.1h0m0-3.5h0m0-3.2h0m0-3.7h0m0-3.5h0m0-3h0m0-3.2h0m0-3.1h0m0-3.3h0m0-3.2h0m0-4.1h0m0-3.2h0m0-4.2h0m0-3.9h0m0-3.4h0m0-4h0m0-3.6h0m0-3.3h0m0-7.6h0m2.3 194.2h0m0 3h0m0 0.7h0m0-135.5h0m0-3.5h0m0-3.9h0m0-3.6h0m0-4h0m0-4.1h0m0-3.9h0m0-3.7h0m0-3.6h0m0-3.7h0m0-3.8h0m0-3.9h0m0-3.6h0m0-3.3h0m0-3.3h0m0-3.6h0m0-6.7h0m0-11.3h0m2.3 204.4h0m0 0.3h0m0-148.1h0m0-3.1h0m0-3.1h0m0-3.7h0m0-6.3h0m0-3.1h0m0-4.1h0m0-3.1h0m0-3.7h0m0-3.1h0m0-3.6h0m0-3.2h0m0-3.8h0m0-3.3h0m0-3.2h0m0-3.7h0m0-3.6h0m0-3.9h0m0-3.2h0m0-7.2h0m0-3.1h0m0-3.5h0m0-6.6h0m0-7.5h0m0-7h0m2.3 246.7h0m0 3h0m0 3h0m0 2.2h0m0-163.8h0m0-4h0m0-3.5h0m0-3.6h0m0-4.2h0m0-4.2h0m0-3.7h0m0-3.6h0m0-3.1h0m0-3.4h0m0-3.4h0m0-4.1h0m0-3.1h0m0-4.2h0m0-3.2h0m0-3.7h0m0-3.3h0m0-3.1h0m0-3.8h0m0-4.2h0m0-3.1h0m0-7h0m0-3.1h0m0-4h0m0-3.9h0m0-3.3h0m0-3.6h0m0-3.5h0m0-3.1h0m0-3.8h0m0-3.5h0m0-4.2h0m0-3.9h0m0-3.1h0m0-4.1h0m0-3.3h0m0-3.7h0m0-3.9h0m0-3.9h0m0-3.6h0m0-3.4h0m0-3.1h0m0-3.9h0m0-9.9h0m0-3.5h0m0-6.6h0m0-3.6h0m0-3h0m0-3.9h0m0-7.3h0m0-3.6h0m0-3.8h0m0-3.4h0m0-3.7h0m0-1h0m2.3 363.5h0m0 2.8h0m0-152.9h0m0-3.8h0m0-3.2h0m0-3.1h0m0-3.5h0m0-3.6h0m0-3.7h0m0-3.3h0m0-3.5h0m0-4h0m0-3.5h0m0-4h0m0-3.5h0m0-3.7h0m0-3.2h0m0-3.9h0m0-3.1h0m0-4.1h0m0-4h0m0-4h0m0-7.4h0m0-4.1h0m0-4.2h0m0-4h0m0-3.7h0m0-4.2h0m0-3.3h0m0-3.2h0m0-3.7h0m0-3.5h0m0-3.4h0m0-4.1h0m0-3.9h0m0-3.2h0m0-3.8h0m0-4.2h0m0-3h0m0-3.9h0m0-3.4h0m0-3.1h0m0-3.2h0m0-3.1h0m0-3.3h0m0-3.3h0m0-3.1h0m0-6.3h0m0-3.3h0m0-3.9h0m0-3.3h0m0-3.9h0m0-3.2h0m0-3.4h0m0-7.2h0m0-3.3h0m0-3.8h0m0-6.5h0m0-3.3h0m2.3 362.7h0m0 3h0m0 3h0m0 2h0m0-138.4h0m0-4h0m0-3.5h0m0-3.4h0m0-3.7h0m0-3h0m0-3.6h0m0-3.4h0m0-3.8h0m0-3.6h0m0-3.8h0m0-4.2h0m0-3.9h0m0-3.4h0m0-3.6h0m0-3.5h0m0-3.6h0m0-3.5h0m0-3.6h0m0-3.7h0m0-3h0m0-3.7h0m0-3h0m0-4.1h0m0-4.1h0m0-3.5h0m0-3.4h0m0-4h0m0-3.6h0m0-3.5h0m0-3.1h0m0-3.1h0m0-3.5h0m0-3.3h0m0-4.1h0m0-3.9h0m0-3.8h0m0-3.6h0m0-3.1h0m0-3.5h0m0-3.9h0m0-3.7h0m0-3.5h0m0-3.4h0m0-4h0m0-3.6h0m0-4h0m0-3.3h0m0-3.4h0m0-3.4h0m0-7.1h0m0-3.7h0m0-3.5h0m0-11.1h0m0-3.3h0m0-3.9h0m2.3 338h0m0 3h0m0 3h0m0 3h0m0 0h0m0-123.2h0m0-3h0m0-3.3h0m0-7.3h0m0-6.6h0m0-4.1h0m0-7.3h0m0-3.1h0m0-3.3h0m0-3.9h0m0-6.4h0m0-6.9h0m0-3.4h0m0-3.8h0m0-3.2h0m2.3 179h0m0 0.3h0m2.3-1.1h0m0 3h0m0 3h0m0 3h0m0 0h0m2.3-9.8h0m0 1.6h0m0-140h0m0-3.7h0m0-3.3h0m0-7.1h0m0-3h0m0-3.2h0m0-4.2h0m0-3.8h0m0-3.3h0m0-4.1h0m0-3.8h0m0-3h0m0-3.1h0m0-4h0m0-4.1h0m0-3.4h0m0-3.9h0m0-4.2h0m0-3.5h0m0-8.1h0m2.3 216.3h0m0 2.6h0m0-133.2h0m0-3h0m0-3.6h0m0-3.8h0m0-3.5h0m0-3h0m0-3.6h0m0-3.3h0m0-3.1h0m0-3.8h0m0-3.9h0m0-3.2h0m0-3.8h0m0-4.1h0m0-3.3h0m0-3.7h0m0-3.4h0m0-4.1h0m0-3.4h0m0-3.3h0m0-3.6h0m0-4.1h0m0-4.1h0m0-4.2h0m0-4.1h0m0-4.2h0m0-3.3h0m0-3.5h0m0-3.3h0m0-3.3h0m0-6.7h0m0-3.5h0m0-3.2h0m0-3.3h0m0-3.3h0m0-3.8h0m0-6.7h0m0-7.5h0m0-4.1h0m0-3.7h0m0-4.1h0m0-3.5h0m0-1.7h0m2.3 291.6h0m0 3h0m0 3h0m0 3h0m0 0h0m0-136h0m0-3.9h0m0-3.5h0m0-3.4h0m0-3.9h0m0-4h0m0-3.6h0m0-3.4h0m0-3.4h0m0-3.9h0m0-3.5h0m0-4.1h0m0-3.1h0m0-3.8h0m0-3.7h0m0-3.9h0m0-3.9h0m0-3.2h0m0-3.8h0m0-4.1h0m0-3.7h0m0-3.2h0m0-3.8h0m0-3.5h0m0-3.1h0m0-3.1h0m0-3.9h0m0-3.2h0m0-4.1h0m0-3.7h0m0-3h0m0-3.7h0m0-3.6h0m0-3.4h0m0-3.9h0m0-4.1h0m0-3.6h0m0-7h0m0-7.1h0m0-7.2h0m0-4h0m0-8.6h0m2.3 292.9h0m0 3h0m0 3h0m0 0.3h0m0-139h0m0-4.1h0m0-3.3h0m0-3.3h0m0-3.5h0m0-3.9h0m0-3h0m0-3.7h0m0-3.5h0m0-3.2h0m0-3.6h0m0-3.3h0m0-3.8h0m0-3.8h0m0-4h0m0-3.9h0m0-3.2h0m0-14.5h0m2.3 205.7h0m0 3h0m0 2.3h0m2.3-4h0m0 1.9h0m0-142.2h0m0-3.1h0m0-4.2h0m0-3.7h0m0-3.6h0m0-7.6h0m0-3.1h0m0-3.2h0m0-3.7h0m0-3.4h0m0-3.6h0m0-3.8h0m0-3h0m0-3.9h0m0-4.2h0m0-4h0m0-3.2h0m0-15.4h0m2.3 218.3h0m0 3h0m0 3h0m0 1.2h0m0-136.4h0m0-3.4h0m0-3.9h0m0-3.5h0m0-4h0m0-3.1h0m0-3.3h0m0-3.7h0m0-3.4h0m0-3.9h0m0-3.7h0m0-3.2h0m0-3.4h0m0-3.2h0m0-3.3h0m0-3.9h0m0-4h0m0-3.8h0m0-4.2h0m0-3.5h0m0-3.5h0m0-3.7h0m0-3.5h0m0-3.4h0m0-3.6h0m0-4.1h0m0-7.6h0m0-8h0m0-3.4h0m0-11.1h0m2.3 250.8h0m0 2.7h0m0-119.2h0m0-3.6h0m0-3.8h0m0-3.6h0m0-3.9h0m0-3.1h0m0-4.1h0m0-4.2h0m0-3.6h0m0-3h0m0-3.7h0m0-3.6h0m0-3.9h0m0-3.1h0m0-3.8h0m0-3.4h0m0-4.1h0m0-4h0m0-3.2h0m0-6.8h0m0-3.8h0m0-3.5h0m0-3.2h0m0-3.3h0m0-3.1h0m0-3.4h0m0-4h0m0-3.3h0m0-3.1h0m0-3.2h0m0-3.2h0m0-3h0m0-15.9h0m0-11h0m0-7.6h0m0-0.6h0m2.3 264.8h0m0 1.5h0m0-118.4h0m0-4.1h0m0-3.8h0m0-3.8h0m0-4h0m0-4h0m0-3.1h0m0-3.2h0m0-3.3h0m0-3.8h0m0-4h0m0-4.1h0m0-3.3h0m0-3.7h0m0-3.4h0m0-3.4h0m0-3.4h0m0-3.6h0m0-3.6h0m0-4.1h0m0-3.9h0m0-4.1h0m0-4.1h0m0-3.2h0m0-4h0m0-3.7h0m0-3.1h0m0-3.9h0m0-7.6h0m0-4h0m0-3.6h0m0-3.5h0m0-7.6h0m0-4.1h0m2.3 247.5h0m0 1.1h0m0-126.1h0m0-3.3h0m0-3h0m0-3.4h0m0-3.5h0m0-3.6h0m0-3.1h0m2.3 145.2h0m0 3h0m0 3h0m0 2.5h0m0-139.8h0m0-3.3h0m0-3.6h0m0-3.3h0m0-4h0m0-3.6h0m0-3.8h0m0-3.3h0m0-4.1h0m0-6.9h0m2.3 167.5h0m0 3h0m0-0.1h0m2.3-2.7h0m0 1.8h0m0-127.8h0m0-3.5h0m0-3.3h0m0-3.3h0m0-4h0m0-4.2h0m0-8.2h0m0-7.5h0m2.3 160.2h0m0 0.8h0m0-116.1h0m0-3.1h0m0-4h0m0-3.4h0m0-3.4h0m0-3.1h0m0-3.7h0m0-3.6h0m0-3.1h0m0-3.5h0m0-3.8h0m0-4h0m0-3.8h0m0-3.4h0m0-3.2h0m0-7.6h0m0-6.1h0m2.3 178.3h0m0 3h0m0 0.8h0m0-112.2h0m0-3.9h0m0-3.7h0m0-3.9h0m0-3.8h0m0-3.3h0m0-3.8h0m0-3.6h0m0-3.7h0m0-4.1h0m0-6.7h0m0-3.3h0m2.3 152.5h0m0 0.4h0m0-106h0m0-3.5h0m0-3.1h0m0-3.5h0m0-4.1h0m0-3h0m0-3.8h0m0-4.1h0m0-3.5h0m0-3.6h0m0-3.9h0m0-3.3h0m0-3.4h0m0-3.4h0m0-3.4h0m0-3.6h0m0-3h0m0-3.8h0m0-3.3h0m0-3.4h0m0-3.5h0m0-3.4h0m0-3.9h0m0-3h0m0-3.5h0m0-3.9h0m0-4h0m0-3.8h0m0-6.5h0m0-3.1h0m0-3.6h0m0-3.4h0m2.3 218.1h0m0 3h0m0 2.9h0m0-111.4h0m0-3.1h0m0-3.9h0m0-3.8h0m0-3.6h0m0-3.7h0m0-3.9h0m0-3.3h0m0-3.9h0m0-3.1h0m0-3.8h0m0-4.2h0m0-3.7h0m0-3.1h0m0-3.7h0m0-4.1h0m0-3.4h0m0-3h0m0-3.2h0m0-3.7h0m0-4.2h0m0-3.4h0m0-3.9h0m0-4.2h0m0-3.7h0m0-3.1h0m0-3.7h0m0-3.8h0m0-3.1h0m0-4.1h0m0-3.6h0m0-4h0m0-3.8h0m0-3.6h0m0-3.6h0m0-4h0m0-3.7h0m0-3.7h0m0-3.4h0m0-3.5h0m0-7.1h0m2.3 255.1h0m0 3h0m0 3h0m0 3h0m0 0h0m0-119h0m0-4.1h0m0-3.6h0m0-4.1h0m0-3.7h0m0-3.1h0m0-3.1h0m0-3.1h0m0-4.1h0m0-3.3h0m0-3.2h0m0-3.8h0m0-3.7h0m0-3.3h0m0-4h0m0-4.1h0m0-3.5h0m0-3.7h0m0-3.5h0m0-3.4h0m0-3.2h0m0-3.9h0m0-4.1h0m0-3.9h0m0-4.1h0m0-3.9h0m0-3.8h0m0-3.4h0m0-3.7h0m0-4.1h0m0-3.7h0m0-3.3h0m0-3.2h0m0-4h0m0-4.1h0m0-4.1h0m0-3.3h0m0-8.2h0m0-3.1h0m0-1.6h0m2.3 255.4h0m0 0h0m0-119.9h0m0-3.4h0m0-3.8h0m0-3.8h0m0-3.7h0m0-3.4h0m0-3.4h0m0-3.4h0m0-3.1h0m0-3.8h0m0-3.9h0m0-3.3h0m0-3.4h0m0-3.7h0m0-3.2h0m0-3.7h0m0-3.7h0m0-3.5h0m0-3.1h0m0-3.2h0m0-3.9h0m0-3.2h0m2.3 193.7h0m0 3h0m0 0.3h0m0-129.4h0m0-3.1h0m0-3.4h0m0-4.1h0m0-3.4h0m0-3h0m0-3h0m0-3.9h0m0-3.5h0m0-3.3h0m0-3.4h0m0-3h0m0-7.3h0m0-3.4h0m2.3 174.1h0m0 1.8h0m0-125.9h0m0-3.3h0m0-3.7h0m0-3.9h0m0-3.5h0m0-3.8h0m0-3.1h0m0-3h0m0-3.3h0m0-3.8h0m0-3.6h0m0-3.6h0m0-6.8h0m2.3 169.8h0m0 3h0m0 2.5h0m0-128.8h0m0-3.3h0m0-3.6h0m0-4.1h0m0-3.7h0m2.3 137.9h0m0 3h0m0 3h0m0 3h0m0 0h0m0-135h0m0-3.2h0m0-4.1h0m0-3.5h0m0-3.4h0m0-3h0m0-3.3h0m0-4h0m0-3.7h0m0-3.6h0m0-3.7h0m0-3.6h0m0-4h0m0-3.1h0m0-3.4h0m0-4.2h0m0-4.1h0m0-3h0m0-3.3h0m0-3.7h0m0-3.7h0m0-3.4h0m0-3.1h0m0-3.7h0m0-3.8h0m0-11.8h0m0-6.8h0m2.3 229.5h0m0 3h0m0 0.5h0m0-127.9h0m0-3.5h0m0-4.1h0m0-3.9h0m0-6.9h0m0-3.1h0m0-3.6h0m0-4h0m0-3.1h0m0-3.4h0m0-3.5h0m0-3.1h0m0-3.6h0m0-4.1h0m0-3.1h0m0-3.9h0m0-4.2h0m0-6.9h0m0-3.8h0m0-3.9h0m0-4h0m0-3.3h0m0-3.5h0m0-3.3h0m0-3h0m0-4.1h0m0-4h0m0-4h0m0-3.8h0m0-3.9h0m0-3.5h0m0-7.1h0m0-4.2h0m0-10.8h0m0-2.8h0m2.3 264.7h0m0 3h0m0 3h0m0 3h0m0 0h0m0-128h0m0-3h0m0-3.8h0m0-4.1h0m0-3.3h0m0-3.3h0m0-3.1h0m0-7.1h0m0-3.9h0m0-3.1h0m0-3.4h0m0-3.7h0m0-3.4h0m0-4.2h0m0-3.4h0m0-3.6h0m0-4.1h0m0-4.1h0m0-3.4h0m0-3.1h0m0-3.8h0m0-3.3h0m0-3.2h0m0-3.2h0m0-3.9h0m0-6.7h0m0-3h0m0-3.8h0m0-7.2h0m0-3.7h0m2.3 231.2h0m0 3h0m0 3h0m0 3h0m0 0h0m0-132.2h0m0-3.5h0m2.3 126h0m0 2.9h0m0-128.9h0m0-3h0m0-3.9h0m0-3.6h0m0-3.4h0m0-3.3h0m0-4h0m0-3.6h0m0-3.4h0m0-3.2h0m0-3.6h0m0-3.3h0m0-3.4h0m0-3.2h0m0-4.1h0m0-3.6h0m0-3.3h0m0-3.3h0m0-3.3h0m0-3h0m0-3.4h0m0-3.4h0m0-3.5h0m0-3.2h0m0-3.3h0m0-4.1h0m0-3.3h0m0-3.8h0m0-3.6h0m0-10.8h0m0-3.9h0m2.3 237.2h0m0 0.2h0m0-122.1h0m0-3.2h0m0-4.1h0m0-4h0m0-3.9h0m0-4h0m0-3.9h0m0-3.1h0m0-4.1h0m0-3.2h0m0-3.9h0m0-3.8h0m0-4.1h0m0-3.2h0m0-4.1h0m0-3.9h0m0-3.8h0m0-3.6h0m0-3.4h0m0-3.4h0m0-3.2h0m0-3.5h0m0-3.5h0m0-3.7h0m0-3.3h0m0-3.3h0m0-3.8h0m0-3.7h0m0-11.2h0m0-7.6h0m0-4.2h0m0-3h0m0-6h0m2.3 251.9h0m0 3h0m0 3h0m0 3h0m0 0h0m0-125h0m0-3.5h0m0-3.9h0m0-3.1h0m0-3.9h0m0-3.1h0m0-4.2h0m0-3.5h0m0-3.3h0m0-3.1h0m0-3.8h0m0-4h0m0-3.1h0m0-3.1h0m0-4h0m0-3.1h0m0-4h0m0-3.3h0m0-3.9h0m0-3.8h0m0-3.3h0m0-3.4h0m0-3.1h0m0-3.2h0m0-6.6h0m0-3.9h0m0-11h0m2.3 217.5h0m0 3h0m0 3h0m0 3h0m0 0h0m0-121.7h0m0-3.2h0m0-4h0m0-3.7h0m2.3 122.9h0m0 3h0m0 3h0m0 1.7h0m0-117.8h0m0-3.9h0m0-3.5h0m0-3.6h0m0-3.5h0m0-4.1h0m0-4h0m0-3.1h0m0-3.6h0m0-3.6h0m0-4h0m0-4h0m0-3.6h0m0-3.1h0m0-3.6h0m0-3.2h0m0-7.2h0m2.3 170.1h0m0 3h0m0 3h0m0 2.5h0m0-119.9h0m0-3.6h0m0-3.5h0m0-3.2h0m0-4.1h0m0-3.6h0m0-3.4h0m0-3.9h0m0-4.1h0m0-3.3h0m0-3.6h0m0-3.5h0m0-3.6h0m0-3.6h0m0-4.1h0m0-3.8h0m0-3.5h0m0-3.7h0m0-3.5h0m0-3.7h0m0-4h0m0-3.7h0m0-3.9h0m0-3.1h0m0-4.1h0m0-3.9h0m0-3.6h0m0-6.7h0m0-7.4h0m0-3.7h0m0-3.3h0m0-3.5h0m0-7.4h0m2.3 236.8h0m0 1.3h0m0-117.4h0m0-3.2h0m0-3.9h0m0-3.2h0m0-3.2h0m0-3.9h0m0-3.7h0m0-3.7h0m0-4.1h0m0-4.1h0m0-3.4h0m0-4.2h0m0-4h0m0-3.8h0m0-3.8h0m0-6.7h0m0-3.9h0m0-3.7h0m0-3.5h0m0-3.5h0m0-3.7h0m0-3.5h0m0-3.9h0m0-3.9h0m0-3.3h0m0-3.4h0m0-7.3h0m0-3.5h0m0-11.4h0m0-7.5h0m2.3 238.8h0m0 2.7h0m0-122.7h0m0-3.2h0m0-3.1h0m0-3.4h0m0-3.8h0m0-3.1h0m0-3.8h0m0-3.3h0m0-3.4h0m0-3.8h0m0-7.2h0m0-3.3h0m0-3.8h0m0-3.7h0m0-3.5h0m0-3.6h0m0-4h0m0-3.7h0m0-4h0m0-3.1h0m0-3.7h0m0-7.7h0m0-4h0m0-3.6h0m0-3.2h0m0-3.1h0m0-3.1h0m0-6.5h0m0-3.7h0m0-11.3h0m0-3.4h0m2.3 241.9h0m0 3h0m0 3h0m0 3h0m0 0h0m0-131.1h0m0-4.2h0m0-3.8h0m0-3.6h0m0-3.7h0m0-3.5h0m0-3.5h0m0-3.5h0m0-4.2h0m0-3.3h0m0-3.5h0m2.3 156.7h0m0 3h0m0 2.2h0m0-128.9h0m0-3.6h0m0-3.7h0m0-3.8h0m0-4.1h0m0-3.9h0m0-3.9h0m0-4.2h0m0-4h0m0-3.4h0m0-4.1h0m0-4.1h0m0-3.3h0m0-4.1h0m0-3.4h0m0-4.1h0m0-3.9h0m0-3.5h0m0-3.4h0m0-3.6h0m0-3.2h0m0-3.5h0m0-4.1h0m0-3.1h0m0-3.3h0m0-3.8h0m0-7h0m0-6.7h0m0-3.3h0m0-3.1h0m0-3.5h0m0-3.1h0m2.3 241.3h0m0 3h0m0 3h0m0 1.2h0m0-136h0m0-3.9h0m0-3.6h0m2.3 134.1h0m0 3h0m0 2.5h0m0-133.2h0m0-3.5h0m0-3.6h0m0-7.8h0m0-3.4h0m2.3 143.7h0m0 3h0m0 3h0m0 0.4h0m0-138.3h0m0-3.9h0m0-4.1h0m0-3.3h0m0-3.9h0m0-3.4h0m0-3.7h0m0-4.1h0m0-3.8h0m0-3.3h0m0-3.4h0m0-4h0m0-3.6h0m0-6.7h0m0-3.4h0m0-3.5h0m0-3h0m0-3.4h0m0-4.1h0m0-7.1h0m0-3h0m0-3.3h0m0-3.7h0m0-3.3h0m0-4h0m0-4.2h0m0-3h0m0-3.1h0m0-3.7h0m0-3.5h0m0-3.6h0m0-3.6h0m0-3.2h0m0-3.4h0m0-3.3h0m0-3.5h0m0-3.4h0m0-3.1h0m0-7.6h0m0-6.7h0m0-7.4h0m0-3.8h0m0-3.7h0m0-4.1h0m0-6.9h0m0-3.3h0m2.3 310.8h0m0 2.6h0m0-138.7h0m0-3.4h0m0-3.4h0m0-3.1h0m0-4.1h0m0-3.7h0m0-4h0m0-3.5h0m0-3.4h0m0-4h0m0-3.9h0m0-3.9h0m0-3.4h0m0-4.1h0m0-3.5h0m0-3.9h0m0-3h0m0-3.3h0m0-3.4h0m0-3.9h0m0-3.3h0m0-3.2h0m0-4.2h0m0-3.9h0m0-3.7h0m0-3h0m0-3.6h0m0-4.1h0m0-3.2h0m0-4.1h0m0-3.2h0m0-7.2h0m0-3.5h0m0-3.6h0m0-15.1h0m0-3.7h0m2.3 275.5h0m0 3h0m0 3h0m0 3h0m0 0h0m0-149.9h0m0-3h0m0-3.2h0m0-4.2h0m0-3.5h0m0-3.2h0m0-4.1h0m0-3.4h0m0-3.5h0m0-3.4h0m0-3.7h0m0-3.1h0m0-4h0m0-3.3h0m0-3.8h0m0-3.5h0m0-3.6h0m0-3.3h0m0-3.2h0m0-3.5h0m0-3.1h0m0-3.5h0m0-3.3h0m0-8.1h0m0-3.8h0m0-4.1h0m0-3.3h0m2.3 234.6h0m0 3h0m0 3h0m0 2.5h0m0-153.6h0m0-3.7h0m0-3.3h0m0-3.1h0m0-3.3h0m0-3.5h0m0-3.7h0m0-3.8h0m0-3.6h0m0-3.8h0m0-3.7h0m0-3.5h0m0-3.1h0m0-3.9h0m0-3.3h0m0-3.4h0m0-4.2h0m0-3.6h0m0-3.1h0m0-3.9h0m0-3h0m0-4.2h0m0-3.5h0m0-4.2h0m0-3h0m0-3.9h0m0-3.7h0m0-3.4h0m0-3h0m0-3.4h0m0-4h0m0-6.9h0m0-3.7h0m0-9.7h0m0-3.1h0m0-3.3h0m0-3.6h0m0-3.9h0m2.3 284h0m0 3h0m0 3h0m0 0.5h0m0-151.6h0m0-4h0m0-3.1h0m0-6.8h0m0-3.6h0m0-3.9h0m0-3h0m0-3.5h0m0-3.3h0m0-4.2h0m0-3.8h0m0-3.9h0m0-3.4h0m0-3.3h0m0-3.6h0m0-3.3h0m0-3.8h0m0-4.1h0m0-3.9h0m0-3.1h0m0-6.9h0m0-3.3h0m0-3.2h0m0-3.7h0m0-3.6h0m0-3.9h0m0-3.8h0m0-3.5h0m0-3.4h0m0-6.9h0m0-4.1h0m0-3.8h0m0-3.8h0m0-3.7h0m0-3.9h0m0-3.3h0m0-4.2h0m0-3.9h0m0-4.1h0m0-4.1h0m0-3.2h0m0-3.2h0m0-3.6h0m0-9.7h0m0-3.1h0m0-3.8h0m0-3.4h0m0-3.1h0m0-3.7h0m0-3.4h0m0-3.5h0m2.3 339.4h0m0 3h0m0 0.7h0m0-147.3h0m0-4.1h0m0-3.6h0m0-4.2h0m0-3.2h0m0-3h0m0-3.6h0m0-3.4h0m0-3.9h0m0-4h0m0-3.7h0m0-3.7h0m0-3.1h0m0-3.5h0m0-4h0m0-3.1h0m0-3.4h0m0-3.9h0m0-3.8h0m0-4.1h0m0-4h0m0-3.5h0m0-3.4h0m0-3.2h0m0-3.1h0m0-3.1h0m0-4h0m0-4h0m0-3.2h0m0-3.8h0m0-4h0m0-6.6h0m0-3.2h0m0-3.9h0m0-7.5h0m0-3.4h0m0-3.6h0m0-3.9h0m0-4h0m0-3.4h0m0-3.5h0m0-3h0m0-7.9h0m0-4h0m0-3.1h0m0-3.2h0m0-3.7h0m0-7.6h0m0-4h0m0-7.9h0m0-3.8h0m0-6.9h0m0-4.2h0m0-3.1h0m0-3.9h0m0-3.2h0m0-3.4h0m2.3 366.1h0m0 3h0m0 0.4h0m0-142.7h0m0-3.2h0m0-4.2h0m0-4.2h0m0-3.6h0m0-3.2h0m0-3.4h0m0-3.8h0m0-3.2h0m0-3.7h0m0-3.2h0m0-4.1h0m0-4.1h0m0-3.6h0m0-3.9h0m0-4.1h0m0-3.5h0m0-3h0m0-3.9h0m0-4h0m0-4.2h0m0-3.5h0m0-3.1h0m0-3.3h0m0-3.1h0m0-3.5h0m0-3.3h0m0-3.8h0m0-4.1h0m0-4.1h0m0-3.7h0m0-3.8h0m0-3.8h0m0-4.1h0m0-3.4h0m0-10.7h0m0-11.1h0m0-3.5h0m0-3.5h0m0-4h0m0-3.8h0m0-4.1h0m0-3.5h0m2.3 314.8h0m0 1.4h0m0-141.4h0m0-3.2h0m0-4h0m0-3.2h0m0-3.9h0m0-4.1h0m0-3.9h0m0-3.4h0m0-3.1h0m0-3.7h0m0-7.2h0m0-3.6h0m0-3.7h0m0-3.3h0m0-3h0m0-3.5h0m0-6.6h0m0-3.9h0m0-3.9h0m0-3.8h0m0-3.1h0m0-3.9h0m0-3.6h0m0-3.4h0m0-4h0m0-4h0m0-3h0m0-3.5h0m0-3h0m0-4h0m0-3.2h0m0-3.6h0m0-3.1h0m0-3.4h0m0-4h0m0-3.6h0m0-11.2h0m0-3.5h0m0-3.1h0m0-3.2h0m0-3.1h0m0-3.6h0m0-4h0m0-3.6h0m0-4.1h0m0-4.1h0m0-10.6h0m0-3.4h0m0-18.7h0m0-3.4h0m0-3.9h0m0-4h0m0-3.3h0m0-3.5h0m0-2.2h0m2.3 379.4h0m0 3h0m0 0.2h0m0-147.2h0m0-3.8h0m0-3.3h0m0-3h0m0-3.8h0m0-3.3h0m0-3.3h0m0-3.2h0m0-3.5h0m0-3.7h0m0-3.1h0m0-3.6h0m0-3.7h0m0-3.9h0m0-3.9h0m0-4.1h0m0-4h0m0-3.9h0m0-3.6h0m0-3.1h0m0-3.4h0m0-3.7h0m0-3.6h0m0-3.1h0m0-3.7h0m0-4.1h0m0-3.5h0m0-4.2h0m0-3.9h0m0-3h0m0-4h0m0-3.8h0m0-3.7h0m0-3h0m0-3.6h0m0-6.9h0m0-3.4h0m0-4.1h0m0-3.3h0m0-3.6h0m0-3.8h0m0-4.1h0m0-13.8h0m0-10.5h0m0-3.2h0m0-3.8h0m0-11.5h0m0-3.2h0m2.3 352.4h0m0 2.1h0m0-143.4h0m0-3.1h0m0-3.2h0m0-3h0m0-3.3h0m0-3.5h0m0-3.7h0m0-3.1h0m0-4h0m0-3.6h0m0-3h0m0-3.7h0m0-3.1h0m0-3.7h0m0-3.8h0m0-3.1h0m0-4.2h0m0-4.1h0m0-3.1h0m0-4.1h0m0-3.8h0m0-3h0m0-3.5h0m0-3.3h0m0-3.1h0m0-3.5h0m0-3.1h0m0-4.1h0m0-3.1h0m0-3.3h0m0-3.4h0m0-3.7h0m0-3.6h0m0-3.3h0m0-3.8h0m0-3.7h0m0-7.8h0m0-4.1h0m0-3.9h0m0-3.3h0m0-3h0m0-3.5h0m0-4h0m2.3 289.1h0m0 3h0m0 0.3h0m0-138.2h0m0-3.9h0m0-4h0m0-3.3h0m0-3.6h0m0-3.1h0m0-3.6h0m0-3.7h0m0-4h0m0-3.1h0m0-4h0m0-3.1h0m0-3.5h0m0-3.1h0m0-3.7h0m0-3.1h0m0-3.7h0m0-3.5h0m0-3.8h0m0-3.5h0m0-4.1h0m0-3.9h0m0-4.2h0m0-3.7h0m0-3.7h0m0-3.8h0m0-3.7h0m0-3.2h0m0-3h0m0-7.2h0m0-3.9h0m0-3.3h0m0-4h0m0-3.2h0m0-3.8h0m0-13.8h0m0-4h0m0-6.8h0m0-3.5h0m0-3.6h0m0-7.6h0m2.3 296.7h0m0 3h0m0 3h0m0 0.5h0m0-136.7h0m2.3 126.7h0m0 3h0m0 2.2h0m0-136h0m0-3.6h0m0-3.3h0m0-3.9h0m0-3.9h0m2.3 142h0m0 3h0m0 0.4h0m0-131.8h0m0-3.7h0m0-3.1h0m0-3.7h0m0-3.4h0m0-4.1h0m0-3.9h0m0-3.7h0m0-4h0m0-4h0m0-3.8h0m0-4.1h0m0-3.3h0m0-7.7h0m0-3.4h0m0-3.3h0m2.3 188.4h0m0 3h0m0 3h0m0 3h0m0-0.1h0m0-140.9h0m0-4h0m0-3.7h0m0-4.1h0m0-3.9h0m0-3.8h0m0-3.5h0m0-3.3h0m0-3.2h0m0-3.4h0m0-3.1h0m0-3.7h0m0-3.5h0m0-3.4h0m0-4h0m0-3.6h0m0-3.3h0m0-3.2h0m0-4.1h0m0-4.1h0m0-3h0m0-4.1h0m0-7h0m0-3.3h0m0-4h0m0-3.6h0m0-3h0m0-3.6h0m0-4.1h0m0-3.3h0m0-4.1h0m0-4.1h0m0-3.4h0m0-3.8h0m0-4.1h0m0-3h0m0-3h0m0-4h0m0-3h0m0-4.1h0m0-3.9h0m0-4.2h0m0-3.6h0m0-7.2h0m0-4h0m0-3.4h0m0-3h0m0-3.4h0m0-4h0m0-4.2h0m0-7.7h0m2.3 328h0m0 3h0m0 0.7h0m0-146.4h0m0-3.5h0m0-3.8h0m0-3.7h0m0-3.9h0m0-3.7h0m0-3.1h0m0-3.9h0m0-3.6h0m0-4.2h0m0-4h0m0-3.8h0m0-4.2h0m0-3.8h0m0-3.1h0m0-3.6h0m0-3.9h0m0-3.5h0m0-4.2h0m0-3.2h0m0-3.8h0m0-3.9h0m0-3.4h0m0-3.2h0m0-4h0m0-3.2h0m0-3.2h0m0-3.2h0m0-4.1h0m0-4.1h0m0-3.2h0m0-3.9h0m0-3.2h0m0-4.2h0m0-3.6h0m0-3.8h0m0-4.2h0m0-3.3h0m0-3.9h0m0-3.4h0m0-3.6h0m0-3.2h0m0-3.8h0m0-3.8h0m0-3.4h0m0-3.1h0m0-3.4h0m0-6.3h0m0-3.5h0m0-8h0m0-8.1h0m0-8.3h0m0-3.6h0m0-3.4h0m0-4h0m0-3.2h0m0-3.8h0m0-1.4h0m2.3 367h0m0 1.4h0m0-148.5h0m0-4h0m0-4h0m0-4.2h0m0-3.9h0m0-3.8h0m0-7.8h0m0-4h0m0-3.6h0m0-4h0m0-3.5h0m0-3.5h0m0-3.7h0m0-4.1h0m0-3.2h0m0-3.9h0m0-3.5h0m0-3.1h0m0-4h0m0-3.7h0m0-3.7h0m0-4.2h0m0-3.6h0m0-3.1h0m0-3.3h0m0-3.2h0m0-4.1h0m0-3.6h0m0-3.3h0m0-4.2h0m0-3.4h0m0-3.1h0m0-3.4h0m0-3.4h0m0-6.3h0m0-3.1h0m0-3.2h0m0-4h0m0-3.2h0m0-6.4h0m0-4.1h0m0-6.9h0m0-3.2h0m0-11.4h0m0-6.8h0m0-3.3h0m0-3.8h0m0-3.5h0m2.3 344.4h0m0 3h0m0 3h0m0 3h0m0 0h0m0-134.5h0m0-3.7h0m0-3.1h0m0-4h0m0-3.7h0m0-3.3h0m0-3.2h0m0-3.1h0m0-3.2h0m0-3.4h0m0-3.6h0m0-3.3h0m0-3.6h0m0-3.1h0m0-3.6h0m0-3.5h0m0-4.2h0m0-3.7h0m0-3.1h0m0-6.2h0m0-3.7h0m0-3.8h0m0-3.4h0m0-3.6h0m0-3.6h0m0-3.1h0m0-3.1h0m0-3.8h0m0-3.9h0m0-3.8h0m0-3.2h0m0-4.1h0m0-4.1h0m0-3.3h0m0-3.4h0m0-3.4h0m0-9.6h0m0-3.3h0m0-3.9h0m0-11.1h0m0-3.2h0m0-3.7h0m2.3 289.1h0m0 0.8h0m0-111.8h0m0-3.3h0m0-3.8h0m0-4.2h0m0-3.3h0m0-3.6h0m2.3 128.3h0m0 0.8h0m0-126.3h0m0-3.8h0m0-3.1h0m0-3.2h0m0-4h0m0-3.1h0m0-3.1h0m0-3.8h0m0-3.7h0m0-3.6h0m0-4.2h0m0-4h0m0-3.6h0m0-11.2h0m2.3 174.1h0m0 3h0m0 3h0m0 3h0m0 0h0m0-140.4h0m0-4.2h0m0-3.7h0m0-3.8h0m0-3.1h0m0-7.6h0m0-3.2h0m0-3.3h0m0-3.1h0m0-3.3h0m0-3.7h0m0-4.1h0m0-11.5h0m0-6.6h0m2.3 186.9h0m0 3h0m0 0.7h0m0-130.9h0m0-3.8h0m0-3.2h0m0-3.6h0m0-3.2h0m0-3.5h0m0-3.4h0m0-3h0m0-3.2h0m0-3.4h0m0-3.1h0m0-3.5h0m0-6.6h0m0-7.3h0m2.3 172.2h0m0 1.3h0m0-124.7h0m0-3.5h0m0-3.8h0m0-3.1h0m0-3h0m0-3.5h0m0-3.7h0m2.3 138.3h0m0 1.6h0m0-134.9h0m0-3.9h0m0-3.4h0m0-3.3h0m0-4.1h0m0-4.1h0m0-3.8h0m0-3.2h0m0-3.8h0m0-3.1h0m0-4.1h0m0-4.2h0m0-3.7h0m0-4h0m0-4h0m0-3.3h0m0-3.6h0m0-4h0m0-3.6h0m0-3.9h0m0-7.3h0m0-10.7h0m0-3.7h0m2.3 222.9h0m0 3h0m0 3h0m0 3h0m0 0h0m0-152.9h0m0-3.6h0m0-3h0m0-3.3h0m0-3.5h0m0-3.3h0m0-4h0m0-3h0m0-3.7h0m0-3.9h0m0-3.8h0m0-3.5h0m0-3.1h0m0-3.5h0m0-3.4h0m0-3.4h0m0-4.2h0m0-3.7h0m0-4.2h0m0-3.6h0m0-3.3h0m0-4h0m0-3.1h0m0-3.1h0m0-3.3h0m0-3.6h0m0-3.6h0m0-4.1h0m0-3.7h0m0-4h0m0-4.2h0m0-3.5h0m0-3.9h0m0-3.5h0m0-4.1h0m0-3.8h0m0-3.7h0m0-3.3h0m0-3.9h0m0-4h0m0-7.3h0m0-7.3h0m0-3h0m0-3.3h0m0-4h0m0-6.7h0m0-3h0m0-3.3h0m2.3 329.7h0m0 3h0m0 0.4h0m0-151.9h0m0-3.4h0m0-3.6h0m0-3.6h0m0-4.1h0m0-4h0m0-3.6h0m0-3.2h0m0-3.8h0m0-3.4h0m0-4.1h0m0-3.2h0m0-4h0m0-7.6h0m0-3.8h0m0-4.1h0m0-3.8h0m0-3.1h0m0-3.5h0m0-3.5h0m0-3.9h0m0-4.1h0m0-3.7h0m0-4.2h0m0-3.6h0m0-3.7h0m0-3.7h0m0-4.2h0m0-7.6h0m0-3.3h0m0-4h0m0-3.9h0m0-3.2h0m0-3.6h0m0-3h0m0-3.1h0m0-3.2h0m0-3.4h0m0-3.8h0m0-4h0m0-3.5h0m0-4.1h0m0-3.9h0m0-3.6h0m0-18.9h0m0-3.5h0m0-3.1h0m0-16.6h0m2.3 362.8h0m0 3h0m0 3h0m0 3h0m0 0h0m0-154h0m0-3.6h0m0-3.9h0m0-3.6h0m0-3.2h0m0-3h0m0-3.8h0m0-3.4h0m0-8.1h0m0-7.6h0m0-4.2h0m0-3h0m0-4.1h0m0-4.1h0m0-3.9h0m0-3h0m0-4.1h0m0-3.2h0m0-3.9h0m0-3.9h0m0-4.2h0m0-4.1h0m0-3.2h0m0-3.8h0m0-3.8h0m0-3.4h0m0-4h0m0-3.7h0m0-4.1h0m0-3.1h0m0-3.6h0m0-3.5h0m0-3.8h0m0-3.7h0m0-3.4h0m0-3.3h0m0-4.1h0m0-3.5h0m0-3.9h0m0-4h0m0-4.1h0m0-4.1h0m0-6.5h0m2.3 318h0m0 2.9h0m0-142.3h0m0-3.7h0m0-3.6h0m0-3.4h0m0-3.5h0m0-3.9h0m0-3.6h0m0-7.2h0m0-4h0m0-3.2h0m0-3.5h0m0-4.1h0m0-3h0m0-4h0m0-3.6h0m0-4h0m0-3.5h0m0-3.6h0m0-4.1h0m0-4.1h0m0-3.9h0m0-3h0m0-3.2h0m0-3.2h0m0-3h0m0-3.1h0m0-3h0m0-3.5h0m0-3.5h0m0-3.1h0m0-3.2h0m0-3.3h0m0-7.3h0m0-3.8h0m0-4.1h0m0-4.1h0m0-3.1h0m0-3.5h0m0-3.8h0m0-4.1h0m0-3.1h0m0-3.1h0m0-4.1h0m0-3h0m0-4.2h0m0-4.2h0m0-3.8h0m0-3.5h0m0-3.9h0m0-3.7h0m0-3.9h0m0-4.1h0m0-14.6h0m0-3.2h0m0-4.2h0m0-0.9h0m2.3 359.9h0m0 3h0m0 1.1h0m0-140.1h0m0-3.8h0m0-3.3h0m0-4.1h0m0-3.8h0m0-3.1h0m0-3.3h0m0-3.9h0m0-3.9h0m0-3.5h0m0-3.1h0m0-3.7h0m0-3.8h0m0-4h0m0-3.4h0m0-4.1h0m0-3.5h0m0-4.1h0m0-7.2h0m0-3.3h0m0-3.2h0m0-3.8h0m0-3.5h0m0-3.3h0m0-3.5h0m0-4.1h0m0-3.7h0m0-3.8h0m0-8h0m0-3.5h0m0-3.8h0m0-3.4h0m0-3.6h0m0-3.6h0m0-4h0m0-3.8h0m0-3.3h0m0-3.4h0m0-3.4h0m0-3.2h0m0-3.2h0m0-3.8h0m0-3.5h0m0-3.4h0m0-7.6h0m0-3.4h0m0-3.7h0m0-4h0m0-6.8h0m2.3 330.7h0m0 3h0m0 2.1h0m0-122.3h0m0-3h0m0-4.1h0m0-4.1h0m0-3.5h0m0-3.6h0m0-3.8h0m0-3.9h0m0-3.5h0m0-3h0m0-3.3h0m0-3.3h0m0-3.9h0m0-4.1h0m0-3.7h0m0-3.4h0m0-3.9h0m0-3.5h0m0-3h0m0-3.8h0m0-3.8h0m0-3.5h0m0-3.6h0m0-3.3h0m0-3.4h0m0-4h0m0-3.3h0m0-3.7h0m0-3.3h0m0-3.3h0m0-3.8h0m0-3.4h0m0-10.5h0m0-3.8h0m0-3.5h0m0-3.1h0m0-3h0m0-3.8h0m0-3.8h0m0-3.8h0m2.3 262.4h0m0 1h0m0-116.6h0m0-4h0m0-3.9h0m0-3.3h0m2.3 125.8h0m0 0.1h0m0-112.1h0m0-3.3h0m0-3.4h0m0-3.7h0m0-4.1h0m0-3.1h0m2.3 128.5h0m0 2.7h0m0-110.9h0m0-3.7h0m0-3.5h0m0-3.6h0m0-7.1h0m0-3.8h0m0-3.1h0m0-3.5h0m0-3.7h0m0-3.6h0m0-3.2h0m0-3.7h0m0-3.5h0m0-3.1h0m0-4h0m0-3.9h0m0-3.9h0m0-3.6h0m0-3.7h0m0-3.8h0m0-3.5h0m0-3.9h0m0-3.2h0m0-4h0m0-4h0m0-3.9h0m0-3.4h0m0-3.2h0m0-3.5h0m0-3.5h0m0-7.2h0m0-6.5h0m0-7.5h0m2.3 236.5h0m0 0.2h0m0-110h0m0-3.9h0m0-3.4h0m0-3.1h0m0-3h0m0-4h0m0-3.9h0m0-3.2h0m0-3h0m0-3.4h0m0-3.8h0m0-3.9h0m0-3.5h0m0-3.2h0m0-3.2h0m0-4.2h0m0-3h0m0-3.6h0m0-4h0m0-3.2h0m0-3.2h0m0-3.4h0m0-3.2h0m0-3.1h0m0-3.3h0m0-3.7h0m0-3.8h0m0-3.3h0m0-3.8h0m0-3.2h0m0-3.3h0m0-3.8h0m0-3.1h0m0-3.1h0m0-3.9h0m0-3.1h0m0-3.5h0m0-3.4h0m0-7.3h0m0-3.3h0m0-3.7h0m0-4.2h0m0-4.1h0m0-3.3h0m0-7.7h0m0-7.7h0m0-3.6h0m0-10.2h0m0-3.1h0m0-0.5h0m2.3 295.2h0m0 0.6h0m0-115.1h0m0-3.4h0m0-4h0m0-4.1h0m0-3.8h0m0-3.1h0m0-3.9h0m0-4h0m0-4.1h0m0-7.6h0m0-3.9h0m0-3.9h0m0-3.9h0m0-3.4h0m0-4.1h0m0-4.1h0m0-4.1h0m0-3.7h0m0-4h0m0-3.4h0m0-3.5h0m0-3h0m0-4.1h0m0-3.6h0m0-3.6h0m0-3.6h0m0-3.3h0m0-3.4h0m0-3.5h0m0-3.7h0m0-3.7h0m0-4.1h0m0-3.5h0m0-15.6h0m0-3.1h0m0-7.3h0m0-3.5h0m0-4.1h0m0-3.9h0m2.3 274h0m0 2.3h0m0-121.9h0m0-3.9h0m0-4h0m0-3.3h0m0-3.2h0m0-3.1h0m0-3.7h0m0-4.2h0m0-3.9h0m0-3.3h0m0-3.5h0m0-4h0m0-3.2h0m0-4.1h0m0-3h0m0-3.7h0m0-3.8h0m0-3.9h0m0-3.5h0m0-4.2h0m0-3.4h0m0-3.8h0m0-3.4h0m0-3.3h0m0-4h0m2.3 206h0m0 0.1h0m0-117.5h0m0-3.2h0m0-3.6h0m0-3.1h0m2.3 128.8h0m0 1.5h0m0-121.1h0m0-3.2h0m0-3.1h0m0-4.2h0m0-3.5h0m0-3.2h0m0-4h0m0-3.1h0m0-3.7h0m2.3 149.1h0m0 3h0m0 3h0m0 0.5h0m0-136h0m0-3.3h0m0-3.3h0m0-3.8h0m0-3.5h0m2.3 144.9h0m0 0.8h0m0-139.5h0m0-3.3h0m0-3.1h0m2.3 146.9h0m0 3h0m0 3h0m0 2.4h0m2.3-9.5h0m0 1.5h0m0-135.9h0m0-3.6h0m2.3 136.3h0m0 3h0m0 3h0m0 0.9h0m0-142h0m0-3.4h0m0-4h0m0-3.3h0m0-3.4h0m0-3.8h0m0-3.3h0m0-3.9h0m0-3.4h0m0-3.9h0m2.3 165.7h0m0 0h0m0-139.8h0m0-4.2h0m0-3.8h0m0-3.8h0m0-3.8h0m2.3 153.6h0m0 1h0m0-143h0m0-3.7h0m0-3.1h0m0-3.2h0m0-3.1h0m0-3.3h0m0-3.6h0m0-7.3h0m0-3.6h0m0-3.4h0m2.3 177.3h0m0 3h0m0 3h0m0 1.6h0m0-145.7h0m0-3h0m0-3.5h0m0-3.3h0m0-3.5h0m0-3.5h0m0-4h0m0-3.7h0m2.3 164.7h0m0 0.5h0m0-125h0m0-3.2h0m0-3.3h0m0-4h0m0-3.1h0m0-3.6h0m0-3.1h0m0-3.9h0m0-4.2h0m0-4.1h0m0-3.1h0m0-4h0m0-3.9h0m0-3.5h0m0-3.4h0m0-3.1h0m0-3.7h0m0-4.2h0m0-3h0m0-3.5h0m0-3.7h0m0-3.9h0m0-3.5h0m0-3.9h0m0-3h0m0-3.5h0m0-3h0m0-3.5h0m0-3.5h0m0-3.7h0m0-3.1h0m0-3.3h0m0-3.9h0m0-3.2h0m0-3h0m2.3 246.1h0m0 3h0m0 2.6h0m0-125.5h0m0-3.4h0m0-3.4h0m0-3.9h0m0-3.4h0m0-3.3h0m0-3.7h0m0-11.7h0m0-3.2h0m0-7.4h0m0-4.1h0m0-3.1h0m0-4h0m0-3.5h0m0-3h0m0-4.2h0m0-3.6h0m0-3.3h0m0-3.3h0m0-3.4h0m0-3.3h0m0-3.1h0m0-4h0m0-3.9h0m0-3.6h0m0-3.4h0m0-3.6h0m0-3.1h0m0-3.7h0m0-7.3h0m0-3.7h0m0-3.8h0m0-10.5h0m0-3.2h0m0-3.4h0m0-2.5h0m2.3 263.7h0m0 1.6h0m0-125.1h0m0-4.1h0m0-3.7h0m0-4.2h0m0-3.7h0m0-4.1h0m0-3.9h0m0-4h0m0-3.5h0m0-3.5h0m0-3.9h0m0-3.6h0m0-3.8h0m0-3.9h0m0-4h0m0-3.9h0m0-3.2h0m0-3.8h0m0-4.2h0m0-3.5h0m0-3.1h0m0-11.3h0m2.3 209h0m0 3h0m0 3h0m0 0.5h0m0-138.4h0m0-3.9h0m2.3 134.4h0m0 3h0m0 1.9h0m0-141.9h0m0-4.2h0m0-3.2h0m0-4.1h0m0-3.6h0m2.3 150.7h0m0 3h0m0 3h0m0 3h0m0 0h0m0-149.1h0m0-3.6h0m0-3.9h0m0-4h0m0-3.4h0m0-3.9h0m0-3.4h0m0-3.5h0m0-3.9h0m2.3 166.5h0m0 3h0m0 0h0m0-141.6h0m0-3.8h0m0-3.1h0m0-3.4h0m0-3.4h0m0-4.1h0m0-3.9h0m0-7.7h0m0-0.1h0m2.3 164.5h0m0 3h0m0 3h0m0 3h0m0 0h0m0-138.4h0m0-3.2h0m0-4.1h0m0-4h0m0-3.3h0m0-3.5h0m0-3.6h0m0-3.5h0m0-3.8h0m2.3 154.8h0m0 3h0m0 1.6h0m0-115h0m0-3.5h0m0-4.2h0m0-3.1h0m2.3 117.6h0m0 3h0m0 3h0m0 3h0m0 0h0m0-100.5h0m0-3.3h0m0-3.4h0m0-3.5h0m2.3 97.4h0m0 3h0m0 0.7h0m0-90.6h0m0-4.1h0m0-3.3h0m0-3.3h0m0-4.1h0m0-3.6h0m2.3 100.7h0m0 3h0m0 2.1h0m0-103.2h0m0-3.6h0m0-3.9h0m0-3.8h0m0-3h0m0-4.1h0m0-3.9h0m0-3.4h0m0-3.5h0m2.3 122.7h0m0 3h0m0 0.3h0m0-116.2h0m0-3.5h0m0-4h0m0-3.2h0m0-4h0m0-3.3h0m0-3.3h0m0-3.1h0m2.3 147.9h0m0 1.5h0m0-130.3h0m0-4h0m0-3h0m0-3.8h0m2.3 150.5h0m0 3h0m0 0.3h0m0-124.4h0m0-4.1h0m0-3.4h0m0-3.4h0m2.3 141.3h0m0 3h0m0 1.8h0m0-105.8h0m0-7.1h0m0-3.7h0m2.3 115.6h0m0 2.2h0m0-90.5h0m0 4h0m2.3 88.3h0m0 0.5h0m0-82.6h0m2.3 86.4h0m0 0h0m0-78.9h0m2.3 82.9h0m0 3h0m0 3h0m0 1.3h0m0-84h0m2.3 76.3h0m0 3h0m0 3h0m0 2.5h0m0-106.4h0m2.3 98.7h0m0 3h0m0 3h0m0 3h0m0 0h0m0-124.1h0m2.3 115.8h0m0 1.9h0m0-117.7h0m2.3 116.6h0m0 1.7h0m0-107.6h0m2.3 107.6h0m0 3h0m0 3h0m0 1.7h0m0-87.7h0m2.3 80.9h0m0 2.1h0m0-81.7h0m2.3 79.3h0m0 0.7h0m0-84h0m2.3 84.1h0m0 3h0m0 2h0m0-93.2h0m2.3 88.8h0m0 3h0m0 2.5h0m0-92.3h0m2.3 89.8h0m0 2.7h0m0-72.4h0m2.3 73.5h0m0 1.9h0m0-52h0m2.3 51.1h0m0 1h0m0-47.1h0m2.3 47.7h0m0 0.2h0m0-38h0m2.3 38.8h0m0 0.1h0m0-36.9h0m2.3 36.9h0m0-33.6h0m2.3 33.4h0m0-26.6h0m2.3 28.5h0m0-21.8h0m2.3 20.3h0m0-16.5h0m2.3 17.1h0m0-15h0m2.3 15.3h0m0-13.8h0m2.3 14.3h0m0-12.8h0m2.3 13.3h0m0-11.5h0m2.3 11.1h0m0-9.7h0m2.3 8.6h0m0-8.2h0m2.3 9.7h0m0-9.3h0m2.3 8.5h0m0-7.9h0m2.3 8.7h0m0-7.9h0m2.3 8.6h0m0-7.7h0m2.3 6.1h0m0-5.8h0m2.3 5.8h0m0-5.7h0m2.3 7.5h0m0-6.9h0m2.3 6.4h0m0-5.9h0m2.3 5.3h0m0-5.5h0m2.3 6.8h0m0-6.9h0m2.3 7.2h0m0-6.5h0m2.3 5.1h0m0-5.1h0m2.3 4.8h0m0-4.4h0m2.3 6.5h0m0-6.1h0m2.3 6.2h0m0-6.5h0m2.3 7.2h0m0-7h0m2.3 8.5h0m0-8.2h0m2.3 8.3h0m0-8.4h0m2.3 7.8h0m0-7.2h0m2.3 6.3h0m0-5.3h0m2.3 5.7h0m0-3.6h0m2.3 3.2h0m0-3h0m2.3 4.6h0m0-4.4h0m2.3 4h0m0-3.9h0m2.3 3h0m0-2.8h0m2.3 3.8h0m0-3.1h0m2.3 3.4h0m0-3.9h0m2.3 3.1h0m0-3.4h0m2.3 3.4h0m0-3.9h0m2.3 4.6h0m0-4.6h0m2.3 5.1h0m0-6.2h0m2.3 6h0m0-6.4h0m2.3 6.1h0m0-6.1h0m2.3 4.9h0m0-3.6h0m2.3 4.5h0m0-3.3h0m2.3 3.9h0m0-4.6h0m2.3 3h0m0-2.8h0m2.3 4.3h0m0-4.6h0m2.3 4.3h0m0-3.8h0m2.3 3.1h0m0-2.6h0m2.3 3.3h0m0-3.3h0m2.3 2.4h0m0-1.6h0m6.9 2.8h0m0-3.3h0m2.3 2h0m0-1.8h0m2.3 2h0m0-2.4h0m2.3 3.1h0m0-3.3h0m2.3 4.2h0m0-4.3h0m2.3 4.4h0m0-4h0m2.3 2.8h0m0-2.2h0m6.9 2.4h0m0-2.7h0m2.3 3.6h0m0-3.8h0m2.3 3.9h0m0-3.7h0m2.3 3.1h0m0-3.6h0m2.3 2.3h0m0-2.5h0m2.3 3.5h0m0-3.5h0m2.3 2.8h0m0-2.2h0m2.3 2.8h0m0-3h0m2.3 3.4h0m0-2.9h0m46 3.3h0m0-3.2h0m2.3 1.4h0m0-2.1h0m2.3 3.3h0m0-3.2h0m2.3 3.8h0m0-3.9h0m2.3 2.5h0m0-1.8h0m11.5 1.6h0m0-1.6h0m2.3 3.4h0m0-3.4h0m2.3 1.9h0m0-2.4h0m161 2h0m0-3.7h0m2.3 3.2h0m0-4.4h0m2.3 4.5h0m0-4h0m2.3 2.9h0m0-3.4h0m2.3 3.9h0m0-3.5h0m2.3 4.2h0m0-4.9h0m2.3 3.3h0m0-3.6h0m2.3 5h0m0-4.5h0m2.3 2.3h0m0-2.7h0m2.3 4.3h0m0-5.4h0m2.3 4.7h0m0-5.1h0m2.3 3.3h0m0-3.9h0m2.3 5.1h0m0-5.3h0m2.3 3.9h0m0-4.6h0m2.3 3.9h0m0-4h0m2.3 4.6h0m0-6.2h0m2.3 5.9h0m0-6.7h0m2.3 7.3h0m0-8h0m2.3 8.6h0m0-7.2h0m2.3 6.3h0m0-4.5h0m2.3 5.2h0m0-4.9h0m2.3 4.5h0m0-4.9h0m2.3 4.3h0m0-5.3h0m2.3 5.5h0m0-5.3h0m2.3 4.3h0m0-4.2h0m2.3 5.3h0m0-5.3h0m2.3 3.5h0m0-4h0m2.3 5.8h0m0-5.8h0m2.3 6.2h0m0-5.5h0m2.3 5.6h0m0-5.3h0m2.3 4.5h0m0-3.8h0m2.3 4h0m0-4.3h0m2.3 3h0m0-2.9h0m2.3 4.7h0m0-4.4h0m2.3 4.1h0m0-4.5h0m2.3 4.2h0m0-7.5h0m2.3 6.6h0m0-9.3h0m2.3 9.2h0m0-10.5h0m2.3 10.2h0m0-9.3h0m2.3 9.9h0m0-7.6h0m2.3 7.7h0m0-6.1h0m2.3 5.7h0m0-5.9h0m2.3 5h0m0-5.7h0m2.3 7.1h0m0-6.3h0m2.3 6.3h0m0-6.5h0m2.3 6.7h0m0-5.8h0m2.3 5h0m0-6.2h0m2.3 6.9h0m0-7.5h0m2.3 7.1h0m0-6.5h0m2.3 6.2h0m0-7h0m2.3 7.1h0m0-6.6h0m2.3 5.8h0m0-7h0m2.3 6.4h0m0-8.7h0m2.3 8h0m0-8.1h0m2.3 7.8h0m0-6.9h0m2.3 6.9h0m0-6.3h0m2.3 5.9h0m0-6.6h0m2.3 6.7h0m0-7.4h0m2.3 6.9h0m0-9.7h0m2.3 11h0m0-34.6h0m2.3 34.1h0m0-32.9h0m2.3 33.2h0m0-35.4h0m2.3 30.1h0m0 0.6h0m0-55.3h0m0 4h0m2.3 50.4h0m0 0.7h0m0-58.8h0m2.3 58h0m0 2.7h0m0-61.5h0m2.3 59.2h0m0 3h0m0 1.2h0m0-60.5h0m2.3 58.5h0m0 0.1h0m0-46.4h0m2.3 45h0m0 2.9h0m0-59.2h0m2.3 55.7h0m0 1h0m0-55.3h0m0 4h0m2.3 50h0m0 0.2h0m0-59.1h0m2.3 58.8h0m0 0.7h0m0-55.9h0m0 4h0m2.3 51.3h0m0 3h0m0 0.5h0m0-62.3h0m2.3 54.9h0m0 3h0m0 0.7h0m0-80.5h0m0 4h0m2.3 71.7h0m0 3h0m0 0.5h0m0-98.4h0m2.3 94.3h0m0 3h0m0 3h0m0 2.4h0m0-102.1h0m2.3 93.1h0m0 0.4h0m0-94.7h0m2.3 93.6h0m0 3h0m0 3h0m0 2.4h0m0-100.1h0m2.3 92.1h0m0 3h0m0 3h0m0 3h0m0-1h0m0-84.4h0m0 4h0m2.3 72.6h0m0 1.4h0m0-75.1h0m2.3 73.4h0m0 0.6h0m0-74.3h0" stroke="#1f77b4" stroke-width="5.4" stroke-linecap="round" fill="none"/>
<path d="M115.8 985.9L115.9 989.1L116.4 1000.6L116.9 1012.1L116.9 1012.4L117.4 1008.2L117.9 1003.6L118.4 999L118.9 994.7L119.4 990.4L119.7 988.1L119.9 989.5L120.4 992.5L120.9 995.6L121.4 998.9L121.5 999.7L121.9 998.9L122.4 997.9L122.9 996.8L123.4 995.7L123.9 994.8L124.4 993.9L124.9 993L125.4 992.1L125.7 991.6L125.9 993L126.4 996L126.9 998.6L127.4 1001.2L127.9 1003.8L128.4 1006.4L128.4 1006.6L128.9 1004.6L129.4 1002.6L129.9 1000.7L130.4 998.3L130.9 995.6L131.2 993.9L131.4 995.1L131.9 997.8L132.4 1000.3L132.9 1002.5L133.4 1004.3L133.9 1006.5L134.2 1007.8L134.4 1006.2L134.9 1002.1L135.4 997.8L135.9 992.9L136.4 987.9L136.5 987L136.9 991.4L137.4 997L137.9 1002.6L138.4 1008L138.8 1012.4L138.9 1011.9L139.4 1009.5L139.9 1007.5L140.4 1005.6L140.9 1003.8L141.1 1003.1L141.4 1003.2L141.9 1003.3L142.4 1003.5L142.9 1003.5L143.4 1003.4L143.9 1003.3L144.4 1003.2L144.6 1003.1L144.9 1002L145.4 1000.2L145.9 998.9L146.4 997.8L146.9 996.6L147.4 995.3L147.9 993.6L148 993.2L148.4 994.6L148.9 996.2L149.4 997.8L149.9 999.4L150.4 1001.1L150.9 1002.8L151 1003.1L151.4 1002.7L151.9 1001.8L152.4 1000.9L152.9 1000L153.4 999.1L153.8 998.5L153.9 998.3L154.4 997.4L154.9 996.4L155.4 995.5L155.9 994.4L156.4 994L156.9 993.5L157.2 993.2L157.4 994.2L157.9 997.6L158.4 1001.1L158.9 1005.6L159.4 1010.4L159.5 1011.7L159.9 1011.5L160.4 1011.2L160.9 1010.9L161.4 1010.7L161.9 1010.4L162.4 1010.1L162.5 1010.1L162.9 1009.3L163.4 1008.4L163.9 1007.4L164.4 1006L164.9 1004.4L165.3 1003.1L165.4 1003.3L165.9 1003.9L166.4 1004.5L166.9 1004.9L167.4 1005.3L167.6 1005.5L167.9 1001.6L168.4 995.1L168.9 988.5L169.4 981.8L169.4 981.2L169.9 984.3L170.4 987.7L170.9 991.6L171.4 995.8L171.9 1000.4L172.4 1005.2L172.7 1007.8L172.9 1006.4L173.4 1003.5L173.9 1000.1L174.4 996.7L174.9 992.9L175.4 989L175.7 987L175.9 987.7L176.4 989.2L176.9 991.3L177.4 993.9L177.9 996.9L178 997.4L178.4 994.6L178.9 991.2L179.4 987.9L179.9 984.1L180.4 980.3L180.9 976.1L181.4 971.9L181.9 967.4L181.9 967.5L182.4 971.3L182.9 975.1L183.4 978.8L183.9 983L184.4 987.4L184.9 991.4L185.4 994.9L185.9 997.8L186 998.6L186.4 996.7L186.9 994.2L187.4 991.2L187.9 987.7L188.3 984.7L188.4 984.4L188.9 981.9L189.4 979.4L189.9 976.4L190.4 973.1L190.9 969.5L191.4 965.9L191.8 962.8L191.9 963.3L192.4 965.8L192.9 967.8L193.4 969.5L193.9 971.3L194.1 972L194.4 974L194.9 977.7L195.4 981.7L195.9 986L196.4 990.5L196.4 990.4L196.9 979.7L197.4 968.8L197.9 957.7L198.4 946.5L198.9 935.6L199.4 924.8L199.9 938.1L200.4 951.5L200.9 965L201.4 977.4L201.9 989.1L202.2 995.2L202.4 994.7L202.9 993.3L203.4 991.7L203.9 989.4L204.4 987.1L204.9 984.9L204.9 984.7L205.4 971.8L205.9 958.5L206.4 945.4L206.9 933.2L207.4 921.2L207.9 908.1L207.9 907.4L208.4 917.8L208.9 927.7L209.4 938.4L209.9 950.8L210.2 959.3L210.4 961.5L210.9 969.1L211.4 976.6L211.9 982.9L212.4 989.1L212.5 990.6L212.9 983.7L213.4 974.2L213.9 965.9L214.4 957.5L214.8 951.3L214.9 950.3L215.4 942.3L215.9 935.2L216.4 928.9L216.9 922.2L217.4 915.2L217.8 908.6L217.9 910.3L218.4 924.1L218.9 938.2L219.4 952.5L219.9 967.3L220.1 974.4L220.4 977.6L220.9 983.2L221.4 988.8L221.8 992.8L221.9 990.1L222.4 980.9L222.9 971.4L223.4 961.5L223.9 950.9L224.4 940.2L224.8 932.8L224.9 936.5L225.4 948.8L225.9 960.9L226.4 972.2L226.9 983.5L227.4 994.9L227.5 997.4L227.9 992.3L228.4 985.7L228.9 977.4L229.4 968.3L229.8 960.4L229.9 961.6L230.4 968.6L230.9 975.8L231.4 982.6L231.7 985.9L231.9 980.5L232.4 969.3L232.9 958.7L233.4 947.7L233.9 936.5L234.4 925.2L234.4 924.7L234.9 932.8L235.4 941.3L235.9 950.2L236.4 958.9L236.7 965.1L236.9 965.6L237.4 966.9L237.9 968.8L238.4 971.5L238.9 973.8L239 974.4L239.4 970.9L239.9 966.2L240.4 961.7L240.9 957.3L241.3 953.6L241.4 954.2L241.9 959.5L242.4 964.7L242.9 971.2L243.4 977.9L243.6 981.2L243.9 977.8L244.4 971.1L244.9 965.2L245.4 960.7L245.9 956.2L245.9 955.8L246.4 962.4L246.9 969.1L247.4 975.1L247.9 981.4L248.2 985.9L248.4 982.5L248.9 971.8L249.4 961.3L249.9 949.8L250.4 936.3L250.9 922L251.2 912.1L251.4 915.3L251.9 926L252.4 936.7L252.9 946.2L253.4 954.7L253.9 963.3L254 965.1L254.4 958.5L254.9 949.2L255.4 939.7L255.6 935.1L255.9 937.9L256.4 943L256.9 948.1L257.4 952.2L257.9 955.7L258.4 959.1L258.6 960.5L258.9 965.9L259.4 975.3L259.9 986L260.4 997L260.9 1009.6L260.9 1010.1L261.4 995.1L261.9 977.5L262.4 959.4L262.9 939.7L263.4 919.7L263.9 901.1L263.9 900.5L264.4 908.5L264.9 918.2L265.4 928.4L265.9 938.1L266.4 947L266.9 956.1L267.1 960.5L267.4 962.4L267.9 965.6L268.4 968.3L268.9 969.6L269 969.7L269.4 966.2L269.9 961.6L270.4 956.7L270.9 950.5L271.4 944.3L271.8 939.8L271.9 939.4L272.4 938.4L272.9 938.8L273.4 938.6L273.9 939.5L274.1 939.8L274.4 938.6L274.9 934.8L275.4 929.1L275.9 920.4L276.4 912.1L276.4 913.3L276.9 928L277.4 942.8L277.9 957.2L278.4 970.6L278.9 983.6L279.4 995.1L279.4 994.6L279.9 988.5L280.4 982.5L280.9 976.4L281.4 970.4L281.6 968.2L281.9 966.9L282.4 965.1L282.4 965L282.9 963.6L283.4 962.2L283.9 962.2L284.4 962.4L284.7 963.2L284.9 962.5L285.1 961.6L285.4 964.9L285.9 970.6L286.4 977.1L286.9 983.7L286.9 984.3L287.4 985.6L287.9 987L287.9 986.6L288.4 977.4L288.9 969.7L289.4 962.5L289.5 961.5L289.9 966L290.4 971.3L290.9 977.5L291.4 985.4L291.9 993.2L292 994.7L292.4 991.2L292.9 986.3L293.4 981.5L293.9 977.8L294.4 974.1L294.9 971.5L295.4 969.3L295.8 967.9L295.9 967.7L296.4 967.1L296.9 964.9L297.4 962.5L297.9 959.9L298.4 957L298.9 955.9L299.4 955.4L299.6 955.2L299.9 955.9L300.4 957.1L300.9 956.4L301.4 954.7L301.9 953L302.4 951.2L302.9 948.9L303.4 946.8L303.7 945.7L303.9 951L304.4 963.1L304.9 973.5L305.4 981.8L305.9 988.4L305.9 988.4L306.4 986.9L306.9 985.6L307.4 983.7L307.9 982.7L308.4 983L308.9 983.5L309.1 983.7L309.4 979.9L309.9 975.1L310.4 970.7L310.9 968.2L311.4 965.7L311.6 964.7L311.9 966.3L312.4 968.9L312.9 971.3L313.4 973.8L313.9 976.4L314.4 979L314.7 980.5L314.9 980.1L315.4 979L315.9 977.7L316.4 976.1L316.9 974.5L317.4 972.9L317.9 971L317.9 971.1L318.4 973.5L318.9 976L319.4 978.4L319.9 980.7L320.4 982.9L320.9 985.2L321.4 987.5L321.9 990L322.4 992.5L322.6 993.8L322.9 993.4L323.4 992.8L323.9 991.8L324.4 990.5L324.9 989L325.4 987.3L325.9 985.6L326.4 983.9L326.9 982.2L327.4 980.5L327.4 980.4L327.9 978.7L328.4 977L328.9 975.1L329.4 973.2L329.9 971.5L330.4 969.7L330.9 969.3L331.4 969.7L331.9 970.6L332.1 971L332.4 971.7L332.9 972.1L333.4 972.3L333.9 972.6L334.4 972.7L334.9 972.7L335.4 972.7L335.9 973.5L336.4 974.5L336.8 975.8L336.9 975.5L337.4 973.3L337.9 971.4L338.4 970.3L338.9 969.4L339.4 968.6L339.9 967.4L340.4 966.2L340.9 964.9L341.4 963.6L341.6 963.1L341.9 963.2L342.4 963.4L342.9 963.8L343.4 964.3L343.9 964.5L344.4 964.7L344.7 964.7L344.9 963.3L345.4 959.2L345.9 955.6L346.4 952.2L346.9 948.2L347.4 944.3L347.9 939.4L347.9 939.4L348.4 938.5L348.9 938.2L349.4 938.1L349.9 939.2L350.4 941.5L350.9 943.6L351.1 944.2L351.4 938.6L351.9 931.1L352.4 924L352.9 919.1L353.3 915.7L353.4 917.3L353.9 923.4L354.4 929.6L354.9 933.6L355.4 937.2L355.8 939.5L355.9 938.7L356.4 935.2L356.9 930.9L357.4 925.4L357.9 919.4L358.4 913.4L358.9 908.2L358.9 907.9L359.4 913.1L359.9 920.1L360.4 926.1L360.9 930.9L361.4 935.7L361.5 936.4L361.9 937.8L362.4 939.3L362.9 938.2L363.4 935L363.9 933.8L364.4 932.8L364.6 933.1L364.9 934.5L365.4 937.1L365.9 940.1L366.4 944.5L366.9 947.5L367.4 950.2L367.8 952.1L367.9 951.6L368.4 949.8L368.9 948L369.4 945.8L369.9 943.1L370 942.6L370.4 946.1L370.9 950.3L371.4 954.3L371.9 958.8L372.2 961.6L372.4 960.3L372.9 957.3L373.4 954.4L373.9 950.2L374.4 945.8L374.7 942.6L374.9 943.5L375.4 946.4L375.9 949.4L376.4 952.3L376.9 955.8L377.2 958.4L377.4 956.3L377.9 949.2L378.4 941.6L378.9 933.2L379.4 924.7L379.5 923.7L379.9 916.8L380.4 908.9L380.9 899.7L381.4 889.5L381.7 884.2L381.9 886.9L382.4 893.1L382.9 899.9L383.4 906.7L383.9 913.4L384.2 917.4L384.4 917.7L384.9 918.9L385.4 920.1L385.9 921.3L386.4 922.8L386.7 923.7L386.9 925.7L387.4 931.6L387.9 936.7L388.4 940.4L388.9 942.6L388.9 942.6L389.4 935.6L389.9 927.1L390.4 917.7L390.9 908.8L391.1 904.7L391.4 904.5L391.9 904.5L392.4 904.3L392.9 903.4L393 903.1L393.4 907.9L393.9 914.2L394.4 920.2L394.9 925.9L395.2 930L395.4 931.9L395.9 938.9L396.4 946L396.9 952L397.4 957.7L397.5 958.4L397.9 959.2L398.4 960L398.9 962.2L399.4 965.3L399.9 970.1L400 971L400.4 966.9L400.9 961.9L401.4 957.4L401.9 954.3L402.4 950.7L402.9 945.4L403.1 942.7L403.4 940.8L403.9 935.5L404.4 929.8L404.9 925L405.4 920.7L405.9 918.6L406.3 917.4L406.4 916.8L406.9 913.3L407.4 909.8L407.9 904L408.4 897.6L408.8 892.1L408.9 893L409.4 899.4L409.9 906.1L410.4 911.3L410.9 916L411 917.4L411.4 923L411.9 929.3L412.4 935.1L412.9 939.6L413.4 943.3L413.9 948.7L414.2 952.1L414.4 948.7L414.9 939.5L415.4 929.6L415.9 917.4L416.4 904.8L416.4 904.7L416.9 908.8L417.4 911.9L417.9 915.1L418.3 917.4L418.4 916L418.9 908.2L419.4 899.7L419.9 889.5L420.4 878.7L420.5 876.3L420.9 883.6L421.4 893L421.9 901.4L422.4 908.9L422.9 917.1L423.4 925.2L423.7 930L423.9 930.8L424.4 932.5L424.9 936.3L425.4 941.6L425.9 946.3L426.4 950.7L426.8 952.1L426.9 951.1L427.4 943.9L427.9 937.7L428.4 931.6L428.9 926.9L429.4 922.7L429.9 918.1L430 917.4L430.4 912.5L430.9 907.1L431.4 901.8L431.9 895.5L432.4 888.1L432.9 879.1L433.1 874.7L433.4 883.4L433.9 900.9L434.4 918.5L434.7 930L434.9 923.8L435.4 905.1L435.9 885.7L436.3 870L436.4 872.6L436.9 885.2L437.4 897.5L437.9 907.4L438.4 916.2L438.8 923.8L438.9 924.3L439.4 928L439.9 932.1L440.4 936.8L440.9 941.4L441 942.6L441.4 938.8L441.9 934.5L442.4 930.8L442.9 930.2L443.4 929.9L443.6 930L443.9 933.8L444.4 939.4L444.9 942.2L445.4 944.8L445.8 945.8L445.9 945.4L446.4 943.9L446.9 942.7L447.4 940.7L447.9 939.1L448.4 937.8L448.9 936.3L449.4 934.9L449.9 932.1L450 931.5L450.4 915.3L450.5 911L450.9 914.8L451.4 919.6L451.9 926L452.4 935L452.9 944.1L453 946.5L453.2 942.8L453.4 934.6L453.9 913.4L454.4 894.8L454.9 878.8L455.2 868.7L455.4 868.3L455.9 866.9L456 866.5L456.4 875.8L456.9 891.8L457.4 909L457.5 911.2L457.9 922L458.4 934.4L458.8 944.8L458.9 945L459.4 946.3L459.9 945.9L460 945.8L460.4 936.7L460.9 925.7L461.4 915L461.9 905.2L462 902.7L462.4 902.8L462.9 904.2L463.4 906.2L463.9 909L464.4 910.7L464.9 910.9L465.2 910.8L465.4 908.9L465.9 902L466.4 894.7L466.9 887L467.4 879.2L467.9 872.4L468 870.6L468.4 879.2L468.9 890.6L469.4 901.9L469.9 913L470.4 924.2L470.9 934.8L470.9 934.5L471.4 930.9L471.9 928.8L472.4 927.7L472.9 927.5L473.4 926.3L473.9 923.7L474.1 922.8L474.4 926.4L474.9 930.6L475.4 934.4L475.9 937.7L476.4 940.5L476.9 943.1L477.3 944.9L477.4 943.2L477.9 935.7L478.4 927.8L478.9 920.6L479.4 914.1L479.9 908.6L480.1 906.8L480.4 905.9L480.9 904L481.4 902L481.9 900.4L482.4 898.7L482.9 897.9L483.4 898.1L483.9 898.5L484.1 898.7L484.4 900.6L484.9 904.1L485.4 907.7L485.9 911.6L486.4 915.3L486.9 918.8L486.9 918.7L487.4 914.6L487.9 910.8L488.4 907L488.9 902.4L489.3 898.7L489.4 900.4L489.9 908.6L490.4 916.9L490.9 925.9L491.4 934.8L491.9 943.4L492.1 946.9L492.4 941.7L492.9 933.1L493.4 924.6L493.9 915L494.4 905.2L494.9 894.9L494.9 894.7L495.4 887.6L495.9 881.9L496.4 875.1L496.9 868.2L497.3 862.6L497.4 863.7L497.9 868.3L498.4 872.5L498.9 874.5L499.4 874.7L499.9 877.3L500.1 878.7L500.4 886.4L500.9 900.6L501.4 914.9L501.9 925.6L502.4 935.4L502.9 944.5L502.9 944.9L503.4 935.4L503.9 925.7L504.4 915.7L504.9 906.2L505.4 897.9L505.9 890.2L506.1 886.7L506.4 883.9L506.9 877.2L507.4 870.1L507.9 864.7L508.4 859.6L508.9 856.4L509.4 852.7L509.9 848.6L510.1 846.6L510.4 851.3L510.9 859.2L511.4 866.7L511.9 872.1L512.4 877.3L512.9 882.3L513.4 886.7L513.4 886.9L513.9 889.4L514.4 892.2L514.9 895.5L515.4 899.9L515.9 904.4L516.2 906.8L516.4 907.9L516.9 910.6L517.4 913.3L517.9 916.7L518.4 920.2L518.9 924.6L519.4 928.6L519.9 932.7L520.2 934.8L520.4 931.1L520.9 921.6L521.4 911.8L521.9 901.3L522.4 890.7L522.9 880.2L523 878.6L523.4 874.2L523.9 868.8L524.4 863.2L524.9 858.7L525.4 854.6L525.4 854.9L525.9 860.9L526.4 866.4L526.9 870.3L527 870.9L527.4 856.7L527.9 839.2L528.4 821.4L528.9 803.6L529 800.5L529.4 810.7L529.9 823.1L530.4 835.5L530.9 847.3L531.4 859.7L531.9 871.7L532.2 878.7L532.4 882.3L532.9 892.3L533.4 902.6L533.9 914.4L534.4 926.4L534.9 936.9L535 938.9L535.4 934.9L535.9 928.9L536.4 922.7L536.9 916.8L537.4 911.8L537.9 908.5L538.2 906.7L538.4 908.9L538.9 915L539.4 921.2L539.9 926.2L540.4 931.2L540.9 935.1L541.4 938.7L541.4 938.8L541.9 930.5L542.4 922L542.9 915.7L543.4 909.4L543.9 902.9L544.2 898.7L544.4 901.6L544.9 909L545.4 916.1L545.9 921.8L546.4 927.3L546.9 932.9L547.4 938.6L547.4 938.9L547.9 928.7L548.4 917.6L548.9 906.5L549.4 897.8L549.9 891L550.2 886.7L550.4 887.2L550.9 890.1L551.4 893.2L551.9 897.1L552.4 901.9L552.9 906.3L553.4 910.4L553.5 910.8L553.9 904.8L554.4 898.3L554.9 892.7L555.4 888.8L555.9 883.1L556.3 878.6L556.4 876.8L556.9 869.6L557.4 862.3L557.9 857.9L558.4 855.6L558.9 854.7L559.1 854.6L559.4 859L559.9 865.5L560.4 872.2L560.9 879.3L561.4 885.7L561.9 891L562.3 894.7L562.4 893.1L562.9 887.1L563.4 880.8L563.9 875L564.3 870.7L564.4 869L564.9 862.2L565.4 855L565.9 846.9L566.3 840.6L566.4 844.6L566.9 860.6L567.4 876.3L567.9 892.5L568.4 910.1L568.9 928.3L569.1 934.9L569.4 920.1L569.9 896.6L570.4 873.7L570.9 853.9L571.4 834.2L571.5 830.7L571.9 804.4L572.4 772.8L572.9 741L573.4 709.9L573.5 704L573.9 720.2L574.4 740.4L574.9 761.8L575.4 786.1L575.9 810.8L576.3 830.5L576.4 833.6L576.9 849.3L577.4 865.1L577.9 883.3L578.4 903L578.9 922.6L579.1 930.8L579.4 927.4L579.9 921.1L580.4 914.6L580.9 907.6L581.4 900.4L581.5 898.7L581.9 900.9L582.4 903.8L582.9 907.7L583.4 911.7L583.9 915.6L584.3 918.8L584.4 917.5L584.9 908.4L585.4 899.2L585.9 890.5L586.4 882.1L586.9 873.6L587.4 864.9L587.5 862.7L587.9 869.9L588.4 879.7L588.9 889.7L589.4 900.4L589.9 910.4L590.3 918.8L590.4 917.7L590.9 908.5L591.4 899.6L591.9 891.8L592.4 884.2L592.9 874.9L593.4 865.5L593.5 862.8L593.9 854.3L594.4 842.6L594.9 831.1L595.4 818.7L595.9 805.5L596.4 792.3L596.9 779L597.1 772.3L597.4 780.5L597.9 798.3L598.4 816.4L598.9 834.3L599.4 852.3L599.9 870.2L600.4 886.7L600.4 886.6L600.9 885.7L601.4 884.8L601.9 883.6L602.4 882.3L602.9 880.5L603.4 879L603.9 878.7L604.4 878.7L604.4 879.3L604.9 891.6L605.4 904L605.9 916.6L606.4 927.5L606.9 937.5L607.2 942.9L607.4 944.8L607.9 947.7L608.4 950.4L608.9 951.5L609.4 952.4L609.6 952.9L609.9 944.7L610.4 931.6L610.9 919.4L611.4 906.2L611.9 891.4L612.4 876.7L612.4 876.8L612.9 884.5L613.4 892L613.9 899.2L614.4 904.4L614.9 908.5L615.2 910.8L615.4 913.1L615.9 918.5L616.4 923.8L616.9 929.6L617.4 935.5L617.9 942.1L618.4 948.9L618.9 954.3L619.4 959.5L619.9 964.4L620 965.4L620.4 966.9L620.4 966.9L620.9 964L621.4 961.2L621.9 958.4L622.4 956L622.9 952.9L623.2 950.8L623.4 946.1L623.9 934.7L624.4 923.6L624.9 913.1L625.4 902L625.9 889.2L626 886.3L626.4 884.7L626.4 884.6L626.9 897.7L627.4 911L627.9 924.7L628.4 938.6L628.8 950.6L628.9 951.5L629.4 956.7L629.6 958.9L629.9 957.1L630.4 953.9L630.9 950.4L631.4 946.9L631.9 943.7L632 942.8L632.4 941.5L632.9 940.5L633.4 939.6L633.9 939.7L634.4 939.2L634.9 939L635.2 938.8L635.4 939.2L635.9 940.3L636.4 941.5L636.9 940.6L637.4 938.3L637.9 935.6L638 934.9L638.4 931L638.9 925.6L639.4 919.9L639.9 912.6L640.4 905.1L640.9 898.7L640.9 898.3L641.4 894.4L641.9 890.6L642.4 886.6L642.9 882.5L643.4 877.7L643.9 872.4L644.1 870.7L644.4 873.3L644.9 876.9L645.4 880.3L645.9 883.2L646.4 886L646.9 888.7L647.3 890.8L647.4 893.2L647.9 902.5L648.4 911.8L648.9 920.7L649.4 929.6L649.9 939.4L650.4 949L650.9 958.2L651.3 965L651.4 962.9L651.9 952.1L652.4 940.9L652.9 930L653.4 920.5L653.9 913.2L654.1 910.7L654.4 913.9L654.9 919.4L655.4 925.1L655.9 931.9L656.4 938.7L656.9 944.9L656.9 944.7L657.4 938.7L657.9 933.6L658.4 929.3L658.9 926.2L659.4 924.8L659.9 923.4L660.1 922.8L660.4 919.2L660.9 914.7L661.4 911.6L661.9 911L662.1 910.8L662.4 912.2L662.9 913.9L663.4 915.6L663.9 918.9L664.4 922.3L664.9 925.3L665.4 928.2L665.9 930.1L666.4 932.3L666.9 935.8L667.3 938.9L667.4 937.6L667.9 930.7L668.4 924.1L668.9 916.2L669.4 908.3L669.9 899.8L670.4 892.4L670.9 886L671.3 880.6L671.4 882.1L671.9 892L672.4 901.9L672.9 914.3L673.4 927.8L673.9 941.9L674.4 956.4L674.9 970.1L674.9 970.9L675.4 965.6L675.9 960.5L676.4 955.8L676.9 951.4L677.4 946L677.9 941.1L678.1 938.8L678.4 934.9L678.9 927.3L679.4 917.8L679.9 905.1L680.1 898.8L680.4 900L680.9 901.2L681.4 902L681.9 901L682.4 899.8L682.9 900.7L683.4 903.7L683.9 908.3L684.1 910.8L684.4 909.7L684.9 907.5L685.4 905.3L685.9 903.6L686.4 902.4L686.9 900.6L687.4 898.8L687.4 898.3L687.9 893.8L688.4 889.5L688.9 885.6L689.4 882.2L689.9 878.3L690.4 874.7L690.9 872.5L691.4 870.7L691.4 870.4L691.9 865.5L692.4 860.6L692.9 855L693.4 849.3L693.9 843.7L694.2 840.6L694.4 843L694.9 848.7L695.4 854.6L695.9 860.1L696.4 865.3L696.9 870L697 870.8L697.4 863.2L697.9 853.6L698.4 843.8L698.9 833.8L699.4 824.3L699.9 815.5L700.2 810.4L700.4 819.5L700.9 841.4L701.4 863.6L701.9 885.8L702.2 898.9L702.4 890.3L702.9 868.6L703.4 847.8L703.9 827.1L704.2 814.6L704.4 806.7L704.9 789.1L705.4 772L705.9 756L706.4 739.2L706.9 720.2L707.4 700.6L707.4 700.3L707.9 716.6L708.4 733.3L708.9 750.6L709.4 764.2L709.9 777.9L710.2 786.6L710.4 787.2L710.9 787.5L711.4 787.4L711.9 783.4L712.4 777.7L712.9 771.8L713 770.4L713.4 781.7L713.9 797.5L714.4 813.7L714.9 829.6L715.4 845.7L715.4 846.6L715.9 853.1L716.4 859.9L716.9 867.3L717.4 876L717.9 884.9L718.2 890.8L718.4 887.1L718.9 875.6L719.4 864.1L719.9 853.5L720.2 846.6L720.4 854.3L720.9 878.1L721.4 901.4L721.9 923.9L722.2 939L722.4 929.9L722.9 899.7L723.4 869.5L723.9 839.8L724.4 808.6L724.9 777.6L725 768.4L725.4 782.4L725.9 800.9L726.4 818.7L726.9 833.8L727.4 847L727.9 860.7L728.3 870.7L728.4 864.7L728.9 843.4L729.4 822.2L729.9 798.5L730.4 773.7L730.9 747.7L731.4 721.6L731.5 718.2L731.9 738.2L732.4 761.5L732.9 785.2L733.4 808.6L733.9 830.5L733.9 831.5L734.4 847.5L734.9 862.1L735.4 874.8L735.9 886.2L736.3 894.8L736.4 897.1L736.9 907.9L737.4 918.3L737.9 927.9L738.3 934.9L738.4 933.6L738.9 927L739.4 921.5L739.9 915.6L740.3 910.7L740.4 911.7L740.9 916.2L741.4 920.8L741.9 930L742.4 940.1L742.7 946.8L742.9 947.2L743.4 948L743.9 948.8L744.4 950.3L744.9 950.8L745.1 950.9L745.4 945.2L745.9 934.9L746.4 924L746.9 910.8L747.4 897.5L747.5 894.6L747.9 884.5L748.4 870.5L748.9 856.7L749.1 850.6L749.4 855.1L749.9 862.2L750.4 868.8L750.9 873.4L751.4 878L751.5 878.7L751.9 854.1L752.4 821.8L752.9 789.4L753.4 756.3L753.5 748.4L753.9 761.9L754.4 779.7L754.9 798.2L755.4 816.8L755.9 835.2L756.3 850.7L756.4 850.2L756.9 846.1L757.4 842.1L757.9 837.2L758.4 831.7L758.9 825.8L759.4 820L759.5 818.5L759.9 825.5L760.4 835.2L760.9 844.9L761.4 853.8L761.9 862.8L762.3 870.7L762.4 871.4L762.9 876.9L763.4 883L763.9 889.2L764.4 894.8L764.4 895.5L764.9 903.4L765.4 911.5L765.9 920.8L766.4 930.3L766.9 939.3L767.4 948.3L767.5 950.9L767.9 947.7L768.4 943L768.9 937.7L769.4 930.2L769.9 922.2L770.4 914.8L770.4 915.5L770.9 924.8L771.4 934.1L771.9 942.3L772.4 949L772.9 955.5L773.2 958.9L773.4 950.5L773.9 930.8L774.4 911.7L774.9 894.1L775.4 876.3L775.6 870.6L775.9 875.2L776.4 882.4L776.9 892.4L777.4 906.3L777.9 919.2L778.4 932.4L778.9 944.1L779.4 954.9L779.6 958.9L779.9 951.2L780.4 938.8L780.9 930.5L781.4 924.9L781.9 917.9L782.4 910.8L782.4 910.8L782.9 912.3L783.4 913.2L783.9 914.6L784.4 914.7L784.9 914.8L785.2 914.8L785.4 916.5L785.9 919.4L786.4 922L786.9 924.5L787.4 927.1L787.9 930.8L788.4 934.8L788.9 940.8L789.4 946.4L789.9 951.2L790 952.1L790.4 953L790.9 954.2L791.4 954.9L791.9 954.8L792.4 954.4L792.4 954.4L792.9 957L793.2 958.4L793.4 959L793.9 959.7L794.4 959.8L794.8 958.9L794.9 956.3L795.4 940.1L795.9 926L796.4 913.6L796.9 903.8L797 902.9L797.4 902.8L797.6 902.7L797.9 903.9L798.4 907.7L798.9 914.5L799.4 922.5L799.5 923.6L799.9 923L800 922.8L800.4 928.9L800.9 936.8L801 939.5L801.4 935.5L801.9 929.1L802.4 922.6L802.9 915.9L803.3 911.1L803.4 907.4L803.9 894.5L804.4 881.4L804.9 868.5L805.2 862L805.4 866.2L805.9 874.5L806.4 882.6L806.9 889.9L807 892.1L807.4 884.3L807.9 873.7L808.3 865.2L808.4 866.7L808.9 877.2L809.4 886.9L809.9 894.9L810.4 902.9L810.5 904.7L810.9 910.8L811.4 918.8L811.9 925L812.4 928.2L812.9 933.4L813.4 938.8L813.7 942.6L813.9 939.5L814.4 932.4L814.9 925.5L815.4 918.9L815.9 911.1L815.9 911L816.4 907.1L816.9 902.3L817.4 896.7L817.8 892L817.9 892.8L818.4 896.3L818.9 901.5L819.4 908.2L819.9 915.9L820 917.4L820.4 920.1L820.9 924L821.4 928.2L821.6 930L821.9 931.2L822.4 933L822.9 934.8L823.4 938L823.9 941.3L824.1 942.6L824.4 944.7L824.9 948.7L825.4 952.8L825.9 957.6L826.3 961.6L826.4 959.1L826.9 944L827.4 928.8L827.9 913.8L828.4 898.8L828.5 895.2L828.9 899L829.4 904.1L829.9 908.8L830.4 913.3L830.9 916.5L831 917.4L831.4 916.3L831.9 914.4L832.4 912.5L832.9 911.7L833.4 911L833.6 910.9L833.9 917.8L834.4 928.4L834.9 938.9L835.4 950.2L835.8 958.3L835.9 959.7L836.4 965.2L836.9 970L837.4 974.2L837.4 974L837.9 970.3L838.4 966.7L838.9 964.2L839.4 962.1L839.9 960.5L840.4 958.8L840.5 958.4L840.9 962.6L841.4 968.2L841.9 973.9L842.4 979.7L842.9 985.2L843 986.8L843.4 989L843.9 991.7L844.4 994.5L844.9 997.4L845.3 999.5L845.4 999L845.9 997.4L846.4 995.8L846.9 994.7L847.4 993.7L847.9 993.3L848.4 993.2L848.4 993.2L848.9 989.3L849.4 985.5L849.9 980.3L850.4 974.5L850.9 968.4L850.9 967.9L851.4 962.3L851.9 956.6L852.4 950.3L852.9 943.1L853.1 939.4L853.4 943L853.9 949.8L854.4 956.5L854.9 963.4L855.4 970.2L855.7 974.2L855.9 975.7L856.4 979.2L856.9 983.5L857.4 988.8L857.9 994.5L858.4 1000.3L858.9 1005.9L859.4 1011.4L859.5 1012.1L859.9 1007.7L860.4 1002.6L860.9 997.3L861.4 992.4L861.9 987.6L862 986.8L862.4 990.7L862.9 995.7L863.4 1000.9L863.6 1002.6L863.9 997.5L864.4 989.6L864.9 983.2L865.4 977.6L865.8 974.2L865.9 975.4L866.4 980.5L866.9 985.9L867.4 992L867.9 997L868.4 1001.6L868.9 1005.5L868.9 1005.8L869.4 1004.4L869.9 1003.7L870.4 1003L870.9 1002.5L871.4 1001.9L871.9 1001.3L872.1 1001L872.4 1001.6L872.9 1002.2L873.4 1002.8L873.9 1003.3L874.4 1003.5L874.9 1003.9L875.2 1004.2L875.4 1004.6L875.9 1005.6L876.4 1006.5L876.9 1007L877.4 1007.3L877.9 1007.9L878.4 1008.4L878.9 1008.8L879 1008.9L879.4 1010.4L879.9 1012.1L880.4 1013.7L880.9 1014.9L881.4 1016.1L881.9 1017.5L882.4 1019L882.9 1020.7L883.1 1021.5L883.4 1021.3L883.9 1020.9L884.4 1020.5L884.9 1020.3L885.4 1020.1L885.7 1020L885.9 1019.5L886.4 1018.4L886.9 1017.3L887.4 1016.2L887.9 1015.2L887.9 1015.3L888.4 1016.8L888.9 1018.3L889.4 1019.8L889.9 1021.3L890.4 1022.8L890.9 1024.3L891 1024.7L891.4 1024.9L891.9 1025.2L892.4 1025.5L892.9 1025.8L893.4 1026L893.9 1026.2L894.2 1026.3L894.4 1026.2L894.9 1025.9L895.4 1025.6L895.9 1025.2L896.4 1024.9L896.9 1024.5L897.4 1024.2L897.9 1023.8L898.4 1023.5L898.9 1023.1L898.9 1023.1L899.4 1023.3L899.9 1023.5L900.4 1023.8L900.9 1024.3L901.4 1024.7L901.9 1025.3L902.4 1025.8L902.9 1026.4L903.4 1026.9L903.7 1027.2L903.9 1027.3L904.4 1027.3L904.9 1027.3L905.4 1027.4L905.9 1027.5L906.4 1027.6L906.9 1027.7L907.4 1027.8L907.9 1027.7L908.4 1027.7L908.9 1027.6L909.4 1027.6L909.9 1027.7L910.4 1027.7L910.9 1027.7L911.4 1027.7L911.9 1027.8L912.4 1027.8L912.9 1027.9L913.4 1028L913.9 1028.1L914.4 1028.1L914.9 1028.1L915.4 1028L915.9 1027.9L916.3 1027.9L916.4 1027.9L916.9 1028L917.4 1028.2L917.9 1028.4L918.4 1028.5L918.9 1028.6L919.4 1028.7L919.9 1028.7L920.4 1028.7L920.9 1028.7L921.4 1028.6L921.9 1028.6L922.4 1028.5L922.9 1028.5L923.4 1028.5L923.9 1028.4L924.4 1028.4L924.9 1028.5L925.4 1028.5L925.9 1028.6L926.4 1028.7L926.9 1028.8L927.4 1028.9L927.9 1028.9L928.4 1028.8L928.9 1028.8L929.4 1028.8L929.9 1029L930.4 1029.1L930.9 1029.3L931.4 1029.3L931.9 1029.2L932.1 1029.1L932.4 1029.1L932.9 1029.2L933.4 1029.2L933.9 1029.2L934.4 1029.3L934.9 1029.3L935.4 1029.3L935.9 1029.3L936.4 1029.3L936.9 1029.3L937.4 1029.4L937.9 1029.4L938.4 1029.4L938.4 1029.4L938.9 1029.1L939.4 1028.9L939.9 1028.7L940 1028.6L940.4 1028.5L940.9 1028.4L941.4 1028.2L941.9 1028.2L942.4 1028.1L942.9 1028.1L943.4 1028L943.7 1027.9L943.9 1028L944.4 1028L944.9 1028.2L945.4 1028.3L945.9 1028.4L946.4 1028.5L946.9 1028.7L947.4 1028.8L947.9 1028.9L948.4 1029L948.9 1029.2L949.4 1029.4L949.8 1029.6L949.9 1029.6L950.4 1029.6L950.9 1029.7L951.4 1029.7L951.9 1029.8L952.4 1029.9L952.9 1029.9L953.4 1029.9L953.9 1029.9L954.4 1029.9L954.9 1029.8L955.4 1029.8L955.9 1029.8L956.4 1029.9L956.9 1030L957.1 1030.1L957.4 1030.1L957.9 1030.1L958.4 1030.1L958.9 1030.2L959.4 1030.1L959.9 1030.1L960.4 1030.1L960.9 1030.1L961.4 1030.1L961.9 1030.1L962.4 1030.2L962.9 1030.3L963.4 1030.4L963.9 1030.4L964.4 1030.5L964.9 1030.5L965.4 1030.5L965.9 1030.5L966.4 1030.5L966.9 1030.5L967.4 1030.5L967.9 1030.6L968.4 1030.6L968.9 1030.6L969.4 1030.6L969.4 1030.6L969.9 1030.3L970.4 1029.9L970.9 1029.7L971.4 1029.4L971.9 1029.3L972.4 1029.2L972.9 1029.1L973 1029.1L973.4 1028.8L973.9 1028.4L974.4 1028L974.9 1027.7L975.4 1027.4L975.9 1027.1L976.4 1026.8L976.7 1026.7L976.9 1026.9L977.4 1027.5L977.9 1028.2L978.4 1028.9L978.9 1029.5L979.4 1030.1L979.6 1030.4L979.9 1030.3L980.4 1030.3L980.9 1030.3L981.4 1030.3L981.9 1030.3L982.4 1030.3L982.9 1030.3L983.4 1030.3L983.9 1030.2L984.4 1030.1L984.9 1030L985.4 1029.9L985.9 1029.8L986.4 1029.8L986.9 1029.7L987.4 1029.7L987.9 1029.7L988.4 1029.7L988.9 1029.6L988.9 1029.6L989.4 1029.7L989.9 1029.8L990.4 1029.9L990.9 1030L991.4 1030.1L991.9 1030.1L992.4 1030.2L992.9 1030.3L993.4 1030.3L993.9 1030.4L994.4 1030.5L994.9 1030.5L995.4 1030.5L995.9 1030.5L996.4 1030.5L996.9 1030.6L997.4 1030.7L997.9 1030.8L998.4 1031L998.9 1031.1L999.4 1031.2L999.9 1031.4L1000.4 1031.5L1000.9 1031.5L1001.1 1031.6L1001.4 1031.6L1001.9 1031.6L1002.4 1031.6L1002.9 1031.5L1003.4 1031.5L1003.9 1031.3L1004.4 1031.2L1004.9 1031.1L1005.4 1031.1L1005.9 1031L1006.4 1031L1006.9 1031L1007.4 1031L1007.9 1030.9L1008.4 1030.8L1008.9 1030.7L1009.4 1030.6L1009.9 1030.6L1010.4 1030.5L1010.9 1030.4L1011.4 1030.4L1011.9 1030.3L1012.4 1030.3L1012.9 1030.3L1013.4 1030.4L1013.4 1030.3L1013.9 1030.3L1014.4 1030.3L1014.9 1030.4L1015.4 1030.5L1015.9 1030.6L1016.4 1030.8L1016.9 1030.8L1017.4 1030.9L1017.9 1031L1018.4 1031L1018.9 1031.1L1019.4 1031.2L1019.9 1031.3L1020.4 1031.4L1020.9 1031.4L1021.4 1031.5L1021.9 1031.5L1022.4 1031.5L1022.9 1031.6L1023.1 1031.6L1023.4 1031.6L1023.9 1031.5L1024.4 1031.5L1024.9 1031.4L1025.4 1031.4L1025.9 1031.4L1026.4 1031.3L1026.9 1031.3L1027.4 1031.2L1027.9 1031.1L1028.4 1031L1028.9 1031L1029.4 1030.9L1029.9 1030.9L1030.4 1030.9L1030.9 1031L1031.4 1031L1031.9 1031.1L1032.4 1031.1L1032.9 1031L1033.4 1030.9L1033.9 1030.8L1034.4 1030.7L1034.9 1030.7L1035.4 1030.7L1035.9 1030.7L1036.4 1030.6L1036.9 1030.6L1037.4 1030.6L1037.8 1030.6L1037.9 1030.6L1038.4 1030.7L1038.9 1030.8L1039.4 1030.9L1039.9 1030.9L1040.4 1031L1040.9 1031L1041.4 1031L1041.9 1031.1L1042.4 1031.1L1042.9 1031.2L1043.4 1031.2L1043.9 1031.2L1044.4 1031.3L1044.9 1031.4L1045.4 1031.5L1045.9 1031.5L1046.4 1031.6L1046.9 1031.7L1047.4 1031.7L1047.9 1031.7L1048.4 1031.7L1048.9 1031.7L1049.4 1031.6L1049.9 1031.6L1050 1031.6L1050.4 1031.6L1050.9 1031.6L1051.4 1031.6L1051.9 1031.6L1052.4 1031.5L1052.9 1031.5L1053.4 1031.6L1053.9 1031.6L1054.4 1031.6L1054.9 1031.7L1055.4 1031.7L1055.9 1031.8L1056.4 1031.8L1056.9 1031.8L1057.4 1031.8L1057.9 1031.7L1058.4 1031.7L1058.9 1031.6L1059.4 1031.6L1059.9 1031.6L1060.4 1031.5L1060.9 1031.5L1061.4 1031.4L1061.9 1031.4L1062.4 1031.4L1062.9 1031.4L1063.4 1031.4L1063.9 1031.4L1064.4 1031.4L1064.9 1031.5L1065.4 1031.5L1065.9 1031.5L1066.4 1031.5L1066.9 1031.4L1067.4 1031.4L1067.9 1031.4L1068.4 1031.4L1068.9 1031.5L1069.4 1031.6L1069.9 1031.7L1070.4 1031.8L1070.9 1031.7L1071.4 1031.7L1071.9 1031.7L1072.4 1031.6L1072.9 1031.6L1073.4 1031.6L1073.9 1031.6L1074.4 1031.7L1074.9 1031.6L1075.4 1031.6L1075.9 1031.6L1076.4 1031.5L1076.9 1031.5L1077.4 1031.4L1077.9 1031.5L1078.4 1031.5L1078.9 1031.5L1079.4 1031.5L1079.9 1031.5L1080.4 1031.5L1080.9 1031.5L1081.4 1031.5L1081.9 1031.5L1082.4 1031.5L1082.9 1031.5L1083.4 1031.5L1083.9 1031.5L1084.4 1031.5L1084.9 1031.4L1085.4 1031.4L1085.9 1031.4L1086.4 1031.5L1086.7 1031.6L1086.9 1031.5L1087.4 1031.5L1087.9 1031.3L1088.4 1031.3L1088.9 1031.2L1089.4 1031.2L1089.9 1031.2L1090.4 1031.1L1090.9 1031.1L1091.4 1031L1091.9 1030.8L1092.4 1030.6L1092.9 1030.5L1093.4 1030.3L1093.9 1030.2L1094.4 1030L1094.9 1029.9L1095.4 1029.8L1095.9 1029.8L1096.4 1029.9L1096.5 1029.9L1096.9 1030L1097.4 1030.3L1097.9 1030.6L1098.4 1031.1L1098.9 1031.5L1099 1031.6L1099.4 1031.6L1099.9 1031.6L1100.4 1031.6L1100.9 1031.7L1101.4 1031.7L1101.9 1031.6L1102.4 1031.5L1102.9 1031.5L1103.4 1031.4L1103.9 1031.5L1104.4 1031.5L1104.9 1031.5L1105.4 1031.4L1105.9 1031.4L1106.4 1031.3L1106.9 1031.3L1107.4 1031.4L1107.9 1031.4L1108.4 1031.4L1108.9 1031.5L1109.4 1031.5L1109.9 1031.6L1110.4 1031.7L1110.9 1031.7L1111.4 1031.7L1111.9 1031.7L1112.4 1031.6L1112.9 1031.6L1113.4 1031.5L1113.9 1031.5L1114.4 1031.4L1114.9 1031.4L1115.4 1031.4L1115.9 1031.4L1116.4 1031.4L1116.9 1031.4L1117.4 1031.5L1117.9 1031.5L1118.4 1031.6L1118.9 1031.6L1119.4 1031.6L1119.9 1031.7L1120.4 1031.7L1120.9 1031.7L1121.4 1031.7L1121.9 1031.7L1122.4 1031.7L1122.9 1031.6L1123.4 1031.6L1123.9 1031.6L1124.4 1031.6L1124.9 1031.6L1125.4 1031.6L1125.9 1031.6L1125.9 1031.6L1126.4 1031.6L1126.9 1031.6L1127.4 1031.5L1127.9 1031.5L1128.4 1031.5L1128.9 1031.5L1129.4 1031.6L1129.9 1031.7L1130.4 1031.8L1130.9 1031.8L1131.4 1031.9L1131.9 1031.9L1132.4 1031.9L1132.9 1031.8L1133.4 1031.7L1133.9 1031.7L1134.4 1031.6L1134.9 1031.6L1135.4 1031.6L1135.9 1031.6L1136.4 1031.7L1136.9 1031.7L1137.4 1031.7L1137.9 1031.7L1138.4 1031.7L1138.9 1031.7L1139.4 1031.7L1139.9 1031.6L1140.4 1031.6L1140.9 1031.7L1141.4 1031.8L1141.9 1031.8L1142.4 1031.8L1142.9 1031.8L1143.4 1031.7L1143.9 1031.7L1144.4 1031.7L1144.9 1031.7L1145.4 1031.7L1145.9 1031.7L1146.4 1031.7L1146.9 1031.7L1147.4 1031.7L1147.9 1031.7L1148.4 1031.8L1148.9 1031.8L1149.4 1031.8L1149.9 1031.7L1150.4 1031.7L1150.9 1031.7L1151.4 1031.7L1151.9 1031.7L1152.4 1031.7L1152.9 1031.7L1153.4 1031.7L1153.9 1031.7L1154.4 1031.7L1154.9 1031.8L1155.4 1031.8L1155.9 1031.8L1156.4 1031.9L1156.9 1031.9L1157.4 1032L1157.9 1032L1158.4 1032.1L1158.9 1032.1L1159.4 1032L1159.9 1032L1160.4 1032L1160.9 1032L1161.4 1032.1L1161.9 1032.1L1162.4 1032.1L1162.9 1032.1L1163.4 1032.1L1163.9 1032L1164.4 1032L1164.9 1031.9L1165.4 1031.9L1165.9 1031.9L1166.4 1031.9L1166.9 1031.9L1167.4 1032L1167.9 1032.1L1168.4 1032.1L1168.9 1032.1L1169.4 1032.1L1169.9 1032.1L1170.4 1032L1170.9 1032L1171.4 1032L1171.9 1032.1L1172.4 1032.1L1172.9 1032.1L1173.4 1032.1L1173.9 1032.1L1174.4 1032.1L1174.9 1032.1L1175.4 1032L1175.9 1032L1176.4 1032L1176.9 1032L1177.4 1031.9L1177.9 1031.9L1178.4 1031.8L1178.9 1031.8L1179.4 1031.8L1179.9 1031.9L1180.4 1031.9L1180.9 1032L1181.4 1032.1L1181.9 1032.1L1182.4 1032.1L1182.9 1032.2L1183.4 1032.2L1183.9 1032.1L1184.4 1032.1L1184.6 1032.1L1184.9 1032.1L1185.4 1032.1L1185.9 1032.1L1186.4 1032.1L1186.9 1032.1L1187.4 1032.2L1187.9 1032.2L1188.4 1032.2L1188.9 1032.3L1189.4 1032.3L1189.9 1032.2L1190.4 1032.2L1190.9 1032.2L1191.4 1032.1L1191.9 1032.1L1192.4 1032L1192.9 1032L1193.4 1032L1193.9 1032L1194.4 1032L1194.9 1032L1195.4 1031.9L1195.9 1031.9L1196.4 1031.9L1196.9 1032L1197.4 1032L1197.9 1032L1198.4 1032L1198.9 1032.1L1199.4 1032.1L1199.9 1032.2L1200.4 1032.2L1200.9 1032.2L1201.4 1032.2L1201.9 1032.2L1202.4 1032.2L1202.9 1032.2L1203.4 1032.1L1203.9 1032.1L1204.4 1032.1L1204.9 1032.1L1205.4 1032.1L1205.9 1032.1L1206.4 1032.1L1206.9 1032.1L1207.4 1032L1207.9 1032L1208.4 1032L1208.9 1032L1209.4 1032L1209.9 1032L1210.4 1032.1L1210.9 1032.1L1211.4 1032.1L1211.9 1032.1L1212.4 1032L1212.9 1032L1213.4 1031.9L1213.9 1031.9L1214.4 1031.9L1214.9 1031.9L1215.4 1031.8L1215.9 1031.9L1216.4 1031.9L1216.9 1032L1217.4 1032.1L1217.9 1032.1L1218.4 1032.1L1218.9 1032.1L1219.4 1032.1L1219.9 1032.1L1220.4 1032.1L1220.9 1032L1221.4 1031.9L1221.9 1031.9L1222.4 1031.9L1222.9 1032L1223.4 1032.1L1223.9 1032.1L1224.4 1032.2L1224.9 1032.1L1225.4 1032.1L1225.9 1032.1L1226.4 1032.1L1226.9 1032.1L1227.4 1032.1L1227.9 1032L1228.4 1032L1228.9 1032L1229.4 1031.9L1229.9 1031.9L1230.4 1031.9L1230.9 1032L1231.4 1032L1231.9 1032L1232.4 1032.1L1232.9 1032.1L1233.4 1032.1L1233.5 1032.1L1233.9 1032L1234.4 1032L1234.9 1031.9L1235.4 1031.9L1235.9 1031.9L1236.4 1031.9L1236.9 1031.9L1237.4 1031.9L1237.9 1031.9L1238.4 1032L1238.9 1032.1L1239.4 1032.1L1239.9 1032.1L1240.4 1032.1L1240.9 1032L1241.4 1031.9L1241.9 1031.9L1242.4 1031.8L1242.9 1031.8L1243.4 1031.7L1243.9 1031.7L1244.4 1031.6L1244.9 1031.6L1245.4 1031.6L1245.9 1031.7L1246.4 1031.7L1246.9 1031.8L1247.4 1031.9L1247.9 1031.9L1248.4 1031.9L1248.9 1031.9L1249.4 1031.8L1249.9 1031.8L1250.4 1031.8L1250.9 1031.8L1251.4 1031.8L1251.9 1031.8L1252.4 1031.7L1252.9 1031.7L1253.4 1031.7L1253.9 1031.7L1254.4 1031.7L1254.9 1031.6L1255.4 1031.6L1255.9 1031.6L1256.4 1031.6L1256.9 1031.6L1257.4 1031.6L1257.9 1031.6L1258.4 1031.6L1258.9 1031.6L1259.4 1031.6L1259.9 1031.6L1260.4 1031.6L1260.9 1031.6L1261.4 1031.5L1261.9 1031.5L1262.4 1031.5L1262.9 1031.4L1263.4 1031.4L1263.9 1031.3L1264.4 1031.4L1264.9 1031.5L1265.3 1031.6L1265.4 1031.5L1265.9 1031.4L1266.4 1031.4L1266.9 1031.3L1267.4 1031.4L1267.9 1031.4L1268.4 1031.4L1268.9 1031.3L1269.4 1031.3L1269.9 1031.2L1270.4 1031.2L1270.9 1031.1L1271.4 1031L1271.9 1031L1272.4 1030.9L1272.9 1030.9L1273.4 1030.9L1273.9 1030.8L1274.4 1030.7L1274.9 1030.7L1275.4 1030.6L1275.9 1030.7L1276.4 1030.6L1276.9 1030.6L1277.4 1030.6L1277.5 1030.6L1277.9 1030.5L1278.4 1030.4L1278.7 1030.4L1278.9 1030.3L1279.4 1030.1L1279.9 1030L1280 1030L1280.4 1030.1L1280.9 1030.1L1281.4 1030.1L1281.9 1030L1282.4 1029.8L1282.9 1029.7L1283.4 1029.7L1283.9 1029.6L1284.4 1029.6L1284.9 1029.6L1285.4 1029.6L1285.9 1029.6L1286.4 1029.7L1286.9 1029.6L1287.2 1029.5L1287.4 1029.5L1287.9 1029.4L1288.4 1029.2L1288.9 1029.1L1289.4 1029L1289.9 1029L1290.4 1029L1290.9 1029L1291.4 1029L1291.9 1028.9L1292.4 1028.8L1292.9 1028.7L1293.4 1028.6L1293.9 1028.6L1294.4 1028.5L1294.5 1028.5L1294.9 1028.5L1295.4 1028.5L1295.9 1028.4L1296.4 1028.3L1296.9 1028.3L1297.4 1028.2L1297.9 1028.2L1298.4 1028.2L1298.9 1028.3L1299.4 1028.3L1299.9 1028.4L1300.4 1028.4L1300.9 1028.5L1301.4 1028.5L1301.8 1028.5L1301.9 1028.4L1302.4 1027.9L1302.9 1027.5L1303.4 1027.2L1303.9 1026.8L1304.4 1026.5L1304.7 1026.3L1304.9 1026.4L1305.4 1026.5L1305.9 1026.5L1306.4 1026.4L1306.9 1026.3L1307.4 1026.1L1307.9 1025.9L1308.4 1025.7L1308.9 1025.6L1309 1025.6L1309.4 1025.7L1309.9 1025.8L1310.4 1026.1L1310.9 1026.2L1311.2 1026.3L1311.4 1026.1L1311.9 1025.5L1312.4 1024.9L1312.9 1024.5L1313.4 1024L1313.9 1023.7L1314.4 1023.4L1314.9 1023.1L1315.4 1022.8L1315.5 1022.7L1315.9 1023.2L1316.4 1023.8L1316.9 1024.5L1317.4 1025.3L1317.9 1026.2L1318 1026.3L1318.4 1026.4L1318.9 1026.4L1319.4 1026.5L1319.9 1026.7L1320.4 1027L1320.6 1027.1L1320.9 1026.9L1321.4 1026.8L1321.9 1026.6L1322.4 1026.6L1322.9 1026.6L1323.4 1026.7L1323.9 1026.6L1324.4 1026.6L1324.9 1026.5L1325.4 1026.4L1325.9 1026.4L1326.4 1026.3L1326.4 1026.3L1326.9 1026.2L1327.4 1026.1L1327.9 1025.9L1328.4 1025.6L1328.9 1025.2L1329.3 1024.9L1329.4 1024.9L1329.9 1025L1330.4 1025.1L1330.9 1025.1L1331.4 1025.1L1331.9 1025.1L1332.4 1025.2L1332.9 1025.3L1333.4 1025.4L1333.9 1025.4L1334.4 1025.5L1334.9 1025.4L1335.4 1025.4L1335.9 1025.3L1336.4 1025.3L1336.9 1025.3L1337.4 1025.3L1337.9 1025.2L1338 1025.2L1338.4 1025.2L1338.9 1025.3L1339.4 1025.3L1339.9 1025.2L1340.4 1025.2L1340.9 1025.3L1341.4 1025.3L1341.9 1025.4L1342.4 1025.5L1342.9 1025.5L1343.4 1025.5L1343.9 1025.5L1344.4 1025.5L1344.9 1025.6L1345.3 1025.6L1345.4 1025.6L1345.9 1025.8L1346.4 1025.9L1346.9 1026.1L1347.4 1026.3L1347.9 1026.5L1348.2 1026.6L1348.4 1026.6L1348.9 1026.7L1349.4 1026.7L1349.9 1026.7L1350.4 1026.7L1350.9 1026.6L1351.4 1026.5L1351.9 1026.5L1352.4 1026.4L1352.9 1026.3L1353.4 1026.3L1353.9 1026.3L1354.4 1026.4L1354.9 1026.4L1355.4 1026.4L1355.9 1026.4L1356.4 1026.4L1356.9 1026.4L1357.4 1026.3L1357.9 1026.2L1358.3 1026L1358.4 1025.9L1358.9 1025.4L1359.4 1024.9L1359.9 1024.4L1360.1 1024.2L1360.4 1023.3L1360.9 1022.2L1361.4 1021.1L1361.9 1020.3L1361.9 1020.2L1362.4 1020.9L1362.9 1021.7L1363.4 1022.5L1363.9 1023.3L1364.4 1024.1L1364.4 1024.2L1364.9 1024.3L1365.4 1024.4L1365.9 1024.5L1366.4 1024.5L1366.9 1024.6L1367 1024.6L1367.4 1024.5L1367.9 1024.4L1368.4 1024.3L1368.9 1024.1L1369.4 1023.9L1369.9 1023.8L1370.4 1023.7L1370.9 1023.7L1371.4 1023.7L1371.9 1023.6L1372.4 1023.6L1372.8 1023.4L1372.9 1023.4L1373.4 1023.6L1373.9 1023.7L1374.4 1023.7L1374.9 1023.8L1375.4 1023.8L1375.9 1023.7L1376.4 1023.7L1376.9 1023.6L1377.4 1023.6L1377.9 1023.6L1378.4 1023.7L1378.9 1023.8L1379.4 1024L1379.9 1024.1L1380.4 1024.3L1380.9 1024.3L1381.4 1024.3L1381.5 1024.3L1381.9 1024.2L1382.4 1024L1382.9 1023.9L1383.4 1023.8L1383.9 1023.7L1384.4 1023.6L1384.9 1023.6L1385.4 1023.5L1385.9 1023.5L1386.4 1023.4L1386.9 1023.2L1387.4 1023.1L1387.9 1023L1388.4 1022.8L1388.8 1022.7L1388.9 1022.7L1389.4 1022.8L1389.9 1023L1390.4 1023.1L1390.9 1023.2L1391.4 1023.4L1391.9 1023.6L1392.4 1023.8L1392.9 1023.9L1393.4 1024L1393.9 1024.1L1394.4 1024.1L1394.6 1024.2L1394.9 1023.9L1395.4 1023.4L1395.9 1023L1396.4 1022.5L1396.9 1022.1L1397.4 1021.7L1397.9 1021.4L1398.4 1021.2L1398.9 1021L1398.9 1021L1399.4 1021.5L1399.9 1021.9L1400.4 1022.4L1400.9 1022.9L1401.1 1023.1L1401.4 1023L1401.9 1022.7L1402.4 1022.4L1402.9 1022L1403.3 1021.7L1403.4 1021.7L1403.9 1022L1404.4 1022.2L1404.9 1022.5L1405.4 1022.7L1405.5 1022.7L1405.9 1022.3L1406.4 1021.9L1406.9 1021.4L1407.4 1020.8L1407.6 1020.5L1407.9 1020.7L1408.4 1021L1408.9 1021.2L1409.4 1021.5L1409.9 1021.8L1410.4 1022.2L1410.5 1022.3L1410.9 1021.9L1411.4 1021.4L1411.9 1021.1L1412.4 1021L1412.9 1020.8L1413.4 1020.5L1413.4 1020.5L1413.9 1018.3L1414.4 1015.9L1414.9 1013.6L1415.4 1011.3L1415.6 1010.4L1415.9 1009.4L1416.4 1007.8L1416.9 1005.9L1417.4 1003.9L1417.8 1002.4L1417.9 1003.3L1418.4 1006.9L1418.9 1010.4L1419.4 1013.9L1419.9 1017.3L1420 1017.6L1420.4 1011.7L1420.9 1005.3L1421.4 998.9L1421.9 992.8L1422.1 990.1L1422.4 993L1422.9 998.3L1423.4 1003.4L1423.9 1007.8L1424.4 1012.1L1424.9 1016.5L1425 1017.7L1425.4 1014.1L1425.9 1009.6L1426.4 1005.1L1426.9 1000.7L1427.2 998L1427.4 999.1L1427.9 1001.9L1428.4 1004.7L1428.9 1007.6L1429.4 1010.4L1429.4 1010.3L1429.9 1007.8L1430.4 1005.1L1430.9 1002.4L1431.4 999.7L1431.6 998.8L1431.9 997.4L1432.4 995.2L1432.9 992.9L1433.4 990.3L1433.4 990.1L1433.9 988.8L1434.4 987.2L1434.9 985.8L1435.2 985L1435.4 985.9L1435.9 988L1436.4 989.8L1436.9 991.4L1436.9 991.5L1437.4 997L1437.9 1002.5L1438.4 1007.8L1438.8 1011.8L1438.9 1011L1439.4 1006.6L1439.9 1002.3L1440.4 998.2L1440.9 995L1441.4 991.9L1441.7 990.1L1441.9 991L1442.4 993.7L1442.9 996.6L1443.4 1000.1L1443.9 1003.1L1443.9 1002.9L1444.4 993.6L1444.9 984.6L1445.3 977L1445.4 976.1L1445.9 969.1L1446.4 962.3L1446.8 956.7L1446.9 958.3L1447.4 965.8L1447.9 972.6L1448.2 977L1448.4 980.7L1448.9 992.9L1449.4 1005.4L1449.7 1012.6L1449.9 1007.9L1450.4 996.6L1450.9 985.2L1451.4 974.1L1451.9 964.1L1451.9 964.7L1452.4 972.8L1452.9 981.1L1453 983.2L1453.4 982.3L1453.9 981.5L1454 981.4L1454.4 983.5L1454.9 987.2L1455.4 991.4L1455.9 996.4L1456.2 999.5L1456.4 998L1456.9 994L1457.4 989.7L1457.9 985.3L1458.1 983.5L1458.4 987.9L1458.9 994.6L1459.4 1001L1459.5 1002.7L1459.9 1006.4L1460.4 1011.7L1460.6 1013.3L1460.9 1014L1461.4 1014.4" stroke="#ff7f0e" stroke-width="2.3" stroke-linejoin="round" stroke-linecap="butt" fill="none"/>
</g>
<path d="M115.5 1054.5v4.9M284.5 1054.5v4.9M452.5 1054.5v4.9M620.5 1054.5v4.9M789.5 1054.5v4.9M957.5 1054.5v4.9M1126.5 1054.5v4.9M1294.5 1054.5v4.9M115.5 1034.5h-4.9M115.5 931.5h-4.9M115.5 828.5h-4.9M115.5 725.5h-4.9M115.5 623.5h-4.9" stroke="#000" stroke-width="1.1" fill="none"/>
<rect x="115.5" y="575.5" width="1347.0" height="479.0" fill="none" stroke="#000" stroke-width="1.1"/>
<text transform="translate(116.24 28.39) scale(0.9762 0.8582)" font-size="30.0">(</text>
<text transform="translate(126.92 29.92) scale(0.9748 0.9212)" font-size="30.0">a</text>
<text transform="translate(147.10 28.39) scale(0.9643 0.8582)" font-size="30.0">)</text>
<text transform="translate(643.72 29.90) scale(1.1300 1)" font-size="28.86">2.5 MHz N0000003</text>
<text transform="translate(116.50 565.29) scale(1.0000 0.8582)" font-size="30.0">(</text>
<text transform="translate(126.97 567.10) scale(1.0133 0.9406)" font-size="30.0">b</text>
<text transform="translate(148.20 565.29) scale(0.9643 0.8582)" font-size="30.0">)</text>
<text transform="translate(91.53 124.10) scale(1.1111 1)" font-size="23.14">2</text>
<text transform="translate(89.71 217.10) scale(1.2871 1)" font-size="23.14">0</text>
<text transform="translate(72.88 311.10) scale(1.2066 1)" font-size="23.14">−2</text>
<text transform="translate(72.91 404.10) scale(1.1785 1)" font-size="23.14">−4</text>
<text transform="translate(72.85 498.10) scale(1.2474 1)" font-size="23.14">−6</text>
<text transform="translate(65.78 1042.20) scale(1.2105 1)" font-size="23.14">0.0</text>
<text transform="translate(65.78 939.20) scale(1.2105 1)" font-size="23.14">0.2</text>
<text transform="translate(65.79 836.20) scale(1.1939 1)" font-size="23.14">0.4</text>
<text transform="translate(65.78 733.20) scale(1.2105 1)" font-size="23.14">0.6</text>
<text transform="translate(65.79 631.20) scale(1.2014 1)" font-size="23.14">0.8</text>
<text transform="translate(60.60 278.60) rotate(-90) translate(-113.88 0) scale(1.1633 1)" font-size="23.14">Doppler Shift [Hz]</text>
<text transform="translate(56.10 815.50) rotate(-90) translate(-104.64 0) scale(1.1638 1)" font-size="23.14">Peak Voltage [V]</text>
<text transform="translate(764.37 1157.80) scale(1.0295 1)" font-size="23.14">UTC</text>
<text transform="translate(112.90 1077.80) rotate(-30) translate(-110.19 0) scale(1.2177 1)" font-size="23.14">12-05 00</text>
<text transform="translate(281.90 1077.80) rotate(-30) translate(-110.19 0) scale(1.2177 1)" font-size="23.14">12-05 03</text>
<text transform="translate(449.90 1077.80) rotate(-30) translate(-110.19 0) scale(1.2177 1)" font-size="23.14">12-05 06</text>
<text transform="translate(617.90 1077.80) rotate(-30) translate(-110.19 0) scale(1.2177 1)" font-size="23.14">12-05 09</text>
<text transform="translate(786.90 1077.80) rotate(-30) translate(-110.19 0) scale(1.2177 1)" font-size="23.14">12-05 12</text>
<text transform="translate(954.90 1077.80) rotate(-30) translate(-110.19 0) scale(1.2146 1)" font-size="23.14">12-05 15</text>
<text transform="translate(1123.90 1077.80) rotate(-30) translate(-110.19 0) scale(1.2146 1)" font-size="23.14">12-05 18</text>
<text transform="translate(1291.90 1077.80) rotate(-30) translate(-110.19 0) scale(1.2146 1)" font-size="23.14">12-05 21</text>
<rect x="1047.6" y="48.7" width="406" height="79.5" rx="2.8" fill="#fff" fill-opacity="0.8" stroke="#ccc" stroke-opacity="0.8" stroke-width="1.1"/>
<circle cx="1073.4" cy="63.5" r="2.65" fill="#1f77b4"/>
<path d="M1053.2 101.8H1092" stroke="#ff7f0e" stroke-width="2.1"/>
<text transform="translate(1106.07 69.00) scale(1.2574 1)" font-size="17.43">Raw Data</text>
<text transform="translate(1106.03 95.50) scale(1.2869 1)" font-size="17.43">Butterworth Filtered Data</text>
<text transform="translate(1106.47 116.70) scale(1.2976 1)" font-size="17.43">(N=6, Tc=3.3333 min, Type: low)</text>
<rect x="1047.6" y="585.7" width="406" height="79.5" rx="2.8" fill="#fff" fill-opacity="0.8" stroke="#ccc" stroke-opacity="0.8" stroke-width="1.1"/>
<circle cx="1073.4" cy="600.5" r="2.65" fill="#1f77b4"/>
<path d="M1053.2 638.8H1092" stroke="#ff7f0e" stroke-width="2.1"/>
<text transform="translate(1106.07 606.00) scale(1.2574 1)" font-size="17.43">Raw Data</text>
<text transform="translate(1106.03 632.50) scale(1.2869 1)" font-size="17.43">Butterworth Filtered Data</text>
<text transform="translate(1106.47 653.70) scale(1.2976 1)" font-size="17.43">(N=6, Tc=3.3333 min, Type: low)</text>
</svg></div></body></html>
